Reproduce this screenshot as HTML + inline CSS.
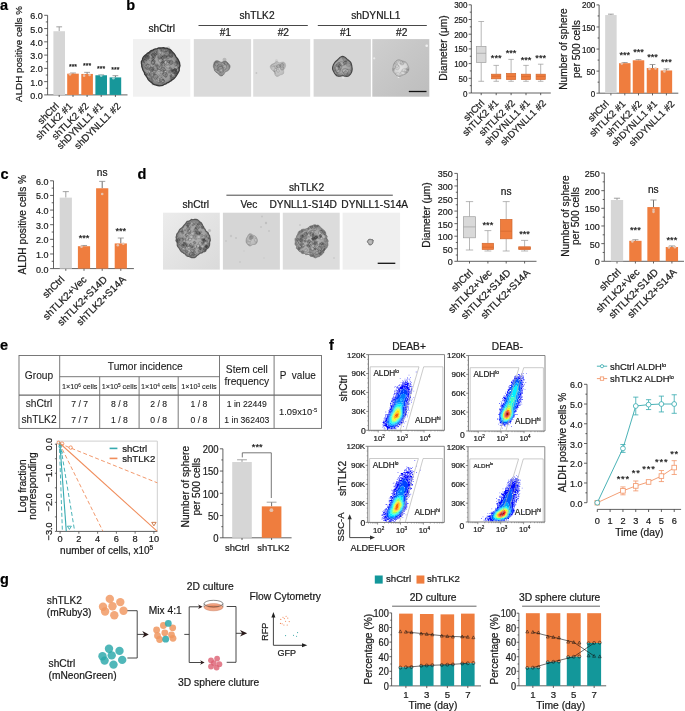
<!DOCTYPE html>
<html><head><meta charset="utf-8"><style>
html,body{margin:0;padding:0;background:#fff;}
svg{display:block;font-family:"Liberation Sans",sans-serif;filter:blur(0.3px);}
text{stroke:#1a1a1a;stroke-width:0.22px;paint-order:stroke;stroke-linejoin:round;}
.ns text{stroke-width:0.1px;}
</style></head><body>
<svg width="685" height="711" viewBox="0 0 685 711">
<defs>
<clipPath id="c0"><path d="M176.8 75.0 L175.9 76.3 L174.9 77.5 L173.8 78.7 L172.5 79.6 L171.3 80.6 L169.9 81.3 L168.7 82.3 L167.2 82.8 L165.9 84.0 L164.3 84.3 L162.8 85.3 L161.2 85.6 L159.4 85.9 L157.8 85.5 L156.1 85.1 L154.4 84.7 L152.9 83.9 L151.7 82.6 L150.4 81.7 L149.1 80.6 L148.1 79.5 L147.4 77.9 L146.5 76.6 L145.7 75.3 L144.7 74.1 L144.4 72.6 L143.6 71.2 L142.8 69.8 L142.4 68.2 L141.8 66.6 L141.7 65.0 L141.4 63.3 L141.4 61.5 L142.3 60.0 L142.7 58.3 L143.5 56.8 L144.8 55.6 L146.2 54.6 L147.3 53.4 L148.8 52.7 L150.0 51.6 L151.2 50.5 L152.7 50.1 L154.1 49.4 L155.6 48.9 L157.2 48.6 L158.7 47.9 L160.3 48.0 L161.9 47.9 L163.5 47.7 L165.1 48.1 L166.8 48.1 L168.3 48.9 L169.9 49.4 L171.2 50.4 L172.2 51.8 L173.4 52.9 L174.5 54.1 L175.3 55.5 L176.0 56.9 L177.1 58.1 L178.0 59.4 L178.7 60.9 L179.5 62.4 L179.7 64.1 L180.0 65.7 L179.5 67.4 L179.2 69.0 L179.2 70.7 L178.4 72.2 L177.6 73.6Z"/></clipPath>
<radialGradient id="r1"><stop offset="0" stop-color="#aaaaaa"/><stop offset="0.75" stop-color="#9a9a9a"/><stop offset="1" stop-color="#6e6e6e"/></radialGradient>
<clipPath id="c2"><path d="M229.9 67.5 L229.7 68.1 L229.4 68.7 L229.1 69.3 L228.8 69.8 L228.4 70.3 L227.9 70.7 L227.3 71.0 L226.7 71.3 L226.1 71.5 L225.6 71.7 L225.1 72.1 L224.8 72.5 L224.4 73.1 L224.1 73.9 L223.6 74.6 L222.9 75.3 L222.2 75.7 L221.3 75.9 L220.4 75.8 L219.6 75.3 L219.0 74.8 L218.4 74.2 L217.9 73.6 L217.4 73.1 L216.9 72.7 L216.4 72.4 L215.9 72.0 L215.4 71.6 L215.0 71.2 L214.7 70.7 L214.5 70.2 L214.3 69.6 L214.1 69.1 L214.0 68.6 L213.8 68.1 L213.6 67.5 L213.4 66.9 L213.4 66.3 L213.4 65.7 L213.5 65.1 L213.6 64.5 L213.8 63.9 L214.0 63.2 L214.2 62.5 L214.6 61.9 L215.1 61.3 L215.8 60.9 L216.6 60.7 L217.6 60.8 L218.5 61.1 L219.4 61.5 L220.1 61.9 L220.7 62.2 L221.3 62.3 L221.9 62.2 L222.5 61.9 L223.2 61.6 L224.0 61.4 L224.8 61.3 L225.6 61.3 L226.3 61.6 L226.9 61.9 L227.4 62.4 L227.9 62.9 L228.3 63.4 L228.8 63.9 L229.2 64.4 L229.6 65.0 L229.9 65.6 L230.0 66.2 L230.0 66.9Z"/></clipPath>
<radialGradient id="r3"><stop offset="0" stop-color="#a8a8a8"/><stop offset="0.75" stop-color="#999"/><stop offset="1" stop-color="#7a7a7a"/></radialGradient>
<clipPath id="c4"><path d="M284.7 68.3 L284.4 68.8 L284.0 69.3 L283.8 69.8 L283.7 70.3 L283.7 70.8 L283.7 71.4 L283.8 72.1 L283.7 72.8 L283.5 73.5 L283.1 74.0 L282.5 74.3 L281.9 74.6 L281.3 74.7 L280.7 74.8 L280.1 75.1 L279.5 75.4 L279.0 75.8 L278.3 76.2 L277.6 76.4 L276.9 76.5 L276.2 76.2 L275.6 75.7 L275.2 75.1 L274.8 74.3 L274.6 73.5 L274.5 72.9 L274.3 72.3 L274.0 71.9 L273.7 71.5 L273.3 71.2 L272.9 70.8 L272.4 70.4 L272.0 70.0 L271.5 69.5 L271.1 68.9 L270.7 68.3 L270.4 67.6 L270.2 66.9 L270.3 66.1 L270.5 65.5 L271.0 64.9 L271.6 64.4 L272.3 64.1 L273.0 63.8 L273.6 63.6 L274.1 63.3 L274.5 62.9 L274.9 62.4 L275.4 62.0 L275.9 61.7 L276.5 61.5 L277.1 61.6 L277.7 61.8 L278.3 62.2 L278.8 62.5 L279.3 62.7 L279.8 62.7 L280.4 62.6 L281.1 62.4 L281.8 62.2 L282.7 62.1 L283.5 62.1 L284.2 62.4 L284.7 62.9 L285.2 63.5 L285.4 64.2 L285.5 64.9 L285.6 65.7 L285.5 66.4 L285.3 67.1 L285.0 67.7Z"/></clipPath>
<radialGradient id="r5"><stop offset="0" stop-color="#cfcfcf"/><stop offset="0.75" stop-color="#c0c0c0"/><stop offset="1" stop-color="#b0b0b0"/></radialGradient>
<clipPath id="c6"><path d="M352.0 67.3 L352.1 68.1 L352.2 69.0 L352.1 69.9 L352.0 70.7 L351.8 71.6 L351.4 72.4 L351.0 73.2 L350.6 74.0 L350.0 74.7 L349.3 75.3 L348.6 75.9 L347.7 76.2 L346.8 76.4 L345.9 76.3 L345.0 76.2 L344.1 76.0 L343.3 75.8 L342.6 75.7 L341.9 75.8 L341.1 76.0 L340.2 76.1 L339.3 76.3 L338.4 76.3 L337.5 76.1 L336.7 75.7 L336.0 75.1 L335.4 74.5 L334.9 73.8 L334.4 73.0 L334.0 72.3 L333.6 71.5 L333.2 70.7 L332.8 69.9 L332.6 69.1 L332.5 68.2 L332.6 67.3 L332.8 66.4 L333.1 65.6 L333.4 64.8 L333.8 64.1 L334.2 63.4 L334.6 62.7 L335.1 62.1 L335.7 61.5 L336.3 61.0 L336.9 60.5 L337.5 60.0 L338.0 59.4 L338.6 58.8 L339.3 58.1 L340.0 57.4 L340.8 56.9 L341.7 56.5 L342.6 56.3 L343.5 56.5 L344.4 56.9 L345.2 57.4 L346.0 58.1 L346.6 58.7 L347.2 59.3 L347.8 59.8 L348.5 60.3 L349.1 60.8 L349.8 61.3 L350.3 61.9 L350.8 62.6 L351.1 63.3 L351.4 64.1 L351.6 64.9 L351.7 65.7 L351.9 66.5Z"/></clipPath>
<radialGradient id="r7"><stop offset="0" stop-color="#b4b4b4"/><stop offset="0.75" stop-color="#a0a0a0"/><stop offset="1" stop-color="#7a7a7a"/></radialGradient>
<linearGradient id="g8" x1="0" y1="0" x2="1" y2="1"><stop offset="0" stop-color="#cfcfcf"/><stop offset="1" stop-color="#bdbdbd"/></linearGradient>
<clipPath id="c9"><path d="M408.8 68.1 L408.9 68.8 L408.8 69.6 L408.7 70.3 L408.4 71.0 L408.0 71.6 L407.6 72.2 L407.1 72.7 L406.6 73.2 L406.0 73.6 L405.5 74.0 L404.8 74.3 L404.2 74.6 L403.6 74.8 L403.0 75.0 L402.4 75.3 L401.8 75.6 L401.2 75.9 L400.5 76.2 L399.8 76.4 L399.0 76.4 L398.3 76.4 L397.6 76.1 L396.9 75.8 L396.3 75.3 L395.8 74.8 L395.3 74.3 L394.9 73.7 L394.4 73.2 L393.9 72.7 L393.5 72.1 L393.1 71.5 L392.9 70.9 L392.7 70.2 L392.7 69.5 L392.7 68.8 L392.8 68.1 L393.0 67.4 L393.1 66.8 L393.2 66.1 L393.3 65.5 L393.5 64.8 L393.7 64.2 L394.0 63.6 L394.3 62.9 L394.7 62.3 L395.2 61.7 L395.7 61.2 L396.2 60.7 L396.9 60.3 L397.5 60.0 L398.3 59.8 L399.0 59.8 L399.8 59.9 L400.5 60.2 L401.2 60.4 L401.8 60.7 L402.4 60.9 L403.0 61.1 L403.7 61.3 L404.3 61.4 L405.0 61.7 L405.6 62.0 L406.2 62.4 L406.6 62.9 L407.0 63.5 L407.4 64.1 L407.6 64.8 L407.9 65.4 L408.2 66.0 L408.5 66.7 L408.7 67.4Z"/></clipPath>
<radialGradient id="r10"><stop offset="0" stop-color="#e2e2e2"/><stop offset="0.75" stop-color="#d4d4d4"/><stop offset="1" stop-color="#b4b4b4"/></radialGradient>
<linearGradient id="g11" x1="0" y1="0" x2="1" y2="1"><stop offset="0" stop-color="#ececec"/><stop offset="1" stop-color="#dadada"/></linearGradient>
<clipPath id="c12"><path d="M210.2 238.9 L210.3 240.6 L209.6 242.2 L209.7 243.9 L209.5 245.6 L208.8 247.1 L207.8 248.4 L206.3 249.3 L205.8 250.9 L204.6 251.8 L202.9 252.0 L201.9 253.0 L200.4 253.1 L199.3 253.9 L198.2 254.9 L197.0 255.5 L195.9 256.9 L194.5 257.7 L193.0 257.5 L191.5 257.6 L190.1 257.1 L188.8 256.5 L187.3 256.3 L186.1 255.3 L185.2 253.9 L183.9 253.4 L182.8 252.4 L181.4 251.8 L180.5 250.6 L179.6 249.3 L178.9 248.0 L177.8 246.8 L177.2 245.3 L177.2 243.6 L176.9 242.1 L175.9 240.6 L176.4 238.9 L176.0 237.2 L176.5 235.7 L176.8 234.1 L177.8 232.8 L178.6 231.4 L179.3 230.1 L180.3 229.0 L181.4 228.1 L182.5 227.2 L183.3 226.0 L184.3 225.0 L185.3 224.0 L186.2 222.6 L187.2 221.2 L188.7 221.1 L190.1 220.5 L191.5 219.3 L193.0 219.7 L194.5 219.2 L196.1 219.4 L197.6 219.7 L198.9 220.9 L200.1 222.0 L201.4 222.8 L202.2 224.2 L202.9 225.7 L203.7 227.0 L204.2 228.4 L205.2 229.4 L205.6 230.8 L206.9 231.7 L208.2 232.8 L208.6 234.3 L209.6 235.6 L209.9 237.3Z"/></clipPath>
<radialGradient id="r13"><stop offset="0" stop-color="#b2b2b2"/><stop offset="0.75" stop-color="#a2a2a2"/><stop offset="1" stop-color="#727272"/></radialGradient>
<clipPath id="c14"><path d="M257.3 240.0 L257.4 240.5 L257.3 241.0 L257.2 241.5 L257.1 242.0 L256.9 242.5 L256.7 243.0 L256.4 243.4 L256.0 243.8 L255.6 244.1 L255.1 244.3 L254.6 244.4 L254.1 244.5 L253.6 244.5 L253.1 244.5 L252.7 244.6 L252.3 244.8 L251.9 245.0 L251.5 245.3 L251.0 245.6 L250.5 245.8 L249.9 245.9 L249.4 245.8 L248.9 245.5 L248.5 245.2 L248.1 244.9 L247.7 244.5 L247.4 244.1 L247.1 243.7 L246.8 243.3 L246.5 242.9 L246.3 242.4 L246.2 241.9 L246.1 241.4 L246.1 241.0 L246.1 240.5 L246.1 240.0 L246.2 239.5 L246.3 239.1 L246.4 238.6 L246.5 238.2 L246.7 237.8 L247.0 237.4 L247.2 237.0 L247.5 236.6 L247.7 236.2 L247.9 235.7 L248.2 235.3 L248.5 234.8 L248.9 234.3 L249.3 234.0 L249.8 233.8 L250.4 233.8 L251.0 233.9 L251.5 234.1 L252.0 234.5 L252.4 234.8 L252.8 235.0 L253.2 235.2 L253.6 235.4 L254.1 235.5 L254.5 235.7 L254.9 235.9 L255.3 236.2 L255.7 236.5 L256.0 236.9 L256.2 237.3 L256.5 237.7 L256.7 238.1 L256.9 238.5 L257.1 239.0 L257.2 239.5Z"/></clipPath>
<radialGradient id="r15"><stop offset="0" stop-color="#c8c8c8"/><stop offset="0.75" stop-color="#bababa"/><stop offset="1" stop-color="#a0a0a0"/></radialGradient>
<clipPath id="c16"><path d="M328.2 241.3 L327.7 242.6 L327.9 244.0 L327.9 245.4 L327.4 246.6 L326.9 247.9 L325.5 248.7 L325.0 250.0 L324.0 250.9 L323.9 252.6 L322.7 253.4 L321.9 254.8 L320.6 255.5 L319.5 256.5 L317.9 256.8 L316.6 257.5 L315.1 258.0 L313.4 256.9 L312.0 256.4 L310.6 256.4 L309.5 254.8 L308.3 254.4 L306.9 254.6 L305.5 254.6 L304.6 253.4 L302.9 253.7 L301.5 253.2 L300.9 251.9 L299.3 251.5 L298.4 250.4 L297.5 249.2 L296.3 248.3 L296.6 246.6 L295.8 245.4 L294.9 244.2 L295.2 242.7 L295.3 241.3 L295.0 239.9 L295.2 238.5 L296.4 237.3 L296.6 236.0 L297.4 234.8 L297.9 233.5 L298.4 232.2 L299.2 231.1 L300.9 230.7 L301.6 229.5 L303.1 229.2 L304.6 229.2 L305.9 228.9 L307.1 228.4 L308.2 228.0 L309.3 226.5 L310.6 226.0 L312.0 225.8 L313.5 224.9 L315.1 224.7 L316.5 225.3 L318.3 225.0 L319.4 226.1 L320.5 227.3 L321.6 228.3 L322.7 229.2 L323.8 230.1 L324.8 231.1 L325.5 232.3 L325.8 233.7 L325.9 235.1 L327.2 236.1 L326.9 237.5 L327.0 238.8 L327.9 240.0Z"/></clipPath>
<radialGradient id="r17"><stop offset="0" stop-color="#b6b6b6"/><stop offset="0.75" stop-color="#a6a6a6"/><stop offset="1" stop-color="#808080"/></radialGradient>
<clipPath id="c18"><path d="M372.9 241.9 L372.9 242.1 L372.9 242.3 L372.9 242.6 L372.9 242.8 L372.9 243.0 L372.7 243.3 L372.6 243.4 L372.4 243.6 L372.3 243.8 L372.1 243.9 L371.9 244.1 L371.8 244.3 L371.6 244.4 L371.4 244.6 L371.2 244.7 L370.9 244.8 L370.7 244.9 L370.4 244.9 L370.1 245.0 L369.9 244.9 L369.6 244.9 L369.3 244.8 L369.1 244.6 L368.9 244.4 L368.8 244.2 L368.7 243.9 L368.7 243.6 L368.6 243.4 L368.5 243.2 L368.4 243.1 L368.2 242.9 L368.0 242.8 L367.8 242.6 L367.6 242.4 L367.4 242.2 L367.3 241.9 L367.4 241.6 L367.4 241.4 L367.5 241.1 L367.7 240.9 L367.8 240.7 L367.9 240.5 L368.0 240.2 L368.1 240.0 L368.3 239.8 L368.5 239.6 L368.7 239.5 L369.0 239.4 L369.2 239.4 L369.5 239.3 L369.7 239.3 L369.9 239.3 L370.2 239.3 L370.4 239.3 L370.6 239.4 L370.8 239.4 L371.0 239.5 L371.3 239.5 L371.5 239.6 L371.7 239.6 L372.0 239.6 L372.3 239.6 L372.6 239.7 L372.9 239.8 L373.1 240.0 L373.3 240.3 L373.3 240.5 L373.3 240.9 L373.2 241.2 L373.1 241.4 L373.0 241.7Z"/></clipPath>
<radialGradient id="r19"><stop offset="0" stop-color="#c0c0c0"/><stop offset="0.75" stop-color="#b0b0b0"/><stop offset="1" stop-color="#909090"/></radialGradient>
<filter id="tex1" x="-10%" y="-10%" width="120%" height="120%">
<feTurbulence type="fractalNoise" baseFrequency="0.45" numOctaves="2" seed="7" result="n"/>
<feColorMatrix in="n" type="matrix" values="0 0 0 0 0.15  0 0 0 0 0.15  0 0 0 0 0.15  0 0 0 -2.2 1.35" result="m"/>
<feComposite in="m" in2="SourceGraphic" operator="in" result="c"/>
<feMerge><feMergeNode in="SourceGraphic"/><feMergeNode in="c"/></feMerge>
</filter>
<filter id="tex2" x="-10%" y="-10%" width="120%" height="120%">
<feTurbulence type="fractalNoise" baseFrequency="0.6" numOctaves="2" seed="3" result="n"/>
<feColorMatrix in="n" type="matrix" values="0 0 0 0 0.4  0 0 0 0 0.4  0 0 0 0 0.4  0 0 0 -2.0 1.2" result="m"/>
<feComposite in="m" in2="SourceGraphic" operator="in" result="c"/>
<feMerge><feMergeNode in="SourceGraphic"/><feMergeNode in="c"/></feMerge>
</filter>
</defs>
<rect width="685" height="711" fill="#fff"/>
<text x="0" y="9.8" font-size="14.5" font-weight="bold" fill="#000">a</text>
<line x1="47.6" y1="94.9" x2="47.6" y2="15.3" stroke="#3a3a3a" stroke-width="0.8"/>
<line x1="44.2" y1="94.9" x2="47.6" y2="94.9" stroke="#3a3a3a" stroke-width="0.8"/>
<text x="42.7" y="98.92" font-size="9.81" text-anchor="end" fill="#1a1a1a" textLength="12.51" lengthAdjust="spacingAndGlyphs">0.0</text>
<line x1="45.8" y1="88.27" x2="47.6" y2="88.27" stroke="#3a3a3a" stroke-width="0.8"/>
<line x1="44.2" y1="81.63" x2="47.6" y2="81.63" stroke="#3a3a3a" stroke-width="0.8"/>
<text x="42.7" y="85.66" font-size="9.81" text-anchor="end" fill="#1a1a1a" textLength="12.51" lengthAdjust="spacingAndGlyphs">1.0</text>
<line x1="45.8" y1="75" x2="47.6" y2="75" stroke="#3a3a3a" stroke-width="0.8"/>
<line x1="44.2" y1="68.37" x2="47.6" y2="68.37" stroke="#3a3a3a" stroke-width="0.8"/>
<text x="42.7" y="72.39" font-size="9.81" text-anchor="end" fill="#1a1a1a" textLength="12.51" lengthAdjust="spacingAndGlyphs">2.0</text>
<line x1="45.8" y1="61.73" x2="47.6" y2="61.73" stroke="#3a3a3a" stroke-width="0.8"/>
<line x1="44.2" y1="55.1" x2="47.6" y2="55.1" stroke="#3a3a3a" stroke-width="0.8"/>
<text x="42.7" y="59.12" font-size="9.81" text-anchor="end" fill="#1a1a1a" textLength="12.51" lengthAdjust="spacingAndGlyphs">3.0</text>
<line x1="45.8" y1="48.47" x2="47.6" y2="48.47" stroke="#3a3a3a" stroke-width="0.8"/>
<line x1="44.2" y1="41.83" x2="47.6" y2="41.83" stroke="#3a3a3a" stroke-width="0.8"/>
<text x="42.7" y="45.86" font-size="9.81" text-anchor="end" fill="#1a1a1a" textLength="12.51" lengthAdjust="spacingAndGlyphs">4.0</text>
<line x1="45.8" y1="35.2" x2="47.6" y2="35.2" stroke="#3a3a3a" stroke-width="0.8"/>
<line x1="44.2" y1="28.57" x2="47.6" y2="28.57" stroke="#3a3a3a" stroke-width="0.8"/>
<text x="42.7" y="32.59" font-size="9.81" text-anchor="end" fill="#1a1a1a" textLength="12.51" lengthAdjust="spacingAndGlyphs">5.0</text>
<line x1="45.8" y1="21.93" x2="47.6" y2="21.93" stroke="#3a3a3a" stroke-width="0.8"/>
<line x1="44.2" y1="15.3" x2="47.6" y2="15.3" stroke="#3a3a3a" stroke-width="0.8"/>
<text x="42.7" y="19.32" font-size="9.81" text-anchor="end" fill="#1a1a1a" textLength="12.51" lengthAdjust="spacingAndGlyphs">6.0</text>
<text transform="translate(21.73,54) rotate(-90)" font-size="9.8" text-anchor="middle" fill="#1a1a1a">ALDH positive cells %</text>
<line x1="47.6" y1="94.9" x2="127.5" y2="94.9" stroke="#3a3a3a" stroke-width="0.8"/>
<line x1="59.2" y1="94.9" x2="59.2" y2="97" stroke="#3a3a3a" stroke-width="0.8"/>
<line x1="73" y1="94.9" x2="73" y2="97" stroke="#3a3a3a" stroke-width="0.8"/>
<line x1="87.1" y1="94.9" x2="87.1" y2="97" stroke="#3a3a3a" stroke-width="0.8"/>
<line x1="101.2" y1="94.9" x2="101.2" y2="97" stroke="#3a3a3a" stroke-width="0.8"/>
<line x1="115.4" y1="94.9" x2="115.4" y2="97" stroke="#3a3a3a" stroke-width="0.8"/>
<line x1="59.2" y1="31.22" x2="59.2" y2="26.84" stroke="#8a8a8a" stroke-width="0.8"/>
<line x1="56.3" y1="26.84" x2="62.1" y2="26.84" stroke="#8a8a8a" stroke-width="0.8"/>
<rect x="53.4" y="31.22" width="11.6" height="63.68" fill="#d6d6d6"/>
<line x1="73" y1="73.67" x2="73" y2="73.01" stroke="#4a4a4a" stroke-width="0.8"/>
<line x1="70.1" y1="73.01" x2="75.9" y2="73.01" stroke="#8c8c8c" stroke-width="0.8"/>
<rect x="67.2" y="73.67" width="11.6" height="21.23" fill="#ef7d3e"/>
<circle cx="70" cy="74.34" r="1.3" fill="#e6c2ae"/>
<line x1="87.1" y1="73.94" x2="87.1" y2="72.35" stroke="#4a4a4a" stroke-width="0.8"/>
<line x1="84.2" y1="72.35" x2="90" y2="72.35" stroke="#8c8c8c" stroke-width="0.8"/>
<rect x="81.3" y="73.94" width="11.6" height="20.96" fill="#ef7d3e"/>
<circle cx="84.1" cy="75.66" r="1.3" fill="#e6c2ae"/>
<circle cx="89.6" cy="75" r="1.3" fill="#e6c2ae"/>
<line x1="101.2" y1="75.27" x2="101.2" y2="74.87" stroke="#4a4a4a" stroke-width="0.8"/>
<line x1="98.3" y1="74.87" x2="104.1" y2="74.87" stroke="#8c8c8c" stroke-width="0.8"/>
<rect x="95.4" y="75.27" width="11.6" height="19.63" fill="#17979a"/>
<circle cx="101.2" cy="75.66" r="1.3" fill="#9fcfcf"/>
<line x1="115.4" y1="77.39" x2="115.4" y2="75.66" stroke="#4a4a4a" stroke-width="0.8"/>
<line x1="112.5" y1="75.66" x2="118.3" y2="75.66" stroke="#8c8c8c" stroke-width="0.8"/>
<rect x="109.6" y="77.39" width="11.6" height="17.51" fill="#17979a"/>
<circle cx="113.4" cy="78.32" r="1.3" fill="#9fcfcf"/>
<text x="73" y="69.44" font-size="7" text-anchor="middle" fill="#1a1a1a">***</text>
<text x="87.1" y="67.84" font-size="7" text-anchor="middle" fill="#1a1a1a">***</text>
<text x="101.2" y="70.94" font-size="7" text-anchor="middle" fill="#1a1a1a">***</text>
<text x="115.4" y="72.14" font-size="7" text-anchor="middle" fill="#1a1a1a">***</text>
<text transform="translate(59.6,106.7) rotate(-45)" font-size="9.8" text-anchor="end" fill="#1a1a1a">shCtrl</text>
<text transform="translate(73,106.7) rotate(-45)" font-size="9.8" text-anchor="end" fill="#1a1a1a">shTLK2 #1</text>
<text transform="translate(89.3,106.7) rotate(-45)" font-size="9.8" text-anchor="end" fill="#1a1a1a">shTLK2 #2</text>
<text transform="translate(103.8,106.7) rotate(-45)" font-size="9.8" text-anchor="end" fill="#1a1a1a">shDYNLL1 #1</text>
<text transform="translate(121.3,106.7) rotate(-45)" font-size="9.8" text-anchor="end" fill="#1a1a1a">shDYNLL1 #2</text>
<text x="126.3" y="9.8" font-size="14.5" font-weight="bold" fill="#000">b</text>
<text x="161.7" y="32.3" font-size="10.2" text-anchor="middle" fill="#1a1a1a">shCtrl</text>
<text x="257" y="18.6" font-size="10.2" text-anchor="middle" fill="#1a1a1a">shTLK2</text>
<text x="375.9" y="18.6" font-size="10.2" text-anchor="middle" fill="#1a1a1a">shDYNLL1</text>
<line x1="198.5" y1="25.5" x2="307.8" y2="25.5" stroke="#333" stroke-width="0.9"/>
<line x1="317.8" y1="25.5" x2="426.8" y2="25.5" stroke="#333" stroke-width="0.9"/>
<text x="225.3" y="36.2" font-size="10.2" text-anchor="middle" fill="#1a1a1a">#1</text>
<text x="283.3" y="36.2" font-size="10.2" text-anchor="middle" fill="#1a1a1a">#2</text>
<text x="345.6" y="36.2" font-size="10.2" text-anchor="middle" fill="#1a1a1a">#1</text>
<text x="401.7" y="36.2" font-size="10.2" text-anchor="middle" fill="#1a1a1a">#2</text>
<rect x="133" y="39.1" width="57.3" height="57.6" fill="#f1f1f1"/>
<circle cx="168.5" cy="47.8" r="1.6" fill="#d0d0d0"/>
<circle cx="153" cy="84" r="1.6" fill="#d8d8d8"/>
<path d="M176.8 75.0 L175.9 76.3 L174.9 77.5 L173.8 78.7 L172.5 79.6 L171.3 80.6 L169.9 81.3 L168.7 82.3 L167.2 82.8 L165.9 84.0 L164.3 84.3 L162.8 85.3 L161.2 85.6 L159.4 85.9 L157.8 85.5 L156.1 85.1 L154.4 84.7 L152.9 83.9 L151.7 82.6 L150.4 81.7 L149.1 80.6 L148.1 79.5 L147.4 77.9 L146.5 76.6 L145.7 75.3 L144.7 74.1 L144.4 72.6 L143.6 71.2 L142.8 69.8 L142.4 68.2 L141.8 66.6 L141.7 65.0 L141.4 63.3 L141.4 61.5 L142.3 60.0 L142.7 58.3 L143.5 56.8 L144.8 55.6 L146.2 54.6 L147.3 53.4 L148.8 52.7 L150.0 51.6 L151.2 50.5 L152.7 50.1 L154.1 49.4 L155.6 48.9 L157.2 48.6 L158.7 47.9 L160.3 48.0 L161.9 47.9 L163.5 47.7 L165.1 48.1 L166.8 48.1 L168.3 48.9 L169.9 49.4 L171.2 50.4 L172.2 51.8 L173.4 52.9 L174.5 54.1 L175.3 55.5 L176.0 56.9 L177.1 58.1 L178.0 59.4 L178.7 60.9 L179.5 62.4 L179.7 64.1 L180.0 65.7 L179.5 67.4 L179.2 69.0 L179.2 70.7 L178.4 72.2 L177.6 73.6Z" fill="url(#r1)"/>
<g clip-path="url(#c0)" fill="none">
<ellipse cx="146.72" cy="64.75" rx="1.05" ry="0.7" transform="rotate(137 146.72 64.75)" stroke="#333" stroke-opacity="0.54" stroke-width="0.5" fill="#fff" fill-opacity="0.2"/>
<ellipse cx="159.26" cy="58.22" rx="1.89" ry="1.4" transform="rotate(49 159.26 58.22)" stroke="#333" stroke-opacity="0.26" stroke-width="0.5" fill="#000" fill-opacity="0.13"/>
<ellipse cx="146.42" cy="58.2" rx="2.56" ry="2.17" transform="rotate(138 146.42 58.2)" stroke="#333" stroke-opacity="0.49" stroke-width="0.5" fill="#000" fill-opacity="0.04"/>
<ellipse cx="165.91" cy="72.33" rx="2.59" ry="2.09" transform="rotate(28 165.91 72.33)" stroke="#333" stroke-opacity="0.4" stroke-width="0.5" fill="#fff" fill-opacity="0.17"/>
<ellipse cx="162.99" cy="61.8" rx="1.36" ry="1.19" transform="rotate(143 162.99 61.8)" stroke="#333" stroke-opacity="0.37" stroke-width="0.5" fill="#000" fill-opacity="0.19"/>
<ellipse cx="143.35" cy="61.96" rx="1.16" ry="0.74" transform="rotate(124 143.35 61.96)" stroke="#333" stroke-opacity="0.39" stroke-width="0.5" fill="#000" fill-opacity="0.04"/>
<ellipse cx="166.73" cy="60.19" rx="1.01" ry="0.79" transform="rotate(26 166.73 60.19)" stroke="#333" stroke-opacity="0.49" stroke-width="0.5" fill="#000" fill-opacity="0.04"/>
<ellipse cx="163" cy="80.12" rx="1.19" ry="0.95" transform="rotate(92 163 80.12)" stroke="#333" stroke-opacity="0.49" stroke-width="0.5" fill="#000" fill-opacity="0.12"/>
<ellipse cx="144.6" cy="60.83" rx="2.06" ry="1.47" transform="rotate(120 144.6 60.83)" stroke="#333" stroke-opacity="0.52" stroke-width="0.5" fill="#000" fill-opacity="0.15"/>
<ellipse cx="147.56" cy="53.75" rx="2.26" ry="1.66" transform="rotate(82 147.56 53.75)" stroke="#333" stroke-opacity="0.32" stroke-width="0.5" fill="#000" fill-opacity="0.13"/>
<ellipse cx="160.65" cy="60.5" rx="2.26" ry="1.97" transform="rotate(23 160.65 60.5)" stroke="#333" stroke-opacity="0.45" stroke-width="0.5" fill="#fff" fill-opacity="0.12"/>
<ellipse cx="161.48" cy="64.59" rx="2.11" ry="1.58" transform="rotate(82 161.48 64.59)" stroke="#333" stroke-opacity="0.28" stroke-width="0.5" fill="#000" fill-opacity="0.15"/>
<ellipse cx="159.16" cy="67.69" rx="2.35" ry="1.77" transform="rotate(24 159.16 67.69)" stroke="#333" stroke-opacity="0.37" stroke-width="0.5" fill="#000" fill-opacity="0.05"/>
<ellipse cx="160.38" cy="76.73" rx="1.81" ry="1.51" transform="rotate(152 160.38 76.73)" stroke="#333" stroke-opacity="0.35" stroke-width="0.5" fill="#fff" fill-opacity="0.05"/>
<ellipse cx="171.05" cy="62.4" rx="2.17" ry="2.1" transform="rotate(146 171.05 62.4)" stroke="#333" stroke-opacity="0.54" stroke-width="0.5" fill="#000" fill-opacity="0.21"/>
<ellipse cx="165.84" cy="76.2" rx="1.31" ry="1.05" transform="rotate(96 165.84 76.2)" stroke="#333" stroke-opacity="0.32" stroke-width="0.5" fill="#000" fill-opacity="0.19"/>
<ellipse cx="152.36" cy="75.23" rx="1.57" ry="1.09" transform="rotate(54 152.36 75.23)" stroke="#333" stroke-opacity="0.48" stroke-width="0.5" fill="#fff" fill-opacity="0.06"/>
<ellipse cx="153.34" cy="58.36" rx="1.33" ry="0.9" transform="rotate(42 153.34 58.36)" stroke="#333" stroke-opacity="0.44" stroke-width="0.5" fill="#000" fill-opacity="0.04"/>
<ellipse cx="165.52" cy="62.33" rx="2" ry="1.28" transform="rotate(108 165.52 62.33)" stroke="#333" stroke-opacity="0.53" stroke-width="0.5" fill="#fff" fill-opacity="0.2"/>
<ellipse cx="163.74" cy="50.74" rx="2.33" ry="1.59" transform="rotate(11 163.74 50.74)" stroke="#333" stroke-opacity="0.52" stroke-width="0.5" fill="#fff" fill-opacity="0.2"/>
<ellipse cx="158.36" cy="80.18" rx="2.46" ry="2.45" transform="rotate(34 158.36 80.18)" stroke="#333" stroke-opacity="0.33" stroke-width="0.5" fill="#fff" fill-opacity="0.14"/>
<ellipse cx="153.7" cy="54.92" rx="2.25" ry="2.18" transform="rotate(55 153.7 54.92)" stroke="#333" stroke-opacity="0.47" stroke-width="0.5" fill="#000" fill-opacity="0.07"/>
<ellipse cx="159.08" cy="49.65" rx="2.4" ry="1.73" transform="rotate(68 159.08 49.65)" stroke="#333" stroke-opacity="0.47" stroke-width="0.5" fill="#fff" fill-opacity="0.15"/>
<ellipse cx="173.21" cy="75.53" rx="2.54" ry="2.14" transform="rotate(119 173.21 75.53)" stroke="#333" stroke-opacity="0.39" stroke-width="0.5" fill="#fff" fill-opacity="0.06"/>
<ellipse cx="160.81" cy="66.83" rx="1.36" ry="1.33" transform="rotate(74 160.81 66.83)" stroke="#333" stroke-opacity="0.33" stroke-width="0.5" fill="#fff" fill-opacity="0.07"/>
<ellipse cx="147.65" cy="79.08" rx="2.1" ry="1.91" transform="rotate(25 147.65 79.08)" stroke="#333" stroke-opacity="0.51" stroke-width="0.5" fill="#fff" fill-opacity="0.15"/>
<ellipse cx="152.73" cy="68.62" rx="2.01" ry="1.22" transform="rotate(172 152.73 68.62)" stroke="#333" stroke-opacity="0.43" stroke-width="0.5" fill="#fff" fill-opacity="0.11"/>
<ellipse cx="159.52" cy="78.57" rx="2.57" ry="2.32" transform="rotate(70 159.52 78.57)" stroke="#333" stroke-opacity="0.33" stroke-width="0.5" fill="#fff" fill-opacity="0.1"/>
<ellipse cx="157.5" cy="67.2" rx="2" ry="1.9" transform="rotate(71 157.5 67.2)" stroke="#333" stroke-opacity="0.34" stroke-width="0.5" fill="#000" fill-opacity="0.1"/>
<ellipse cx="172.93" cy="52.74" rx="1.2" ry="1.09" transform="rotate(167 172.93 52.74)" stroke="#333" stroke-opacity="0.46" stroke-width="0.5" fill="#fff" fill-opacity="0.21"/>
<ellipse cx="159.17" cy="60.28" rx="1.65" ry="0.99" transform="rotate(52 159.17 60.28)" stroke="#333" stroke-opacity="0.28" stroke-width="0.5" fill="#fff" fill-opacity="0.16"/>
<ellipse cx="162.67" cy="52.94" rx="1.18" ry="0.9" transform="rotate(160 162.67 52.94)" stroke="#333" stroke-opacity="0.32" stroke-width="0.5" fill="#fff" fill-opacity="0.2"/>
<ellipse cx="167.9" cy="66.46" rx="2.12" ry="1.73" transform="rotate(176 167.9 66.46)" stroke="#333" stroke-opacity="0.43" stroke-width="0.5" fill="#fff" fill-opacity="0.09"/>
<ellipse cx="168.11" cy="56.95" rx="1.92" ry="1.68" transform="rotate(115 168.11 56.95)" stroke="#333" stroke-opacity="0.5" stroke-width="0.5" fill="#000" fill-opacity="0.09"/>
<ellipse cx="161.32" cy="56.3" rx="1.34" ry="0.88" transform="rotate(53 161.32 56.3)" stroke="#333" stroke-opacity="0.25" stroke-width="0.5" fill="#fff" fill-opacity="0.1"/>
<ellipse cx="166.28" cy="49.5" rx="2.21" ry="1.92" transform="rotate(121 166.28 49.5)" stroke="#333" stroke-opacity="0.31" stroke-width="0.5" fill="#fff" fill-opacity="0.04"/>
<ellipse cx="167.52" cy="63.83" rx="1.36" ry="1.3" transform="rotate(69 167.52 63.83)" stroke="#333" stroke-opacity="0.28" stroke-width="0.5" fill="#fff" fill-opacity="0.09"/>
<ellipse cx="153.19" cy="62.27" rx="2.48" ry="1.74" transform="rotate(125 153.19 62.27)" stroke="#333" stroke-opacity="0.58" stroke-width="0.5" fill="#fff" fill-opacity="0.13"/>
<ellipse cx="151.7" cy="80.7" rx="1.6" ry="1.53" transform="rotate(115 151.7 80.7)" stroke="#333" stroke-opacity="0.38" stroke-width="0.5" fill="#000" fill-opacity="0.11"/>
<ellipse cx="170.99" cy="75.78" rx="1.29" ry="1.02" transform="rotate(142 170.99 75.78)" stroke="#333" stroke-opacity="0.5" stroke-width="0.5" fill="#000" fill-opacity="0.21"/>
<ellipse cx="164.49" cy="69.84" rx="1.33" ry="1.31" transform="rotate(110 164.49 69.84)" stroke="#333" stroke-opacity="0.42" stroke-width="0.5" fill="#fff" fill-opacity="0.14"/>
<ellipse cx="146.76" cy="67.4" rx="2.34" ry="1.87" transform="rotate(65 146.76 67.4)" stroke="#333" stroke-opacity="0.47" stroke-width="0.5" fill="#fff" fill-opacity="0.15"/>
<ellipse cx="161.89" cy="48.44" rx="2.54" ry="2.51" transform="rotate(143 161.89 48.44)" stroke="#333" stroke-opacity="0.29" stroke-width="0.5" fill="#000" fill-opacity="0.07"/>
<ellipse cx="162.94" cy="81.18" rx="1.76" ry="1.56" transform="rotate(140 162.94 81.18)" stroke="#333" stroke-opacity="0.57" stroke-width="0.5" fill="#fff" fill-opacity="0.16"/>
<ellipse cx="149.55" cy="51.53" rx="1.97" ry="1.34" transform="rotate(95 149.55 51.53)" stroke="#333" stroke-opacity="0.45" stroke-width="0.5" fill="#000" fill-opacity="0.16"/>
<ellipse cx="148.42" cy="67.79" rx="1.19" ry="0.93" transform="rotate(35 148.42 67.79)" stroke="#333" stroke-opacity="0.58" stroke-width="0.5" fill="#000" fill-opacity="0.07"/>
<ellipse cx="172.88" cy="78.66" rx="1.44" ry="1.32" transform="rotate(38 172.88 78.66)" stroke="#333" stroke-opacity="0.55" stroke-width="0.5" fill="#fff" fill-opacity="0.19"/>
<ellipse cx="178.81" cy="70.1" rx="2.55" ry="2.52" transform="rotate(76 178.81 70.1)" stroke="#333" stroke-opacity="0.59" stroke-width="0.5" fill="#fff" fill-opacity="0.14"/>
<ellipse cx="152.26" cy="50.3" rx="1.85" ry="1.47" transform="rotate(155 152.26 50.3)" stroke="#333" stroke-opacity="0.34" stroke-width="0.5" fill="#000" fill-opacity="0.13"/>
<ellipse cx="162.93" cy="63.84" rx="2.43" ry="1.56" transform="rotate(47 162.93 63.84)" stroke="#333" stroke-opacity="0.57" stroke-width="0.5" fill="#000" fill-opacity="0.04"/>
<ellipse cx="151.6" cy="77.76" rx="1.22" ry="1.13" transform="rotate(124 151.6 77.76)" stroke="#333" stroke-opacity="0.26" stroke-width="0.5" fill="#000" fill-opacity="0.14"/>
<ellipse cx="163.06" cy="81.2" rx="1.53" ry="1.39" transform="rotate(106 163.06 81.2)" stroke="#333" stroke-opacity="0.35" stroke-width="0.5" fill="#fff" fill-opacity="0.1"/>
<ellipse cx="162.13" cy="71.99" rx="2.09" ry="1.71" transform="rotate(133 162.13 71.99)" stroke="#333" stroke-opacity="0.49" stroke-width="0.5" fill="#fff" fill-opacity="0.15"/>
<ellipse cx="169.66" cy="52.57" rx="1.11" ry="0.83" transform="rotate(126 169.66 52.57)" stroke="#333" stroke-opacity="0.31" stroke-width="0.5" fill="#000" fill-opacity="0.21"/>
<ellipse cx="168.1" cy="71.22" rx="1" ry="0.81" transform="rotate(150 168.1 71.22)" stroke="#333" stroke-opacity="0.32" stroke-width="0.5" fill="#fff" fill-opacity="0.13"/>
<ellipse cx="170.45" cy="71.56" rx="1.8" ry="1.65" transform="rotate(130 170.45 71.56)" stroke="#333" stroke-opacity="0.25" stroke-width="0.5" fill="#000" fill-opacity="0.18"/>
<ellipse cx="170.11" cy="51.1" rx="1.58" ry="1.28" transform="rotate(148 170.11 51.1)" stroke="#333" stroke-opacity="0.35" stroke-width="0.5" fill="#000" fill-opacity="0.21"/>
<ellipse cx="164.2" cy="74.04" rx="1.91" ry="1.84" transform="rotate(161 164.2 74.04)" stroke="#333" stroke-opacity="0.36" stroke-width="0.5" fill="#000" fill-opacity="0.09"/>
<ellipse cx="175.89" cy="63.75" rx="1.93" ry="1.92" transform="rotate(106 175.89 63.75)" stroke="#333" stroke-opacity="0.44" stroke-width="0.5" fill="#000" fill-opacity="0.05"/>
<ellipse cx="174" cy="71.91" rx="2.22" ry="1.45" transform="rotate(59 174 71.91)" stroke="#333" stroke-opacity="0.28" stroke-width="0.5" fill="#fff" fill-opacity="0.1"/>
<ellipse cx="146.62" cy="67.91" rx="1.07" ry="1.04" transform="rotate(168 146.62 67.91)" stroke="#333" stroke-opacity="0.59" stroke-width="0.5" fill="#000" fill-opacity="0.15"/>
<ellipse cx="177.59" cy="62.94" rx="2.02" ry="1.92" transform="rotate(73 177.59 62.94)" stroke="#333" stroke-opacity="0.25" stroke-width="0.5" fill="#000" fill-opacity="0.05"/>
<ellipse cx="154.26" cy="74.05" rx="1.26" ry="0.93" transform="rotate(32 154.26 74.05)" stroke="#333" stroke-opacity="0.45" stroke-width="0.5" fill="#000" fill-opacity="0.2"/>
<ellipse cx="155.29" cy="78.54" rx="1.15" ry="0.87" transform="rotate(132 155.29 78.54)" stroke="#333" stroke-opacity="0.26" stroke-width="0.5" fill="#fff" fill-opacity="0.12"/>
<ellipse cx="163.04" cy="65.52" rx="2.22" ry="1.59" transform="rotate(54 163.04 65.52)" stroke="#333" stroke-opacity="0.43" stroke-width="0.5" fill="#fff" fill-opacity="0.06"/>
<ellipse cx="155.52" cy="67.13" rx="1.13" ry="0.98" transform="rotate(30 155.52 67.13)" stroke="#333" stroke-opacity="0.27" stroke-width="0.5" fill="#fff" fill-opacity="0.08"/>
<ellipse cx="163.64" cy="49.79" rx="1.96" ry="1.53" transform="rotate(38 163.64 49.79)" stroke="#333" stroke-opacity="0.37" stroke-width="0.5" fill="#fff" fill-opacity="0.18"/>
<ellipse cx="147.98" cy="74.84" rx="1.34" ry="1.04" transform="rotate(148 147.98 74.84)" stroke="#333" stroke-opacity="0.46" stroke-width="0.5" fill="#fff" fill-opacity="0.16"/>
<ellipse cx="146.63" cy="56.81" rx="1.53" ry="1.09" transform="rotate(19 146.63 56.81)" stroke="#333" stroke-opacity="0.42" stroke-width="0.5" fill="#000" fill-opacity="0.06"/>
<ellipse cx="145.4" cy="61.43" rx="1.63" ry="1.45" transform="rotate(85 145.4 61.43)" stroke="#333" stroke-opacity="0.29" stroke-width="0.5" fill="#fff" fill-opacity="0.15"/>
<ellipse cx="161.6" cy="56.8" rx="1.08" ry="0.74" transform="rotate(147 161.6 56.8)" stroke="#333" stroke-opacity="0.35" stroke-width="0.5" fill="#000" fill-opacity="0.03"/>
<ellipse cx="178.69" cy="62.07" rx="1.41" ry="1.41" transform="rotate(174 178.69 62.07)" stroke="#333" stroke-opacity="0.28" stroke-width="0.5" fill="#fff" fill-opacity="0.05"/>
<ellipse cx="178.88" cy="67.93" rx="1.03" ry="0.62" transform="rotate(104 178.88 67.93)" stroke="#333" stroke-opacity="0.46" stroke-width="0.5" fill="#000" fill-opacity="0.16"/>
<ellipse cx="175.41" cy="69.52" rx="1.02" ry="0.79" transform="rotate(160 175.41 69.52)" stroke="#333" stroke-opacity="0.52" stroke-width="0.5" fill="#fff" fill-opacity="0.12"/>
<ellipse cx="158.9" cy="80.69" rx="2.03" ry="1.61" transform="rotate(62 158.9 80.69)" stroke="#333" stroke-opacity="0.35" stroke-width="0.5" fill="#fff" fill-opacity="0.04"/>
<ellipse cx="177.38" cy="60.55" rx="1.51" ry="1.35" transform="rotate(41 177.38 60.55)" stroke="#333" stroke-opacity="0.5" stroke-width="0.5" fill="#fff" fill-opacity="0.07"/>
<ellipse cx="170.62" cy="68.48" rx="1.4" ry="0.87" transform="rotate(10 170.62 68.48)" stroke="#333" stroke-opacity="0.31" stroke-width="0.5" fill="#000" fill-opacity="0.19"/>
<ellipse cx="166.8" cy="54.82" rx="2.44" ry="1.7" transform="rotate(14 166.8 54.82)" stroke="#333" stroke-opacity="0.4" stroke-width="0.5" fill="#000" fill-opacity="0.11"/>
<ellipse cx="156.71" cy="64.82" rx="1.5" ry="0.94" transform="rotate(173 156.71 64.82)" stroke="#333" stroke-opacity="0.38" stroke-width="0.5" fill="#000" fill-opacity="0.17"/>
<ellipse cx="168.89" cy="61.51" rx="1.16" ry="1.16" transform="rotate(57 168.89 61.51)" stroke="#333" stroke-opacity="0.59" stroke-width="0.5" fill="#000" fill-opacity="0.11"/>
<ellipse cx="151.26" cy="74.23" rx="1.77" ry="1.51" transform="rotate(1 151.26 74.23)" stroke="#333" stroke-opacity="0.28" stroke-width="0.5" fill="#fff" fill-opacity="0.16"/>
<ellipse cx="163.21" cy="57.55" rx="2.33" ry="1.44" transform="rotate(144 163.21 57.55)" stroke="#333" stroke-opacity="0.56" stroke-width="0.5" fill="#000" fill-opacity="0.12"/>
<ellipse cx="148.41" cy="66.89" rx="1.63" ry="1.41" transform="rotate(78 148.41 66.89)" stroke="#333" stroke-opacity="0.31" stroke-width="0.5" fill="#000" fill-opacity="0.1"/>
<ellipse cx="155.46" cy="76.66" rx="2.56" ry="2.38" transform="rotate(58 155.46 76.66)" stroke="#333" stroke-opacity="0.39" stroke-width="0.5" fill="#000" fill-opacity="0.12"/>
<ellipse cx="150.26" cy="79.79" rx="2.22" ry="1.64" transform="rotate(108 150.26 79.79)" stroke="#333" stroke-opacity="0.3" stroke-width="0.5" fill="#fff" fill-opacity="0.07"/>
<ellipse cx="164.94" cy="72.34" rx="1.96" ry="1.95" transform="rotate(21 164.94 72.34)" stroke="#333" stroke-opacity="0.47" stroke-width="0.5" fill="#fff" fill-opacity="0.11"/>
<ellipse cx="166.02" cy="49.69" rx="2.34" ry="1.97" transform="rotate(170 166.02 49.69)" stroke="#333" stroke-opacity="0.36" stroke-width="0.5" fill="#fff" fill-opacity="0.04"/>
<ellipse cx="171.52" cy="78.26" rx="1.62" ry="1.44" transform="rotate(25 171.52 78.26)" stroke="#333" stroke-opacity="0.48" stroke-width="0.5" fill="#000" fill-opacity="0.12"/>
<ellipse cx="152.95" cy="55.09" rx="1.74" ry="1.06" transform="rotate(14 152.95 55.09)" stroke="#333" stroke-opacity="0.53" stroke-width="0.5" fill="#000" fill-opacity="0.08"/>
<ellipse cx="176.09" cy="67.66" rx="1.95" ry="1.63" transform="rotate(143 176.09 67.66)" stroke="#333" stroke-opacity="0.4" stroke-width="0.5" fill="#fff" fill-opacity="0.18"/>
<ellipse cx="144.63" cy="75.56" rx="1.13" ry="1.09" transform="rotate(23 144.63 75.56)" stroke="#333" stroke-opacity="0.38" stroke-width="0.5" fill="#000" fill-opacity="0.11"/>
<ellipse cx="165.07" cy="50.32" rx="2.31" ry="1.76" transform="rotate(16 165.07 50.32)" stroke="#333" stroke-opacity="0.43" stroke-width="0.5" fill="#000" fill-opacity="0.05"/>
<ellipse cx="153.6" cy="60.81" rx="1.53" ry="1.02" transform="rotate(34 153.6 60.81)" stroke="#333" stroke-opacity="0.54" stroke-width="0.5" fill="#000" fill-opacity="0.06"/>
<ellipse cx="148.66" cy="73.95" rx="1.33" ry="0.98" transform="rotate(63 148.66 73.95)" stroke="#333" stroke-opacity="0.47" stroke-width="0.5" fill="#fff" fill-opacity="0.16"/>
<ellipse cx="148.39" cy="76.95" rx="2.23" ry="1.52" transform="rotate(16 148.39 76.95)" stroke="#333" stroke-opacity="0.27" stroke-width="0.5" fill="#fff" fill-opacity="0.22"/>
<ellipse cx="168.05" cy="55.99" rx="1.07" ry="0.9" transform="rotate(11 168.05 55.99)" stroke="#333" stroke-opacity="0.38" stroke-width="0.5" fill="#fff" fill-opacity="0.11"/>
<ellipse cx="150.76" cy="59.48" rx="1.95" ry="1.52" transform="rotate(178 150.76 59.48)" stroke="#333" stroke-opacity="0.48" stroke-width="0.5" fill="#fff" fill-opacity="0.09"/>
<ellipse cx="147.49" cy="57.27" rx="2.16" ry="1.57" transform="rotate(150 147.49 57.27)" stroke="#333" stroke-opacity="0.56" stroke-width="0.5" fill="#000" fill-opacity="0.16"/>
<ellipse cx="175.05" cy="77.97" rx="2.41" ry="1.8" transform="rotate(83 175.05 77.97)" stroke="#333" stroke-opacity="0.57" stroke-width="0.5" fill="#fff" fill-opacity="0.1"/>
<ellipse cx="156.99" cy="53.37" rx="1.46" ry="0.9" transform="rotate(156 156.99 53.37)" stroke="#333" stroke-opacity="0.59" stroke-width="0.5" fill="#000" fill-opacity="0.16"/>
<ellipse cx="166.04" cy="73.42" rx="1.07" ry="1.01" transform="rotate(68 166.04 73.42)" stroke="#333" stroke-opacity="0.47" stroke-width="0.5" fill="#000" fill-opacity="0.06"/>
<ellipse cx="174.73" cy="70.48" rx="2.26" ry="1.54" transform="rotate(118 174.73 70.48)" stroke="#333" stroke-opacity="0.47" stroke-width="0.5" fill="#000" fill-opacity="0.22"/>
<ellipse cx="150.25" cy="77.72" rx="1.34" ry="1.2" transform="rotate(151 150.25 77.72)" stroke="#333" stroke-opacity="0.44" stroke-width="0.5" fill="#fff" fill-opacity="0.13"/>
<ellipse cx="162.93" cy="69.43" rx="2.42" ry="2.38" transform="rotate(138 162.93 69.43)" stroke="#333" stroke-opacity="0.33" stroke-width="0.5" fill="#000" fill-opacity="0.17"/>
<ellipse cx="172.79" cy="70.67" rx="1.09" ry="0.67" transform="rotate(139 172.79 70.67)" stroke="#333" stroke-opacity="0.53" stroke-width="0.5" fill="#fff" fill-opacity="0.04"/>
<ellipse cx="161.59" cy="81.18" rx="2.04" ry="1.86" transform="rotate(6 161.59 81.18)" stroke="#333" stroke-opacity="0.48" stroke-width="0.5" fill="#fff" fill-opacity="0.06"/>
<ellipse cx="162.5" cy="57.72" rx="1.42" ry="0.89" transform="rotate(75 162.5 57.72)" stroke="#333" stroke-opacity="0.3" stroke-width="0.5" fill="#000" fill-opacity="0.12"/>
<ellipse cx="155.88" cy="53.29" rx="2.37" ry="1.47" transform="rotate(128 155.88 53.29)" stroke="#333" stroke-opacity="0.58" stroke-width="0.5" fill="#000" fill-opacity="0.07"/>
<ellipse cx="171.5" cy="56.4" rx="1.24" ry="0.93" transform="rotate(93 171.5 56.4)" stroke="#333" stroke-opacity="0.39" stroke-width="0.5" fill="#000" fill-opacity="0.09"/>
<ellipse cx="177.39" cy="73.71" rx="1.04" ry="0.64" transform="rotate(33 177.39 73.71)" stroke="#333" stroke-opacity="0.54" stroke-width="0.5" fill="#000" fill-opacity="0.19"/>
<ellipse cx="171.85" cy="70.18" rx="1.26" ry="0.9" transform="rotate(131 171.85 70.18)" stroke="#333" stroke-opacity="0.45" stroke-width="0.5" fill="#000" fill-opacity="0.21"/>
<ellipse cx="171.1" cy="54.98" rx="2.3" ry="1.95" transform="rotate(96 171.1 54.98)" stroke="#333" stroke-opacity="0.56" stroke-width="0.5" fill="#000" fill-opacity="0.18"/>
<ellipse cx="158.95" cy="71.84" rx="2.38" ry="2.09" transform="rotate(56 158.95 71.84)" stroke="#333" stroke-opacity="0.25" stroke-width="0.5" fill="#fff" fill-opacity="0.11"/>
<ellipse cx="153.67" cy="55.89" rx="2.55" ry="1.63" transform="rotate(64 153.67 55.89)" stroke="#333" stroke-opacity="0.42" stroke-width="0.5" fill="#000" fill-opacity="0.1"/>
<ellipse cx="155.21" cy="68.25" rx="2.52" ry="2.21" transform="rotate(87 155.21 68.25)" stroke="#333" stroke-opacity="0.59" stroke-width="0.5" fill="#fff" fill-opacity="0.06"/>
<ellipse cx="160.21" cy="79.86" rx="1.11" ry="0.79" transform="rotate(106 160.21 79.86)" stroke="#333" stroke-opacity="0.4" stroke-width="0.5" fill="#000" fill-opacity="0.1"/>
<ellipse cx="158.69" cy="70.37" rx="1.56" ry="1.08" transform="rotate(24 158.69 70.37)" stroke="#333" stroke-opacity="0.45" stroke-width="0.5" fill="#fff" fill-opacity="0.05"/>
<ellipse cx="154.33" cy="64.06" rx="1.03" ry="0.78" transform="rotate(157 154.33 64.06)" stroke="#333" stroke-opacity="0.35" stroke-width="0.5" fill="#000" fill-opacity="0.17"/>
<ellipse cx="176.2" cy="73.25" rx="2.11" ry="1.33" transform="rotate(129 176.2 73.25)" stroke="#333" stroke-opacity="0.3" stroke-width="0.5" fill="#000" fill-opacity="0.12"/>
<ellipse cx="142.7" cy="62.91" rx="2.1" ry="1.67" transform="rotate(62 142.7 62.91)" stroke="#333" stroke-opacity="0.33" stroke-width="0.5" fill="#fff" fill-opacity="0.12"/>
<ellipse cx="147.49" cy="65.26" rx="1.49" ry="0.97" transform="rotate(105 147.49 65.26)" stroke="#333" stroke-opacity="0.59" stroke-width="0.5" fill="#fff" fill-opacity="0.08"/>
<ellipse cx="147.45" cy="76.59" rx="2.59" ry="2.17" transform="rotate(157 147.45 76.59)" stroke="#333" stroke-opacity="0.26" stroke-width="0.5" fill="#000" fill-opacity="0.05"/>
<ellipse cx="153.99" cy="70.58" rx="2.48" ry="1.78" transform="rotate(51 153.99 70.58)" stroke="#333" stroke-opacity="0.51" stroke-width="0.5" fill="#000" fill-opacity="0.07"/>
<ellipse cx="161.15" cy="79.66" rx="2.14" ry="1.79" transform="rotate(106 161.15 79.66)" stroke="#333" stroke-opacity="0.44" stroke-width="0.5" fill="#fff" fill-opacity="0.14"/>
<ellipse cx="152.57" cy="58.77" rx="1.9" ry="1.33" transform="rotate(131 152.57 58.77)" stroke="#333" stroke-opacity="0.29" stroke-width="0.5" fill="#000" fill-opacity="0.11"/>
<ellipse cx="164.84" cy="56.57" rx="2.44" ry="1.58" transform="rotate(30 164.84 56.57)" stroke="#333" stroke-opacity="0.41" stroke-width="0.5" fill="#000" fill-opacity="0.16"/>
<ellipse cx="150.35" cy="73.83" rx="1.5" ry="1.04" transform="rotate(93 150.35 73.83)" stroke="#333" stroke-opacity="0.53" stroke-width="0.5" fill="#000" fill-opacity="0.09"/>
<ellipse cx="159.03" cy="52.82" rx="2.37" ry="2.35" transform="rotate(45 159.03 52.82)" stroke="#333" stroke-opacity="0.25" stroke-width="0.5" fill="#fff" fill-opacity="0.17"/>
<ellipse cx="177.74" cy="61.75" rx="2.17" ry="1.86" transform="rotate(173 177.74 61.75)" stroke="#333" stroke-opacity="0.33" stroke-width="0.5" fill="#000" fill-opacity="0.12"/>
<ellipse cx="149.64" cy="71.79" rx="1.7" ry="1.29" transform="rotate(77 149.64 71.79)" stroke="#333" stroke-opacity="0.28" stroke-width="0.5" fill="#fff" fill-opacity="0.16"/>
<ellipse cx="155.59" cy="52.04" rx="1.17" ry="1.09" transform="rotate(1 155.59 52.04)" stroke="#333" stroke-opacity="0.48" stroke-width="0.5" fill="#fff" fill-opacity="0.14"/>
<ellipse cx="159.55" cy="56.08" rx="2.53" ry="1.9" transform="rotate(87 159.55 56.08)" stroke="#333" stroke-opacity="0.43" stroke-width="0.5" fill="#000" fill-opacity="0.09"/>
<ellipse cx="145.45" cy="74.14" rx="1.52" ry="1.44" transform="rotate(66 145.45 74.14)" stroke="#333" stroke-opacity="0.59" stroke-width="0.5" fill="#000" fill-opacity="0.11"/>
<ellipse cx="162.84" cy="60.89" rx="1.53" ry="1.44" transform="rotate(31 162.84 60.89)" stroke="#333" stroke-opacity="0.36" stroke-width="0.5" fill="#000" fill-opacity="0.07"/>
<ellipse cx="151.49" cy="69.29" rx="2.37" ry="2.19" transform="rotate(73 151.49 69.29)" stroke="#333" stroke-opacity="0.35" stroke-width="0.5" fill="#000" fill-opacity="0.22"/>
<ellipse cx="148.24" cy="66.78" rx="2.49" ry="2.38" transform="rotate(70 148.24 66.78)" stroke="#333" stroke-opacity="0.58" stroke-width="0.5" fill="#fff" fill-opacity="0.2"/>
<ellipse cx="174.62" cy="71.39" rx="2.5" ry="2.44" transform="rotate(84 174.62 71.39)" stroke="#333" stroke-opacity="0.26" stroke-width="0.5" fill="#000" fill-opacity="0.2"/>
<ellipse cx="165.32" cy="74.68" rx="2.32" ry="1.91" transform="rotate(36 165.32 74.68)" stroke="#333" stroke-opacity="0.53" stroke-width="0.5" fill="#fff" fill-opacity="0.11"/>
<ellipse cx="153.02" cy="62.3" rx="1.71" ry="1.59" transform="rotate(68 153.02 62.3)" stroke="#333" stroke-opacity="0.51" stroke-width="0.5" fill="#000" fill-opacity="0.14"/>
<ellipse cx="151.15" cy="65.12" rx="1.13" ry="1.11" transform="rotate(135 151.15 65.12)" stroke="#333" stroke-opacity="0.39" stroke-width="0.5" fill="#fff" fill-opacity="0.22"/>
</g>
<path d="M176.8 75.0 L175.9 76.3 L174.9 77.5 L173.8 78.7 L172.5 79.6 L171.3 80.6 L169.9 81.3 L168.7 82.3 L167.2 82.8 L165.9 84.0 L164.3 84.3 L162.8 85.3 L161.2 85.6 L159.4 85.9 L157.8 85.5 L156.1 85.1 L154.4 84.7 L152.9 83.9 L151.7 82.6 L150.4 81.7 L149.1 80.6 L148.1 79.5 L147.4 77.9 L146.5 76.6 L145.7 75.3 L144.7 74.1 L144.4 72.6 L143.6 71.2 L142.8 69.8 L142.4 68.2 L141.8 66.6 L141.7 65.0 L141.4 63.3 L141.4 61.5 L142.3 60.0 L142.7 58.3 L143.5 56.8 L144.8 55.6 L146.2 54.6 L147.3 53.4 L148.8 52.7 L150.0 51.6 L151.2 50.5 L152.7 50.1 L154.1 49.4 L155.6 48.9 L157.2 48.6 L158.7 47.9 L160.3 48.0 L161.9 47.9 L163.5 47.7 L165.1 48.1 L166.8 48.1 L168.3 48.9 L169.9 49.4 L171.2 50.4 L172.2 51.8 L173.4 52.9 L174.5 54.1 L175.3 55.5 L176.0 56.9 L177.1 58.1 L178.0 59.4 L178.7 60.9 L179.5 62.4 L179.7 64.1 L180.0 65.7 L179.5 67.4 L179.2 69.0 L179.2 70.7 L178.4 72.2 L177.6 73.6Z" fill="none" stroke="#383838" stroke-width="1.3" stroke-opacity="1"/>
<rect x="193.8" y="39.1" width="57.3" height="57.6" fill="#dadada"/>
<circle cx="224.5" cy="59.8" r="2" fill="#b8b8b8"/>
<path d="M229.9 67.5 L229.7 68.1 L229.4 68.7 L229.1 69.3 L228.8 69.8 L228.4 70.3 L227.9 70.7 L227.3 71.0 L226.7 71.3 L226.1 71.5 L225.6 71.7 L225.1 72.1 L224.8 72.5 L224.4 73.1 L224.1 73.9 L223.6 74.6 L222.9 75.3 L222.2 75.7 L221.3 75.9 L220.4 75.8 L219.6 75.3 L219.0 74.8 L218.4 74.2 L217.9 73.6 L217.4 73.1 L216.9 72.7 L216.4 72.4 L215.9 72.0 L215.4 71.6 L215.0 71.2 L214.7 70.7 L214.5 70.2 L214.3 69.6 L214.1 69.1 L214.0 68.6 L213.8 68.1 L213.6 67.5 L213.4 66.9 L213.4 66.3 L213.4 65.7 L213.5 65.1 L213.6 64.5 L213.8 63.9 L214.0 63.2 L214.2 62.5 L214.6 61.9 L215.1 61.3 L215.8 60.9 L216.6 60.7 L217.6 60.8 L218.5 61.1 L219.4 61.5 L220.1 61.9 L220.7 62.2 L221.3 62.3 L221.9 62.2 L222.5 61.9 L223.2 61.6 L224.0 61.4 L224.8 61.3 L225.6 61.3 L226.3 61.6 L226.9 61.9 L227.4 62.4 L227.9 62.9 L228.3 63.4 L228.8 63.9 L229.2 64.4 L229.6 65.0 L229.9 65.6 L230.0 66.2 L230.0 66.9Z" fill="url(#r3)"/>
<g clip-path="url(#c2)" fill="none">
<ellipse cx="216.33" cy="64" rx="1.95" ry="1.74" transform="rotate(45 216.33 64)" stroke="#333" stroke-opacity="0.43" stroke-width="0.5" fill="#fff" fill-opacity="0.09"/>
<ellipse cx="224.71" cy="66.47" rx="2.98" ry="1.8" transform="rotate(71 224.71 66.47)" stroke="#333" stroke-opacity="0.43" stroke-width="0.5" fill="#fff" fill-opacity="0.14"/>
<ellipse cx="219.76" cy="67.02" rx="2.79" ry="2.56" transform="rotate(38 219.76 67.02)" stroke="#333" stroke-opacity="0.26" stroke-width="0.5" fill="#000" fill-opacity="0.12"/>
<ellipse cx="221.32" cy="70.79" rx="2.36" ry="2.27" transform="rotate(171 221.32 70.79)" stroke="#333" stroke-opacity="0.38" stroke-width="0.5" fill="#fff" fill-opacity="0.09"/>
<ellipse cx="223.81" cy="69.18" rx="1.96" ry="1.29" transform="rotate(124 223.81 69.18)" stroke="#333" stroke-opacity="0.37" stroke-width="0.5" fill="#fff" fill-opacity="0.1"/>
<ellipse cx="215.54" cy="71.59" rx="2.71" ry="1.77" transform="rotate(141 215.54 71.59)" stroke="#333" stroke-opacity="0.53" stroke-width="0.5" fill="#fff" fill-opacity="0.1"/>
<ellipse cx="220.6" cy="69.21" rx="2.85" ry="2.7" transform="rotate(66 220.6 69.21)" stroke="#333" stroke-opacity="0.59" stroke-width="0.5" fill="#fff" fill-opacity="0.08"/>
<ellipse cx="225.87" cy="63.34" rx="1.98" ry="1.48" transform="rotate(23 225.87 63.34)" stroke="#333" stroke-opacity="0.46" stroke-width="0.5" fill="#fff" fill-opacity="0.05"/>
<ellipse cx="222.86" cy="64.18" rx="1.78" ry="1.62" transform="rotate(24 222.86 64.18)" stroke="#333" stroke-opacity="0.38" stroke-width="0.5" fill="#fff" fill-opacity="0.03"/>
<ellipse cx="218.31" cy="71.72" rx="2.08" ry="1.55" transform="rotate(9 218.31 71.72)" stroke="#333" stroke-opacity="0.38" stroke-width="0.5" fill="#fff" fill-opacity="0.14"/>
</g>
<path d="M229.9 67.5 L229.7 68.1 L229.4 68.7 L229.1 69.3 L228.8 69.8 L228.4 70.3 L227.9 70.7 L227.3 71.0 L226.7 71.3 L226.1 71.5 L225.6 71.7 L225.1 72.1 L224.8 72.5 L224.4 73.1 L224.1 73.9 L223.6 74.6 L222.9 75.3 L222.2 75.7 L221.3 75.9 L220.4 75.8 L219.6 75.3 L219.0 74.8 L218.4 74.2 L217.9 73.6 L217.4 73.1 L216.9 72.7 L216.4 72.4 L215.9 72.0 L215.4 71.6 L215.0 71.2 L214.7 70.7 L214.5 70.2 L214.3 69.6 L214.1 69.1 L214.0 68.6 L213.8 68.1 L213.6 67.5 L213.4 66.9 L213.4 66.3 L213.4 65.7 L213.5 65.1 L213.6 64.5 L213.8 63.9 L214.0 63.2 L214.2 62.5 L214.6 61.9 L215.1 61.3 L215.8 60.9 L216.6 60.7 L217.6 60.8 L218.5 61.1 L219.4 61.5 L220.1 61.9 L220.7 62.2 L221.3 62.3 L221.9 62.2 L222.5 61.9 L223.2 61.6 L224.0 61.4 L224.8 61.3 L225.6 61.3 L226.3 61.6 L226.9 61.9 L227.4 62.4 L227.9 62.9 L228.3 63.4 L228.8 63.9 L229.2 64.4 L229.6 65.0 L229.9 65.6 L230.0 66.2 L230.0 66.9Z" fill="none" stroke="#5a5a5a" stroke-width="0.7" stroke-opacity="0.8"/>
<rect x="253.2" y="39.1" width="57" height="57.6" fill="#dedede"/>
<circle cx="256.4" cy="73" r="0.9" fill="#c4c4c4"/>
<circle cx="276.5" cy="60.5" r="1.5" fill="#cfcfcf"/>
<path d="M284.7 68.3 L284.4 68.8 L284.0 69.3 L283.8 69.8 L283.7 70.3 L283.7 70.8 L283.7 71.4 L283.8 72.1 L283.7 72.8 L283.5 73.5 L283.1 74.0 L282.5 74.3 L281.9 74.6 L281.3 74.7 L280.7 74.8 L280.1 75.1 L279.5 75.4 L279.0 75.8 L278.3 76.2 L277.6 76.4 L276.9 76.5 L276.2 76.2 L275.6 75.7 L275.2 75.1 L274.8 74.3 L274.6 73.5 L274.5 72.9 L274.3 72.3 L274.0 71.9 L273.7 71.5 L273.3 71.2 L272.9 70.8 L272.4 70.4 L272.0 70.0 L271.5 69.5 L271.1 68.9 L270.7 68.3 L270.4 67.6 L270.2 66.9 L270.3 66.1 L270.5 65.5 L271.0 64.9 L271.6 64.4 L272.3 64.1 L273.0 63.8 L273.6 63.6 L274.1 63.3 L274.5 62.9 L274.9 62.4 L275.4 62.0 L275.9 61.7 L276.5 61.5 L277.1 61.6 L277.7 61.8 L278.3 62.2 L278.8 62.5 L279.3 62.7 L279.8 62.7 L280.4 62.6 L281.1 62.4 L281.8 62.2 L282.7 62.1 L283.5 62.1 L284.2 62.4 L284.7 62.9 L285.2 63.5 L285.4 64.2 L285.5 64.9 L285.6 65.7 L285.5 66.4 L285.3 67.1 L285.0 67.7Z" fill="url(#r5)"/>
<g clip-path="url(#c4)" fill="none">
<ellipse cx="275.64" cy="69.51" rx="1.42" ry="1.32" transform="rotate(21 275.64 69.51)" stroke="#666" stroke-opacity="0.42" stroke-width="0.5" fill="#fff" fill-opacity="0.04"/>
<ellipse cx="281.5" cy="65.42" rx="2.09" ry="1.54" transform="rotate(148 281.5 65.42)" stroke="#666" stroke-opacity="0.49" stroke-width="0.5" fill="#000" fill-opacity="0.11"/>
<ellipse cx="282.36" cy="68.5" rx="1.66" ry="1.32" transform="rotate(179 282.36 68.5)" stroke="#666" stroke-opacity="0.51" stroke-width="0.5" fill="#000" fill-opacity="0.08"/>
<ellipse cx="273.23" cy="65.07" rx="1.97" ry="1.26" transform="rotate(129 273.23 65.07)" stroke="#666" stroke-opacity="0.29" stroke-width="0.5" fill="#fff" fill-opacity="0.04"/>
<ellipse cx="275.83" cy="66.86" rx="1.65" ry="1.27" transform="rotate(53 275.83 66.86)" stroke="#666" stroke-opacity="0.52" stroke-width="0.5" fill="#000" fill-opacity="0.03"/>
<ellipse cx="278.58" cy="66.18" rx="2.11" ry="1.76" transform="rotate(148 278.58 66.18)" stroke="#666" stroke-opacity="0.49" stroke-width="0.5" fill="#000" fill-opacity="0.12"/>
<ellipse cx="281.98" cy="65.86" rx="2.21" ry="1.81" transform="rotate(96 281.98 65.86)" stroke="#666" stroke-opacity="0.33" stroke-width="0.5" fill="#fff" fill-opacity="0.09"/>
<ellipse cx="274.21" cy="73.17" rx="1.39" ry="1.29" transform="rotate(99 274.21 73.17)" stroke="#666" stroke-opacity="0.4" stroke-width="0.5" fill="#000" fill-opacity="0.05"/>
<ellipse cx="275.17" cy="64.94" rx="1.82" ry="1.75" transform="rotate(10 275.17 64.94)" stroke="#666" stroke-opacity="0.26" stroke-width="0.5" fill="#fff" fill-opacity="0.13"/>
<ellipse cx="281.86" cy="67.79" rx="2.43" ry="1.5" transform="rotate(88 281.86 67.79)" stroke="#666" stroke-opacity="0.44" stroke-width="0.5" fill="#fff" fill-opacity="0.07"/>
<ellipse cx="273.45" cy="71.59" rx="1.42" ry="0.88" transform="rotate(175 273.45 71.59)" stroke="#666" stroke-opacity="0.49" stroke-width="0.5" fill="#000" fill-opacity="0.14"/>
<ellipse cx="277.9" cy="70.63" rx="1.73" ry="1.23" transform="rotate(68 277.9 70.63)" stroke="#666" stroke-opacity="0.47" stroke-width="0.5" fill="#fff" fill-opacity="0.04"/>
</g>
<path d="M284.7 68.3 L284.4 68.8 L284.0 69.3 L283.8 69.8 L283.7 70.3 L283.7 70.8 L283.7 71.4 L283.8 72.1 L283.7 72.8 L283.5 73.5 L283.1 74.0 L282.5 74.3 L281.9 74.6 L281.3 74.7 L280.7 74.8 L280.1 75.1 L279.5 75.4 L279.0 75.8 L278.3 76.2 L277.6 76.4 L276.9 76.5 L276.2 76.2 L275.6 75.7 L275.2 75.1 L274.8 74.3 L274.6 73.5 L274.5 72.9 L274.3 72.3 L274.0 71.9 L273.7 71.5 L273.3 71.2 L272.9 70.8 L272.4 70.4 L272.0 70.0 L271.5 69.5 L271.1 68.9 L270.7 68.3 L270.4 67.6 L270.2 66.9 L270.3 66.1 L270.5 65.5 L271.0 64.9 L271.6 64.4 L272.3 64.1 L273.0 63.8 L273.6 63.6 L274.1 63.3 L274.5 62.9 L274.9 62.4 L275.4 62.0 L275.9 61.7 L276.5 61.5 L277.1 61.6 L277.7 61.8 L278.3 62.2 L278.8 62.5 L279.3 62.7 L279.8 62.7 L280.4 62.6 L281.1 62.4 L281.8 62.2 L282.7 62.1 L283.5 62.1 L284.2 62.4 L284.7 62.9 L285.2 63.5 L285.4 64.2 L285.5 64.9 L285.6 65.7 L285.5 66.4 L285.3 67.1 L285.0 67.7Z" fill="none" stroke="#9a9a9a" stroke-width="0.5" stroke-opacity="0.8"/>
<rect x="313.6" y="39.1" width="57.3" height="57.6" fill="#d6d6d6"/>
<circle cx="343.3" cy="77.4" r="1.3" fill="#e6e6e6"/>
<path d="M352.0 67.3 L352.1 68.1 L352.2 69.0 L352.1 69.9 L352.0 70.7 L351.8 71.6 L351.4 72.4 L351.0 73.2 L350.6 74.0 L350.0 74.7 L349.3 75.3 L348.6 75.9 L347.7 76.2 L346.8 76.4 L345.9 76.3 L345.0 76.2 L344.1 76.0 L343.3 75.8 L342.6 75.7 L341.9 75.8 L341.1 76.0 L340.2 76.1 L339.3 76.3 L338.4 76.3 L337.5 76.1 L336.7 75.7 L336.0 75.1 L335.4 74.5 L334.9 73.8 L334.4 73.0 L334.0 72.3 L333.6 71.5 L333.2 70.7 L332.8 69.9 L332.6 69.1 L332.5 68.2 L332.6 67.3 L332.8 66.4 L333.1 65.6 L333.4 64.8 L333.8 64.1 L334.2 63.4 L334.6 62.7 L335.1 62.1 L335.7 61.5 L336.3 61.0 L336.9 60.5 L337.5 60.0 L338.0 59.4 L338.6 58.8 L339.3 58.1 L340.0 57.4 L340.8 56.9 L341.7 56.5 L342.6 56.3 L343.5 56.5 L344.4 56.9 L345.2 57.4 L346.0 58.1 L346.6 58.7 L347.2 59.3 L347.8 59.8 L348.5 60.3 L349.1 60.8 L349.8 61.3 L350.3 61.9 L350.8 62.6 L351.1 63.3 L351.4 64.1 L351.6 64.9 L351.7 65.7 L351.9 66.5Z" fill="url(#r7)"/>
<g clip-path="url(#c6)" fill="none">
<ellipse cx="345.37" cy="71.01" rx="3.21" ry="2.31" transform="rotate(8 345.37 71.01)" stroke="#333" stroke-opacity="0.6" stroke-width="0.5" fill="#fff" fill-opacity="0.1"/>
<ellipse cx="335.52" cy="72.75" rx="2.29" ry="1.44" transform="rotate(69 335.52 72.75)" stroke="#333" stroke-opacity="0.59" stroke-width="0.5" fill="#fff" fill-opacity="0.12"/>
<ellipse cx="338.47" cy="64.92" rx="2.42" ry="1.95" transform="rotate(114 338.47 64.92)" stroke="#333" stroke-opacity="0.5" stroke-width="0.5" fill="#000" fill-opacity="0.12"/>
<ellipse cx="348.43" cy="64.78" rx="2.4" ry="1.64" transform="rotate(12 348.43 64.78)" stroke="#333" stroke-opacity="0.34" stroke-width="0.5" fill="#fff" fill-opacity="0.05"/>
<ellipse cx="345.78" cy="73.03" rx="2.03" ry="2" transform="rotate(43 345.78 73.03)" stroke="#333" stroke-opacity="0.53" stroke-width="0.5" fill="#fff" fill-opacity="0.07"/>
<ellipse cx="337.62" cy="69.42" rx="3.44" ry="2.62" transform="rotate(76 337.62 69.42)" stroke="#333" stroke-opacity="0.55" stroke-width="0.5" fill="#fff" fill-opacity="0.06"/>
<ellipse cx="340.38" cy="75.57" rx="2.64" ry="1.65" transform="rotate(168 340.38 75.57)" stroke="#333" stroke-opacity="0.38" stroke-width="0.5" fill="#fff" fill-opacity="0.04"/>
<ellipse cx="341.79" cy="63.84" rx="2.8" ry="2.09" transform="rotate(8 341.79 63.84)" stroke="#333" stroke-opacity="0.54" stroke-width="0.5" fill="#fff" fill-opacity="0.07"/>
<ellipse cx="348.17" cy="63.04" rx="3.41" ry="2.05" transform="rotate(22 348.17 63.04)" stroke="#333" stroke-opacity="0.27" stroke-width="0.5" fill="#000" fill-opacity="0.06"/>
<ellipse cx="345.23" cy="58.34" rx="3.44" ry="2.67" transform="rotate(79 345.23 58.34)" stroke="#333" stroke-opacity="0.35" stroke-width="0.5" fill="#000" fill-opacity="0.12"/>
<ellipse cx="344.94" cy="62.77" rx="2.16" ry="1.5" transform="rotate(132 344.94 62.77)" stroke="#333" stroke-opacity="0.56" stroke-width="0.5" fill="#000" fill-opacity="0.13"/>
<ellipse cx="340.03" cy="66.85" rx="3.3" ry="2.07" transform="rotate(101 340.03 66.85)" stroke="#333" stroke-opacity="0.26" stroke-width="0.5" fill="#000" fill-opacity="0.14"/>
<ellipse cx="336.89" cy="67.5" rx="2.84" ry="2.12" transform="rotate(87 336.89 67.5)" stroke="#333" stroke-opacity="0.56" stroke-width="0.5" fill="#fff" fill-opacity="0.05"/>
<ellipse cx="348.58" cy="71.8" rx="3.15" ry="2.28" transform="rotate(23 348.58 71.8)" stroke="#333" stroke-opacity="0.3" stroke-width="0.5" fill="#fff" fill-opacity="0.07"/>
</g>
<path d="M352.0 67.3 L352.1 68.1 L352.2 69.0 L352.1 69.9 L352.0 70.7 L351.8 71.6 L351.4 72.4 L351.0 73.2 L350.6 74.0 L350.0 74.7 L349.3 75.3 L348.6 75.9 L347.7 76.2 L346.8 76.4 L345.9 76.3 L345.0 76.2 L344.1 76.0 L343.3 75.8 L342.6 75.7 L341.9 75.8 L341.1 76.0 L340.2 76.1 L339.3 76.3 L338.4 76.3 L337.5 76.1 L336.7 75.7 L336.0 75.1 L335.4 74.5 L334.9 73.8 L334.4 73.0 L334.0 72.3 L333.6 71.5 L333.2 70.7 L332.8 69.9 L332.6 69.1 L332.5 68.2 L332.6 67.3 L332.8 66.4 L333.1 65.6 L333.4 64.8 L333.8 64.1 L334.2 63.4 L334.6 62.7 L335.1 62.1 L335.7 61.5 L336.3 61.0 L336.9 60.5 L337.5 60.0 L338.0 59.4 L338.6 58.8 L339.3 58.1 L340.0 57.4 L340.8 56.9 L341.7 56.5 L342.6 56.3 L343.5 56.5 L344.4 56.9 L345.2 57.4 L346.0 58.1 L346.6 58.7 L347.2 59.3 L347.8 59.8 L348.5 60.3 L349.1 60.8 L349.8 61.3 L350.3 61.9 L350.8 62.6 L351.1 63.3 L351.4 64.1 L351.6 64.9 L351.7 65.7 L351.9 66.5Z" fill="none" stroke="#454545" stroke-width="1.1" stroke-opacity="1"/>
<rect x="372.3" y="39.1" width="57" height="57.6" fill="url(#g8)"/>
<circle cx="426.7" cy="45.8" r="1.3" fill="#f0f0f0"/>
<circle cx="374.2" cy="58.3" r="1.1" fill="#e8e8e8"/>
<circle cx="398.5" cy="76.8" r="1.1" fill="#eeeeee"/>
<path d="M408.8 68.1 L408.9 68.8 L408.8 69.6 L408.7 70.3 L408.4 71.0 L408.0 71.6 L407.6 72.2 L407.1 72.7 L406.6 73.2 L406.0 73.6 L405.5 74.0 L404.8 74.3 L404.2 74.6 L403.6 74.8 L403.0 75.0 L402.4 75.3 L401.8 75.6 L401.2 75.9 L400.5 76.2 L399.8 76.4 L399.0 76.4 L398.3 76.4 L397.6 76.1 L396.9 75.8 L396.3 75.3 L395.8 74.8 L395.3 74.3 L394.9 73.7 L394.4 73.2 L393.9 72.7 L393.5 72.1 L393.1 71.5 L392.9 70.9 L392.7 70.2 L392.7 69.5 L392.7 68.8 L392.8 68.1 L393.0 67.4 L393.1 66.8 L393.2 66.1 L393.3 65.5 L393.5 64.8 L393.7 64.2 L394.0 63.6 L394.3 62.9 L394.7 62.3 L395.2 61.7 L395.7 61.2 L396.2 60.7 L396.9 60.3 L397.5 60.0 L398.3 59.8 L399.0 59.8 L399.8 59.9 L400.5 60.2 L401.2 60.4 L401.8 60.7 L402.4 60.9 L403.0 61.1 L403.7 61.3 L404.3 61.4 L405.0 61.7 L405.6 62.0 L406.2 62.4 L406.6 62.9 L407.0 63.5 L407.4 64.1 L407.6 64.8 L407.9 65.4 L408.2 66.0 L408.5 66.7 L408.7 67.4Z" fill="url(#r10)"/>
<g clip-path="url(#c9)" fill="none">
<ellipse cx="404.5" cy="70.42" rx="2.62" ry="1.68" transform="rotate(176 404.5 70.42)" stroke="#777" stroke-opacity="0.51" stroke-width="0.5" fill="#fff" fill-opacity="0.12"/>
<ellipse cx="396" cy="65.45" rx="2.77" ry="1.69" transform="rotate(25 396 65.45)" stroke="#777" stroke-opacity="0.37" stroke-width="0.5" fill="#fff" fill-opacity="0.09"/>
<ellipse cx="393.35" cy="66.95" rx="2.39" ry="2.04" transform="rotate(116 393.35 66.95)" stroke="#777" stroke-opacity="0.59" stroke-width="0.5" fill="#fff" fill-opacity="0.1"/>
<ellipse cx="400.64" cy="61.92" rx="1.84" ry="1.83" transform="rotate(73 400.64 61.92)" stroke="#777" stroke-opacity="0.33" stroke-width="0.5" fill="#fff" fill-opacity="0.1"/>
<ellipse cx="402.05" cy="62.77" rx="2.25" ry="1.88" transform="rotate(94 402.05 62.77)" stroke="#777" stroke-opacity="0.52" stroke-width="0.5" fill="#000" fill-opacity="0.09"/>
<ellipse cx="397.26" cy="67.35" rx="2.38" ry="2.29" transform="rotate(41 397.26 67.35)" stroke="#777" stroke-opacity="0.41" stroke-width="0.5" fill="#000" fill-opacity="0.04"/>
<ellipse cx="402.98" cy="73.03" rx="2.39" ry="1.94" transform="rotate(29 402.98 73.03)" stroke="#777" stroke-opacity="0.58" stroke-width="0.5" fill="#fff" fill-opacity="0.08"/>
<ellipse cx="395.6" cy="63.07" rx="2.12" ry="1.51" transform="rotate(41 395.6 63.07)" stroke="#777" stroke-opacity="0.44" stroke-width="0.5" fill="#000" fill-opacity="0.04"/>
<ellipse cx="407.57" cy="71.57" rx="2.25" ry="1.56" transform="rotate(102 407.57 71.57)" stroke="#777" stroke-opacity="0.51" stroke-width="0.5" fill="#000" fill-opacity="0.08"/>
<ellipse cx="407.67" cy="68.99" rx="1.62" ry="1.04" transform="rotate(76 407.67 68.99)" stroke="#777" stroke-opacity="0.37" stroke-width="0.5" fill="#000" fill-opacity="0.09"/>
<ellipse cx="397.66" cy="75.04" rx="2.5" ry="2.46" transform="rotate(99 397.66 75.04)" stroke="#777" stroke-opacity="0.36" stroke-width="0.5" fill="#fff" fill-opacity="0.1"/>
<ellipse cx="392.8" cy="69.42" rx="2.12" ry="1.52" transform="rotate(170 392.8 69.42)" stroke="#777" stroke-opacity="0.25" stroke-width="0.5" fill="#000" fill-opacity="0.1"/>
<ellipse cx="403.88" cy="61.37" rx="1.56" ry="1.55" transform="rotate(63 403.88 61.37)" stroke="#777" stroke-opacity="0.48" stroke-width="0.5" fill="#fff" fill-opacity="0.05"/>
<ellipse cx="406.92" cy="70.67" rx="2.27" ry="1.91" transform="rotate(16 406.92 70.67)" stroke="#777" stroke-opacity="0.52" stroke-width="0.5" fill="#fff" fill-opacity="0.04"/>
</g>
<path d="M408.8 68.1 L408.9 68.8 L408.8 69.6 L408.7 70.3 L408.4 71.0 L408.0 71.6 L407.6 72.2 L407.1 72.7 L406.6 73.2 L406.0 73.6 L405.5 74.0 L404.8 74.3 L404.2 74.6 L403.6 74.8 L403.0 75.0 L402.4 75.3 L401.8 75.6 L401.2 75.9 L400.5 76.2 L399.8 76.4 L399.0 76.4 L398.3 76.4 L397.6 76.1 L396.9 75.8 L396.3 75.3 L395.8 74.8 L395.3 74.3 L394.9 73.7 L394.4 73.2 L393.9 72.7 L393.5 72.1 L393.1 71.5 L392.9 70.9 L392.7 70.2 L392.7 69.5 L392.7 68.8 L392.8 68.1 L393.0 67.4 L393.1 66.8 L393.2 66.1 L393.3 65.5 L393.5 64.8 L393.7 64.2 L394.0 63.6 L394.3 62.9 L394.7 62.3 L395.2 61.7 L395.7 61.2 L396.2 60.7 L396.9 60.3 L397.5 60.0 L398.3 59.8 L399.0 59.8 L399.8 59.9 L400.5 60.2 L401.2 60.4 L401.8 60.7 L402.4 60.9 L403.0 61.1 L403.7 61.3 L404.3 61.4 L405.0 61.7 L405.6 62.0 L406.2 62.4 L406.6 62.9 L407.0 63.5 L407.4 64.1 L407.6 64.8 L407.9 65.4 L408.2 66.0 L408.5 66.7 L408.7 67.4Z" fill="none" stroke="#8c8c8c" stroke-width="0.6" stroke-opacity="1"/>
<line x1="408.8" y1="91.5" x2="426.5" y2="91.5" stroke="#111" stroke-width="1.3"/>
<line x1="471.3" y1="93" x2="471.3" y2="4.8" stroke="#3a3a3a" stroke-width="0.8"/>
<line x1="468.7" y1="93" x2="471.3" y2="93" stroke="#3a3a3a" stroke-width="0.8"/>
<text x="467.5" y="96.58" font-size="8.72" text-anchor="end" fill="#1a1a1a" textLength="4.45" lengthAdjust="spacingAndGlyphs">0</text>
<line x1="469.8" y1="85.65" x2="471.3" y2="85.65" stroke="#3a3a3a" stroke-width="0.8"/>
<line x1="468.7" y1="78.3" x2="471.3" y2="78.3" stroke="#3a3a3a" stroke-width="0.8"/>
<text x="467.5" y="81.88" font-size="8.72" text-anchor="end" fill="#1a1a1a" textLength="8.9" lengthAdjust="spacingAndGlyphs">50</text>
<line x1="469.8" y1="70.95" x2="471.3" y2="70.95" stroke="#3a3a3a" stroke-width="0.8"/>
<line x1="468.7" y1="63.6" x2="471.3" y2="63.6" stroke="#3a3a3a" stroke-width="0.8"/>
<text x="467.5" y="67.18" font-size="8.72" text-anchor="end" fill="#1a1a1a" textLength="13.35" lengthAdjust="spacingAndGlyphs">100</text>
<line x1="469.8" y1="56.25" x2="471.3" y2="56.25" stroke="#3a3a3a" stroke-width="0.8"/>
<line x1="468.7" y1="48.9" x2="471.3" y2="48.9" stroke="#3a3a3a" stroke-width="0.8"/>
<text x="467.5" y="52.48" font-size="8.72" text-anchor="end" fill="#1a1a1a" textLength="13.35" lengthAdjust="spacingAndGlyphs">150</text>
<line x1="469.8" y1="41.55" x2="471.3" y2="41.55" stroke="#3a3a3a" stroke-width="0.8"/>
<line x1="468.7" y1="34.2" x2="471.3" y2="34.2" stroke="#3a3a3a" stroke-width="0.8"/>
<text x="467.5" y="37.78" font-size="8.72" text-anchor="end" fill="#1a1a1a" textLength="13.35" lengthAdjust="spacingAndGlyphs">200</text>
<line x1="469.8" y1="26.85" x2="471.3" y2="26.85" stroke="#3a3a3a" stroke-width="0.8"/>
<line x1="468.7" y1="19.5" x2="471.3" y2="19.5" stroke="#3a3a3a" stroke-width="0.8"/>
<text x="467.5" y="23.08" font-size="8.72" text-anchor="end" fill="#1a1a1a" textLength="13.35" lengthAdjust="spacingAndGlyphs">250</text>
<line x1="469.8" y1="12.15" x2="471.3" y2="12.15" stroke="#3a3a3a" stroke-width="0.8"/>
<line x1="468.7" y1="4.8" x2="471.3" y2="4.8" stroke="#3a3a3a" stroke-width="0.8"/>
<text x="467.5" y="8.38" font-size="8.72" text-anchor="end" fill="#1a1a1a" textLength="13.35" lengthAdjust="spacingAndGlyphs">300</text>
<text transform="translate(447.27,48) rotate(-90)" font-size="10.2" text-anchor="middle" fill="#1a1a1a">Diameter (μm)</text>
<line x1="471.3" y1="93" x2="550.8" y2="93" stroke="#3a3a3a" stroke-width="0.8"/>
<line x1="481.2" y1="93" x2="481.2" y2="95.2" stroke="#3a3a3a" stroke-width="0.8"/>
<line x1="496.2" y1="93" x2="496.2" y2="95.2" stroke="#3a3a3a" stroke-width="0.8"/>
<line x1="511.1" y1="93" x2="511.1" y2="95.2" stroke="#3a3a3a" stroke-width="0.8"/>
<line x1="526" y1="93" x2="526" y2="95.2" stroke="#3a3a3a" stroke-width="0.8"/>
<line x1="540.7" y1="93" x2="540.7" y2="95.2" stroke="#3a3a3a" stroke-width="0.8"/>
<line x1="481.2" y1="21.5" x2="481.2" y2="46.4" stroke="#9a9a9a" stroke-width="0.7"/>
<line x1="481.2" y1="62.5" x2="481.2" y2="81.3" stroke="#9a9a9a" stroke-width="0.7"/>
<line x1="478.32" y1="21.5" x2="484.08" y2="21.5" stroke="#9a9a9a" stroke-width="0.7"/>
<line x1="478.32" y1="81.3" x2="484.08" y2="81.3" stroke="#9a9a9a" stroke-width="0.7"/>
<rect x="476.4" y="46.4" width="9.6" height="16.1" fill="#d9d9d9" stroke="#a0a0a0" stroke-width="0.7"/>
<line x1="476.4" y1="53.3" x2="486" y2="53.3" stroke="#a0a0a0" stroke-width="0.7"/>
<line x1="496.2" y1="65.4" x2="496.2" y2="74.2" stroke="#9a9a9a" stroke-width="0.7"/>
<line x1="496.2" y1="78.8" x2="496.2" y2="81.3" stroke="#9a9a9a" stroke-width="0.7"/>
<line x1="493.44" y1="65.4" x2="498.96" y2="65.4" stroke="#9a9a9a" stroke-width="0.7"/>
<line x1="493.44" y1="81.3" x2="498.96" y2="81.3" stroke="#9a9a9a" stroke-width="0.7"/>
<rect x="491.6" y="74.2" width="9.2" height="4.6" fill="#ef7d3e" stroke="#d2682f" stroke-width="0.7"/>
<line x1="491.6" y1="76.2" x2="500.8" y2="76.2" stroke="#d2682f" stroke-width="0.7"/>
<line x1="511.1" y1="59.4" x2="511.1" y2="73.4" stroke="#9a9a9a" stroke-width="0.7"/>
<line x1="511.1" y1="79.6" x2="511.1" y2="81.3" stroke="#9a9a9a" stroke-width="0.7"/>
<line x1="508.34" y1="59.4" x2="513.86" y2="59.4" stroke="#9a9a9a" stroke-width="0.7"/>
<line x1="508.34" y1="81.3" x2="513.86" y2="81.3" stroke="#9a9a9a" stroke-width="0.7"/>
<rect x="506.5" y="73.4" width="9.2" height="6.2" fill="#ef7d3e" stroke="#d2682f" stroke-width="0.7"/>
<line x1="506.5" y1="76.4" x2="515.7" y2="76.4" stroke="#d2682f" stroke-width="0.7"/>
<line x1="526" y1="65.4" x2="526" y2="74.2" stroke="#9a9a9a" stroke-width="0.7"/>
<line x1="526" y1="79.6" x2="526" y2="81.3" stroke="#9a9a9a" stroke-width="0.7"/>
<line x1="523.24" y1="65.4" x2="528.76" y2="65.4" stroke="#9a9a9a" stroke-width="0.7"/>
<line x1="523.24" y1="81.3" x2="528.76" y2="81.3" stroke="#9a9a9a" stroke-width="0.7"/>
<rect x="521.4" y="74.2" width="9.2" height="5.4" fill="#ef7d3e" stroke="#d2682f" stroke-width="0.7"/>
<line x1="521.4" y1="76.6" x2="530.6" y2="76.6" stroke="#d2682f" stroke-width="0.7"/>
<line x1="540.7" y1="64.2" x2="540.7" y2="74.2" stroke="#9a9a9a" stroke-width="0.7"/>
<line x1="540.7" y1="79.6" x2="540.7" y2="81.3" stroke="#9a9a9a" stroke-width="0.7"/>
<line x1="537.94" y1="64.2" x2="543.46" y2="64.2" stroke="#9a9a9a" stroke-width="0.7"/>
<line x1="537.94" y1="81.3" x2="543.46" y2="81.3" stroke="#9a9a9a" stroke-width="0.7"/>
<rect x="536.1" y="74.2" width="9.2" height="5.4" fill="#ef7d3e" stroke="#d2682f" stroke-width="0.7"/>
<line x1="536.1" y1="76.4" x2="545.3" y2="76.4" stroke="#d2682f" stroke-width="0.7"/>
<text x="496.2" y="61.38" font-size="9.2" text-anchor="middle" fill="#1a1a1a">***</text>
<text x="511.1" y="56.18" font-size="9.2" text-anchor="middle" fill="#1a1a1a">***</text>
<text x="526" y="62.78" font-size="9.2" text-anchor="middle" fill="#1a1a1a">***</text>
<text x="540.7" y="60.58" font-size="9.2" text-anchor="middle" fill="#1a1a1a">***</text>
<text transform="translate(485,103.8) rotate(-45)" font-size="9.6" text-anchor="end" fill="#1a1a1a">shCtrl</text>
<text transform="translate(499,103.8) rotate(-45)" font-size="9.6" text-anchor="end" fill="#1a1a1a">shTLK2 #1</text>
<text transform="translate(515.6,103.8) rotate(-45)" font-size="9.6" text-anchor="end" fill="#1a1a1a">shTLK2 #2</text>
<text transform="translate(530.5,103.8) rotate(-45)" font-size="9.6" text-anchor="end" fill="#1a1a1a">shDYNLL1 #1</text>
<text transform="translate(546.5,103.8) rotate(-45)" font-size="9.6" text-anchor="end" fill="#1a1a1a">shDYNLL1 #2</text>
<line x1="599.1" y1="93.2" x2="599.1" y2="4.9" stroke="#3a3a3a" stroke-width="0.8"/>
<line x1="596.5" y1="93.2" x2="599.1" y2="93.2" stroke="#3a3a3a" stroke-width="0.8"/>
<text x="595.3" y="96.78" font-size="8.72" text-anchor="end" fill="#1a1a1a" textLength="4.45" lengthAdjust="spacingAndGlyphs">0</text>
<line x1="597.6" y1="82.16" x2="599.1" y2="82.16" stroke="#3a3a3a" stroke-width="0.8"/>
<line x1="596.5" y1="71.12" x2="599.1" y2="71.12" stroke="#3a3a3a" stroke-width="0.8"/>
<text x="595.3" y="74.7" font-size="8.72" text-anchor="end" fill="#1a1a1a" textLength="8.9" lengthAdjust="spacingAndGlyphs">50</text>
<line x1="597.6" y1="60.09" x2="599.1" y2="60.09" stroke="#3a3a3a" stroke-width="0.8"/>
<line x1="596.5" y1="49.05" x2="599.1" y2="49.05" stroke="#3a3a3a" stroke-width="0.8"/>
<text x="595.3" y="52.63" font-size="8.72" text-anchor="end" fill="#1a1a1a" textLength="13.35" lengthAdjust="spacingAndGlyphs">100</text>
<line x1="597.6" y1="38.01" x2="599.1" y2="38.01" stroke="#3a3a3a" stroke-width="0.8"/>
<line x1="596.5" y1="26.98" x2="599.1" y2="26.98" stroke="#3a3a3a" stroke-width="0.8"/>
<text x="595.3" y="30.55" font-size="8.72" text-anchor="end" fill="#1a1a1a" textLength="13.35" lengthAdjust="spacingAndGlyphs">150</text>
<line x1="597.6" y1="15.94" x2="599.1" y2="15.94" stroke="#3a3a3a" stroke-width="0.8"/>
<line x1="596.5" y1="4.9" x2="599.1" y2="4.9" stroke="#3a3a3a" stroke-width="0.8"/>
<text x="595.3" y="8.48" font-size="8.72" text-anchor="end" fill="#1a1a1a" textLength="13.35" lengthAdjust="spacingAndGlyphs">200</text>
<text transform="translate(567.17,49) rotate(-90)" font-size="10.2" text-anchor="middle" fill="#1a1a1a">Number of sphere</text>
<text transform="translate(579.57,49) rotate(-90)" font-size="10.2" text-anchor="middle" fill="#1a1a1a">per 500 cells</text>
<line x1="599.1" y1="93.2" x2="678.3" y2="93.2" stroke="#3a3a3a" stroke-width="0.8"/>
<line x1="610.9" y1="93.2" x2="610.9" y2="95.4" stroke="#3a3a3a" stroke-width="0.8"/>
<line x1="624.8" y1="93.2" x2="624.8" y2="95.4" stroke="#3a3a3a" stroke-width="0.8"/>
<line x1="638.5" y1="93.2" x2="638.5" y2="95.4" stroke="#3a3a3a" stroke-width="0.8"/>
<line x1="652.5" y1="93.2" x2="652.5" y2="95.4" stroke="#3a3a3a" stroke-width="0.8"/>
<line x1="666.4" y1="93.2" x2="666.4" y2="95.4" stroke="#3a3a3a" stroke-width="0.8"/>
<line x1="610.9" y1="15.05" x2="610.9" y2="14.17" stroke="#8a8a8a" stroke-width="0.8"/>
<line x1="608.02" y1="14.17" x2="613.77" y2="14.17" stroke="#8a8a8a" stroke-width="0.8"/>
<rect x="605.15" y="15.05" width="11.5" height="78.15" fill="#d6d6d6"/>
<line x1="624.8" y1="63.18" x2="624.8" y2="62.52" stroke="#4a4a4a" stroke-width="0.8"/>
<line x1="621.92" y1="62.52" x2="627.67" y2="62.52" stroke="#8c8c8c" stroke-width="0.8"/>
<rect x="619.05" y="63.18" width="11.5" height="30.02" fill="#ef7d3e"/>
<circle cx="621.8" cy="63.62" r="1.3" fill="#e6c2ae"/>
<line x1="638.5" y1="60.31" x2="638.5" y2="59.65" stroke="#4a4a4a" stroke-width="0.8"/>
<line x1="635.62" y1="59.65" x2="641.38" y2="59.65" stroke="#8c8c8c" stroke-width="0.8"/>
<rect x="632.75" y="60.31" width="11.5" height="32.89" fill="#ef7d3e"/>
<line x1="652.5" y1="68.03" x2="652.5" y2="64.5" stroke="#4a4a4a" stroke-width="0.8"/>
<line x1="649.62" y1="64.5" x2="655.38" y2="64.5" stroke="#8c8c8c" stroke-width="0.8"/>
<rect x="646.75" y="68.03" width="11.5" height="25.17" fill="#ef7d3e"/>
<circle cx="649.5" cy="68.92" r="1.3" fill="#e6c2ae"/>
<circle cx="655.5" cy="68.48" r="1.3" fill="#e6c2ae"/>
<line x1="666.4" y1="70.46" x2="666.4" y2="68.92" stroke="#4a4a4a" stroke-width="0.8"/>
<line x1="663.52" y1="68.92" x2="669.27" y2="68.92" stroke="#8c8c8c" stroke-width="0.8"/>
<rect x="660.65" y="70.46" width="11.5" height="22.74" fill="#ef7d3e"/>
<circle cx="664.4" cy="71.57" r="1.3" fill="#e6c2ae"/>
<text x="624.8" y="57.58" font-size="9.2" text-anchor="middle" fill="#1a1a1a">***</text>
<text x="638.5" y="55.08" font-size="9.2" text-anchor="middle" fill="#1a1a1a">***</text>
<text x="652.5" y="60.38" font-size="9.2" text-anchor="middle" fill="#1a1a1a">***</text>
<text x="666.4" y="65.48" font-size="9.2" text-anchor="middle" fill="#1a1a1a">***</text>
<text transform="translate(609.4,104.5) rotate(-45)" font-size="9.6" text-anchor="end" fill="#1a1a1a">shCtrl</text>
<text transform="translate(626,104.5) rotate(-45)" font-size="9.6" text-anchor="end" fill="#1a1a1a">shTLK2 #1</text>
<text transform="translate(642.3,104.5) rotate(-45)" font-size="9.6" text-anchor="end" fill="#1a1a1a">shTLK2 #2</text>
<text transform="translate(657.7,104.5) rotate(-45)" font-size="9.6" text-anchor="end" fill="#1a1a1a">shDYNLL1 #1</text>
<text transform="translate(675.1,104.5) rotate(-45)" font-size="9.6" text-anchor="end" fill="#1a1a1a">shDYNLL1 #2</text>
<text x="0.6" y="179.3" font-size="14.5" font-weight="bold" fill="#000">c</text>
<line x1="53.5" y1="268.6" x2="53.5" y2="180.8" stroke="#3a3a3a" stroke-width="0.8"/>
<line x1="50.1" y1="268.6" x2="53.5" y2="268.6" stroke="#3a3a3a" stroke-width="0.8"/>
<text x="48.6" y="272.62" font-size="9.81" text-anchor="end" fill="#1a1a1a" textLength="12.51" lengthAdjust="spacingAndGlyphs">0.0</text>
<line x1="51.7" y1="261.28" x2="53.5" y2="261.28" stroke="#3a3a3a" stroke-width="0.8"/>
<line x1="50.1" y1="253.97" x2="53.5" y2="253.97" stroke="#3a3a3a" stroke-width="0.8"/>
<text x="48.6" y="257.99" font-size="9.81" text-anchor="end" fill="#1a1a1a" textLength="12.51" lengthAdjust="spacingAndGlyphs">1.0</text>
<line x1="51.7" y1="246.65" x2="53.5" y2="246.65" stroke="#3a3a3a" stroke-width="0.8"/>
<line x1="50.1" y1="239.33" x2="53.5" y2="239.33" stroke="#3a3a3a" stroke-width="0.8"/>
<text x="48.6" y="243.36" font-size="9.81" text-anchor="end" fill="#1a1a1a" textLength="12.51" lengthAdjust="spacingAndGlyphs">2.0</text>
<line x1="51.7" y1="232.02" x2="53.5" y2="232.02" stroke="#3a3a3a" stroke-width="0.8"/>
<line x1="50.1" y1="224.7" x2="53.5" y2="224.7" stroke="#3a3a3a" stroke-width="0.8"/>
<text x="48.6" y="228.72" font-size="9.81" text-anchor="end" fill="#1a1a1a" textLength="12.51" lengthAdjust="spacingAndGlyphs">3.0</text>
<line x1="51.7" y1="217.38" x2="53.5" y2="217.38" stroke="#3a3a3a" stroke-width="0.8"/>
<line x1="50.1" y1="210.07" x2="53.5" y2="210.07" stroke="#3a3a3a" stroke-width="0.8"/>
<text x="48.6" y="214.09" font-size="9.81" text-anchor="end" fill="#1a1a1a" textLength="12.51" lengthAdjust="spacingAndGlyphs">4.0</text>
<line x1="51.7" y1="202.75" x2="53.5" y2="202.75" stroke="#3a3a3a" stroke-width="0.8"/>
<line x1="50.1" y1="195.43" x2="53.5" y2="195.43" stroke="#3a3a3a" stroke-width="0.8"/>
<text x="48.6" y="199.46" font-size="9.81" text-anchor="end" fill="#1a1a1a" textLength="12.51" lengthAdjust="spacingAndGlyphs">5.0</text>
<line x1="51.7" y1="188.12" x2="53.5" y2="188.12" stroke="#3a3a3a" stroke-width="0.8"/>
<line x1="50.1" y1="180.8" x2="53.5" y2="180.8" stroke="#3a3a3a" stroke-width="0.8"/>
<text x="48.6" y="184.82" font-size="9.81" text-anchor="end" fill="#1a1a1a" textLength="12.51" lengthAdjust="spacingAndGlyphs">6.0</text>
<text transform="translate(25.97,224.7) rotate(-90)" font-size="10.2" text-anchor="middle" fill="#1a1a1a">ALDH positive cells %</text>
<line x1="53.5" y1="268.6" x2="133.9" y2="268.6" stroke="#3a3a3a" stroke-width="0.8"/>
<line x1="65.8" y1="268.6" x2="65.8" y2="270.8" stroke="#3a3a3a" stroke-width="0.8"/>
<line x1="84" y1="268.6" x2="84" y2="270.8" stroke="#3a3a3a" stroke-width="0.8"/>
<line x1="102.2" y1="268.6" x2="102.2" y2="270.8" stroke="#3a3a3a" stroke-width="0.8"/>
<line x1="120.8" y1="268.6" x2="120.8" y2="270.8" stroke="#3a3a3a" stroke-width="0.8"/>
<line x1="65.8" y1="197.63" x2="65.8" y2="191.63" stroke="#8a8a8a" stroke-width="0.8"/>
<line x1="62.75" y1="191.63" x2="68.85" y2="191.63" stroke="#8a8a8a" stroke-width="0.8"/>
<rect x="59.7" y="197.63" width="12.2" height="70.97" fill="#d6d6d6"/>
<line x1="84" y1="246.21" x2="84" y2="245.48" stroke="#4a4a4a" stroke-width="0.8"/>
<line x1="80.95" y1="245.48" x2="87.05" y2="245.48" stroke="#8c8c8c" stroke-width="0.8"/>
<rect x="77.9" y="246.21" width="12.2" height="22.39" fill="#ef7d3e"/>
<circle cx="81.5" cy="246.65" r="1.3" fill="#e6c2ae"/>
<line x1="102.2" y1="188.26" x2="102.2" y2="181.39" stroke="#4a4a4a" stroke-width="0.8"/>
<line x1="99.15" y1="181.39" x2="105.25" y2="181.39" stroke="#8c8c8c" stroke-width="0.8"/>
<rect x="96.1" y="188.26" width="12.2" height="80.34" fill="#ef7d3e"/>
<circle cx="102.2" cy="193.97" r="1.3" fill="#e6c2ae"/>
<line x1="120.8" y1="243.43" x2="120.8" y2="238.02" stroke="#4a4a4a" stroke-width="0.8"/>
<line x1="117.75" y1="238.02" x2="123.85" y2="238.02" stroke="#8c8c8c" stroke-width="0.8"/>
<rect x="114.7" y="243.43" width="12.2" height="25.17" fill="#ef7d3e"/>
<circle cx="117.8" cy="245.19" r="1.3" fill="#e6c2ae"/>
<circle cx="123.3" cy="243.72" r="1.3" fill="#e6c2ae"/>
<text x="84" y="240.78" font-size="9.2" text-anchor="middle" fill="#1a1a1a">***</text>
<text x="120.8" y="233.58" font-size="9.2" text-anchor="middle" fill="#1a1a1a">***</text>
<text x="102.2" y="176" font-size="10.2" text-anchor="middle" fill="#1a1a1a">ns</text>
<text transform="translate(65,280.1) rotate(-45)" font-size="10" text-anchor="end" fill="#1a1a1a">shCtrl</text>
<text transform="translate(87.2,280.1) rotate(-45)" font-size="10" text-anchor="end" fill="#1a1a1a">shTLK2+Vec</text>
<text transform="translate(107.8,280.1) rotate(-45)" font-size="10" text-anchor="end" fill="#1a1a1a">shTLK2+S14D</text>
<text transform="translate(126.4,280.1) rotate(-45)" font-size="10" text-anchor="end" fill="#1a1a1a">shTLK2+S14A</text>
<text x="137.5" y="179.2" font-size="14.5" font-weight="bold" fill="#000">d</text>
<text x="195.8" y="208" font-size="10.2" text-anchor="middle" fill="#1a1a1a">shCtrl</text>
<text x="306.5" y="191" font-size="10.2" text-anchor="middle" fill="#1a1a1a">shTLK2</text>
<line x1="226.4" y1="195.2" x2="392.8" y2="195.2" stroke="#333" stroke-width="0.9"/>
<text x="248.9" y="207.7" font-size="10.2" text-anchor="middle" fill="#1a1a1a">Vec</text>
<text x="303.2" y="207.7" font-size="10.2" text-anchor="middle" fill="#1a1a1a">DYNLL1-S14D</text>
<text x="374.7" y="207.7" font-size="10.2" text-anchor="middle" fill="#1a1a1a">DYNLL1-S14A</text>
<rect x="163" y="212.7" width="56.8" height="56.9" fill="url(#g11)"/>
<circle cx="209.5" cy="230.5" r="1.6" fill="#c0c0c0"/>
<path d="M210.2 238.9 L210.3 240.6 L209.6 242.2 L209.7 243.9 L209.5 245.6 L208.8 247.1 L207.8 248.4 L206.3 249.3 L205.8 250.9 L204.6 251.8 L202.9 252.0 L201.9 253.0 L200.4 253.1 L199.3 253.9 L198.2 254.9 L197.0 255.5 L195.9 256.9 L194.5 257.7 L193.0 257.5 L191.5 257.6 L190.1 257.1 L188.8 256.5 L187.3 256.3 L186.1 255.3 L185.2 253.9 L183.9 253.4 L182.8 252.4 L181.4 251.8 L180.5 250.6 L179.6 249.3 L178.9 248.0 L177.8 246.8 L177.2 245.3 L177.2 243.6 L176.9 242.1 L175.9 240.6 L176.4 238.9 L176.0 237.2 L176.5 235.7 L176.8 234.1 L177.8 232.8 L178.6 231.4 L179.3 230.1 L180.3 229.0 L181.4 228.1 L182.5 227.2 L183.3 226.0 L184.3 225.0 L185.3 224.0 L186.2 222.6 L187.2 221.2 L188.7 221.1 L190.1 220.5 L191.5 219.3 L193.0 219.7 L194.5 219.2 L196.1 219.4 L197.6 219.7 L198.9 220.9 L200.1 222.0 L201.4 222.8 L202.2 224.2 L202.9 225.7 L203.7 227.0 L204.2 228.4 L205.2 229.4 L205.6 230.8 L206.9 231.7 L208.2 232.8 L208.6 234.3 L209.6 235.6 L209.9 237.3Z" fill="url(#r13)"/>
<g clip-path="url(#c12)" fill="none">
<ellipse cx="187.74" cy="234.42" rx="1.47" ry="1.33" transform="rotate(118 187.74 234.42)" stroke="#333" stroke-opacity="0.38" stroke-width="0.45" fill="#fff" fill-opacity="0.17"/>
<ellipse cx="181.62" cy="230.44" rx="2.1" ry="1.35" transform="rotate(54 181.62 230.44)" stroke="#333" stroke-opacity="0.28" stroke-width="0.45" fill="#000" fill-opacity="0.17"/>
<ellipse cx="191.26" cy="250.24" rx="1.05" ry="0.66" transform="rotate(68 191.26 250.24)" stroke="#333" stroke-opacity="0.59" stroke-width="0.45" fill="#fff" fill-opacity="0.2"/>
<ellipse cx="187.88" cy="224.34" rx="1.84" ry="1.31" transform="rotate(139 187.88 224.34)" stroke="#333" stroke-opacity="0.41" stroke-width="0.45" fill="#000" fill-opacity="0.24"/>
<ellipse cx="190.46" cy="246.72" rx="1.62" ry="1.19" transform="rotate(64 190.46 246.72)" stroke="#333" stroke-opacity="0.39" stroke-width="0.45" fill="#000" fill-opacity="0.1"/>
<ellipse cx="185.3" cy="244.45" rx="2.13" ry="2.06" transform="rotate(54 185.3 244.45)" stroke="#333" stroke-opacity="0.26" stroke-width="0.45" fill="#000" fill-opacity="0.24"/>
<ellipse cx="197.06" cy="227.97" rx="2.16" ry="1.65" transform="rotate(172 197.06 227.97)" stroke="#333" stroke-opacity="0.35" stroke-width="0.45" fill="#000" fill-opacity="0.1"/>
<ellipse cx="191.76" cy="254" rx="1.96" ry="1.64" transform="rotate(173 191.76 254)" stroke="#333" stroke-opacity="0.31" stroke-width="0.45" fill="#fff" fill-opacity="0.06"/>
<ellipse cx="188.3" cy="228.4" rx="1.9" ry="1.65" transform="rotate(148 188.3 228.4)" stroke="#333" stroke-opacity="0.32" stroke-width="0.45" fill="#000" fill-opacity="0.14"/>
<ellipse cx="199.87" cy="248.15" rx="1.71" ry="1.17" transform="rotate(70 199.87 248.15)" stroke="#333" stroke-opacity="0.31" stroke-width="0.45" fill="#000" fill-opacity="0.14"/>
<ellipse cx="202.2" cy="243.18" rx="1.37" ry="1.08" transform="rotate(31 202.2 243.18)" stroke="#333" stroke-opacity="0.41" stroke-width="0.45" fill="#000" fill-opacity="0.21"/>
<ellipse cx="182.55" cy="232.52" rx="1.76" ry="1.29" transform="rotate(48 182.55 232.52)" stroke="#333" stroke-opacity="0.32" stroke-width="0.45" fill="#000" fill-opacity="0.18"/>
<ellipse cx="188.79" cy="252.67" rx="1.7" ry="1.17" transform="rotate(171 188.79 252.67)" stroke="#333" stroke-opacity="0.34" stroke-width="0.45" fill="#fff" fill-opacity="0.18"/>
<ellipse cx="198.31" cy="232.98" rx="1.9" ry="1.79" transform="rotate(58 198.31 232.98)" stroke="#333" stroke-opacity="0.58" stroke-width="0.45" fill="#000" fill-opacity="0.17"/>
<ellipse cx="179.58" cy="230.56" rx="2.14" ry="1.29" transform="rotate(157 179.58 230.56)" stroke="#333" stroke-opacity="0.56" stroke-width="0.45" fill="#000" fill-opacity="0.06"/>
<ellipse cx="183.53" cy="248.38" rx="1.5" ry="1.22" transform="rotate(30 183.53 248.38)" stroke="#333" stroke-opacity="0.34" stroke-width="0.45" fill="#fff" fill-opacity="0.08"/>
<ellipse cx="177.16" cy="238.14" rx="1.48" ry="1.11" transform="rotate(92 177.16 238.14)" stroke="#333" stroke-opacity="0.59" stroke-width="0.45" fill="#fff" fill-opacity="0.18"/>
<ellipse cx="208.05" cy="241.95" rx="1.81" ry="1.79" transform="rotate(98 208.05 241.95)" stroke="#333" stroke-opacity="0.31" stroke-width="0.45" fill="#000" fill-opacity="0.08"/>
<ellipse cx="195.45" cy="234.75" rx="1.61" ry="1.29" transform="rotate(174 195.45 234.75)" stroke="#333" stroke-opacity="0.54" stroke-width="0.45" fill="#fff" fill-opacity="0.25"/>
<ellipse cx="194.5" cy="253.09" rx="1.76" ry="1.11" transform="rotate(33 194.5 253.09)" stroke="#333" stroke-opacity="0.56" stroke-width="0.45" fill="#fff" fill-opacity="0.23"/>
<ellipse cx="203.68" cy="240.39" rx="2.1" ry="1.26" transform="rotate(27 203.68 240.39)" stroke="#333" stroke-opacity="0.39" stroke-width="0.45" fill="#000" fill-opacity="0.21"/>
<ellipse cx="187.26" cy="238.86" rx="0.92" ry="0.88" transform="rotate(59 187.26 238.86)" stroke="#333" stroke-opacity="0.35" stroke-width="0.45" fill="#fff" fill-opacity="0.22"/>
<ellipse cx="194.3" cy="246.69" rx="2.07" ry="2" transform="rotate(153 194.3 246.69)" stroke="#333" stroke-opacity="0.48" stroke-width="0.45" fill="#fff" fill-opacity="0.23"/>
<ellipse cx="207.39" cy="237.69" rx="1.73" ry="1.22" transform="rotate(92 207.39 237.69)" stroke="#333" stroke-opacity="0.53" stroke-width="0.45" fill="#fff" fill-opacity="0.13"/>
<ellipse cx="203.95" cy="239.01" rx="1.31" ry="0.81" transform="rotate(124 203.95 239.01)" stroke="#333" stroke-opacity="0.46" stroke-width="0.45" fill="#000" fill-opacity="0.19"/>
<ellipse cx="194.54" cy="242.55" rx="1.39" ry="1.19" transform="rotate(29 194.54 242.55)" stroke="#333" stroke-opacity="0.5" stroke-width="0.45" fill="#000" fill-opacity="0.21"/>
<ellipse cx="184.63" cy="245.99" rx="1.98" ry="1.56" transform="rotate(95 184.63 245.99)" stroke="#333" stroke-opacity="0.49" stroke-width="0.45" fill="#fff" fill-opacity="0.14"/>
<ellipse cx="187.23" cy="234.93" rx="1.87" ry="1.15" transform="rotate(31 187.23 234.93)" stroke="#333" stroke-opacity="0.38" stroke-width="0.45" fill="#fff" fill-opacity="0.22"/>
<ellipse cx="194.05" cy="236.46" rx="2.03" ry="1.71" transform="rotate(155 194.05 236.46)" stroke="#333" stroke-opacity="0.38" stroke-width="0.45" fill="#000" fill-opacity="0.11"/>
<ellipse cx="198.3" cy="226.5" rx="1.9" ry="1.18" transform="rotate(49 198.3 226.5)" stroke="#333" stroke-opacity="0.57" stroke-width="0.45" fill="#fff" fill-opacity="0.05"/>
<ellipse cx="198.05" cy="246.09" rx="1.92" ry="1.45" transform="rotate(101 198.05 246.09)" stroke="#333" stroke-opacity="0.57" stroke-width="0.45" fill="#fff" fill-opacity="0.21"/>
<ellipse cx="204.27" cy="241.06" rx="1.9" ry="1.39" transform="rotate(96 204.27 241.06)" stroke="#333" stroke-opacity="0.51" stroke-width="0.45" fill="#000" fill-opacity="0.2"/>
<ellipse cx="204.33" cy="250.6" rx="2.04" ry="1.8" transform="rotate(38 204.33 250.6)" stroke="#333" stroke-opacity="0.41" stroke-width="0.45" fill="#000" fill-opacity="0.08"/>
<ellipse cx="184.41" cy="239.55" rx="1.49" ry="1.33" transform="rotate(26 184.41 239.55)" stroke="#333" stroke-opacity="0.47" stroke-width="0.45" fill="#000" fill-opacity="0.07"/>
<ellipse cx="186.25" cy="235.35" rx="1.23" ry="1.21" transform="rotate(55 186.25 235.35)" stroke="#333" stroke-opacity="0.56" stroke-width="0.45" fill="#000" fill-opacity="0.13"/>
<ellipse cx="182.1" cy="245.54" rx="1.4" ry="0.93" transform="rotate(177 182.1 245.54)" stroke="#333" stroke-opacity="0.54" stroke-width="0.45" fill="#000" fill-opacity="0.21"/>
<ellipse cx="189.1" cy="232.33" rx="2.16" ry="1.59" transform="rotate(43 189.1 232.33)" stroke="#333" stroke-opacity="0.34" stroke-width="0.45" fill="#000" fill-opacity="0.11"/>
<ellipse cx="177.56" cy="244.01" rx="1.96" ry="1.2" transform="rotate(176 177.56 244.01)" stroke="#333" stroke-opacity="0.45" stroke-width="0.45" fill="#fff" fill-opacity="0.2"/>
<ellipse cx="187.38" cy="237.84" rx="1.89" ry="1.28" transform="rotate(85 187.38 237.84)" stroke="#333" stroke-opacity="0.54" stroke-width="0.45" fill="#fff" fill-opacity="0.15"/>
<ellipse cx="189.35" cy="226.84" rx="1.66" ry="1.25" transform="rotate(15 189.35 226.84)" stroke="#333" stroke-opacity="0.52" stroke-width="0.45" fill="#fff" fill-opacity="0.05"/>
<ellipse cx="189.48" cy="231.05" rx="1.82" ry="1.23" transform="rotate(106 189.48 231.05)" stroke="#333" stroke-opacity="0.57" stroke-width="0.45" fill="#fff" fill-opacity="0.06"/>
<ellipse cx="195.84" cy="231.44" rx="0.92" ry="0.64" transform="rotate(18 195.84 231.44)" stroke="#333" stroke-opacity="0.53" stroke-width="0.45" fill="#000" fill-opacity="0.06"/>
<ellipse cx="196.94" cy="227.12" rx="0.92" ry="0.77" transform="rotate(10 196.94 227.12)" stroke="#333" stroke-opacity="0.38" stroke-width="0.45" fill="#fff" fill-opacity="0.24"/>
<ellipse cx="195.94" cy="227.81" rx="0.93" ry="0.6" transform="rotate(98 195.94 227.81)" stroke="#333" stroke-opacity="0.48" stroke-width="0.45" fill="#000" fill-opacity="0.19"/>
<ellipse cx="205.78" cy="242.58" rx="2.16" ry="2" transform="rotate(175 205.78 242.58)" stroke="#333" stroke-opacity="0.26" stroke-width="0.45" fill="#fff" fill-opacity="0.2"/>
<ellipse cx="201.94" cy="239.19" rx="1.57" ry="0.98" transform="rotate(50 201.94 239.19)" stroke="#333" stroke-opacity="0.26" stroke-width="0.45" fill="#000" fill-opacity="0.12"/>
<ellipse cx="184.61" cy="247.4" rx="0.96" ry="0.86" transform="rotate(119 184.61 247.4)" stroke="#333" stroke-opacity="0.25" stroke-width="0.45" fill="#000" fill-opacity="0.09"/>
<ellipse cx="187.29" cy="245.66" rx="1.14" ry="1.09" transform="rotate(76 187.29 245.66)" stroke="#333" stroke-opacity="0.45" stroke-width="0.45" fill="#000" fill-opacity="0.17"/>
<ellipse cx="205.95" cy="246.16" rx="1.36" ry="1.25" transform="rotate(148 205.95 246.16)" stroke="#333" stroke-opacity="0.43" stroke-width="0.45" fill="#000" fill-opacity="0.14"/>
<ellipse cx="198.17" cy="233.05" rx="1.31" ry="1.2" transform="rotate(20 198.17 233.05)" stroke="#333" stroke-opacity="0.28" stroke-width="0.45" fill="#000" fill-opacity="0.1"/>
<ellipse cx="178.12" cy="239.92" rx="1.38" ry="1.35" transform="rotate(26 178.12 239.92)" stroke="#333" stroke-opacity="0.58" stroke-width="0.45" fill="#000" fill-opacity="0.17"/>
<ellipse cx="202.01" cy="246.68" rx="1.83" ry="1.41" transform="rotate(3 202.01 246.68)" stroke="#333" stroke-opacity="0.28" stroke-width="0.45" fill="#fff" fill-opacity="0.24"/>
<ellipse cx="208.03" cy="232.6" rx="1.09" ry="0.89" transform="rotate(148 208.03 232.6)" stroke="#333" stroke-opacity="0.35" stroke-width="0.45" fill="#000" fill-opacity="0.1"/>
<ellipse cx="198.97" cy="223.81" rx="1.59" ry="1.07" transform="rotate(144 198.97 223.81)" stroke="#333" stroke-opacity="0.55" stroke-width="0.45" fill="#000" fill-opacity="0.2"/>
<ellipse cx="203.62" cy="243.36" rx="1.31" ry="0.88" transform="rotate(93 203.62 243.36)" stroke="#333" stroke-opacity="0.25" stroke-width="0.45" fill="#000" fill-opacity="0.04"/>
<ellipse cx="182.57" cy="243.47" rx="1.47" ry="1.07" transform="rotate(121 182.57 243.47)" stroke="#333" stroke-opacity="0.48" stroke-width="0.45" fill="#fff" fill-opacity="0.21"/>
<ellipse cx="186.43" cy="251.44" rx="1.58" ry="0.96" transform="rotate(69 186.43 251.44)" stroke="#333" stroke-opacity="0.59" stroke-width="0.45" fill="#000" fill-opacity="0.08"/>
<ellipse cx="188.3" cy="232.32" rx="1.68" ry="1.1" transform="rotate(30 188.3 232.32)" stroke="#333" stroke-opacity="0.36" stroke-width="0.45" fill="#fff" fill-opacity="0.12"/>
<ellipse cx="182.89" cy="237.44" rx="1.18" ry="0.77" transform="rotate(96 182.89 237.44)" stroke="#333" stroke-opacity="0.29" stroke-width="0.45" fill="#fff" fill-opacity="0.11"/>
<ellipse cx="189.39" cy="250.96" rx="1.85" ry="1.33" transform="rotate(47 189.39 250.96)" stroke="#333" stroke-opacity="0.5" stroke-width="0.45" fill="#fff" fill-opacity="0.19"/>
<ellipse cx="185.59" cy="250.99" rx="0.94" ry="0.57" transform="rotate(40 185.59 250.99)" stroke="#333" stroke-opacity="0.38" stroke-width="0.45" fill="#fff" fill-opacity="0.14"/>
<ellipse cx="208.47" cy="239.87" rx="1.62" ry="1.23" transform="rotate(23 208.47 239.87)" stroke="#333" stroke-opacity="0.51" stroke-width="0.45" fill="#fff" fill-opacity="0.17"/>
<ellipse cx="188.98" cy="245.47" rx="1.59" ry="1.18" transform="rotate(53 188.98 245.47)" stroke="#333" stroke-opacity="0.3" stroke-width="0.45" fill="#fff" fill-opacity="0.04"/>
<ellipse cx="190.56" cy="244.89" rx="1.54" ry="1.16" transform="rotate(116 190.56 244.89)" stroke="#333" stroke-opacity="0.51" stroke-width="0.45" fill="#000" fill-opacity="0.13"/>
<ellipse cx="187.86" cy="244.98" rx="1.39" ry="1.23" transform="rotate(64 187.86 244.98)" stroke="#333" stroke-opacity="0.26" stroke-width="0.45" fill="#fff" fill-opacity="0.13"/>
<ellipse cx="181.29" cy="240.08" rx="2.19" ry="1.84" transform="rotate(135 181.29 240.08)" stroke="#333" stroke-opacity="0.31" stroke-width="0.45" fill="#000" fill-opacity="0.04"/>
<ellipse cx="199.66" cy="233.54" rx="1.24" ry="0.81" transform="rotate(94 199.66 233.54)" stroke="#333" stroke-opacity="0.37" stroke-width="0.45" fill="#000" fill-opacity="0.15"/>
<ellipse cx="183.83" cy="248.66" rx="2" ry="1.71" transform="rotate(160 183.83 248.66)" stroke="#333" stroke-opacity="0.57" stroke-width="0.45" fill="#fff" fill-opacity="0.12"/>
<ellipse cx="196.1" cy="233.58" rx="1.42" ry="1.21" transform="rotate(150 196.1 233.58)" stroke="#333" stroke-opacity="0.28" stroke-width="0.45" fill="#000" fill-opacity="0.2"/>
<ellipse cx="193.26" cy="224.63" rx="1.38" ry="0.95" transform="rotate(153 193.26 224.63)" stroke="#333" stroke-opacity="0.47" stroke-width="0.45" fill="#000" fill-opacity="0.13"/>
<ellipse cx="196.15" cy="224.15" rx="1.68" ry="1.15" transform="rotate(29 196.15 224.15)" stroke="#333" stroke-opacity="0.4" stroke-width="0.45" fill="#000" fill-opacity="0.1"/>
<ellipse cx="192.83" cy="248.29" rx="1.51" ry="1.4" transform="rotate(40 192.83 248.29)" stroke="#333" stroke-opacity="0.44" stroke-width="0.45" fill="#fff" fill-opacity="0.22"/>
<ellipse cx="209.32" cy="241.16" rx="2.16" ry="1.5" transform="rotate(91 209.32 241.16)" stroke="#333" stroke-opacity="0.53" stroke-width="0.45" fill="#fff" fill-opacity="0.21"/>
<ellipse cx="202.87" cy="225.3" rx="2.15" ry="1.95" transform="rotate(166 202.87 225.3)" stroke="#333" stroke-opacity="0.59" stroke-width="0.45" fill="#000" fill-opacity="0.06"/>
<ellipse cx="183.08" cy="227.12" rx="0.96" ry="0.59" transform="rotate(139 183.08 227.12)" stroke="#333" stroke-opacity="0.54" stroke-width="0.45" fill="#000" fill-opacity="0.04"/>
<ellipse cx="206.26" cy="246.2" rx="1.18" ry="0.8" transform="rotate(5 206.26 246.2)" stroke="#333" stroke-opacity="0.39" stroke-width="0.45" fill="#000" fill-opacity="0.16"/>
<ellipse cx="193.08" cy="253.83" rx="1.93" ry="1.33" transform="rotate(45 193.08 253.83)" stroke="#333" stroke-opacity="0.56" stroke-width="0.45" fill="#000" fill-opacity="0.19"/>
<ellipse cx="204.66" cy="240.34" rx="1.19" ry="1.01" transform="rotate(24 204.66 240.34)" stroke="#333" stroke-opacity="0.27" stroke-width="0.45" fill="#fff" fill-opacity="0.08"/>
<ellipse cx="200.69" cy="248.06" rx="1.68" ry="1.43" transform="rotate(36 200.69 248.06)" stroke="#333" stroke-opacity="0.41" stroke-width="0.45" fill="#000" fill-opacity="0.24"/>
<ellipse cx="208.16" cy="236.37" rx="1.43" ry="1.36" transform="rotate(68 208.16 236.37)" stroke="#333" stroke-opacity="0.47" stroke-width="0.45" fill="#fff" fill-opacity="0.18"/>
<ellipse cx="202.04" cy="235.58" rx="1.14" ry="1.02" transform="rotate(21 202.04 235.58)" stroke="#333" stroke-opacity="0.54" stroke-width="0.45" fill="#000" fill-opacity="0.04"/>
<ellipse cx="179.5" cy="243.64" rx="1.13" ry="1.03" transform="rotate(136 179.5 243.64)" stroke="#333" stroke-opacity="0.58" stroke-width="0.45" fill="#fff" fill-opacity="0.05"/>
<ellipse cx="190.85" cy="253.71" rx="1.67" ry="1.53" transform="rotate(131 190.85 253.71)" stroke="#333" stroke-opacity="0.48" stroke-width="0.45" fill="#fff" fill-opacity="0.1"/>
<ellipse cx="206.88" cy="239.32" rx="2.15" ry="2.02" transform="rotate(90 206.88 239.32)" stroke="#333" stroke-opacity="0.56" stroke-width="0.45" fill="#fff" fill-opacity="0.12"/>
<ellipse cx="186.76" cy="239.11" rx="1.47" ry="1.33" transform="rotate(137 186.76 239.11)" stroke="#333" stroke-opacity="0.39" stroke-width="0.45" fill="#fff" fill-opacity="0.23"/>
<ellipse cx="181.13" cy="238.39" rx="1.6" ry="1.52" transform="rotate(19 181.13 238.39)" stroke="#333" stroke-opacity="0.56" stroke-width="0.45" fill="#000" fill-opacity="0.04"/>
<ellipse cx="192.26" cy="247.05" rx="0.99" ry="0.88" transform="rotate(9 192.26 247.05)" stroke="#333" stroke-opacity="0.32" stroke-width="0.45" fill="#000" fill-opacity="0.15"/>
<ellipse cx="205.13" cy="248.6" rx="2.04" ry="1.75" transform="rotate(137 205.13 248.6)" stroke="#333" stroke-opacity="0.58" stroke-width="0.45" fill="#000" fill-opacity="0.16"/>
<ellipse cx="195.73" cy="238.91" rx="1.14" ry="0.88" transform="rotate(10 195.73 238.91)" stroke="#333" stroke-opacity="0.31" stroke-width="0.45" fill="#000" fill-opacity="0.09"/>
<ellipse cx="198.68" cy="236.98" rx="1.87" ry="1.64" transform="rotate(31 198.68 236.98)" stroke="#333" stroke-opacity="0.38" stroke-width="0.45" fill="#fff" fill-opacity="0.18"/>
<ellipse cx="187.63" cy="226.12" rx="1.01" ry="0.76" transform="rotate(18 187.63 226.12)" stroke="#333" stroke-opacity="0.57" stroke-width="0.45" fill="#000" fill-opacity="0.17"/>
<ellipse cx="194.45" cy="251.6" rx="1.34" ry="0.98" transform="rotate(71 194.45 251.6)" stroke="#333" stroke-opacity="0.31" stroke-width="0.45" fill="#000" fill-opacity="0.15"/>
<ellipse cx="189.37" cy="231.14" rx="1.66" ry="1.36" transform="rotate(113 189.37 231.14)" stroke="#333" stroke-opacity="0.33" stroke-width="0.45" fill="#fff" fill-opacity="0.12"/>
<ellipse cx="204.75" cy="240.54" rx="1.03" ry="0.65" transform="rotate(56 204.75 240.54)" stroke="#333" stroke-opacity="0.35" stroke-width="0.45" fill="#000" fill-opacity="0.13"/>
<ellipse cx="198.77" cy="226.82" rx="0.92" ry="0.61" transform="rotate(110 198.77 226.82)" stroke="#333" stroke-opacity="0.26" stroke-width="0.45" fill="#fff" fill-opacity="0.14"/>
<ellipse cx="190.65" cy="254.89" rx="1.29" ry="1.02" transform="rotate(8 190.65 254.89)" stroke="#333" stroke-opacity="0.5" stroke-width="0.45" fill="#fff" fill-opacity="0.06"/>
<ellipse cx="201.07" cy="231.81" rx="1" ry="0.62" transform="rotate(61 201.07 231.81)" stroke="#333" stroke-opacity="0.44" stroke-width="0.45" fill="#000" fill-opacity="0.04"/>
<ellipse cx="194.25" cy="230.87" rx="1.12" ry="1" transform="rotate(107 194.25 230.87)" stroke="#333" stroke-opacity="0.25" stroke-width="0.45" fill="#fff" fill-opacity="0.08"/>
<ellipse cx="195.84" cy="230.07" rx="1.93" ry="1.77" transform="rotate(0 195.84 230.07)" stroke="#333" stroke-opacity="0.49" stroke-width="0.45" fill="#000" fill-opacity="0.14"/>
<ellipse cx="193.71" cy="248.21" rx="2.2" ry="1.56" transform="rotate(70 193.71 248.21)" stroke="#333" stroke-opacity="0.43" stroke-width="0.45" fill="#000" fill-opacity="0.11"/>
<ellipse cx="191.93" cy="223.5" rx="1.81" ry="1.46" transform="rotate(52 191.93 223.5)" stroke="#333" stroke-opacity="0.44" stroke-width="0.45" fill="#fff" fill-opacity="0.14"/>
<ellipse cx="192.89" cy="233.63" rx="2.14" ry="1.77" transform="rotate(29 192.89 233.63)" stroke="#333" stroke-opacity="0.36" stroke-width="0.45" fill="#fff" fill-opacity="0.19"/>
<ellipse cx="206.76" cy="246.46" rx="1.27" ry="1.14" transform="rotate(65 206.76 246.46)" stroke="#333" stroke-opacity="0.42" stroke-width="0.45" fill="#000" fill-opacity="0.14"/>
<ellipse cx="207.74" cy="235" rx="1.28" ry="0.84" transform="rotate(5 207.74 235)" stroke="#333" stroke-opacity="0.28" stroke-width="0.45" fill="#fff" fill-opacity="0.21"/>
<ellipse cx="206.57" cy="229.13" rx="1.65" ry="1.58" transform="rotate(161 206.57 229.13)" stroke="#333" stroke-opacity="0.42" stroke-width="0.45" fill="#fff" fill-opacity="0.08"/>
<ellipse cx="191.6" cy="236.86" rx="1.93" ry="1.62" transform="rotate(153 191.6 236.86)" stroke="#333" stroke-opacity="0.41" stroke-width="0.45" fill="#fff" fill-opacity="0.21"/>
<ellipse cx="208.67" cy="241.88" rx="1.94" ry="1.71" transform="rotate(54 208.67 241.88)" stroke="#333" stroke-opacity="0.43" stroke-width="0.45" fill="#fff" fill-opacity="0.21"/>
<ellipse cx="199.89" cy="233.46" rx="1.17" ry="0.7" transform="rotate(33 199.89 233.46)" stroke="#333" stroke-opacity="0.29" stroke-width="0.45" fill="#000" fill-opacity="0.11"/>
<ellipse cx="181.48" cy="236.72" rx="1.65" ry="1.54" transform="rotate(72 181.48 236.72)" stroke="#333" stroke-opacity="0.26" stroke-width="0.45" fill="#fff" fill-opacity="0.14"/>
<ellipse cx="200.36" cy="243.42" rx="2.06" ry="1.63" transform="rotate(40 200.36 243.42)" stroke="#333" stroke-opacity="0.37" stroke-width="0.45" fill="#fff" fill-opacity="0.1"/>
<ellipse cx="184.06" cy="244.06" rx="1.83" ry="1.61" transform="rotate(106 184.06 244.06)" stroke="#333" stroke-opacity="0.53" stroke-width="0.45" fill="#000" fill-opacity="0.2"/>
<ellipse cx="189.61" cy="223.32" rx="0.98" ry="0.71" transform="rotate(73 189.61 223.32)" stroke="#333" stroke-opacity="0.33" stroke-width="0.45" fill="#000" fill-opacity="0.05"/>
<ellipse cx="184.32" cy="240.82" rx="1.39" ry="1.36" transform="rotate(176 184.32 240.82)" stroke="#333" stroke-opacity="0.45" stroke-width="0.45" fill="#fff" fill-opacity="0.2"/>
<ellipse cx="208.37" cy="240.24" rx="1.08" ry="0.84" transform="rotate(169 208.37 240.24)" stroke="#333" stroke-opacity="0.39" stroke-width="0.45" fill="#000" fill-opacity="0.05"/>
<ellipse cx="190.09" cy="239.54" rx="1.91" ry="1.18" transform="rotate(155 190.09 239.54)" stroke="#333" stroke-opacity="0.54" stroke-width="0.45" fill="#fff" fill-opacity="0.2"/>
<ellipse cx="197.06" cy="247.58" rx="1.06" ry="0.75" transform="rotate(77 197.06 247.58)" stroke="#333" stroke-opacity="0.27" stroke-width="0.45" fill="#fff" fill-opacity="0.14"/>
<ellipse cx="180.47" cy="229.48" rx="1.98" ry="1.74" transform="rotate(68 180.47 229.48)" stroke="#333" stroke-opacity="0.4" stroke-width="0.45" fill="#fff" fill-opacity="0.25"/>
<ellipse cx="178.26" cy="241.02" rx="1.5" ry="0.93" transform="rotate(164 178.26 241.02)" stroke="#333" stroke-opacity="0.44" stroke-width="0.45" fill="#fff" fill-opacity="0.06"/>
<ellipse cx="199.48" cy="250.71" rx="1.57" ry="1.22" transform="rotate(135 199.48 250.71)" stroke="#333" stroke-opacity="0.45" stroke-width="0.45" fill="#000" fill-opacity="0.13"/>
<ellipse cx="193.54" cy="232.38" rx="0.97" ry="0.63" transform="rotate(140 193.54 232.38)" stroke="#333" stroke-opacity="0.43" stroke-width="0.45" fill="#fff" fill-opacity="0.25"/>
<ellipse cx="205.25" cy="235.73" rx="0.99" ry="0.9" transform="rotate(118 205.25 235.73)" stroke="#333" stroke-opacity="0.51" stroke-width="0.45" fill="#000" fill-opacity="0.08"/>
<ellipse cx="185.17" cy="230.33" rx="1.12" ry="0.74" transform="rotate(11 185.17 230.33)" stroke="#333" stroke-opacity="0.28" stroke-width="0.45" fill="#000" fill-opacity="0.15"/>
<ellipse cx="202.19" cy="227.72" rx="1.54" ry="1.04" transform="rotate(28 202.19 227.72)" stroke="#333" stroke-opacity="0.26" stroke-width="0.45" fill="#000" fill-opacity="0.25"/>
<ellipse cx="181.45" cy="239.64" rx="1.43" ry="1.25" transform="rotate(33 181.45 239.64)" stroke="#333" stroke-opacity="0.49" stroke-width="0.45" fill="#fff" fill-opacity="0.13"/>
<ellipse cx="186.06" cy="224.14" rx="1.31" ry="1.07" transform="rotate(2 186.06 224.14)" stroke="#333" stroke-opacity="0.5" stroke-width="0.45" fill="#fff" fill-opacity="0.12"/>
<ellipse cx="193.69" cy="245.67" rx="0.94" ry="0.72" transform="rotate(28 193.69 245.67)" stroke="#333" stroke-opacity="0.26" stroke-width="0.45" fill="#000" fill-opacity="0.12"/>
<ellipse cx="197.32" cy="231.48" rx="1.5" ry="1.13" transform="rotate(32 197.32 231.48)" stroke="#333" stroke-opacity="0.31" stroke-width="0.45" fill="#fff" fill-opacity="0.05"/>
<ellipse cx="189.04" cy="247.45" rx="1.47" ry="1.08" transform="rotate(0 189.04 247.45)" stroke="#333" stroke-opacity="0.42" stroke-width="0.45" fill="#fff" fill-opacity="0.24"/>
<ellipse cx="177.35" cy="241.86" rx="1.19" ry="0.81" transform="rotate(94 177.35 241.86)" stroke="#333" stroke-opacity="0.35" stroke-width="0.45" fill="#000" fill-opacity="0.1"/>
<ellipse cx="208.37" cy="240.21" rx="1.69" ry="1.67" transform="rotate(36 208.37 240.21)" stroke="#333" stroke-opacity="0.51" stroke-width="0.45" fill="#fff" fill-opacity="0.24"/>
</g>
<path d="M210.2 238.9 L210.3 240.6 L209.6 242.2 L209.7 243.9 L209.5 245.6 L208.8 247.1 L207.8 248.4 L206.3 249.3 L205.8 250.9 L204.6 251.8 L202.9 252.0 L201.9 253.0 L200.4 253.1 L199.3 253.9 L198.2 254.9 L197.0 255.5 L195.9 256.9 L194.5 257.7 L193.0 257.5 L191.5 257.6 L190.1 257.1 L188.8 256.5 L187.3 256.3 L186.1 255.3 L185.2 253.9 L183.9 253.4 L182.8 252.4 L181.4 251.8 L180.5 250.6 L179.6 249.3 L178.9 248.0 L177.8 246.8 L177.2 245.3 L177.2 243.6 L176.9 242.1 L175.9 240.6 L176.4 238.9 L176.0 237.2 L176.5 235.7 L176.8 234.1 L177.8 232.8 L178.6 231.4 L179.3 230.1 L180.3 229.0 L181.4 228.1 L182.5 227.2 L183.3 226.0 L184.3 225.0 L185.3 224.0 L186.2 222.6 L187.2 221.2 L188.7 221.1 L190.1 220.5 L191.5 219.3 L193.0 219.7 L194.5 219.2 L196.1 219.4 L197.6 219.7 L198.9 220.9 L200.1 222.0 L201.4 222.8 L202.2 224.2 L202.9 225.7 L203.7 227.0 L204.2 228.4 L205.2 229.4 L205.6 230.8 L206.9 231.7 L208.2 232.8 L208.6 234.3 L209.6 235.6 L209.9 237.3Z" fill="none" stroke="#4a4a4a" stroke-width="1.1" stroke-opacity="0.85"/>
<rect x="222.9" y="212.7" width="57" height="56.9" fill="#d6d6d6"/>
<circle cx="231" cy="236" r="1.2" fill="#c6c6c6"/>
<circle cx="236" cy="238" r="1" fill="#c2c2c2"/>
<circle cx="262" cy="216.5" r="1" fill="#c4c4c4"/>
<circle cx="266" cy="223" r="1.2" fill="#c0c0c0"/>
<circle cx="261" cy="227" r="1" fill="#c4c4c4"/>
<circle cx="269" cy="231" r="1" fill="#c4c4c4"/>
<circle cx="226" cy="241" r="1" fill="#c8c8c8"/>
<circle cx="240" cy="262" r="1" fill="#c8c8c8"/>
<circle cx="264" cy="258" r="0.8" fill="#c8c8c8"/>
<circle cx="244" cy="251" r="0.8" fill="#cacaca"/>
<path d="M257.3 240.0 L257.4 240.5 L257.3 241.0 L257.2 241.5 L257.1 242.0 L256.9 242.5 L256.7 243.0 L256.4 243.4 L256.0 243.8 L255.6 244.1 L255.1 244.3 L254.6 244.4 L254.1 244.5 L253.6 244.5 L253.1 244.5 L252.7 244.6 L252.3 244.8 L251.9 245.0 L251.5 245.3 L251.0 245.6 L250.5 245.8 L249.9 245.9 L249.4 245.8 L248.9 245.5 L248.5 245.2 L248.1 244.9 L247.7 244.5 L247.4 244.1 L247.1 243.7 L246.8 243.3 L246.5 242.9 L246.3 242.4 L246.2 241.9 L246.1 241.4 L246.1 241.0 L246.1 240.5 L246.1 240.0 L246.2 239.5 L246.3 239.1 L246.4 238.6 L246.5 238.2 L246.7 237.8 L247.0 237.4 L247.2 237.0 L247.5 236.6 L247.7 236.2 L247.9 235.7 L248.2 235.3 L248.5 234.8 L248.9 234.3 L249.3 234.0 L249.8 233.8 L250.4 233.8 L251.0 233.9 L251.5 234.1 L252.0 234.5 L252.4 234.8 L252.8 235.0 L253.2 235.2 L253.6 235.4 L254.1 235.5 L254.5 235.7 L254.9 235.9 L255.3 236.2 L255.7 236.5 L256.0 236.9 L256.2 237.3 L256.5 237.7 L256.7 238.1 L256.9 238.5 L257.1 239.0 L257.2 239.5Z" fill="url(#r15)"/>
<g clip-path="url(#c14)" fill="none">
<ellipse cx="248.33" cy="243.17" rx="2.15" ry="1.36" transform="rotate(167 248.33 243.17)" stroke="#666" stroke-opacity="0.46" stroke-width="0.4" fill="#fff" fill-opacity="0.14"/>
<ellipse cx="249.13" cy="240.41" rx="1.71" ry="1.55" transform="rotate(123 249.13 240.41)" stroke="#666" stroke-opacity="0.37" stroke-width="0.4" fill="#fff" fill-opacity="0.08"/>
<ellipse cx="256.3" cy="240.15" rx="2.16" ry="2" transform="rotate(52 256.3 240.15)" stroke="#666" stroke-opacity="0.58" stroke-width="0.4" fill="#fff" fill-opacity="0.08"/>
<ellipse cx="251.71" cy="237.2" rx="2.07" ry="1.69" transform="rotate(14 251.71 237.2)" stroke="#666" stroke-opacity="0.37" stroke-width="0.4" fill="#000" fill-opacity="0.13"/>
<ellipse cx="250.89" cy="237.65" rx="2.19" ry="1.65" transform="rotate(104 250.89 237.65)" stroke="#666" stroke-opacity="0.39" stroke-width="0.4" fill="#000" fill-opacity="0.14"/>
<ellipse cx="250.12" cy="240.5" rx="1.4" ry="1.11" transform="rotate(149 250.12 240.5)" stroke="#666" stroke-opacity="0.4" stroke-width="0.4" fill="#fff" fill-opacity="0.1"/>
</g>
<path d="M257.3 240.0 L257.4 240.5 L257.3 241.0 L257.2 241.5 L257.1 242.0 L256.9 242.5 L256.7 243.0 L256.4 243.4 L256.0 243.8 L255.6 244.1 L255.1 244.3 L254.6 244.4 L254.1 244.5 L253.6 244.5 L253.1 244.5 L252.7 244.6 L252.3 244.8 L251.9 245.0 L251.5 245.3 L251.0 245.6 L250.5 245.8 L249.9 245.9 L249.4 245.8 L248.9 245.5 L248.5 245.2 L248.1 244.9 L247.7 244.5 L247.4 244.1 L247.1 243.7 L246.8 243.3 L246.5 242.9 L246.3 242.4 L246.2 241.9 L246.1 241.4 L246.1 241.0 L246.1 240.5 L246.1 240.0 L246.2 239.5 L246.3 239.1 L246.4 238.6 L246.5 238.2 L246.7 237.8 L247.0 237.4 L247.2 237.0 L247.5 236.6 L247.7 236.2 L247.9 235.7 L248.2 235.3 L248.5 234.8 L248.9 234.3 L249.3 234.0 L249.8 233.8 L250.4 233.8 L251.0 233.9 L251.5 234.1 L252.0 234.5 L252.4 234.8 L252.8 235.0 L253.2 235.2 L253.6 235.4 L254.1 235.5 L254.5 235.7 L254.9 235.9 L255.3 236.2 L255.7 236.5 L256.0 236.9 L256.2 237.3 L256.5 237.7 L256.7 238.1 L256.9 238.5 L257.1 239.0 L257.2 239.5Z" fill="none" stroke="#8a8a8a" stroke-width="0.6" stroke-opacity="1"/>
<rect x="282.8" y="212.7" width="56.9" height="56.9" fill="#dcdcdc"/>
<circle cx="300" cy="225" r="1" fill="#c8c8c8"/>
<circle cx="334" cy="258" r="1" fill="#cccccc"/>
<path d="M328.2 241.3 L327.7 242.6 L327.9 244.0 L327.9 245.4 L327.4 246.6 L326.9 247.9 L325.5 248.7 L325.0 250.0 L324.0 250.9 L323.9 252.6 L322.7 253.4 L321.9 254.8 L320.6 255.5 L319.5 256.5 L317.9 256.8 L316.6 257.5 L315.1 258.0 L313.4 256.9 L312.0 256.4 L310.6 256.4 L309.5 254.8 L308.3 254.4 L306.9 254.6 L305.5 254.6 L304.6 253.4 L302.9 253.7 L301.5 253.2 L300.9 251.9 L299.3 251.5 L298.4 250.4 L297.5 249.2 L296.3 248.3 L296.6 246.6 L295.8 245.4 L294.9 244.2 L295.2 242.7 L295.3 241.3 L295.0 239.9 L295.2 238.5 L296.4 237.3 L296.6 236.0 L297.4 234.8 L297.9 233.5 L298.4 232.2 L299.2 231.1 L300.9 230.7 L301.6 229.5 L303.1 229.2 L304.6 229.2 L305.9 228.9 L307.1 228.4 L308.2 228.0 L309.3 226.5 L310.6 226.0 L312.0 225.8 L313.5 224.9 L315.1 224.7 L316.5 225.3 L318.3 225.0 L319.4 226.1 L320.5 227.3 L321.6 228.3 L322.7 229.2 L323.8 230.1 L324.8 231.1 L325.5 232.3 L325.8 233.7 L325.9 235.1 L327.2 236.1 L326.9 237.5 L327.0 238.8 L327.9 240.0Z" fill="url(#r17)"/>
<g clip-path="url(#c16)" fill="none">
<ellipse cx="314.6" cy="237.81" rx="2.06" ry="1.6" transform="rotate(96 314.6 237.81)" stroke="#333" stroke-opacity="0.54" stroke-width="0.45" fill="#fff" fill-opacity="0.18"/>
<ellipse cx="306.65" cy="229.02" rx="1.91" ry="1.64" transform="rotate(132 306.65 229.02)" stroke="#333" stroke-opacity="0.54" stroke-width="0.45" fill="#fff" fill-opacity="0.05"/>
<ellipse cx="316.01" cy="244.12" rx="2.15" ry="1.64" transform="rotate(65 316.01 244.12)" stroke="#333" stroke-opacity="0.52" stroke-width="0.45" fill="#000" fill-opacity="0.06"/>
<ellipse cx="304.73" cy="241.31" rx="1.09" ry="0.74" transform="rotate(1 304.73 241.31)" stroke="#333" stroke-opacity="0.4" stroke-width="0.45" fill="#fff" fill-opacity="0.03"/>
<ellipse cx="317.97" cy="242.97" rx="1.42" ry="1.21" transform="rotate(73 317.97 242.97)" stroke="#333" stroke-opacity="0.27" stroke-width="0.45" fill="#fff" fill-opacity="0.24"/>
<ellipse cx="310" cy="248.62" rx="1.29" ry="0.85" transform="rotate(102 310 248.62)" stroke="#333" stroke-opacity="0.46" stroke-width="0.45" fill="#000" fill-opacity="0.16"/>
<ellipse cx="300.8" cy="231.43" rx="1.85" ry="1.67" transform="rotate(88 300.8 231.43)" stroke="#333" stroke-opacity="0.44" stroke-width="0.45" fill="#000" fill-opacity="0.13"/>
<ellipse cx="309.08" cy="241.62" rx="1.98" ry="1.36" transform="rotate(15 309.08 241.62)" stroke="#333" stroke-opacity="0.36" stroke-width="0.45" fill="#fff" fill-opacity="0.07"/>
<ellipse cx="306.12" cy="227.89" rx="1.91" ry="1.4" transform="rotate(89 306.12 227.89)" stroke="#333" stroke-opacity="0.45" stroke-width="0.45" fill="#fff" fill-opacity="0.2"/>
<ellipse cx="320.65" cy="236.95" rx="1.22" ry="0.96" transform="rotate(128 320.65 236.95)" stroke="#333" stroke-opacity="0.32" stroke-width="0.45" fill="#000" fill-opacity="0.12"/>
<ellipse cx="314.07" cy="229.57" rx="1.4" ry="0.97" transform="rotate(98 314.07 229.57)" stroke="#333" stroke-opacity="0.38" stroke-width="0.45" fill="#fff" fill-opacity="0.14"/>
<ellipse cx="312.31" cy="254.45" rx="1.97" ry="1.32" transform="rotate(127 312.31 254.45)" stroke="#333" stroke-opacity="0.27" stroke-width="0.45" fill="#000" fill-opacity="0.14"/>
<ellipse cx="315.84" cy="242.59" rx="1.92" ry="1.74" transform="rotate(104 315.84 242.59)" stroke="#333" stroke-opacity="0.37" stroke-width="0.45" fill="#000" fill-opacity="0.22"/>
<ellipse cx="322.15" cy="243.68" rx="1.71" ry="1.42" transform="rotate(51 322.15 243.68)" stroke="#333" stroke-opacity="0.54" stroke-width="0.45" fill="#000" fill-opacity="0.2"/>
<ellipse cx="307.56" cy="233.05" rx="1.22" ry="1.13" transform="rotate(95 307.56 233.05)" stroke="#333" stroke-opacity="0.55" stroke-width="0.45" fill="#fff" fill-opacity="0.11"/>
<ellipse cx="315.66" cy="237.59" rx="1.64" ry="1.64" transform="rotate(14 315.66 237.59)" stroke="#333" stroke-opacity="0.36" stroke-width="0.45" fill="#000" fill-opacity="0.17"/>
<ellipse cx="323.36" cy="244.27" rx="1.29" ry="1.05" transform="rotate(23 323.36 244.27)" stroke="#333" stroke-opacity="0.43" stroke-width="0.45" fill="#000" fill-opacity="0.23"/>
<ellipse cx="313.81" cy="238.71" rx="1.4" ry="1.14" transform="rotate(156 313.81 238.71)" stroke="#333" stroke-opacity="0.46" stroke-width="0.45" fill="#000" fill-opacity="0.18"/>
<ellipse cx="313.22" cy="241.89" rx="1.92" ry="1.15" transform="rotate(17 313.22 241.89)" stroke="#333" stroke-opacity="0.52" stroke-width="0.45" fill="#fff" fill-opacity="0.03"/>
<ellipse cx="298.9" cy="248.66" rx="1.4" ry="1.02" transform="rotate(126 298.9 248.66)" stroke="#333" stroke-opacity="0.53" stroke-width="0.45" fill="#000" fill-opacity="0.15"/>
<ellipse cx="301.55" cy="243.79" rx="2.09" ry="1.32" transform="rotate(170 301.55 243.79)" stroke="#333" stroke-opacity="0.32" stroke-width="0.45" fill="#000" fill-opacity="0.2"/>
<ellipse cx="323.93" cy="247.97" rx="1.34" ry="1.29" transform="rotate(169 323.93 247.97)" stroke="#333" stroke-opacity="0.56" stroke-width="0.45" fill="#fff" fill-opacity="0.04"/>
<ellipse cx="312.16" cy="252.03" rx="2.03" ry="1.56" transform="rotate(110 312.16 252.03)" stroke="#333" stroke-opacity="0.28" stroke-width="0.45" fill="#fff" fill-opacity="0.04"/>
<ellipse cx="310.44" cy="245.77" rx="1" ry="0.99" transform="rotate(3 310.44 245.77)" stroke="#333" stroke-opacity="0.48" stroke-width="0.45" fill="#fff" fill-opacity="0.07"/>
<ellipse cx="324.61" cy="245.17" rx="1.46" ry="1.08" transform="rotate(55 324.61 245.17)" stroke="#333" stroke-opacity="0.48" stroke-width="0.45" fill="#fff" fill-opacity="0.16"/>
<ellipse cx="312.7" cy="248.81" rx="1.63" ry="1.47" transform="rotate(52 312.7 248.81)" stroke="#333" stroke-opacity="0.31" stroke-width="0.45" fill="#fff" fill-opacity="0.14"/>
<ellipse cx="300.31" cy="246.81" rx="1.28" ry="1.15" transform="rotate(117 300.31 246.81)" stroke="#333" stroke-opacity="0.59" stroke-width="0.45" fill="#fff" fill-opacity="0.23"/>
<ellipse cx="320.27" cy="247.2" rx="2.01" ry="1.2" transform="rotate(42 320.27 247.2)" stroke="#333" stroke-opacity="0.31" stroke-width="0.45" fill="#000" fill-opacity="0.2"/>
<ellipse cx="312.87" cy="233.97" rx="1.08" ry="0.85" transform="rotate(101 312.87 233.97)" stroke="#333" stroke-opacity="0.49" stroke-width="0.45" fill="#000" fill-opacity="0.19"/>
<ellipse cx="313.61" cy="243.87" rx="1.02" ry="0.72" transform="rotate(31 313.61 243.87)" stroke="#333" stroke-opacity="0.3" stroke-width="0.45" fill="#000" fill-opacity="0.24"/>
<ellipse cx="298.41" cy="233.82" rx="1.14" ry="0.91" transform="rotate(163 298.41 233.82)" stroke="#333" stroke-opacity="0.35" stroke-width="0.45" fill="#000" fill-opacity="0.03"/>
<ellipse cx="319.73" cy="251.79" rx="1.48" ry="1.42" transform="rotate(48 319.73 251.79)" stroke="#333" stroke-opacity="0.45" stroke-width="0.45" fill="#fff" fill-opacity="0.09"/>
<ellipse cx="303.03" cy="245.46" rx="1.7" ry="1.42" transform="rotate(46 303.03 245.46)" stroke="#333" stroke-opacity="0.58" stroke-width="0.45" fill="#fff" fill-opacity="0.04"/>
<ellipse cx="321.71" cy="253.73" rx="1.09" ry="0.84" transform="rotate(132 321.71 253.73)" stroke="#333" stroke-opacity="0.4" stroke-width="0.45" fill="#fff" fill-opacity="0.21"/>
<ellipse cx="321.07" cy="250.92" rx="1.47" ry="0.9" transform="rotate(104 321.07 250.92)" stroke="#333" stroke-opacity="0.57" stroke-width="0.45" fill="#000" fill-opacity="0.11"/>
<ellipse cx="316.1" cy="237.11" rx="2.18" ry="1.53" transform="rotate(160 316.1 237.11)" stroke="#333" stroke-opacity="0.37" stroke-width="0.45" fill="#000" fill-opacity="0.22"/>
<ellipse cx="301.11" cy="238.89" rx="2.11" ry="2" transform="rotate(18 301.11 238.89)" stroke="#333" stroke-opacity="0.48" stroke-width="0.45" fill="#fff" fill-opacity="0.11"/>
<ellipse cx="319.36" cy="248.78" rx="2.14" ry="2.13" transform="rotate(49 319.36 248.78)" stroke="#333" stroke-opacity="0.59" stroke-width="0.45" fill="#fff" fill-opacity="0.07"/>
<ellipse cx="305.73" cy="233.88" rx="1.96" ry="1.71" transform="rotate(108 305.73 233.88)" stroke="#333" stroke-opacity="0.45" stroke-width="0.45" fill="#000" fill-opacity="0.24"/>
<ellipse cx="303.08" cy="234.85" rx="1.28" ry="0.82" transform="rotate(88 303.08 234.85)" stroke="#333" stroke-opacity="0.27" stroke-width="0.45" fill="#000" fill-opacity="0.18"/>
<ellipse cx="324.74" cy="250.04" rx="1.43" ry="1.03" transform="rotate(112 324.74 250.04)" stroke="#333" stroke-opacity="0.33" stroke-width="0.45" fill="#000" fill-opacity="0.22"/>
<ellipse cx="314.3" cy="244.13" rx="1.03" ry="0.67" transform="rotate(14 314.3 244.13)" stroke="#333" stroke-opacity="0.59" stroke-width="0.45" fill="#fff" fill-opacity="0.13"/>
<ellipse cx="309.04" cy="253.59" rx="1.56" ry="1.19" transform="rotate(51 309.04 253.59)" stroke="#333" stroke-opacity="0.54" stroke-width="0.45" fill="#fff" fill-opacity="0.24"/>
<ellipse cx="312.97" cy="235.42" rx="1.21" ry="0.79" transform="rotate(140 312.97 235.42)" stroke="#333" stroke-opacity="0.58" stroke-width="0.45" fill="#000" fill-opacity="0.06"/>
<ellipse cx="305.77" cy="250.29" rx="1.73" ry="1.23" transform="rotate(143 305.77 250.29)" stroke="#333" stroke-opacity="0.45" stroke-width="0.45" fill="#fff" fill-opacity="0.16"/>
<ellipse cx="309.3" cy="245.18" rx="1.38" ry="1.34" transform="rotate(93 309.3 245.18)" stroke="#333" stroke-opacity="0.47" stroke-width="0.45" fill="#000" fill-opacity="0.07"/>
<ellipse cx="302.63" cy="251.83" rx="1.16" ry="1.06" transform="rotate(17 302.63 251.83)" stroke="#333" stroke-opacity="0.5" stroke-width="0.45" fill="#000" fill-opacity="0.18"/>
<ellipse cx="308.33" cy="242.54" rx="1.25" ry="1.06" transform="rotate(153 308.33 242.54)" stroke="#333" stroke-opacity="0.56" stroke-width="0.45" fill="#fff" fill-opacity="0.17"/>
<ellipse cx="299.93" cy="242.83" rx="1.76" ry="1.15" transform="rotate(78 299.93 242.83)" stroke="#333" stroke-opacity="0.5" stroke-width="0.45" fill="#fff" fill-opacity="0.12"/>
<ellipse cx="311.55" cy="234.22" rx="1.89" ry="1.84" transform="rotate(129 311.55 234.22)" stroke="#333" stroke-opacity="0.36" stroke-width="0.45" fill="#fff" fill-opacity="0.17"/>
<ellipse cx="313.42" cy="243.48" rx="2.19" ry="1.52" transform="rotate(18 313.42 243.48)" stroke="#333" stroke-opacity="0.55" stroke-width="0.45" fill="#fff" fill-opacity="0.11"/>
<ellipse cx="301.02" cy="247.13" rx="1.24" ry="0.74" transform="rotate(47 301.02 247.13)" stroke="#333" stroke-opacity="0.38" stroke-width="0.45" fill="#fff" fill-opacity="0.1"/>
<ellipse cx="302.79" cy="236.19" rx="1.33" ry="0.94" transform="rotate(40 302.79 236.19)" stroke="#333" stroke-opacity="0.55" stroke-width="0.45" fill="#000" fill-opacity="0.23"/>
<ellipse cx="307.49" cy="255.62" rx="2.14" ry="1.32" transform="rotate(5 307.49 255.62)" stroke="#333" stroke-opacity="0.45" stroke-width="0.45" fill="#000" fill-opacity="0.19"/>
<ellipse cx="299.26" cy="240.37" rx="1.8" ry="1.51" transform="rotate(155 299.26 240.37)" stroke="#333" stroke-opacity="0.44" stroke-width="0.45" fill="#fff" fill-opacity="0.16"/>
<ellipse cx="313.81" cy="239.3" rx="1.95" ry="1.51" transform="rotate(16 313.81 239.3)" stroke="#333" stroke-opacity="0.53" stroke-width="0.45" fill="#000" fill-opacity="0.08"/>
<ellipse cx="311.54" cy="227.12" rx="1.34" ry="1.32" transform="rotate(143 311.54 227.12)" stroke="#333" stroke-opacity="0.54" stroke-width="0.45" fill="#000" fill-opacity="0.22"/>
<ellipse cx="308.04" cy="254.58" rx="2.11" ry="1.85" transform="rotate(26 308.04 254.58)" stroke="#333" stroke-opacity="0.3" stroke-width="0.45" fill="#fff" fill-opacity="0.22"/>
<ellipse cx="311.16" cy="253.26" rx="1.29" ry="1.24" transform="rotate(178 311.16 253.26)" stroke="#333" stroke-opacity="0.26" stroke-width="0.45" fill="#fff" fill-opacity="0.19"/>
<ellipse cx="308.4" cy="245.99" rx="1.42" ry="1.19" transform="rotate(52 308.4 245.99)" stroke="#333" stroke-opacity="0.57" stroke-width="0.45" fill="#000" fill-opacity="0.18"/>
<ellipse cx="320.24" cy="232.54" rx="2.14" ry="1.77" transform="rotate(108 320.24 232.54)" stroke="#333" stroke-opacity="0.46" stroke-width="0.45" fill="#fff" fill-opacity="0.19"/>
<ellipse cx="310.94" cy="251.28" rx="1.63" ry="1.39" transform="rotate(105 310.94 251.28)" stroke="#333" stroke-opacity="0.56" stroke-width="0.45" fill="#000" fill-opacity="0.07"/>
<ellipse cx="301.15" cy="238.7" rx="1.11" ry="1.08" transform="rotate(119 301.15 238.7)" stroke="#333" stroke-opacity="0.36" stroke-width="0.45" fill="#000" fill-opacity="0.17"/>
<ellipse cx="323.61" cy="251.19" rx="1.26" ry="0.97" transform="rotate(98 323.61 251.19)" stroke="#333" stroke-opacity="0.29" stroke-width="0.45" fill="#000" fill-opacity="0.24"/>
<ellipse cx="319.29" cy="237.19" rx="1.75" ry="1.57" transform="rotate(92 319.29 237.19)" stroke="#333" stroke-opacity="0.39" stroke-width="0.45" fill="#fff" fill-opacity="0.16"/>
<ellipse cx="316.38" cy="237.34" rx="1.85" ry="1.11" transform="rotate(174 316.38 237.34)" stroke="#333" stroke-opacity="0.28" stroke-width="0.45" fill="#000" fill-opacity="0.18"/>
<ellipse cx="305.24" cy="240.87" rx="1.26" ry="1.21" transform="rotate(175 305.24 240.87)" stroke="#333" stroke-opacity="0.39" stroke-width="0.45" fill="#000" fill-opacity="0.18"/>
<ellipse cx="305.42" cy="237.52" rx="1.89" ry="1.62" transform="rotate(3 305.42 237.52)" stroke="#333" stroke-opacity="0.26" stroke-width="0.45" fill="#000" fill-opacity="0.22"/>
<ellipse cx="314.33" cy="255.06" rx="1.31" ry="0.8" transform="rotate(106 314.33 255.06)" stroke="#333" stroke-opacity="0.39" stroke-width="0.45" fill="#fff" fill-opacity="0.09"/>
<ellipse cx="311.17" cy="233.77" rx="1.15" ry="0.92" transform="rotate(100 311.17 233.77)" stroke="#333" stroke-opacity="0.55" stroke-width="0.45" fill="#fff" fill-opacity="0.13"/>
<ellipse cx="297.26" cy="243.02" rx="1.48" ry="1.23" transform="rotate(133 297.26 243.02)" stroke="#333" stroke-opacity="0.44" stroke-width="0.45" fill="#fff" fill-opacity="0.07"/>
<ellipse cx="313.05" cy="238.75" rx="1.45" ry="0.88" transform="rotate(28 313.05 238.75)" stroke="#333" stroke-opacity="0.45" stroke-width="0.45" fill="#000" fill-opacity="0.16"/>
<ellipse cx="318.55" cy="249.29" rx="0.91" ry="0.88" transform="rotate(95 318.55 249.29)" stroke="#333" stroke-opacity="0.5" stroke-width="0.45" fill="#000" fill-opacity="0.14"/>
<ellipse cx="320.62" cy="235.82" rx="1.24" ry="0.88" transform="rotate(36 320.62 235.82)" stroke="#333" stroke-opacity="0.39" stroke-width="0.45" fill="#000" fill-opacity="0.03"/>
<ellipse cx="301.19" cy="240.15" rx="2.05" ry="1.65" transform="rotate(17 301.19 240.15)" stroke="#333" stroke-opacity="0.51" stroke-width="0.45" fill="#000" fill-opacity="0.24"/>
<ellipse cx="317.03" cy="252.85" rx="2.06" ry="1.61" transform="rotate(165 317.03 252.85)" stroke="#333" stroke-opacity="0.59" stroke-width="0.45" fill="#000" fill-opacity="0.04"/>
<ellipse cx="310.5" cy="231.92" rx="1.22" ry="1.1" transform="rotate(175 310.5 231.92)" stroke="#333" stroke-opacity="0.31" stroke-width="0.45" fill="#000" fill-opacity="0.07"/>
<ellipse cx="314.27" cy="249.97" rx="1.06" ry="0.83" transform="rotate(154 314.27 249.97)" stroke="#333" stroke-opacity="0.55" stroke-width="0.45" fill="#fff" fill-opacity="0.13"/>
<ellipse cx="315.49" cy="248.93" rx="0.97" ry="0.94" transform="rotate(112 315.49 248.93)" stroke="#333" stroke-opacity="0.49" stroke-width="0.45" fill="#000" fill-opacity="0.18"/>
<ellipse cx="313.08" cy="256.3" rx="1.38" ry="1.17" transform="rotate(12 313.08 256.3)" stroke="#333" stroke-opacity="0.4" stroke-width="0.45" fill="#000" fill-opacity="0.06"/>
<ellipse cx="297.63" cy="239.75" rx="1.25" ry="1.15" transform="rotate(90 297.63 239.75)" stroke="#333" stroke-opacity="0.59" stroke-width="0.45" fill="#000" fill-opacity="0.12"/>
<ellipse cx="300" cy="248.43" rx="1.14" ry="0.72" transform="rotate(144 300 248.43)" stroke="#333" stroke-opacity="0.45" stroke-width="0.45" fill="#fff" fill-opacity="0.1"/>
<ellipse cx="313.02" cy="238.32" rx="1.64" ry="1.01" transform="rotate(135 313.02 238.32)" stroke="#333" stroke-opacity="0.47" stroke-width="0.45" fill="#000" fill-opacity="0.06"/>
<ellipse cx="313.33" cy="245.47" rx="1.94" ry="1.43" transform="rotate(103 313.33 245.47)" stroke="#333" stroke-opacity="0.33" stroke-width="0.45" fill="#fff" fill-opacity="0.12"/>
<ellipse cx="325.44" cy="240.14" rx="2.18" ry="1.38" transform="rotate(107 325.44 240.14)" stroke="#333" stroke-opacity="0.42" stroke-width="0.45" fill="#000" fill-opacity="0.09"/>
<ellipse cx="316.29" cy="225.9" rx="2.06" ry="1.46" transform="rotate(178 316.29 225.9)" stroke="#333" stroke-opacity="0.41" stroke-width="0.45" fill="#000" fill-opacity="0.2"/>
<ellipse cx="308.28" cy="228.53" rx="1.25" ry="0.87" transform="rotate(29 308.28 228.53)" stroke="#333" stroke-opacity="0.38" stroke-width="0.45" fill="#000" fill-opacity="0.12"/>
<ellipse cx="320.19" cy="253.57" rx="1.23" ry="1" transform="rotate(168 320.19 253.57)" stroke="#333" stroke-opacity="0.42" stroke-width="0.45" fill="#000" fill-opacity="0.2"/>
<ellipse cx="319.04" cy="237.56" rx="1.17" ry="0.73" transform="rotate(159 319.04 237.56)" stroke="#333" stroke-opacity="0.45" stroke-width="0.45" fill="#fff" fill-opacity="0.15"/>
<ellipse cx="302.35" cy="246.68" rx="1.19" ry="1.11" transform="rotate(28 302.35 246.68)" stroke="#333" stroke-opacity="0.48" stroke-width="0.45" fill="#000" fill-opacity="0.07"/>
<ellipse cx="323.52" cy="236.54" rx="2.11" ry="1.77" transform="rotate(54 323.52 236.54)" stroke="#333" stroke-opacity="0.3" stroke-width="0.45" fill="#fff" fill-opacity="0.24"/>
<ellipse cx="308.86" cy="234.96" rx="2.13" ry="1.65" transform="rotate(77 308.86 234.96)" stroke="#333" stroke-opacity="0.55" stroke-width="0.45" fill="#fff" fill-opacity="0.05"/>
<ellipse cx="324.13" cy="250.86" rx="2.04" ry="1.29" transform="rotate(91 324.13 250.86)" stroke="#333" stroke-opacity="0.53" stroke-width="0.45" fill="#fff" fill-opacity="0.18"/>
<ellipse cx="324.36" cy="233.09" rx="1.64" ry="1.04" transform="rotate(46 324.36 233.09)" stroke="#333" stroke-opacity="0.43" stroke-width="0.45" fill="#000" fill-opacity="0.06"/>
<ellipse cx="320.34" cy="236.23" rx="1.49" ry="1.09" transform="rotate(97 320.34 236.23)" stroke="#333" stroke-opacity="0.3" stroke-width="0.45" fill="#000" fill-opacity="0.2"/>
<ellipse cx="312.76" cy="235.75" rx="1.09" ry="0.91" transform="rotate(131 312.76 235.75)" stroke="#333" stroke-opacity="0.44" stroke-width="0.45" fill="#000" fill-opacity="0.12"/>
<ellipse cx="322.12" cy="229.94" rx="1.27" ry="0.87" transform="rotate(84 322.12 229.94)" stroke="#333" stroke-opacity="0.37" stroke-width="0.45" fill="#fff" fill-opacity="0.07"/>
<ellipse cx="324.25" cy="243.87" rx="1.31" ry="1.18" transform="rotate(38 324.25 243.87)" stroke="#333" stroke-opacity="0.27" stroke-width="0.45" fill="#fff" fill-opacity="0.23"/>
<ellipse cx="315.17" cy="229.26" rx="1.39" ry="1.18" transform="rotate(99 315.17 229.26)" stroke="#333" stroke-opacity="0.56" stroke-width="0.45" fill="#fff" fill-opacity="0.12"/>
<ellipse cx="303.7" cy="230.51" rx="1.04" ry="0.66" transform="rotate(153 303.7 230.51)" stroke="#333" stroke-opacity="0.41" stroke-width="0.45" fill="#fff" fill-opacity="0.04"/>
<ellipse cx="316.05" cy="234.86" rx="1.22" ry="0.94" transform="rotate(96 316.05 234.86)" stroke="#333" stroke-opacity="0.31" stroke-width="0.45" fill="#fff" fill-opacity="0.03"/>
<ellipse cx="311.53" cy="234.11" rx="1.64" ry="1.1" transform="rotate(144 311.53 234.11)" stroke="#333" stroke-opacity="0.39" stroke-width="0.45" fill="#fff" fill-opacity="0.11"/>
<ellipse cx="321.56" cy="231.87" rx="1.85" ry="1.29" transform="rotate(4 321.56 231.87)" stroke="#333" stroke-opacity="0.38" stroke-width="0.45" fill="#fff" fill-opacity="0.11"/>
<ellipse cx="321.49" cy="231.58" rx="1.26" ry="1.17" transform="rotate(95 321.49 231.58)" stroke="#333" stroke-opacity="0.48" stroke-width="0.45" fill="#000" fill-opacity="0.11"/>
<ellipse cx="312.09" cy="232.27" rx="2.07" ry="1.9" transform="rotate(64 312.09 232.27)" stroke="#333" stroke-opacity="0.59" stroke-width="0.45" fill="#fff" fill-opacity="0.07"/>
<ellipse cx="309.02" cy="241.36" rx="1.78" ry="1.52" transform="rotate(96 309.02 241.36)" stroke="#333" stroke-opacity="0.42" stroke-width="0.45" fill="#000" fill-opacity="0.22"/>
<ellipse cx="301.53" cy="236.23" rx="1.79" ry="1.45" transform="rotate(36 301.53 236.23)" stroke="#333" stroke-opacity="0.35" stroke-width="0.45" fill="#000" fill-opacity="0.19"/>
<ellipse cx="321.42" cy="238.43" rx="1.56" ry="1.25" transform="rotate(153 321.42 238.43)" stroke="#333" stroke-opacity="0.4" stroke-width="0.45" fill="#fff" fill-opacity="0.24"/>
<ellipse cx="299.8" cy="246.5" rx="1.54" ry="1.48" transform="rotate(101 299.8 246.5)" stroke="#333" stroke-opacity="0.3" stroke-width="0.45" fill="#fff" fill-opacity="0.07"/>
<ellipse cx="322.94" cy="245.07" rx="2.01" ry="1.38" transform="rotate(130 322.94 245.07)" stroke="#333" stroke-opacity="0.57" stroke-width="0.45" fill="#fff" fill-opacity="0.09"/>
<ellipse cx="311.29" cy="243.1" rx="1.8" ry="1.35" transform="rotate(92 311.29 243.1)" stroke="#333" stroke-opacity="0.46" stroke-width="0.45" fill="#fff" fill-opacity="0.08"/>
<ellipse cx="309.65" cy="255.93" rx="0.94" ry="0.75" transform="rotate(87 309.65 255.93)" stroke="#333" stroke-opacity="0.56" stroke-width="0.45" fill="#fff" fill-opacity="0.13"/>
<ellipse cx="313.62" cy="233.86" rx="1.68" ry="1.06" transform="rotate(178 313.62 233.86)" stroke="#333" stroke-opacity="0.34" stroke-width="0.45" fill="#fff" fill-opacity="0.07"/>
<ellipse cx="306.97" cy="245.26" rx="0.99" ry="0.86" transform="rotate(134 306.97 245.26)" stroke="#333" stroke-opacity="0.4" stroke-width="0.45" fill="#000" fill-opacity="0.08"/>
<ellipse cx="314.85" cy="247.94" rx="1.45" ry="1.15" transform="rotate(73 314.85 247.94)" stroke="#333" stroke-opacity="0.45" stroke-width="0.45" fill="#000" fill-opacity="0.09"/>
<ellipse cx="325.8" cy="233.65" rx="2.06" ry="1.49" transform="rotate(12 325.8 233.65)" stroke="#333" stroke-opacity="0.4" stroke-width="0.45" fill="#000" fill-opacity="0.05"/>
<ellipse cx="302.03" cy="230.09" rx="1.74" ry="1.43" transform="rotate(54 302.03 230.09)" stroke="#333" stroke-opacity="0.26" stroke-width="0.45" fill="#000" fill-opacity="0.08"/>
<ellipse cx="324.64" cy="249.93" rx="1.14" ry="1" transform="rotate(119 324.64 249.93)" stroke="#333" stroke-opacity="0.39" stroke-width="0.45" fill="#000" fill-opacity="0.16"/>
<ellipse cx="323.32" cy="245.63" rx="1.8" ry="1.26" transform="rotate(35 323.32 245.63)" stroke="#333" stroke-opacity="0.44" stroke-width="0.45" fill="#fff" fill-opacity="0.09"/>
<ellipse cx="320.04" cy="244.09" rx="1.06" ry="0.7" transform="rotate(150 320.04 244.09)" stroke="#333" stroke-opacity="0.34" stroke-width="0.45" fill="#000" fill-opacity="0.22"/>
</g>
<path d="M328.2 241.3 L327.7 242.6 L327.9 244.0 L327.9 245.4 L327.4 246.6 L326.9 247.9 L325.5 248.7 L325.0 250.0 L324.0 250.9 L323.9 252.6 L322.7 253.4 L321.9 254.8 L320.6 255.5 L319.5 256.5 L317.9 256.8 L316.6 257.5 L315.1 258.0 L313.4 256.9 L312.0 256.4 L310.6 256.4 L309.5 254.8 L308.3 254.4 L306.9 254.6 L305.5 254.6 L304.6 253.4 L302.9 253.7 L301.5 253.2 L300.9 251.9 L299.3 251.5 L298.4 250.4 L297.5 249.2 L296.3 248.3 L296.6 246.6 L295.8 245.4 L294.9 244.2 L295.2 242.7 L295.3 241.3 L295.0 239.9 L295.2 238.5 L296.4 237.3 L296.6 236.0 L297.4 234.8 L297.9 233.5 L298.4 232.2 L299.2 231.1 L300.9 230.7 L301.6 229.5 L303.1 229.2 L304.6 229.2 L305.9 228.9 L307.1 228.4 L308.2 228.0 L309.3 226.5 L310.6 226.0 L312.0 225.8 L313.5 224.9 L315.1 224.7 L316.5 225.3 L318.3 225.0 L319.4 226.1 L320.5 227.3 L321.6 228.3 L322.7 229.2 L323.8 230.1 L324.8 231.1 L325.5 232.3 L325.8 233.7 L325.9 235.1 L327.2 236.1 L326.9 237.5 L327.0 238.8 L327.9 240.0Z" fill="none" stroke="#6a6a6a" stroke-width="0.9" stroke-opacity="0.7"/>
<rect x="342.6" y="212.7" width="57.5" height="56.9" fill="#efefef"/>
<path d="M372.9 241.9 L372.9 242.1 L372.9 242.3 L372.9 242.6 L372.9 242.8 L372.9 243.0 L372.7 243.3 L372.6 243.4 L372.4 243.6 L372.3 243.8 L372.1 243.9 L371.9 244.1 L371.8 244.3 L371.6 244.4 L371.4 244.6 L371.2 244.7 L370.9 244.8 L370.7 244.9 L370.4 244.9 L370.1 245.0 L369.9 244.9 L369.6 244.9 L369.3 244.8 L369.1 244.6 L368.9 244.4 L368.8 244.2 L368.7 243.9 L368.7 243.6 L368.6 243.4 L368.5 243.2 L368.4 243.1 L368.2 242.9 L368.0 242.8 L367.8 242.6 L367.6 242.4 L367.4 242.2 L367.3 241.9 L367.4 241.6 L367.4 241.4 L367.5 241.1 L367.7 240.9 L367.8 240.7 L367.9 240.5 L368.0 240.2 L368.1 240.0 L368.3 239.8 L368.5 239.6 L368.7 239.5 L369.0 239.4 L369.2 239.4 L369.5 239.3 L369.7 239.3 L369.9 239.3 L370.2 239.3 L370.4 239.3 L370.6 239.4 L370.8 239.4 L371.0 239.5 L371.3 239.5 L371.5 239.6 L371.7 239.6 L372.0 239.6 L372.3 239.6 L372.6 239.7 L372.9 239.8 L373.1 240.0 L373.3 240.3 L373.3 240.5 L373.3 240.9 L373.2 241.2 L373.1 241.4 L373.0 241.7Z" fill="url(#r19)"/>
<path d="M372.9 241.9 L372.9 242.1 L372.9 242.3 L372.9 242.6 L372.9 242.8 L372.9 243.0 L372.7 243.3 L372.6 243.4 L372.4 243.6 L372.3 243.8 L372.1 243.9 L371.9 244.1 L371.8 244.3 L371.6 244.4 L371.4 244.6 L371.2 244.7 L370.9 244.8 L370.7 244.9 L370.4 244.9 L370.1 245.0 L369.9 244.9 L369.6 244.9 L369.3 244.8 L369.1 244.6 L368.9 244.4 L368.8 244.2 L368.7 243.9 L368.7 243.6 L368.6 243.4 L368.5 243.2 L368.4 243.1 L368.2 242.9 L368.0 242.8 L367.8 242.6 L367.6 242.4 L367.4 242.2 L367.3 241.9 L367.4 241.6 L367.4 241.4 L367.5 241.1 L367.7 240.9 L367.8 240.7 L367.9 240.5 L368.0 240.2 L368.1 240.0 L368.3 239.8 L368.5 239.6 L368.7 239.5 L369.0 239.4 L369.2 239.4 L369.5 239.3 L369.7 239.3 L369.9 239.3 L370.2 239.3 L370.4 239.3 L370.6 239.4 L370.8 239.4 L371.0 239.5 L371.3 239.5 L371.5 239.6 L371.7 239.6 L372.0 239.6 L372.3 239.6 L372.6 239.7 L372.9 239.8 L373.1 240.0 L373.3 240.3 L373.3 240.5 L373.3 240.9 L373.2 241.2 L373.1 241.4 L373.0 241.7Z" fill="none" stroke="#555" stroke-width="0.8" stroke-opacity="1"/>
<line x1="377.7" y1="263.3" x2="395.3" y2="263.3" stroke="#111" stroke-width="1.3"/>
<line x1="457.4" y1="261.3" x2="457.4" y2="173.4" stroke="#3a3a3a" stroke-width="0.8"/>
<line x1="454.4" y1="261.3" x2="457.4" y2="261.3" stroke="#3a3a3a" stroke-width="0.8"/>
<text x="452.8" y="265.32" font-size="9.81" text-anchor="end" fill="#1a1a1a" textLength="5" lengthAdjust="spacingAndGlyphs">0</text>
<line x1="455.8" y1="255.02" x2="457.4" y2="255.02" stroke="#3a3a3a" stroke-width="0.8"/>
<line x1="454.4" y1="248.74" x2="457.4" y2="248.74" stroke="#3a3a3a" stroke-width="0.8"/>
<text x="452.8" y="252.76" font-size="9.81" text-anchor="end" fill="#1a1a1a" textLength="10.01" lengthAdjust="spacingAndGlyphs">50</text>
<line x1="455.8" y1="242.46" x2="457.4" y2="242.46" stroke="#3a3a3a" stroke-width="0.8"/>
<line x1="454.4" y1="236.19" x2="457.4" y2="236.19" stroke="#3a3a3a" stroke-width="0.8"/>
<text x="452.8" y="240.21" font-size="9.81" text-anchor="end" fill="#1a1a1a" textLength="15.01" lengthAdjust="spacingAndGlyphs">100</text>
<line x1="455.8" y1="229.91" x2="457.4" y2="229.91" stroke="#3a3a3a" stroke-width="0.8"/>
<line x1="454.4" y1="223.63" x2="457.4" y2="223.63" stroke="#3a3a3a" stroke-width="0.8"/>
<text x="452.8" y="227.65" font-size="9.81" text-anchor="end" fill="#1a1a1a" textLength="15.01" lengthAdjust="spacingAndGlyphs">150</text>
<line x1="455.8" y1="217.35" x2="457.4" y2="217.35" stroke="#3a3a3a" stroke-width="0.8"/>
<line x1="454.4" y1="211.07" x2="457.4" y2="211.07" stroke="#3a3a3a" stroke-width="0.8"/>
<text x="452.8" y="215.09" font-size="9.81" text-anchor="end" fill="#1a1a1a" textLength="15.01" lengthAdjust="spacingAndGlyphs">200</text>
<line x1="455.8" y1="204.79" x2="457.4" y2="204.79" stroke="#3a3a3a" stroke-width="0.8"/>
<line x1="454.4" y1="198.51" x2="457.4" y2="198.51" stroke="#3a3a3a" stroke-width="0.8"/>
<text x="452.8" y="202.54" font-size="9.81" text-anchor="end" fill="#1a1a1a" textLength="15.01" lengthAdjust="spacingAndGlyphs">250</text>
<line x1="455.8" y1="192.24" x2="457.4" y2="192.24" stroke="#3a3a3a" stroke-width="0.8"/>
<line x1="454.4" y1="185.96" x2="457.4" y2="185.96" stroke="#3a3a3a" stroke-width="0.8"/>
<text x="452.8" y="189.98" font-size="9.81" text-anchor="end" fill="#1a1a1a" textLength="15.01" lengthAdjust="spacingAndGlyphs">300</text>
<line x1="455.8" y1="179.68" x2="457.4" y2="179.68" stroke="#3a3a3a" stroke-width="0.8"/>
<line x1="454.4" y1="173.4" x2="457.4" y2="173.4" stroke="#3a3a3a" stroke-width="0.8"/>
<text x="452.8" y="177.42" font-size="9.81" text-anchor="end" fill="#1a1a1a" textLength="15.01" lengthAdjust="spacingAndGlyphs">350</text>
<text transform="translate(429.77,215) rotate(-90)" font-size="10.2" text-anchor="middle" fill="#1a1a1a">Diameter (μm)</text>
<line x1="457.4" y1="261.3" x2="536.5" y2="261.3" stroke="#3a3a3a" stroke-width="0.8"/>
<line x1="469.5" y1="261.3" x2="469.5" y2="263.5" stroke="#3a3a3a" stroke-width="0.8"/>
<line x1="487.9" y1="261.3" x2="487.9" y2="263.5" stroke="#3a3a3a" stroke-width="0.8"/>
<line x1="506.2" y1="261.3" x2="506.2" y2="263.5" stroke="#3a3a3a" stroke-width="0.8"/>
<line x1="524.6" y1="261.3" x2="524.6" y2="263.5" stroke="#3a3a3a" stroke-width="0.8"/>
<line x1="469.5" y1="201.6" x2="469.5" y2="216.7" stroke="#9a9a9a" stroke-width="0.7"/>
<line x1="469.5" y1="237.8" x2="469.5" y2="250" stroke="#9a9a9a" stroke-width="0.7"/>
<line x1="465.84" y1="201.6" x2="473.16" y2="201.6" stroke="#9a9a9a" stroke-width="0.7"/>
<line x1="465.84" y1="250" x2="473.16" y2="250" stroke="#9a9a9a" stroke-width="0.7"/>
<rect x="463.4" y="216.7" width="12.2" height="21.1" fill="#d9d9d9" stroke="#a0a0a0" stroke-width="0.7"/>
<line x1="463.4" y1="226.9" x2="475.6" y2="226.9" stroke="#a0a0a0" stroke-width="0.7"/>
<line x1="487.9" y1="230.6" x2="487.9" y2="243.3" stroke="#9a9a9a" stroke-width="0.7"/>
<line x1="487.9" y1="249.4" x2="487.9" y2="251" stroke="#9a9a9a" stroke-width="0.7"/>
<line x1="484.48" y1="230.6" x2="491.32" y2="230.6" stroke="#9a9a9a" stroke-width="0.7"/>
<line x1="484.48" y1="251" x2="491.32" y2="251" stroke="#9a9a9a" stroke-width="0.7"/>
<rect x="482.2" y="243.3" width="11.4" height="6.1" fill="#ef7d3e" stroke="#d2682f" stroke-width="0.7"/>
<line x1="482.2" y1="247.2" x2="493.6" y2="247.2" stroke="#d2682f" stroke-width="0.7"/>
<line x1="506.2" y1="201.6" x2="506.2" y2="219.4" stroke="#9a9a9a" stroke-width="0.7"/>
<line x1="506.2" y1="238.8" x2="506.2" y2="251" stroke="#9a9a9a" stroke-width="0.7"/>
<line x1="502.72" y1="201.6" x2="509.68" y2="201.6" stroke="#9a9a9a" stroke-width="0.7"/>
<line x1="502.72" y1="251" x2="509.68" y2="251" stroke="#9a9a9a" stroke-width="0.7"/>
<rect x="500.4" y="219.4" width="11.6" height="19.4" fill="#ef7d3e" stroke="#d2682f" stroke-width="0.7"/>
<line x1="500.4" y1="231.2" x2="512" y2="231.2" stroke="#d2682f" stroke-width="0.7"/>
<line x1="524.6" y1="240.4" x2="524.6" y2="246.8" stroke="#9a9a9a" stroke-width="0.7"/>
<line x1="524.6" y1="249.6" x2="524.6" y2="251" stroke="#9a9a9a" stroke-width="0.7"/>
<line x1="521.06" y1="240.4" x2="528.14" y2="240.4" stroke="#9a9a9a" stroke-width="0.7"/>
<line x1="521.06" y1="251" x2="528.14" y2="251" stroke="#9a9a9a" stroke-width="0.7"/>
<rect x="518.7" y="246.8" width="11.8" height="2.8" fill="#ef7d3e" stroke="#d2682f" stroke-width="0.7"/>
<line x1="518.7" y1="248.2" x2="530.5" y2="248.2" stroke="#d2682f" stroke-width="0.7"/>
<text x="487.9" y="228.28" font-size="9.2" text-anchor="middle" fill="#1a1a1a">***</text>
<text x="524.6" y="237.08" font-size="9.2" text-anchor="middle" fill="#1a1a1a">***</text>
<text x="506.2" y="194.6" font-size="10.2" text-anchor="middle" fill="#1a1a1a">ns</text>
<text transform="translate(473.6,273.5) rotate(-45)" font-size="10" text-anchor="end" fill="#1a1a1a">shCtrl</text>
<text transform="translate(492.6,273.5) rotate(-45)" font-size="10" text-anchor="end" fill="#1a1a1a">shTLK2+Vec</text>
<text transform="translate(511.3,273.5) rotate(-45)" font-size="10" text-anchor="end" fill="#1a1a1a">shTLK2+S14D</text>
<text transform="translate(530.6,273.5) rotate(-45)" font-size="10" text-anchor="end" fill="#1a1a1a">shTLK2+S14A</text>
<line x1="604.3" y1="261.3" x2="604.3" y2="173" stroke="#3a3a3a" stroke-width="0.8"/>
<line x1="601.3" y1="261.3" x2="604.3" y2="261.3" stroke="#3a3a3a" stroke-width="0.8"/>
<text x="599.7" y="265.32" font-size="9.81" text-anchor="end" fill="#1a1a1a" textLength="5" lengthAdjust="spacingAndGlyphs">0</text>
<line x1="602.7" y1="252.47" x2="604.3" y2="252.47" stroke="#3a3a3a" stroke-width="0.8"/>
<line x1="601.3" y1="243.64" x2="604.3" y2="243.64" stroke="#3a3a3a" stroke-width="0.8"/>
<text x="599.7" y="247.66" font-size="9.81" text-anchor="end" fill="#1a1a1a" textLength="10.01" lengthAdjust="spacingAndGlyphs">50</text>
<line x1="602.7" y1="234.81" x2="604.3" y2="234.81" stroke="#3a3a3a" stroke-width="0.8"/>
<line x1="601.3" y1="225.98" x2="604.3" y2="225.98" stroke="#3a3a3a" stroke-width="0.8"/>
<text x="599.7" y="230" font-size="9.81" text-anchor="end" fill="#1a1a1a" textLength="15.01" lengthAdjust="spacingAndGlyphs">100</text>
<line x1="602.7" y1="217.15" x2="604.3" y2="217.15" stroke="#3a3a3a" stroke-width="0.8"/>
<line x1="601.3" y1="208.32" x2="604.3" y2="208.32" stroke="#3a3a3a" stroke-width="0.8"/>
<text x="599.7" y="212.34" font-size="9.81" text-anchor="end" fill="#1a1a1a" textLength="15.01" lengthAdjust="spacingAndGlyphs">150</text>
<line x1="602.7" y1="199.49" x2="604.3" y2="199.49" stroke="#3a3a3a" stroke-width="0.8"/>
<line x1="601.3" y1="190.66" x2="604.3" y2="190.66" stroke="#3a3a3a" stroke-width="0.8"/>
<text x="599.7" y="194.68" font-size="9.81" text-anchor="end" fill="#1a1a1a" textLength="15.01" lengthAdjust="spacingAndGlyphs">200</text>
<line x1="602.7" y1="181.83" x2="604.3" y2="181.83" stroke="#3a3a3a" stroke-width="0.8"/>
<line x1="601.3" y1="173" x2="604.3" y2="173" stroke="#3a3a3a" stroke-width="0.8"/>
<text x="599.7" y="177.02" font-size="9.81" text-anchor="end" fill="#1a1a1a" textLength="15.01" lengthAdjust="spacingAndGlyphs">250</text>
<text transform="translate(569.07,216) rotate(-90)" font-size="10.2" text-anchor="middle" fill="#1a1a1a">Number of sphere</text>
<text transform="translate(579.37,216) rotate(-90)" font-size="10.2" text-anchor="middle" fill="#1a1a1a">per 500 cells</text>
<line x1="604.3" y1="261.3" x2="684" y2="261.3" stroke="#3a3a3a" stroke-width="0.8"/>
<line x1="617" y1="261.3" x2="617" y2="263.5" stroke="#3a3a3a" stroke-width="0.8"/>
<line x1="635.4" y1="261.3" x2="635.4" y2="263.5" stroke="#3a3a3a" stroke-width="0.8"/>
<line x1="653.5" y1="261.3" x2="653.5" y2="263.5" stroke="#3a3a3a" stroke-width="0.8"/>
<line x1="671.9" y1="261.3" x2="671.9" y2="263.5" stroke="#3a3a3a" stroke-width="0.8"/>
<line x1="617" y1="199.98" x2="617" y2="198.22" stroke="#8a8a8a" stroke-width="0.8"/>
<line x1="613.92" y1="198.22" x2="620.08" y2="198.22" stroke="#8a8a8a" stroke-width="0.8"/>
<rect x="610.85" y="199.98" width="12.3" height="61.32" fill="#d6d6d6"/>
<line x1="635.4" y1="240.81" x2="635.4" y2="239.75" stroke="#4a4a4a" stroke-width="0.8"/>
<line x1="632.32" y1="239.75" x2="638.48" y2="239.75" stroke="#8c8c8c" stroke-width="0.8"/>
<rect x="629.25" y="240.81" width="12.3" height="20.49" fill="#ef7d3e"/>
<circle cx="632.4" cy="241.52" r="1.3" fill="#e6c2ae"/>
<line x1="653.5" y1="207.08" x2="653.5" y2="200.02" stroke="#4a4a4a" stroke-width="0.8"/>
<line x1="650.42" y1="200.02" x2="656.58" y2="200.02" stroke="#8c8c8c" stroke-width="0.8"/>
<rect x="647.35" y="207.08" width="12.3" height="54.22" fill="#ef7d3e"/>
<circle cx="653.5" cy="209.73" r="1.3" fill="#e6c2ae"/>
<circle cx="653.5" cy="211.85" r="1.3" fill="#e6c2ae"/>
<line x1="671.9" y1="247" x2="671.9" y2="245.94" stroke="#4a4a4a" stroke-width="0.8"/>
<line x1="668.82" y1="245.94" x2="674.98" y2="245.94" stroke="#8c8c8c" stroke-width="0.8"/>
<rect x="665.75" y="247" width="12.3" height="14.3" fill="#ef7d3e"/>
<circle cx="668.9" cy="247.53" r="1.3" fill="#e6c2ae"/>
<circle cx="674.9" cy="247.17" r="1.3" fill="#e6c2ae"/>
<text x="635.4" y="233.38" font-size="9.2" text-anchor="middle" fill="#1a1a1a">***</text>
<text x="671.9" y="242.58" font-size="9.2" text-anchor="middle" fill="#1a1a1a">***</text>
<text x="653.3" y="193" font-size="10.2" text-anchor="middle" fill="#1a1a1a">ns</text>
<text transform="translate(621.6,272.8) rotate(-45)" font-size="10" text-anchor="end" fill="#1a1a1a">shCtrl</text>
<text transform="translate(640.3,272.8) rotate(-45)" font-size="10" text-anchor="end" fill="#1a1a1a">shTLK2+Vec</text>
<text transform="translate(658.9,272.8) rotate(-45)" font-size="10" text-anchor="end" fill="#1a1a1a">shTLK2+S14D</text>
<text transform="translate(677.3,272.8) rotate(-45)" font-size="10" text-anchor="end" fill="#1a1a1a">shTLK2+S14A</text>
<text x="0" y="350" font-size="14.5" font-weight="bold" fill="#000">e</text>
<g class="ns">
<rect x="19" y="355.5" width="302.5" height="72.9" fill="none" stroke="#6a6a6a" stroke-width="0.9"/>
<line x1="59.7" y1="355.5" x2="59.7" y2="428.4" stroke="#6a6a6a" stroke-width="0.9"/>
<line x1="99.7" y1="376.7" x2="99.7" y2="428.4" stroke="#6a6a6a" stroke-width="0.9"/>
<line x1="139.1" y1="376.7" x2="139.1" y2="428.4" stroke="#6a6a6a" stroke-width="0.9"/>
<line x1="178.2" y1="376.7" x2="178.2" y2="428.4" stroke="#6a6a6a" stroke-width="0.9"/>
<line x1="219.5" y1="355.5" x2="219.5" y2="428.4" stroke="#6a6a6a" stroke-width="0.9"/>
<line x1="274.1" y1="355.5" x2="274.1" y2="428.4" stroke="#6a6a6a" stroke-width="0.9"/>
<line x1="59.7" y1="376.7" x2="219.5" y2="376.7" stroke="#6a6a6a" stroke-width="0.9"/>
<line x1="19" y1="395.1" x2="321.5" y2="395.1" stroke="#6a6a6a" stroke-width="1.2"/>
<text x="39" y="379.2" font-size="10.2" text-anchor="middle" fill="#1a1a1a">Group</text>
<text x="145.3" y="370" font-size="10.2" text-anchor="middle" fill="#1a1a1a">Tumor incidence</text>
<text x="79.7" y="389.4" font-size="7.9" text-anchor="middle" fill="#1a1a1a" textLength="35.5" lengthAdjust="spacingAndGlyphs">1×10<tspan font-size="5" dy="-2.8">6</tspan><tspan dy="2.8"> cells</tspan></text>
<text x="119.4" y="389.4" font-size="7.9" text-anchor="middle" fill="#1a1a1a" textLength="35.5" lengthAdjust="spacingAndGlyphs">1×10<tspan font-size="5" dy="-2.8">5</tspan><tspan dy="2.8"> cells</tspan></text>
<text x="158.7" y="389.4" font-size="7.9" text-anchor="middle" fill="#1a1a1a" textLength="35.5" lengthAdjust="spacingAndGlyphs">1×10<tspan font-size="5" dy="-2.8">4</tspan><tspan dy="2.8"> cells</tspan></text>
<text x="198.9" y="389.4" font-size="7.9" text-anchor="middle" fill="#1a1a1a" textLength="35.5" lengthAdjust="spacingAndGlyphs">1×10<tspan font-size="5" dy="-2.8">3</tspan><tspan dy="2.8"> cells</tspan></text>
<text x="246.8" y="373.1" font-size="10.2" text-anchor="middle" fill="#1a1a1a">Stem cell</text>
<text x="246.8" y="384.6" font-size="10.2" text-anchor="middle" fill="#1a1a1a">frequency</text>
<text x="297.8" y="379.2" font-size="10" text-anchor="middle" fill="#1a1a1a" xml:space="preserve">P  value</text>
<text x="39" y="406.5" font-size="10.2" text-anchor="middle" fill="#1a1a1a">shCtrl</text>
<text x="39" y="423.4" font-size="10.2" text-anchor="middle" fill="#1a1a1a">shTLK2</text>
<text x="79.7" y="406.5" font-size="8.6" text-anchor="middle" fill="#1a1a1a">7 / 7</text>
<text x="79.7" y="423.4" font-size="8.6" text-anchor="middle" fill="#1a1a1a">7 / 7</text>
<text x="119.4" y="406.5" font-size="8.6" text-anchor="middle" fill="#1a1a1a">8 / 8</text>
<text x="119.4" y="423.4" font-size="8.6" text-anchor="middle" fill="#1a1a1a">1 / 8</text>
<text x="158.7" y="406.5" font-size="8.6" text-anchor="middle" fill="#1a1a1a">2 / 8</text>
<text x="158.7" y="423.4" font-size="8.6" text-anchor="middle" fill="#1a1a1a">0 / 8</text>
<text x="198.9" y="406.5" font-size="8.6" text-anchor="middle" fill="#1a1a1a">1 / 8</text>
<text x="198.9" y="423.4" font-size="8.6" text-anchor="middle" fill="#1a1a1a">0 / 8</text>
<text x="246.8" y="406.5" font-size="8.6" text-anchor="middle" fill="#1a1a1a">1 in 22449</text>
<text x="246.8" y="423.4" font-size="8.6" text-anchor="middle" fill="#1a1a1a">1 in 362403</text>
<text x="298.2" y="415.2" font-size="9.3" text-anchor="middle" fill="#1a1a1a">1.09x10<tspan font-size="5.8" dy="-3.2">-5</tspan></text>
</g>
<line x1="56.5" y1="441.1" x2="157.3" y2="441.1" stroke="#cfcfcf" stroke-width="1"/>
<line x1="157.3" y1="441.1" x2="157.3" y2="531.4" stroke="#cfcfcf" stroke-width="1"/>
<line x1="56.5" y1="443.6" x2="56.5" y2="531.4" stroke="#4a4a4a" stroke-width="0.9"/>
<line x1="56.5" y1="531.4" x2="157.3" y2="531.4" stroke="#4a4a4a" stroke-width="0.9"/>
<line x1="54.9" y1="444.2" x2="56.5" y2="444.2" stroke="#4a4a4a" stroke-width="0.8"/>
<line x1="54.9" y1="458.74" x2="56.5" y2="458.74" stroke="#4a4a4a" stroke-width="0.8"/>
<line x1="54.9" y1="473.27" x2="56.5" y2="473.27" stroke="#4a4a4a" stroke-width="0.8"/>
<line x1="54.9" y1="487.81" x2="56.5" y2="487.81" stroke="#4a4a4a" stroke-width="0.8"/>
<line x1="54.9" y1="502.34" x2="56.5" y2="502.34" stroke="#4a4a4a" stroke-width="0.8"/>
<line x1="54.9" y1="516.88" x2="56.5" y2="516.88" stroke="#4a4a4a" stroke-width="0.8"/>
<line x1="54.9" y1="531.41" x2="56.5" y2="531.41" stroke="#4a4a4a" stroke-width="0.8"/>
<text transform="translate(52.31,444.2) rotate(-90)" font-size="9.2" text-anchor="middle" fill="#1a1a1a">0.0</text>
<text transform="translate(52.31,473.27) rotate(-90)" font-size="9.2" text-anchor="middle" fill="#1a1a1a">−1.0</text>
<text transform="translate(52.31,502.34) rotate(-90)" font-size="9.2" text-anchor="middle" fill="#1a1a1a">−2.0</text>
<text transform="translate(52.31,531.41) rotate(-90)" font-size="9.2" text-anchor="middle" fill="#1a1a1a">−3.0</text>
<line x1="60.1" y1="531.4" x2="60.1" y2="533.7" stroke="#4a4a4a" stroke-width="0.8"/>
<text x="60.1" y="542" font-size="9.2" text-anchor="middle" fill="#1a1a1a">0</text>
<line x1="78.86" y1="531.4" x2="78.86" y2="533.7" stroke="#4a4a4a" stroke-width="0.8"/>
<text x="78.86" y="542" font-size="9.2" text-anchor="middle" fill="#1a1a1a">2</text>
<line x1="97.62" y1="531.4" x2="97.62" y2="533.7" stroke="#4a4a4a" stroke-width="0.8"/>
<text x="97.62" y="542" font-size="9.2" text-anchor="middle" fill="#1a1a1a">4</text>
<line x1="116.38" y1="531.4" x2="116.38" y2="533.7" stroke="#4a4a4a" stroke-width="0.8"/>
<text x="116.38" y="542" font-size="9.2" text-anchor="middle" fill="#1a1a1a">6</text>
<line x1="135.14" y1="531.4" x2="135.14" y2="533.7" stroke="#4a4a4a" stroke-width="0.8"/>
<text x="135.14" y="542" font-size="9.2" text-anchor="middle" fill="#1a1a1a">8</text>
<line x1="153.9" y1="531.4" x2="153.9" y2="533.7" stroke="#4a4a4a" stroke-width="0.8"/>
<text x="153.9" y="542" font-size="9.2" text-anchor="middle" fill="#1a1a1a">10</text>
<text x="60.1" y="553.7" font-size="10" fill="#1a1a1a">number of cells, x10<tspan font-size="6.5" dy="-3.5">5</tspan></text>
<text transform="translate(25.97,486) rotate(-90)" font-size="10.2" text-anchor="middle" fill="#1a1a1a">Log fraction</text>
<text transform="translate(36.47,486) rotate(-90)" font-size="10.2" text-anchor="middle" fill="#1a1a1a">nonresponding</text>
<clipPath id="ldc"><rect x="56.5" y="439.1" width="101.80000000000001" height="92.29999999999995"/></clipPath>
<g clip-path="url(#ldc)" fill="none">
<line x1="59.5" y1="443" x2="157.3" y2="531.4" stroke="#f08d5c" stroke-width="1.05"/>
<line x1="59.5" y1="443.5" x2="157.3" y2="482.8" stroke="#f08d5c" stroke-width="0.9" stroke-dasharray="4 2.4"/>
<line x1="59.5" y1="443.5" x2="103" y2="531.4" stroke="#f08d5c" stroke-width="0.9" stroke-dasharray="4 2.4"/>
<line x1="59.8" y1="442.5" x2="66.3" y2="531.4" stroke="#36aab0" stroke-width="1.1"/>
<line x1="59.3" y1="442.5" x2="62.4" y2="531.4" stroke="#36aab0" stroke-width="0.9" stroke-dasharray="4 2.4"/>
<line x1="60" y1="442.5" x2="74.7" y2="531.4" stroke="#36aab0" stroke-width="0.9" stroke-dasharray="4 2.4"/>
</g>
<circle cx="62" cy="443.8" r="1.9" fill="none" stroke="#f08d5c" stroke-width="0.9"/>
<circle cx="58.6" cy="442.6" r="1.5" fill="none" stroke="#f08d5c" stroke-width="0.9"/>
<circle cx="70.7" cy="447.6" r="1.7" fill="none" stroke="#f08d5c" stroke-width="0.9"/>
<circle cx="60.2" cy="446.5" r="1.4" fill="none" stroke="#36aab0" stroke-width="0.8"/>
<circle cx="61.4" cy="452.5" r="1.2" fill="none" stroke="#36aab0" stroke-width="0.8"/>
<path d="M151.7 522.36L156.1 522.36L153.9 525.88Z" fill="none" stroke="#c8703e" stroke-width="0.9"/>
<path d="M67.4 526.2L71.4 526.2L69.4 529.4Z" fill="none" stroke="#36aab0" stroke-width="0.9"/>
<line x1="109.6" y1="448.4" x2="117.4" y2="448.4" stroke="#36aab0" stroke-width="1.6"/>
<text x="122.2" y="451.9" font-size="9.6" fill="#1a1a1a">shCtrl</text>
<line x1="109.6" y1="458.4" x2="117.4" y2="458.4" stroke="#f08d5c" stroke-width="1.6"/>
<text x="122.2" y="461.9" font-size="9.6" fill="#1a1a1a">shTLK2</text>
<line x1="222.9" y1="537.8" x2="222.9" y2="448.8" stroke="#3a3a3a" stroke-width="0.8"/>
<line x1="219.9" y1="537.8" x2="222.9" y2="537.8" stroke="#3a3a3a" stroke-width="0.8"/>
<text x="218.5" y="542.05" font-size="10.36" text-anchor="end" fill="#1a1a1a" textLength="5.28" lengthAdjust="spacingAndGlyphs">0</text>
<line x1="221.3" y1="526.67" x2="222.9" y2="526.67" stroke="#3a3a3a" stroke-width="0.8"/>
<line x1="219.9" y1="515.55" x2="222.9" y2="515.55" stroke="#3a3a3a" stroke-width="0.8"/>
<text x="218.5" y="519.8" font-size="10.36" text-anchor="end" fill="#1a1a1a" textLength="10.57" lengthAdjust="spacingAndGlyphs">50</text>
<line x1="221.3" y1="504.42" x2="222.9" y2="504.42" stroke="#3a3a3a" stroke-width="0.8"/>
<line x1="219.9" y1="493.3" x2="222.9" y2="493.3" stroke="#3a3a3a" stroke-width="0.8"/>
<text x="218.5" y="497.55" font-size="10.36" text-anchor="end" fill="#1a1a1a" textLength="15.85" lengthAdjust="spacingAndGlyphs">100</text>
<line x1="221.3" y1="482.18" x2="222.9" y2="482.18" stroke="#3a3a3a" stroke-width="0.8"/>
<line x1="219.9" y1="471.05" x2="222.9" y2="471.05" stroke="#3a3a3a" stroke-width="0.8"/>
<text x="218.5" y="475.3" font-size="10.36" text-anchor="end" fill="#1a1a1a" textLength="15.85" lengthAdjust="spacingAndGlyphs">150</text>
<line x1="221.3" y1="459.93" x2="222.9" y2="459.93" stroke="#3a3a3a" stroke-width="0.8"/>
<line x1="219.9" y1="448.8" x2="222.9" y2="448.8" stroke="#3a3a3a" stroke-width="0.8"/>
<text x="218.5" y="453.05" font-size="10.36" text-anchor="end" fill="#1a1a1a" textLength="15.85" lengthAdjust="spacingAndGlyphs">200</text>
<text transform="translate(188.67,486.7) rotate(-90)" font-size="10.2" text-anchor="middle" fill="#1a1a1a">Number of sphere</text>
<text transform="translate(200.27,486.7) rotate(-90)" font-size="10.2" text-anchor="middle" fill="#1a1a1a">per 500 cells</text>
<line x1="222.9" y1="537.8" x2="291.6" y2="537.8" stroke="#3a3a3a" stroke-width="0.8"/>
<line x1="242" y1="537.8" x2="242" y2="540" stroke="#3a3a3a" stroke-width="0.8"/>
<line x1="271.6" y1="537.8" x2="271.6" y2="540" stroke="#3a3a3a" stroke-width="0.8"/>
<line x1="242" y1="462.02" x2="242" y2="459.79" stroke="#8a8a8a" stroke-width="0.8"/>
<line x1="237.1" y1="459.79" x2="246.9" y2="459.79" stroke="#8a8a8a" stroke-width="0.8"/>
<rect x="232.2" y="462.02" width="19.6" height="75.78" fill="#d6d6d6"/>
<line x1="271.6" y1="506.38" x2="271.6" y2="502.2" stroke="#4a4a4a" stroke-width="0.8"/>
<line x1="266.7" y1="502.2" x2="276.5" y2="502.2" stroke="#8c8c8c" stroke-width="0.8"/>
<rect x="261.8" y="506.38" width="19.6" height="31.42" fill="#ef7d3e"/>
<circle cx="271.4" cy="510.21" r="1.9" fill="#e6c2ae"/>
<path d="M242.3 457.4V452.8H271.3V498" fill="none" stroke="#555" stroke-width="0.8"/>
<text x="257.2" y="449.78" font-size="9.2" text-anchor="middle" fill="#1a1a1a">***</text>
<text x="237.2" y="550.6" font-size="9.4" text-anchor="middle" fill="#1a1a1a">shCtrl</text>
<text x="273.4" y="550.6" font-size="9.4" text-anchor="middle" fill="#1a1a1a">shTLK2</text>
<text x="329.1" y="349.8" font-size="14.5" font-weight="bold" fill="#000">f</text>
<line x1="368.4" y1="354.6" x2="444.5" y2="354.6" stroke="#6a6a6a" stroke-width="0.8"/>
<line x1="444.5" y1="354.6" x2="444.5" y2="430.3" stroke="#6a6a6a" stroke-width="0.8"/>
<path d="M415.8 371.6h.8v.8h-.8zM408.6 374.8h.8v.8h-.8zM407.0 377.2h.8v.8h-.8zM410.2 377.2h.8v.8h-.8zM399.8 378.0h.8v.8h-.8zM407.0 378.0h.8v.8h-.8zM404.6 378.8h.8v.8h-.8zM408.6 378.8h.8v.8h-.8zM409.4 378.8h.8v.8h-.8zM406.2 379.6h.8v.8h-.8zM407.0 379.6h.8v.8h-.8zM402.2 380.4h.8v.8h-.8zM403.8 380.4h.8v.8h-.8zM409.4 380.4h.8v.8h-.8zM403.0 381.2h.8v.8h-.8zM410.2 381.2h.8v.8h-.8zM400.6 382.0h.8v.8h-.8zM402.2 382.0h.8v.8h-.8zM403.0 382.0h.8v.8h-.8zM407.0 382.0h.8v.8h-.8zM411.0 382.0h.8v.8h-.8zM402.2 382.8h.8v.8h-.8zM403.0 382.8h.8v.8h-.8zM403.8 382.8h.8v.8h-.8zM404.6 382.8h.8v.8h-.8zM410.2 382.8h.8v.8h-.8zM403.0 383.6h.8v.8h-.8zM408.6 383.6h.8v.8h-.8zM399.0 384.4h.8v.8h-.8zM399.8 384.4h.8v.8h-.8zM402.2 384.4h.8v.8h-.8zM403.0 384.4h.8v.8h-.8zM407.8 384.4h.8v.8h-.8zM408.6 384.4h.8v.8h-.8zM410.2 384.4h.8v.8h-.8zM411.0 384.4h.8v.8h-.8zM398.2 385.2h.8v.8h-.8zM399.0 385.2h.8v.8h-.8zM404.6 385.2h.8v.8h-.8zM405.4 385.2h.8v.8h-.8zM395.0 386.0h.8v.8h-.8zM397.4 386.0h.8v.8h-.8zM400.6 386.0h.8v.8h-.8zM411.0 386.0h.8v.8h-.8zM411.8 386.0h.8v.8h-.8zM394.2 386.8h.8v.8h-.8zM397.4 386.8h.8v.8h-.8zM403.0 386.8h.8v.8h-.8zM405.4 386.8h.8v.8h-.8zM397.4 387.6h.8v.8h-.8zM398.2 387.6h.8v.8h-.8zM399.0 387.6h.8v.8h-.8zM403.0 387.6h.8v.8h-.8zM404.6 387.6h.8v.8h-.8zM408.6 387.6h.8v.8h-.8zM409.4 387.6h.8v.8h-.8zM411.0 387.6h.8v.8h-.8zM406.2 388.4h.8v.8h-.8zM411.0 388.4h.8v.8h-.8zM395.8 389.2h.8v.8h-.8zM400.6 389.2h.8v.8h-.8zM405.4 389.2h.8v.8h-.8zM407.0 389.2h.8v.8h-.8zM395.8 390.0h.8v.8h-.8zM396.6 390.0h.8v.8h-.8zM397.4 390.0h.8v.8h-.8zM398.2 390.0h.8v.8h-.8zM399.8 390.0h.8v.8h-.8zM407.0 390.0h.8v.8h-.8zM409.4 390.0h.8v.8h-.8zM395.0 390.8h.8v.8h-.8zM396.6 390.8h.8v.8h-.8zM397.4 390.8h.8v.8h-.8zM407.0 390.8h.8v.8h-.8zM413.4 390.8h.8v.8h-.8zM396.6 391.6h.8v.8h-.8zM397.4 391.6h.8v.8h-.8zM398.2 391.6h.8v.8h-.8zM408.6 391.6h.8v.8h-.8zM394.2 392.4h.8v.8h-.8zM396.6 392.4h.8v.8h-.8zM410.2 392.4h.8v.8h-.8zM395.0 393.2h.8v.8h-.8zM395.8 393.2h.8v.8h-.8zM410.2 393.2h.8v.8h-.8zM411.0 393.2h.8v.8h-.8zM393.4 394.0h.8v.8h-.8zM394.2 394.0h.8v.8h-.8zM396.6 394.0h.8v.8h-.8zM395.8 394.8h.8v.8h-.8zM393.4 395.6h.8v.8h-.8zM395.0 395.6h.8v.8h-.8zM395.8 395.6h.8v.8h-.8zM396.6 395.6h.8v.8h-.8zM408.6 395.6h.8v.8h-.8zM410.2 395.6h.8v.8h-.8zM395.0 396.4h.8v.8h-.8zM407.0 396.4h.8v.8h-.8zM392.6 397.2h.8v.8h-.8zM393.4 397.2h.8v.8h-.8zM394.2 397.2h.8v.8h-.8zM409.4 397.2h.8v.8h-.8zM413.4 397.2h.8v.8h-.8zM391.8 398.0h.8v.8h-.8zM394.2 398.0h.8v.8h-.8zM408.6 398.0h.8v.8h-.8zM393.4 398.8h.8v.8h-.8zM411.8 398.8h.8v.8h-.8zM391.8 399.6h.8v.8h-.8zM407.8 399.6h.8v.8h-.8zM409.4 399.6h.8v.8h-.8zM391.0 400.4h.8v.8h-.8zM392.6 400.4h.8v.8h-.8zM393.4 400.4h.8v.8h-.8zM409.4 400.4h.8v.8h-.8zM411.0 400.4h.8v.8h-.8zM391.8 401.2h.8v.8h-.8zM407.8 402.0h.8v.8h-.8zM411.0 402.0h.8v.8h-.8zM391.0 402.8h.8v.8h-.8zM391.8 402.8h.8v.8h-.8zM392.6 402.8h.8v.8h-.8zM405.4 402.8h.8v.8h-.8zM407.0 402.8h.8v.8h-.8zM407.8 402.8h.8v.8h-.8zM408.6 402.8h.8v.8h-.8zM392.6 403.6h.8v.8h-.8zM393.4 403.6h.8v.8h-.8zM409.4 403.6h.8v.8h-.8zM405.4 404.4h.8v.8h-.8zM391.8 405.2h.8v.8h-.8zM406.2 405.2h.8v.8h-.8zM390.2 406.0h.8v.8h-.8zM404.6 406.0h.8v.8h-.8zM405.4 406.0h.8v.8h-.8zM406.2 406.0h.8v.8h-.8zM407.0 406.0h.8v.8h-.8zM407.8 406.0h.8v.8h-.8zM407.0 406.8h.8v.8h-.8zM407.8 406.8h.8v.8h-.8zM389.4 407.6h.8v.8h-.8zM390.2 407.6h.8v.8h-.8zM404.6 407.6h.8v.8h-.8zM406.2 407.6h.8v.8h-.8zM407.8 407.6h.8v.8h-.8zM405.4 408.4h.8v.8h-.8zM407.8 408.4h.8v.8h-.8zM407.8 409.2h.8v.8h-.8zM389.4 410.0h.8v.8h-.8zM390.2 410.0h.8v.8h-.8zM407.0 410.0h.8v.8h-.8zM408.6 410.0h.8v.8h-.8zM405.4 410.8h.8v.8h-.8zM385.4 411.6h.8v.8h-.8zM405.4 411.6h.8v.8h-.8zM406.2 412.4h.8v.8h-.8zM407.8 412.4h.8v.8h-.8zM385.4 414.0h.8v.8h-.8zM386.2 414.0h.8v.8h-.8zM387.0 414.0h.8v.8h-.8zM406.2 414.0h.8v.8h-.8zM385.4 414.8h.8v.8h-.8zM387.0 414.8h.8v.8h-.8zM407.0 414.8h.8v.8h-.8zM385.4 416.4h.8v.8h-.8zM404.6 416.4h.8v.8h-.8zM407.0 416.4h.8v.8h-.8zM386.2 417.2h.8v.8h-.8zM404.6 417.2h.8v.8h-.8zM383.8 418.0h.8v.8h-.8zM403.8 418.0h.8v.8h-.8zM383.8 418.8h.8v.8h-.8zM385.4 418.8h.8v.8h-.8zM403.8 418.8h.8v.8h-.8zM384.6 419.6h.8v.8h-.8zM402.2 419.6h.8v.8h-.8zM403.0 419.6h.8v.8h-.8zM383.0 420.4h.8v.8h-.8zM384.6 420.4h.8v.8h-.8zM383.0 421.2h.8v.8h-.8zM383.8 421.2h.8v.8h-.8zM403.0 421.2h.8v.8h-.8zM405.4 421.2h.8v.8h-.8zM382.2 422.0h.8v.8h-.8zM384.6 422.0h.8v.8h-.8zM403.0 422.0h.8v.8h-.8zM399.8 422.8h.8v.8h-.8zM403.8 422.8h.8v.8h-.8zM383.8 423.6h.8v.8h-.8zM384.6 423.6h.8v.8h-.8zM400.6 423.6h.8v.8h-.8zM382.2 424.4h.8v.8h-.8zM383.0 424.4h.8v.8h-.8zM383.0 425.2h.8v.8h-.8zM397.4 425.2h.8v.8h-.8zM383.0 426.0h.8v.8h-.8zM395.8 426.0h.8v.8h-.8zM403.0 426.0h.8v.8h-.8zM382.2 426.8h.8v.8h-.8zM393.4 426.8h.8v.8h-.8zM395.8 426.8h.8v.8h-.8zM397.4 426.8h.8v.8h-.8zM395.0 427.6h.8v.8h-.8zM385.4 428.4h.8v.8h-.8zM387.8 428.4h.8v.8h-.8zM388.6 428.4h.8v.8h-.8zM391.8 428.4h.8v.8h-.8zM394.2 428.4h.8v.8h-.8zM395.0 428.4h.8v.8h-.8zM395.8 428.4h.8v.8h-.8z" fill="#0004ff" fill-opacity="0.6"/>
<path d="M405.4 380.4h.8v.8h-.8zM405.4 381.2h.8v.8h-.8zM407.0 381.2h.8v.8h-.8zM404.6 382.0h.8v.8h-.8zM405.4 382.0h.8v.8h-.8zM406.2 382.0h.8v.8h-.8zM407.0 382.8h.8v.8h-.8zM407.8 382.8h.8v.8h-.8zM408.6 382.8h.8v.8h-.8zM402.2 383.6h.8v.8h-.8zM403.8 383.6h.8v.8h-.8zM404.6 383.6h.8v.8h-.8zM405.4 383.6h.8v.8h-.8zM406.2 383.6h.8v.8h-.8zM407.0 383.6h.8v.8h-.8zM407.8 383.6h.8v.8h-.8zM410.2 383.6h.8v.8h-.8zM401.4 384.4h.8v.8h-.8zM404.6 384.4h.8v.8h-.8zM405.4 384.4h.8v.8h-.8zM406.2 384.4h.8v.8h-.8zM407.0 384.4h.8v.8h-.8zM401.4 385.2h.8v.8h-.8zM402.2 385.2h.8v.8h-.8zM403.0 385.2h.8v.8h-.8zM403.8 385.2h.8v.8h-.8zM407.0 385.2h.8v.8h-.8zM407.8 385.2h.8v.8h-.8zM409.4 385.2h.8v.8h-.8zM401.4 386.0h.8v.8h-.8zM402.2 386.0h.8v.8h-.8zM403.0 386.0h.8v.8h-.8zM403.8 386.0h.8v.8h-.8zM404.6 386.0h.8v.8h-.8zM405.4 386.0h.8v.8h-.8zM406.2 386.0h.8v.8h-.8zM407.0 386.0h.8v.8h-.8zM409.4 386.0h.8v.8h-.8zM410.2 386.0h.8v.8h-.8zM396.6 386.8h.8v.8h-.8zM399.8 386.8h.8v.8h-.8zM400.6 386.8h.8v.8h-.8zM401.4 386.8h.8v.8h-.8zM402.2 386.8h.8v.8h-.8zM403.8 386.8h.8v.8h-.8zM404.6 386.8h.8v.8h-.8zM406.2 386.8h.8v.8h-.8zM407.0 386.8h.8v.8h-.8zM407.8 386.8h.8v.8h-.8zM408.6 386.8h.8v.8h-.8zM396.6 387.6h.8v.8h-.8zM399.8 387.6h.8v.8h-.8zM400.6 387.6h.8v.8h-.8zM401.4 387.6h.8v.8h-.8zM402.2 387.6h.8v.8h-.8zM403.8 387.6h.8v.8h-.8zM405.4 387.6h.8v.8h-.8zM406.2 387.6h.8v.8h-.8zM407.0 387.6h.8v.8h-.8zM407.8 387.6h.8v.8h-.8zM398.2 388.4h.8v.8h-.8zM399.0 388.4h.8v.8h-.8zM399.8 388.4h.8v.8h-.8zM400.6 388.4h.8v.8h-.8zM401.4 388.4h.8v.8h-.8zM402.2 388.4h.8v.8h-.8zM404.6 388.4h.8v.8h-.8zM405.4 388.4h.8v.8h-.8zM407.0 388.4h.8v.8h-.8zM407.8 388.4h.8v.8h-.8zM408.6 388.4h.8v.8h-.8zM398.2 389.2h.8v.8h-.8zM399.0 389.2h.8v.8h-.8zM406.2 389.2h.8v.8h-.8zM407.8 389.2h.8v.8h-.8zM408.6 389.2h.8v.8h-.8zM409.4 389.2h.8v.8h-.8zM411.0 389.2h.8v.8h-.8zM399.0 390.0h.8v.8h-.8zM400.6 390.0h.8v.8h-.8zM406.2 390.0h.8v.8h-.8zM407.8 390.0h.8v.8h-.8zM411.0 390.0h.8v.8h-.8zM394.2 390.8h.8v.8h-.8zM398.2 390.8h.8v.8h-.8zM399.0 390.8h.8v.8h-.8zM399.8 390.8h.8v.8h-.8zM407.8 390.8h.8v.8h-.8zM408.6 390.8h.8v.8h-.8zM410.2 390.8h.8v.8h-.8zM399.0 391.6h.8v.8h-.8zM407.0 391.6h.8v.8h-.8zM407.8 391.6h.8v.8h-.8zM409.4 391.6h.8v.8h-.8zM411.0 391.6h.8v.8h-.8zM395.8 392.4h.8v.8h-.8zM397.4 392.4h.8v.8h-.8zM398.2 392.4h.8v.8h-.8zM407.8 392.4h.8v.8h-.8zM409.4 392.4h.8v.8h-.8zM394.2 393.2h.8v.8h-.8zM396.6 393.2h.8v.8h-.8zM397.4 393.2h.8v.8h-.8zM407.8 393.2h.8v.8h-.8zM408.6 393.2h.8v.8h-.8zM395.8 394.0h.8v.8h-.8zM407.8 394.0h.8v.8h-.8zM408.6 394.0h.8v.8h-.8zM396.6 394.8h.8v.8h-.8zM407.8 394.8h.8v.8h-.8zM408.6 394.8h.8v.8h-.8zM407.0 395.6h.8v.8h-.8zM407.8 395.6h.8v.8h-.8zM393.4 396.4h.8v.8h-.8zM395.8 396.4h.8v.8h-.8zM407.8 396.4h.8v.8h-.8zM408.6 396.4h.8v.8h-.8zM410.2 396.4h.8v.8h-.8zM395.0 397.2h.8v.8h-.8zM395.8 397.2h.8v.8h-.8zM407.8 397.2h.8v.8h-.8zM410.2 397.2h.8v.8h-.8zM392.6 398.0h.8v.8h-.8zM395.0 398.0h.8v.8h-.8zM406.2 398.0h.8v.8h-.8zM407.0 398.0h.8v.8h-.8zM409.4 398.0h.8v.8h-.8zM392.6 398.8h.8v.8h-.8zM394.2 398.8h.8v.8h-.8zM407.0 398.8h.8v.8h-.8zM407.8 398.8h.8v.8h-.8zM408.6 398.8h.8v.8h-.8zM409.4 398.8h.8v.8h-.8zM392.6 399.6h.8v.8h-.8zM393.4 399.6h.8v.8h-.8zM394.2 399.6h.8v.8h-.8zM406.2 399.6h.8v.8h-.8zM407.0 399.6h.8v.8h-.8zM391.8 400.4h.8v.8h-.8zM406.2 400.4h.8v.8h-.8zM407.0 400.4h.8v.8h-.8zM408.6 400.4h.8v.8h-.8zM391.0 401.2h.8v.8h-.8zM392.6 401.2h.8v.8h-.8zM405.4 401.2h.8v.8h-.8zM406.2 401.2h.8v.8h-.8zM407.8 401.2h.8v.8h-.8zM392.6 402.0h.8v.8h-.8zM393.4 402.0h.8v.8h-.8zM406.2 402.0h.8v.8h-.8zM407.0 402.0h.8v.8h-.8zM390.2 402.8h.8v.8h-.8zM390.2 403.6h.8v.8h-.8zM405.4 403.6h.8v.8h-.8zM406.2 403.6h.8v.8h-.8zM407.0 403.6h.8v.8h-.8zM407.8 403.6h.8v.8h-.8zM391.8 404.4h.8v.8h-.8zM392.6 404.4h.8v.8h-.8zM407.8 404.4h.8v.8h-.8zM390.2 405.2h.8v.8h-.8zM391.0 405.2h.8v.8h-.8zM392.6 405.2h.8v.8h-.8zM405.4 405.2h.8v.8h-.8zM391.0 406.0h.8v.8h-.8zM391.8 406.0h.8v.8h-.8zM391.0 406.8h.8v.8h-.8zM391.8 406.8h.8v.8h-.8zM404.6 406.8h.8v.8h-.8zM405.4 406.8h.8v.8h-.8zM406.2 406.8h.8v.8h-.8zM391.0 407.6h.8v.8h-.8zM405.4 407.6h.8v.8h-.8zM390.2 408.4h.8v.8h-.8zM391.0 408.4h.8v.8h-.8zM404.6 408.4h.8v.8h-.8zM406.2 408.4h.8v.8h-.8zM389.4 409.2h.8v.8h-.8zM390.2 409.2h.8v.8h-.8zM404.6 409.2h.8v.8h-.8zM405.4 409.2h.8v.8h-.8zM406.2 409.2h.8v.8h-.8zM388.6 410.0h.8v.8h-.8zM404.6 410.0h.8v.8h-.8zM405.4 410.0h.8v.8h-.8zM389.4 410.8h.8v.8h-.8zM404.6 410.8h.8v.8h-.8zM406.2 410.8h.8v.8h-.8zM388.6 411.6h.8v.8h-.8zM389.4 411.6h.8v.8h-.8zM404.6 411.6h.8v.8h-.8zM406.2 411.6h.8v.8h-.8zM388.6 412.4h.8v.8h-.8zM404.6 412.4h.8v.8h-.8zM405.4 412.4h.8v.8h-.8zM388.6 413.2h.8v.8h-.8zM404.6 413.2h.8v.8h-.8zM405.4 413.2h.8v.8h-.8zM387.8 414.0h.8v.8h-.8zM404.6 414.0h.8v.8h-.8zM405.4 414.0h.8v.8h-.8zM387.8 414.8h.8v.8h-.8zM404.6 414.8h.8v.8h-.8zM405.4 414.8h.8v.8h-.8zM385.4 415.6h.8v.8h-.8zM387.0 415.6h.8v.8h-.8zM403.8 415.6h.8v.8h-.8zM404.6 415.6h.8v.8h-.8zM387.0 416.4h.8v.8h-.8zM403.8 416.4h.8v.8h-.8zM384.6 417.2h.8v.8h-.8zM387.0 417.2h.8v.8h-.8zM385.4 418.0h.8v.8h-.8zM386.2 418.0h.8v.8h-.8zM387.0 418.0h.8v.8h-.8zM403.0 418.0h.8v.8h-.8zM386.2 418.8h.8v.8h-.8zM402.2 418.8h.8v.8h-.8zM385.4 419.6h.8v.8h-.8zM386.2 419.6h.8v.8h-.8zM385.4 420.4h.8v.8h-.8zM386.2 420.4h.8v.8h-.8zM401.4 420.4h.8v.8h-.8zM402.2 420.4h.8v.8h-.8zM403.0 420.4h.8v.8h-.8zM384.6 421.2h.8v.8h-.8zM385.4 421.2h.8v.8h-.8zM400.6 421.2h.8v.8h-.8zM383.0 422.0h.8v.8h-.8zM383.8 422.0h.8v.8h-.8zM400.6 422.0h.8v.8h-.8zM401.4 422.0h.8v.8h-.8zM402.2 422.0h.8v.8h-.8zM383.0 422.8h.8v.8h-.8zM383.8 422.8h.8v.8h-.8zM384.6 422.8h.8v.8h-.8zM385.4 422.8h.8v.8h-.8zM400.6 422.8h.8v.8h-.8zM401.4 422.8h.8v.8h-.8zM385.4 423.6h.8v.8h-.8zM386.2 423.6h.8v.8h-.8zM399.0 423.6h.8v.8h-.8zM384.6 424.4h.8v.8h-.8zM385.4 424.4h.8v.8h-.8zM386.2 424.4h.8v.8h-.8zM397.4 424.4h.8v.8h-.8zM399.0 424.4h.8v.8h-.8zM399.8 424.4h.8v.8h-.8zM383.8 425.2h.8v.8h-.8zM384.6 425.2h.8v.8h-.8zM385.4 425.2h.8v.8h-.8zM386.2 425.2h.8v.8h-.8zM395.8 425.2h.8v.8h-.8zM396.6 425.2h.8v.8h-.8zM385.4 426.0h.8v.8h-.8zM386.2 426.0h.8v.8h-.8zM387.0 426.0h.8v.8h-.8zM387.8 426.0h.8v.8h-.8zM395.0 426.0h.8v.8h-.8zM397.4 426.0h.8v.8h-.8zM398.2 426.0h.8v.8h-.8zM383.8 426.8h.8v.8h-.8zM386.2 426.8h.8v.8h-.8zM387.0 426.8h.8v.8h-.8zM387.8 426.8h.8v.8h-.8zM388.6 426.8h.8v.8h-.8zM389.4 426.8h.8v.8h-.8zM394.2 426.8h.8v.8h-.8zM387.0 427.6h.8v.8h-.8zM387.8 427.6h.8v.8h-.8zM388.6 427.6h.8v.8h-.8zM389.4 427.6h.8v.8h-.8zM391.0 427.6h.8v.8h-.8zM391.8 427.6h.8v.8h-.8zM393.4 427.6h.8v.8h-.8zM394.2 427.6h.8v.8h-.8zM383.8 428.4h.8v.8h-.8zM387.0 428.4h.8v.8h-.8zM390.2 428.4h.8v.8h-.8zM391.0 428.4h.8v.8h-.8zM392.6 428.4h.8v.8h-.8zM387.0 429.2h.8v.8h-.8z" fill="#0004ff"/>
<path d="M403.0 390.8h.8v.8h-.8zM399.0 393.2h.8v.8h-.8zM399.0 394.0h.8v.8h-.8zM395.8 399.6h.8v.8h-.8zM403.8 399.6h.8v.8h-.8zM394.2 400.4h.8v.8h-.8zM403.8 406.0h.8v.8h-.8zM391.8 407.6h.8v.8h-.8zM403.8 410.8h.8v.8h-.8zM389.4 413.2h.8v.8h-.8zM403.8 413.2h.8v.8h-.8zM403.0 414.0h.8v.8h-.8zM388.6 415.6h.8v.8h-.8zM387.0 419.6h.8v.8h-.8zM400.6 420.4h.8v.8h-.8z" fill="#003fff" fill-opacity="0.6"/>
<path d="M403.0 388.4h.8v.8h-.8zM403.8 388.4h.8v.8h-.8zM401.4 389.2h.8v.8h-.8zM402.2 389.2h.8v.8h-.8zM403.0 389.2h.8v.8h-.8zM403.8 389.2h.8v.8h-.8zM404.6 389.2h.8v.8h-.8zM401.4 390.0h.8v.8h-.8zM402.2 390.0h.8v.8h-.8zM403.0 390.0h.8v.8h-.8zM403.8 390.0h.8v.8h-.8zM404.6 390.0h.8v.8h-.8zM405.4 390.0h.8v.8h-.8zM400.6 390.8h.8v.8h-.8zM401.4 390.8h.8v.8h-.8zM402.2 390.8h.8v.8h-.8zM403.8 390.8h.8v.8h-.8zM404.6 390.8h.8v.8h-.8zM405.4 390.8h.8v.8h-.8zM406.2 390.8h.8v.8h-.8zM400.6 391.6h.8v.8h-.8zM401.4 391.6h.8v.8h-.8zM402.2 391.6h.8v.8h-.8zM403.0 391.6h.8v.8h-.8zM403.8 391.6h.8v.8h-.8zM404.6 391.6h.8v.8h-.8zM405.4 391.6h.8v.8h-.8zM406.2 391.6h.8v.8h-.8zM399.0 392.4h.8v.8h-.8zM399.8 392.4h.8v.8h-.8zM400.6 392.4h.8v.8h-.8zM401.4 392.4h.8v.8h-.8zM402.2 392.4h.8v.8h-.8zM403.0 392.4h.8v.8h-.8zM403.8 392.4h.8v.8h-.8zM404.6 392.4h.8v.8h-.8zM405.4 392.4h.8v.8h-.8zM406.2 392.4h.8v.8h-.8zM407.0 392.4h.8v.8h-.8zM398.2 393.2h.8v.8h-.8zM399.8 393.2h.8v.8h-.8zM400.6 393.2h.8v.8h-.8zM401.4 393.2h.8v.8h-.8zM402.2 393.2h.8v.8h-.8zM403.8 393.2h.8v.8h-.8zM404.6 393.2h.8v.8h-.8zM405.4 393.2h.8v.8h-.8zM406.2 393.2h.8v.8h-.8zM407.0 393.2h.8v.8h-.8zM397.4 394.0h.8v.8h-.8zM398.2 394.0h.8v.8h-.8zM399.8 394.0h.8v.8h-.8zM400.6 394.0h.8v.8h-.8zM405.4 394.0h.8v.8h-.8zM406.2 394.0h.8v.8h-.8zM407.0 394.0h.8v.8h-.8zM397.4 394.8h.8v.8h-.8zM398.2 394.8h.8v.8h-.8zM399.0 394.8h.8v.8h-.8zM399.8 394.8h.8v.8h-.8zM405.4 394.8h.8v.8h-.8zM406.2 394.8h.8v.8h-.8zM407.0 394.8h.8v.8h-.8zM397.4 395.6h.8v.8h-.8zM398.2 395.6h.8v.8h-.8zM399.0 395.6h.8v.8h-.8zM399.8 395.6h.8v.8h-.8zM405.4 395.6h.8v.8h-.8zM396.6 396.4h.8v.8h-.8zM397.4 396.4h.8v.8h-.8zM398.2 396.4h.8v.8h-.8zM399.0 396.4h.8v.8h-.8zM405.4 396.4h.8v.8h-.8zM406.2 396.4h.8v.8h-.8zM396.6 397.2h.8v.8h-.8zM397.4 397.2h.8v.8h-.8zM398.2 397.2h.8v.8h-.8zM399.0 397.2h.8v.8h-.8zM405.4 397.2h.8v.8h-.8zM406.2 397.2h.8v.8h-.8zM395.8 398.0h.8v.8h-.8zM396.6 398.0h.8v.8h-.8zM397.4 398.0h.8v.8h-.8zM398.2 398.0h.8v.8h-.8zM404.6 398.0h.8v.8h-.8zM405.4 398.0h.8v.8h-.8zM395.0 398.8h.8v.8h-.8zM395.8 398.8h.8v.8h-.8zM396.6 398.8h.8v.8h-.8zM397.4 398.8h.8v.8h-.8zM404.6 398.8h.8v.8h-.8zM405.4 398.8h.8v.8h-.8zM395.0 399.6h.8v.8h-.8zM396.6 399.6h.8v.8h-.8zM404.6 399.6h.8v.8h-.8zM405.4 399.6h.8v.8h-.8zM395.0 400.4h.8v.8h-.8zM395.8 400.4h.8v.8h-.8zM403.8 400.4h.8v.8h-.8zM404.6 400.4h.8v.8h-.8zM405.4 400.4h.8v.8h-.8zM394.2 401.2h.8v.8h-.8zM395.0 401.2h.8v.8h-.8zM403.8 401.2h.8v.8h-.8zM404.6 401.2h.8v.8h-.8zM394.2 402.0h.8v.8h-.8zM395.0 402.0h.8v.8h-.8zM403.8 402.0h.8v.8h-.8zM404.6 402.0h.8v.8h-.8zM394.2 402.8h.8v.8h-.8zM395.0 402.8h.8v.8h-.8zM403.8 402.8h.8v.8h-.8zM404.6 402.8h.8v.8h-.8zM394.2 403.6h.8v.8h-.8zM403.8 403.6h.8v.8h-.8zM404.6 403.6h.8v.8h-.8zM393.4 404.4h.8v.8h-.8zM394.2 404.4h.8v.8h-.8zM403.8 404.4h.8v.8h-.8zM404.6 404.4h.8v.8h-.8zM393.4 405.2h.8v.8h-.8zM403.8 405.2h.8v.8h-.8zM404.6 405.2h.8v.8h-.8zM392.6 406.0h.8v.8h-.8zM393.4 406.0h.8v.8h-.8zM392.6 406.8h.8v.8h-.8zM403.0 406.8h.8v.8h-.8zM403.8 406.8h.8v.8h-.8zM392.6 407.6h.8v.8h-.8zM403.0 407.6h.8v.8h-.8zM403.8 407.6h.8v.8h-.8zM391.8 408.4h.8v.8h-.8zM403.0 408.4h.8v.8h-.8zM403.8 408.4h.8v.8h-.8zM391.0 409.2h.8v.8h-.8zM391.8 409.2h.8v.8h-.8zM403.0 409.2h.8v.8h-.8zM403.8 409.2h.8v.8h-.8zM391.0 410.0h.8v.8h-.8zM403.0 410.0h.8v.8h-.8zM403.8 410.0h.8v.8h-.8zM390.2 410.8h.8v.8h-.8zM391.0 410.8h.8v.8h-.8zM403.0 410.8h.8v.8h-.8zM390.2 411.6h.8v.8h-.8zM391.0 411.6h.8v.8h-.8zM403.0 411.6h.8v.8h-.8zM403.8 411.6h.8v.8h-.8zM390.2 412.4h.8v.8h-.8zM403.0 412.4h.8v.8h-.8zM403.8 412.4h.8v.8h-.8zM403.0 413.2h.8v.8h-.8zM388.6 414.0h.8v.8h-.8zM389.4 414.0h.8v.8h-.8zM403.8 414.0h.8v.8h-.8zM388.6 414.8h.8v.8h-.8zM403.0 414.8h.8v.8h-.8zM403.8 414.8h.8v.8h-.8zM387.8 415.6h.8v.8h-.8zM403.0 415.6h.8v.8h-.8zM387.8 416.4h.8v.8h-.8zM388.6 416.4h.8v.8h-.8zM403.0 416.4h.8v.8h-.8zM387.8 417.2h.8v.8h-.8zM402.2 417.2h.8v.8h-.8zM403.0 417.2h.8v.8h-.8zM387.8 418.0h.8v.8h-.8zM401.4 418.0h.8v.8h-.8zM402.2 418.0h.8v.8h-.8zM387.0 418.8h.8v.8h-.8zM387.8 418.8h.8v.8h-.8zM401.4 418.8h.8v.8h-.8zM387.8 419.6h.8v.8h-.8zM400.6 419.6h.8v.8h-.8zM401.4 419.6h.8v.8h-.8zM387.0 420.4h.8v.8h-.8zM399.8 420.4h.8v.8h-.8zM386.2 421.2h.8v.8h-.8zM387.0 421.2h.8v.8h-.8zM399.8 421.2h.8v.8h-.8zM386.2 422.0h.8v.8h-.8zM387.0 422.0h.8v.8h-.8zM399.0 422.0h.8v.8h-.8zM399.8 422.0h.8v.8h-.8zM386.2 422.8h.8v.8h-.8zM387.0 422.8h.8v.8h-.8zM398.2 422.8h.8v.8h-.8zM387.8 423.6h.8v.8h-.8zM397.4 423.6h.8v.8h-.8zM398.2 423.6h.8v.8h-.8zM387.0 424.4h.8v.8h-.8zM387.8 424.4h.8v.8h-.8zM395.0 424.4h.8v.8h-.8zM396.6 424.4h.8v.8h-.8zM387.8 425.2h.8v.8h-.8zM388.6 425.2h.8v.8h-.8zM389.4 425.2h.8v.8h-.8zM394.2 425.2h.8v.8h-.8zM395.0 425.2h.8v.8h-.8zM388.6 426.0h.8v.8h-.8zM389.4 426.0h.8v.8h-.8zM390.2 426.0h.8v.8h-.8zM391.0 426.0h.8v.8h-.8zM391.8 426.0h.8v.8h-.8zM392.6 426.0h.8v.8h-.8zM393.4 426.0h.8v.8h-.8zM394.2 426.0h.8v.8h-.8zM390.2 426.8h.8v.8h-.8zM391.0 426.8h.8v.8h-.8zM391.8 426.8h.8v.8h-.8zM392.6 426.8h.8v.8h-.8z" fill="#003fff"/>
<path d="M402.2 402.0h.8v.8h-.8zM395.8 402.8h.8v.8h-.8zM391.0 412.4h.8v.8h-.8z" fill="#007bff" fill-opacity="0.6"/>
<path d="M403.0 393.2h.8v.8h-.8zM401.4 394.0h.8v.8h-.8zM402.2 394.0h.8v.8h-.8zM403.0 394.0h.8v.8h-.8zM403.8 394.0h.8v.8h-.8zM404.6 394.0h.8v.8h-.8zM400.6 394.8h.8v.8h-.8zM401.4 394.8h.8v.8h-.8zM402.2 394.8h.8v.8h-.8zM403.0 394.8h.8v.8h-.8zM403.8 394.8h.8v.8h-.8zM404.6 394.8h.8v.8h-.8zM400.6 395.6h.8v.8h-.8zM401.4 395.6h.8v.8h-.8zM402.2 395.6h.8v.8h-.8zM403.0 395.6h.8v.8h-.8zM403.8 395.6h.8v.8h-.8zM404.6 395.6h.8v.8h-.8zM399.8 396.4h.8v.8h-.8zM400.6 396.4h.8v.8h-.8zM401.4 396.4h.8v.8h-.8zM402.2 396.4h.8v.8h-.8zM403.0 396.4h.8v.8h-.8zM403.8 396.4h.8v.8h-.8zM404.6 396.4h.8v.8h-.8zM399.8 397.2h.8v.8h-.8zM400.6 397.2h.8v.8h-.8zM401.4 397.2h.8v.8h-.8zM402.2 397.2h.8v.8h-.8zM403.0 397.2h.8v.8h-.8zM403.8 397.2h.8v.8h-.8zM404.6 397.2h.8v.8h-.8zM399.0 398.0h.8v.8h-.8zM399.8 398.0h.8v.8h-.8zM400.6 398.0h.8v.8h-.8zM401.4 398.0h.8v.8h-.8zM402.2 398.0h.8v.8h-.8zM403.0 398.0h.8v.8h-.8zM403.8 398.0h.8v.8h-.8zM398.2 398.8h.8v.8h-.8zM399.0 398.8h.8v.8h-.8zM399.8 398.8h.8v.8h-.8zM402.2 398.8h.8v.8h-.8zM403.0 398.8h.8v.8h-.8zM403.8 398.8h.8v.8h-.8zM397.4 399.6h.8v.8h-.8zM398.2 399.6h.8v.8h-.8zM399.0 399.6h.8v.8h-.8zM399.8 399.6h.8v.8h-.8zM402.2 399.6h.8v.8h-.8zM403.0 399.6h.8v.8h-.8zM396.6 400.4h.8v.8h-.8zM397.4 400.4h.8v.8h-.8zM398.2 400.4h.8v.8h-.8zM399.0 400.4h.8v.8h-.8zM399.8 400.4h.8v.8h-.8zM401.4 400.4h.8v.8h-.8zM402.2 400.4h.8v.8h-.8zM403.0 400.4h.8v.8h-.8zM395.8 401.2h.8v.8h-.8zM396.6 401.2h.8v.8h-.8zM397.4 401.2h.8v.8h-.8zM398.2 401.2h.8v.8h-.8zM399.0 401.2h.8v.8h-.8zM399.8 401.2h.8v.8h-.8zM400.6 401.2h.8v.8h-.8zM401.4 401.2h.8v.8h-.8zM402.2 401.2h.8v.8h-.8zM403.0 401.2h.8v.8h-.8zM395.8 402.0h.8v.8h-.8zM396.6 402.0h.8v.8h-.8zM397.4 402.0h.8v.8h-.8zM398.2 402.0h.8v.8h-.8zM399.0 402.0h.8v.8h-.8zM401.4 402.0h.8v.8h-.8zM403.0 402.0h.8v.8h-.8zM396.6 402.8h.8v.8h-.8zM402.2 402.8h.8v.8h-.8zM403.0 402.8h.8v.8h-.8zM395.0 403.6h.8v.8h-.8zM395.8 403.6h.8v.8h-.8zM402.2 403.6h.8v.8h-.8zM403.0 403.6h.8v.8h-.8zM395.0 404.4h.8v.8h-.8zM403.0 404.4h.8v.8h-.8zM394.2 405.2h.8v.8h-.8zM403.0 405.2h.8v.8h-.8zM394.2 406.0h.8v.8h-.8zM402.2 406.0h.8v.8h-.8zM403.0 406.0h.8v.8h-.8zM393.4 406.8h.8v.8h-.8zM402.2 406.8h.8v.8h-.8zM393.4 407.6h.8v.8h-.8zM402.2 407.6h.8v.8h-.8zM392.6 408.4h.8v.8h-.8zM402.2 408.4h.8v.8h-.8zM392.6 409.2h.8v.8h-.8zM402.2 409.2h.8v.8h-.8zM391.8 410.0h.8v.8h-.8zM392.6 410.0h.8v.8h-.8zM402.2 410.0h.8v.8h-.8zM391.8 410.8h.8v.8h-.8zM402.2 410.8h.8v.8h-.8zM391.8 411.6h.8v.8h-.8zM402.2 411.6h.8v.8h-.8zM402.2 412.4h.8v.8h-.8zM390.2 413.2h.8v.8h-.8zM402.2 413.2h.8v.8h-.8zM390.2 414.0h.8v.8h-.8zM402.2 414.0h.8v.8h-.8zM389.4 414.8h.8v.8h-.8zM402.2 414.8h.8v.8h-.8zM389.4 415.6h.8v.8h-.8zM402.2 415.6h.8v.8h-.8zM389.4 416.4h.8v.8h-.8zM401.4 416.4h.8v.8h-.8zM402.2 416.4h.8v.8h-.8zM388.6 417.2h.8v.8h-.8zM401.4 417.2h.8v.8h-.8zM388.6 418.0h.8v.8h-.8zM400.6 418.0h.8v.8h-.8zM388.6 418.8h.8v.8h-.8zM400.6 418.8h.8v.8h-.8zM388.6 419.6h.8v.8h-.8zM399.8 419.6h.8v.8h-.8zM387.8 420.4h.8v.8h-.8zM388.6 420.4h.8v.8h-.8zM399.0 420.4h.8v.8h-.8zM387.8 421.2h.8v.8h-.8zM388.6 421.2h.8v.8h-.8zM398.2 421.2h.8v.8h-.8zM399.0 421.2h.8v.8h-.8zM387.8 422.0h.8v.8h-.8zM388.6 422.0h.8v.8h-.8zM397.4 422.0h.8v.8h-.8zM398.2 422.0h.8v.8h-.8zM387.8 422.8h.8v.8h-.8zM388.6 422.8h.8v.8h-.8zM396.6 422.8h.8v.8h-.8zM397.4 422.8h.8v.8h-.8zM388.6 423.6h.8v.8h-.8zM395.0 423.6h.8v.8h-.8zM395.8 423.6h.8v.8h-.8zM396.6 423.6h.8v.8h-.8zM388.6 424.4h.8v.8h-.8zM389.4 424.4h.8v.8h-.8zM390.2 424.4h.8v.8h-.8zM392.6 424.4h.8v.8h-.8zM393.4 424.4h.8v.8h-.8zM394.2 424.4h.8v.8h-.8zM390.2 425.2h.8v.8h-.8zM391.0 425.2h.8v.8h-.8zM391.8 425.2h.8v.8h-.8zM392.6 425.2h.8v.8h-.8zM393.4 425.2h.8v.8h-.8z" fill="#007bff"/>
<path d="M400.6 398.8h.8v.8h-.8zM401.4 398.8h.8v.8h-.8zM400.6 399.6h.8v.8h-.8zM401.4 399.6h.8v.8h-.8zM400.6 400.4h.8v.8h-.8zM399.8 402.0h.8v.8h-.8zM400.6 402.0h.8v.8h-.8zM397.4 402.8h.8v.8h-.8zM398.2 402.8h.8v.8h-.8zM399.0 402.8h.8v.8h-.8zM399.8 402.8h.8v.8h-.8zM400.6 402.8h.8v.8h-.8zM401.4 402.8h.8v.8h-.8zM396.6 403.6h.8v.8h-.8zM397.4 403.6h.8v.8h-.8zM398.2 403.6h.8v.8h-.8zM399.0 403.6h.8v.8h-.8zM399.8 403.6h.8v.8h-.8zM400.6 403.6h.8v.8h-.8zM401.4 403.6h.8v.8h-.8zM395.8 404.4h.8v.8h-.8zM396.6 404.4h.8v.8h-.8zM401.4 404.4h.8v.8h-.8zM402.2 404.4h.8v.8h-.8zM395.0 405.2h.8v.8h-.8zM395.8 405.2h.8v.8h-.8zM401.4 405.2h.8v.8h-.8zM402.2 405.2h.8v.8h-.8zM395.0 406.0h.8v.8h-.8zM401.4 406.0h.8v.8h-.8zM394.2 406.8h.8v.8h-.8zM395.0 406.8h.8v.8h-.8zM401.4 406.8h.8v.8h-.8zM394.2 407.6h.8v.8h-.8zM401.4 407.6h.8v.8h-.8zM393.4 408.4h.8v.8h-.8zM401.4 408.4h.8v.8h-.8zM393.4 409.2h.8v.8h-.8zM401.4 409.2h.8v.8h-.8zM392.6 410.8h.8v.8h-.8zM392.6 411.6h.8v.8h-.8zM391.8 412.4h.8v.8h-.8zM391.0 413.2h.8v.8h-.8zM391.0 414.0h.8v.8h-.8zM390.2 414.8h.8v.8h-.8zM401.4 414.8h.8v.8h-.8zM390.2 415.6h.8v.8h-.8zM401.4 415.6h.8v.8h-.8zM400.6 416.4h.8v.8h-.8zM389.4 417.2h.8v.8h-.8zM400.6 417.2h.8v.8h-.8zM389.4 418.0h.8v.8h-.8zM399.8 418.0h.8v.8h-.8zM389.4 418.8h.8v.8h-.8zM399.8 418.8h.8v.8h-.8zM389.4 419.6h.8v.8h-.8zM399.0 419.6h.8v.8h-.8zM389.4 420.4h.8v.8h-.8zM398.2 420.4h.8v.8h-.8zM389.4 421.2h.8v.8h-.8zM397.4 421.2h.8v.8h-.8zM389.4 422.0h.8v.8h-.8zM396.6 422.0h.8v.8h-.8zM389.4 422.8h.8v.8h-.8zM390.2 422.8h.8v.8h-.8zM395.0 422.8h.8v.8h-.8zM395.8 422.8h.8v.8h-.8zM389.4 423.6h.8v.8h-.8zM390.2 423.6h.8v.8h-.8zM391.0 423.6h.8v.8h-.8zM391.8 423.6h.8v.8h-.8zM392.6 423.6h.8v.8h-.8zM393.4 423.6h.8v.8h-.8zM394.2 423.6h.8v.8h-.8zM391.0 424.4h.8v.8h-.8zM391.8 424.4h.8v.8h-.8z" fill="#00b6ff"/>
<path d="M397.4 404.4h.8v.8h-.8zM398.2 404.4h.8v.8h-.8zM399.0 404.4h.8v.8h-.8zM399.8 404.4h.8v.8h-.8zM400.6 404.4h.8v.8h-.8zM396.6 405.2h.8v.8h-.8zM397.4 405.2h.8v.8h-.8zM398.2 405.2h.8v.8h-.8zM399.0 405.2h.8v.8h-.8zM399.8 405.2h.8v.8h-.8zM400.6 405.2h.8v.8h-.8zM395.8 406.0h.8v.8h-.8zM396.6 406.0h.8v.8h-.8zM397.4 406.0h.8v.8h-.8zM400.6 406.0h.8v.8h-.8zM395.8 406.8h.8v.8h-.8zM400.6 406.8h.8v.8h-.8zM395.0 407.6h.8v.8h-.8zM400.6 407.6h.8v.8h-.8zM394.2 408.4h.8v.8h-.8zM400.6 408.4h.8v.8h-.8zM393.4 410.0h.8v.8h-.8zM401.4 410.0h.8v.8h-.8zM393.4 410.8h.8v.8h-.8zM401.4 410.8h.8v.8h-.8zM401.4 411.6h.8v.8h-.8zM392.6 412.4h.8v.8h-.8zM401.4 412.4h.8v.8h-.8zM391.8 413.2h.8v.8h-.8zM401.4 413.2h.8v.8h-.8zM391.8 414.0h.8v.8h-.8zM401.4 414.0h.8v.8h-.8zM391.0 414.8h.8v.8h-.8zM391.0 415.6h.8v.8h-.8zM400.6 415.6h.8v.8h-.8zM390.2 416.4h.8v.8h-.8zM390.2 417.2h.8v.8h-.8zM399.8 417.2h.8v.8h-.8zM390.2 418.0h.8v.8h-.8zM390.2 418.8h.8v.8h-.8zM399.0 418.8h.8v.8h-.8zM390.2 419.6h.8v.8h-.8zM398.2 419.6h.8v.8h-.8zM390.2 420.4h.8v.8h-.8zM397.4 420.4h.8v.8h-.8zM390.2 421.2h.8v.8h-.8zM396.6 421.2h.8v.8h-.8zM390.2 422.0h.8v.8h-.8zM391.0 422.0h.8v.8h-.8zM395.0 422.0h.8v.8h-.8zM395.8 422.0h.8v.8h-.8zM391.0 422.8h.8v.8h-.8zM391.8 422.8h.8v.8h-.8zM392.6 422.8h.8v.8h-.8zM393.4 422.8h.8v.8h-.8zM394.2 422.8h.8v.8h-.8z" fill="#00f2ff"/>
<path d="M398.2 406.0h.8v.8h-.8zM399.0 406.0h.8v.8h-.8zM399.8 406.0h.8v.8h-.8zM396.6 406.8h.8v.8h-.8zM397.4 406.8h.8v.8h-.8zM398.2 406.8h.8v.8h-.8zM399.0 406.8h.8v.8h-.8zM399.8 406.8h.8v.8h-.8zM395.8 407.6h.8v.8h-.8zM399.8 407.6h.8v.8h-.8zM395.0 408.4h.8v.8h-.8zM394.2 409.2h.8v.8h-.8zM400.6 409.2h.8v.8h-.8zM394.2 410.0h.8v.8h-.8zM400.6 410.0h.8v.8h-.8zM400.6 410.8h.8v.8h-.8zM393.4 411.6h.8v.8h-.8zM400.6 411.6h.8v.8h-.8zM392.6 413.2h.8v.8h-.8zM400.6 414.0h.8v.8h-.8zM391.8 414.8h.8v.8h-.8zM400.6 414.8h.8v.8h-.8zM391.0 416.4h.8v.8h-.8zM399.8 416.4h.8v.8h-.8zM391.0 417.2h.8v.8h-.8zM391.0 418.0h.8v.8h-.8zM399.0 418.0h.8v.8h-.8zM391.0 418.8h.8v.8h-.8zM398.2 418.8h.8v.8h-.8zM391.0 419.6h.8v.8h-.8zM397.4 419.6h.8v.8h-.8zM391.0 420.4h.8v.8h-.8zM396.6 420.4h.8v.8h-.8zM391.0 421.2h.8v.8h-.8zM391.8 421.2h.8v.8h-.8zM395.8 421.2h.8v.8h-.8zM391.8 422.0h.8v.8h-.8zM392.6 422.0h.8v.8h-.8zM393.4 422.0h.8v.8h-.8zM394.2 422.0h.8v.8h-.8z" fill="#2effd0"/>
<path d="M396.6 407.6h.8v.8h-.8zM397.4 407.6h.8v.8h-.8zM398.2 407.6h.8v.8h-.8zM399.0 407.6h.8v.8h-.8zM395.8 408.4h.8v.8h-.8zM399.8 408.4h.8v.8h-.8zM395.0 409.2h.8v.8h-.8zM399.8 409.2h.8v.8h-.8zM395.0 410.0h.8v.8h-.8zM399.8 410.0h.8v.8h-.8zM394.2 410.8h.8v.8h-.8zM394.2 411.6h.8v.8h-.8zM393.4 412.4h.8v.8h-.8zM400.6 412.4h.8v.8h-.8zM400.6 413.2h.8v.8h-.8zM392.6 414.0h.8v.8h-.8zM392.6 414.8h.8v.8h-.8zM399.8 414.8h.8v.8h-.8zM391.8 415.6h.8v.8h-.8zM399.8 415.6h.8v.8h-.8zM391.8 416.4h.8v.8h-.8zM391.8 417.2h.8v.8h-.8zM399.0 417.2h.8v.8h-.8zM398.2 418.0h.8v.8h-.8zM397.4 418.8h.8v.8h-.8zM391.8 419.6h.8v.8h-.8zM396.6 419.6h.8v.8h-.8zM391.8 420.4h.8v.8h-.8zM395.8 420.4h.8v.8h-.8zM392.6 421.2h.8v.8h-.8zM393.4 421.2h.8v.8h-.8zM394.2 421.2h.8v.8h-.8zM395.0 421.2h.8v.8h-.8z" fill="#6aff94"/>
<path d="M396.6 408.4h.8v.8h-.8zM397.4 408.4h.8v.8h-.8zM398.2 408.4h.8v.8h-.8zM399.0 408.4h.8v.8h-.8zM395.8 409.2h.8v.8h-.8zM396.6 409.2h.8v.8h-.8zM399.0 409.2h.8v.8h-.8zM395.8 410.0h.8v.8h-.8zM395.0 410.8h.8v.8h-.8zM399.8 410.8h.8v.8h-.8zM399.8 411.6h.8v.8h-.8zM394.2 412.4h.8v.8h-.8zM399.8 412.4h.8v.8h-.8zM393.4 413.2h.8v.8h-.8zM399.8 413.2h.8v.8h-.8zM393.4 414.0h.8v.8h-.8zM399.8 414.0h.8v.8h-.8zM392.6 415.6h.8v.8h-.8zM399.0 415.6h.8v.8h-.8zM392.6 416.4h.8v.8h-.8zM399.0 416.4h.8v.8h-.8zM391.8 418.0h.8v.8h-.8zM391.8 418.8h.8v.8h-.8zM396.6 418.8h.8v.8h-.8zM392.6 419.6h.8v.8h-.8zM395.8 419.6h.8v.8h-.8zM392.6 420.4h.8v.8h-.8zM393.4 420.4h.8v.8h-.8zM394.2 420.4h.8v.8h-.8zM395.0 420.4h.8v.8h-.8z" fill="#a5ff59"/>
<path d="M397.4 409.2h.8v.8h-.8zM398.2 409.2h.8v.8h-.8zM396.6 410.0h.8v.8h-.8zM398.2 410.0h.8v.8h-.8zM399.0 410.0h.8v.8h-.8zM395.8 410.8h.8v.8h-.8zM399.0 410.8h.8v.8h-.8zM395.0 411.6h.8v.8h-.8zM399.0 411.6h.8v.8h-.8zM399.0 412.4h.8v.8h-.8zM394.2 413.2h.8v.8h-.8zM399.0 414.0h.8v.8h-.8zM393.4 414.8h.8v.8h-.8zM399.0 414.8h.8v.8h-.8zM392.6 417.2h.8v.8h-.8zM398.2 417.2h.8v.8h-.8zM392.6 418.0h.8v.8h-.8zM396.6 418.0h.8v.8h-.8zM397.4 418.0h.8v.8h-.8zM392.6 418.8h.8v.8h-.8zM393.4 418.8h.8v.8h-.8zM395.0 418.8h.8v.8h-.8zM395.8 418.8h.8v.8h-.8zM393.4 419.6h.8v.8h-.8zM394.2 419.6h.8v.8h-.8zM395.0 419.6h.8v.8h-.8z" fill="#e1ff1d"/>
<path d="M397.4 410.0h.8v.8h-.8zM396.6 410.8h.8v.8h-.8zM397.4 410.8h.8v.8h-.8zM398.2 410.8h.8v.8h-.8zM395.8 411.6h.8v.8h-.8zM396.6 411.6h.8v.8h-.8zM397.4 411.6h.8v.8h-.8zM398.2 411.6h.8v.8h-.8zM395.0 412.4h.8v.8h-.8zM395.8 412.4h.8v.8h-.8zM398.2 412.4h.8v.8h-.8zM395.0 413.2h.8v.8h-.8zM399.0 413.2h.8v.8h-.8zM394.2 414.0h.8v.8h-.8zM394.2 414.8h.8v.8h-.8zM393.4 415.6h.8v.8h-.8zM398.2 415.6h.8v.8h-.8zM393.4 416.4h.8v.8h-.8zM398.2 416.4h.8v.8h-.8zM393.4 417.2h.8v.8h-.8zM397.4 417.2h.8v.8h-.8zM393.4 418.0h.8v.8h-.8zM394.2 418.0h.8v.8h-.8zM395.0 418.0h.8v.8h-.8zM395.8 418.0h.8v.8h-.8zM394.2 418.8h.8v.8h-.8z" fill="#ffe100"/>
<path d="M396.6 412.4h.8v.8h-.8zM397.4 412.4h.8v.8h-.8zM395.8 413.2h.8v.8h-.8zM397.4 413.2h.8v.8h-.8zM398.2 413.2h.8v.8h-.8zM395.0 414.0h.8v.8h-.8zM398.2 414.0h.8v.8h-.8zM398.2 414.8h.8v.8h-.8zM394.2 415.6h.8v.8h-.8zM394.2 416.4h.8v.8h-.8zM395.0 416.4h.8v.8h-.8zM397.4 416.4h.8v.8h-.8zM394.2 417.2h.8v.8h-.8zM395.0 417.2h.8v.8h-.8zM395.8 417.2h.8v.8h-.8zM396.6 417.2h.8v.8h-.8z" fill="#ffa500"/>
<path d="M396.6 413.2h.8v.8h-.8zM395.8 414.0h.8v.8h-.8zM396.6 414.0h.8v.8h-.8zM397.4 414.0h.8v.8h-.8zM395.0 414.8h.8v.8h-.8zM395.8 414.8h.8v.8h-.8zM396.6 414.8h.8v.8h-.8zM397.4 414.8h.8v.8h-.8zM395.0 415.6h.8v.8h-.8zM395.8 415.6h.8v.8h-.8zM396.6 415.6h.8v.8h-.8zM397.4 415.6h.8v.8h-.8zM395.8 416.4h.8v.8h-.8zM396.6 416.4h.8v.8h-.8z" fill="#ff6a00"/>
<path d="M370.2 429.8V366.8H419L400.3 429.8" fill="none" stroke="#a8a8a8" stroke-width="0.6"/>
<path d="M406 429.8L423.7 366.8H442.9V429.8" fill="none" stroke="#a8a8a8" stroke-width="0.6"/>
<line x1="368.4" y1="354.6" x2="368.4" y2="430.3" stroke="#555" stroke-width="0.8"/>
<line x1="368.4" y1="430.3" x2="444.5" y2="430.3" stroke="#555" stroke-width="0.8"/>
<line x1="366.2" y1="430.3" x2="368.4" y2="430.3" stroke="#555" stroke-width="0.7"/>
<line x1="367.2" y1="425.57" x2="368.4" y2="425.57" stroke="#777" stroke-width="0.5"/>
<line x1="367.2" y1="420.84" x2="368.4" y2="420.84" stroke="#777" stroke-width="0.5"/>
<line x1="367.2" y1="416.11" x2="368.4" y2="416.11" stroke="#777" stroke-width="0.5"/>
<text x="365.8" y="433.5" font-size="8.6" text-anchor="end" fill="#1a1a1a">0</text>
<line x1="366.2" y1="411.38" x2="368.4" y2="411.38" stroke="#555" stroke-width="0.7"/>
<line x1="367.2" y1="406.64" x2="368.4" y2="406.64" stroke="#777" stroke-width="0.5"/>
<line x1="367.2" y1="401.91" x2="368.4" y2="401.91" stroke="#777" stroke-width="0.5"/>
<line x1="367.2" y1="397.18" x2="368.4" y2="397.18" stroke="#777" stroke-width="0.5"/>
<text x="365.8" y="414.27" font-size="8" text-anchor="end" fill="#1a1a1a">30K</text>
<line x1="366.2" y1="392.45" x2="368.4" y2="392.45" stroke="#555" stroke-width="0.7"/>
<line x1="367.2" y1="387.72" x2="368.4" y2="387.72" stroke="#777" stroke-width="0.5"/>
<line x1="367.2" y1="382.99" x2="368.4" y2="382.99" stroke="#777" stroke-width="0.5"/>
<line x1="367.2" y1="378.26" x2="368.4" y2="378.26" stroke="#777" stroke-width="0.5"/>
<text x="365.8" y="395.35" font-size="8" text-anchor="end" fill="#1a1a1a">60K</text>
<line x1="366.2" y1="373.53" x2="368.4" y2="373.53" stroke="#555" stroke-width="0.7"/>
<line x1="367.2" y1="368.79" x2="368.4" y2="368.79" stroke="#777" stroke-width="0.5"/>
<line x1="367.2" y1="364.06" x2="368.4" y2="364.06" stroke="#777" stroke-width="0.5"/>
<line x1="367.2" y1="359.33" x2="368.4" y2="359.33" stroke="#777" stroke-width="0.5"/>
<text x="365.8" y="376.43" font-size="8" text-anchor="end" fill="#1a1a1a">90K</text>
<line x1="366.2" y1="354.6" x2="368.4" y2="354.6" stroke="#555" stroke-width="0.7"/>
<text x="365.8" y="357.5" font-size="8" text-anchor="end" fill="#1a1a1a">120K</text>
<line x1="369.09" y1="430.3" x2="369.09" y2="431.5" stroke="#666" stroke-width="0.5"/>
<line x1="371.31" y1="430.3" x2="371.31" y2="431.5" stroke="#666" stroke-width="0.5"/>
<line x1="373.12" y1="430.3" x2="373.12" y2="431.5" stroke="#666" stroke-width="0.5"/>
<line x1="374.65" y1="430.3" x2="374.65" y2="431.5" stroke="#666" stroke-width="0.5"/>
<line x1="375.98" y1="430.3" x2="375.98" y2="431.5" stroke="#666" stroke-width="0.5"/>
<line x1="377.15" y1="430.3" x2="377.15" y2="431.5" stroke="#666" stroke-width="0.5"/>
<line x1="378.2" y1="430.3" x2="378.2" y2="432.5" stroke="#666" stroke-width="0.7"/>
<line x1="385.09" y1="430.3" x2="385.09" y2="431.5" stroke="#666" stroke-width="0.5"/>
<line x1="389.13" y1="430.3" x2="389.13" y2="431.5" stroke="#666" stroke-width="0.5"/>
<line x1="391.99" y1="430.3" x2="391.99" y2="431.5" stroke="#666" stroke-width="0.5"/>
<line x1="394.21" y1="430.3" x2="394.21" y2="431.5" stroke="#666" stroke-width="0.5"/>
<line x1="396.02" y1="430.3" x2="396.02" y2="431.5" stroke="#666" stroke-width="0.5"/>
<line x1="397.55" y1="430.3" x2="397.55" y2="431.5" stroke="#666" stroke-width="0.5"/>
<line x1="398.88" y1="430.3" x2="398.88" y2="431.5" stroke="#666" stroke-width="0.5"/>
<line x1="400.05" y1="430.3" x2="400.05" y2="431.5" stroke="#666" stroke-width="0.5"/>
<line x1="401.1" y1="430.3" x2="401.1" y2="432.5" stroke="#666" stroke-width="0.7"/>
<line x1="407.99" y1="430.3" x2="407.99" y2="431.5" stroke="#666" stroke-width="0.5"/>
<line x1="412.03" y1="430.3" x2="412.03" y2="431.5" stroke="#666" stroke-width="0.5"/>
<line x1="414.89" y1="430.3" x2="414.89" y2="431.5" stroke="#666" stroke-width="0.5"/>
<line x1="417.11" y1="430.3" x2="417.11" y2="431.5" stroke="#666" stroke-width="0.5"/>
<line x1="418.92" y1="430.3" x2="418.92" y2="431.5" stroke="#666" stroke-width="0.5"/>
<line x1="420.45" y1="430.3" x2="420.45" y2="431.5" stroke="#666" stroke-width="0.5"/>
<line x1="421.78" y1="430.3" x2="421.78" y2="431.5" stroke="#666" stroke-width="0.5"/>
<line x1="422.95" y1="430.3" x2="422.95" y2="431.5" stroke="#666" stroke-width="0.5"/>
<line x1="424" y1="430.3" x2="424" y2="432.5" stroke="#666" stroke-width="0.7"/>
<line x1="430.89" y1="430.3" x2="430.89" y2="431.5" stroke="#666" stroke-width="0.5"/>
<line x1="434.93" y1="430.3" x2="434.93" y2="431.5" stroke="#666" stroke-width="0.5"/>
<line x1="437.79" y1="430.3" x2="437.79" y2="431.5" stroke="#666" stroke-width="0.5"/>
<line x1="440.01" y1="430.3" x2="440.01" y2="431.5" stroke="#666" stroke-width="0.5"/>
<line x1="441.82" y1="430.3" x2="441.82" y2="431.5" stroke="#666" stroke-width="0.5"/>
<line x1="443.35" y1="430.3" x2="443.35" y2="431.5" stroke="#666" stroke-width="0.5"/>
<text x="379.2" y="440.5" font-size="7.8" text-anchor="middle" fill="#222">10<tspan font-size="4.6" dy="-3">2</tspan></text>
<text x="402.1" y="440.5" font-size="7.8" text-anchor="middle" fill="#222">10<tspan font-size="4.6" dy="-3">3</tspan></text>
<text x="425" y="440.5" font-size="7.8" text-anchor="middle" fill="#222">10<tspan font-size="4.6" dy="-3">4</tspan></text>
<text x="373.4" y="376.4" font-size="8.2" fill="#222">ALDH<tspan font-size="4.8" dy="-3.1">lo</tspan></text>
<text x="415" y="423.2" font-size="8.2" fill="#222">ALDH<tspan font-size="4.8" dy="-3.1">hi</tspan></text>
<line x1="468.4" y1="355.5" x2="545" y2="355.5" stroke="#6a6a6a" stroke-width="0.8"/>
<line x1="545" y1="355.5" x2="545" y2="431" stroke="#6a6a6a" stroke-width="0.8"/>
<path d="M521.4 373.3h.8v.8h-.8zM523.0 373.3h.8v.8h-.8zM526.2 373.3h.8v.8h-.8zM519.0 374.1h.8v.8h-.8zM521.4 374.1h.8v.8h-.8zM519.0 374.9h.8v.8h-.8zM519.8 374.9h.8v.8h-.8zM522.2 374.9h.8v.8h-.8zM515.8 375.7h.8v.8h-.8zM519.0 375.7h.8v.8h-.8zM515.0 376.5h.8v.8h-.8zM517.4 376.5h.8v.8h-.8zM519.8 376.5h.8v.8h-.8zM521.4 376.5h.8v.8h-.8zM522.2 376.5h.8v.8h-.8zM514.2 377.3h.8v.8h-.8zM515.0 377.3h.8v.8h-.8zM515.8 377.3h.8v.8h-.8zM517.4 377.3h.8v.8h-.8zM519.0 377.3h.8v.8h-.8zM522.2 377.3h.8v.8h-.8zM517.4 378.1h.8v.8h-.8zM520.6 378.1h.8v.8h-.8zM521.4 378.1h.8v.8h-.8zM522.2 378.1h.8v.8h-.8zM523.0 378.1h.8v.8h-.8zM513.4 378.9h.8v.8h-.8zM514.2 378.9h.8v.8h-.8zM520.6 378.9h.8v.8h-.8zM523.8 378.9h.8v.8h-.8zM522.2 379.7h.8v.8h-.8zM523.8 379.7h.8v.8h-.8zM523.0 380.5h.8v.8h-.8zM511.0 381.3h.8v.8h-.8zM511.8 381.3h.8v.8h-.8zM522.2 381.3h.8v.8h-.8zM512.6 382.1h.8v.8h-.8zM522.2 382.1h.8v.8h-.8zM523.0 382.1h.8v.8h-.8zM525.4 382.1h.8v.8h-.8zM511.0 383.7h.8v.8h-.8zM511.8 383.7h.8v.8h-.8zM523.8 383.7h.8v.8h-.8zM511.8 384.5h.8v.8h-.8zM523.8 384.5h.8v.8h-.8zM520.6 385.3h.8v.8h-.8zM523.0 385.3h.8v.8h-.8zM508.6 386.1h.8v.8h-.8zM522.2 386.1h.8v.8h-.8zM523.0 386.1h.8v.8h-.8zM508.6 386.9h.8v.8h-.8zM509.4 386.9h.8v.8h-.8zM521.4 386.9h.8v.8h-.8zM522.2 386.9h.8v.8h-.8zM508.6 387.7h.8v.8h-.8zM523.0 388.5h.8v.8h-.8zM522.2 389.3h.8v.8h-.8zM524.6 389.3h.8v.8h-.8zM521.4 390.1h.8v.8h-.8zM522.2 390.1h.8v.8h-.8zM508.6 390.9h.8v.8h-.8zM522.2 390.9h.8v.8h-.8zM505.4 391.7h.8v.8h-.8zM507.8 391.7h.8v.8h-.8zM521.4 391.7h.8v.8h-.8zM507.0 393.3h.8v.8h-.8zM521.4 393.3h.8v.8h-.8zM522.2 393.3h.8v.8h-.8zM503.8 394.9h.8v.8h-.8zM519.0 394.9h.8v.8h-.8zM520.6 394.9h.8v.8h-.8zM504.6 395.7h.8v.8h-.8zM505.4 395.7h.8v.8h-.8zM520.6 395.7h.8v.8h-.8zM521.4 395.7h.8v.8h-.8zM503.0 396.5h.8v.8h-.8zM522.2 396.5h.8v.8h-.8zM505.4 397.3h.8v.8h-.8zM519.8 397.3h.8v.8h-.8zM520.6 397.3h.8v.8h-.8zM502.2 398.1h.8v.8h-.8zM520.6 398.1h.8v.8h-.8zM503.0 398.9h.8v.8h-.8zM519.8 398.9h.8v.8h-.8zM520.6 398.9h.8v.8h-.8zM521.4 398.9h.8v.8h-.8zM502.2 399.7h.8v.8h-.8zM504.6 399.7h.8v.8h-.8zM519.8 399.7h.8v.8h-.8zM520.6 399.7h.8v.8h-.8zM502.2 400.5h.8v.8h-.8zM503.0 400.5h.8v.8h-.8zM518.2 400.5h.8v.8h-.8zM500.6 401.3h.8v.8h-.8zM519.0 401.3h.8v.8h-.8zM520.6 401.3h.8v.8h-.8zM501.4 402.1h.8v.8h-.8zM503.8 402.1h.8v.8h-.8zM520.6 402.1h.8v.8h-.8zM503.8 402.9h.8v.8h-.8zM519.0 402.9h.8v.8h-.8zM517.4 403.7h.8v.8h-.8zM518.2 403.7h.8v.8h-.8zM521.4 403.7h.8v.8h-.8zM500.6 404.5h.8v.8h-.8zM519.0 404.5h.8v.8h-.8zM500.6 405.3h.8v.8h-.8zM518.2 405.3h.8v.8h-.8zM519.0 405.3h.8v.8h-.8zM519.8 405.3h.8v.8h-.8zM501.4 406.1h.8v.8h-.8zM518.2 406.9h.8v.8h-.8zM516.6 407.7h.8v.8h-.8zM499.0 408.5h.8v.8h-.8zM499.8 408.5h.8v.8h-.8zM500.6 408.5h.8v.8h-.8zM515.8 408.5h.8v.8h-.8zM499.0 409.3h.8v.8h-.8zM515.0 409.3h.8v.8h-.8zM516.6 409.3h.8v.8h-.8zM500.6 410.1h.8v.8h-.8zM515.8 410.1h.8v.8h-.8zM499.8 410.9h.8v.8h-.8zM515.0 411.7h.8v.8h-.8zM499.0 412.5h.8v.8h-.8zM499.0 413.3h.8v.8h-.8zM498.2 414.1h.8v.8h-.8zM514.2 414.1h.8v.8h-.8zM515.0 414.1h.8v.8h-.8zM499.0 414.9h.8v.8h-.8zM514.2 414.9h.8v.8h-.8zM514.2 415.7h.8v.8h-.8zM499.0 416.5h.8v.8h-.8zM499.0 417.3h.8v.8h-.8zM513.4 417.3h.8v.8h-.8zM497.4 418.1h.8v.8h-.8zM499.0 418.1h.8v.8h-.8zM511.8 418.9h.8v.8h-.8zM512.6 418.9h.8v.8h-.8zM511.0 421.3h.8v.8h-.8zM507.8 422.1h.8v.8h-.8zM509.4 422.1h.8v.8h-.8zM510.2 422.1h.8v.8h-.8zM499.8 422.9h.8v.8h-.8zM507.8 422.9h.8v.8h-.8zM510.2 422.9h.8v.8h-.8zM498.2 423.7h.8v.8h-.8zM500.6 423.7h.8v.8h-.8zM502.2 423.7h.8v.8h-.8zM504.6 423.7h.8v.8h-.8zM506.2 423.7h.8v.8h-.8zM507.8 423.7h.8v.8h-.8zM502.2 424.5h.8v.8h-.8zM508.6 424.5h.8v.8h-.8zM499.8 425.3h.8v.8h-.8zM500.6 425.3h.8v.8h-.8zM501.4 425.3h.8v.8h-.8zM504.6 426.1h.8v.8h-.8zM511.0 426.1h.8v.8h-.8zM502.2 427.7h.8v.8h-.8z" fill="#000cff" fill-opacity="0.6"/>
<path d="M518.2 374.1h.8v.8h-.8zM515.0 375.7h.8v.8h-.8zM517.4 375.7h.8v.8h-.8zM520.6 375.7h.8v.8h-.8zM523.0 375.7h.8v.8h-.8zM514.2 376.5h.8v.8h-.8zM518.2 376.5h.8v.8h-.8zM519.0 376.5h.8v.8h-.8zM520.6 376.5h.8v.8h-.8zM516.6 377.3h.8v.8h-.8zM518.2 377.3h.8v.8h-.8zM519.8 377.3h.8v.8h-.8zM523.0 377.3h.8v.8h-.8zM514.2 378.1h.8v.8h-.8zM515.0 378.1h.8v.8h-.8zM515.8 378.1h.8v.8h-.8zM516.6 378.1h.8v.8h-.8zM518.2 378.1h.8v.8h-.8zM519.0 378.1h.8v.8h-.8zM519.8 378.1h.8v.8h-.8zM515.0 378.9h.8v.8h-.8zM515.8 378.9h.8v.8h-.8zM518.2 378.9h.8v.8h-.8zM519.8 378.9h.8v.8h-.8zM523.0 378.9h.8v.8h-.8zM512.6 379.7h.8v.8h-.8zM514.2 379.7h.8v.8h-.8zM519.8 379.7h.8v.8h-.8zM520.6 379.7h.8v.8h-.8zM521.4 379.7h.8v.8h-.8zM512.6 380.5h.8v.8h-.8zM513.4 380.5h.8v.8h-.8zM520.6 380.5h.8v.8h-.8zM521.4 380.5h.8v.8h-.8zM513.4 381.3h.8v.8h-.8zM520.6 381.3h.8v.8h-.8zM511.0 382.1h.8v.8h-.8zM511.8 382.1h.8v.8h-.8zM521.4 382.1h.8v.8h-.8zM511.8 382.9h.8v.8h-.8zM512.6 382.9h.8v.8h-.8zM521.4 382.9h.8v.8h-.8zM520.6 383.7h.8v.8h-.8zM521.4 383.7h.8v.8h-.8zM522.2 383.7h.8v.8h-.8zM511.0 384.5h.8v.8h-.8zM520.6 384.5h.8v.8h-.8zM522.2 384.5h.8v.8h-.8zM509.4 385.3h.8v.8h-.8zM510.2 385.3h.8v.8h-.8zM511.0 385.3h.8v.8h-.8zM521.4 385.3h.8v.8h-.8zM521.4 386.1h.8v.8h-.8zM510.2 386.9h.8v.8h-.8zM520.6 386.9h.8v.8h-.8zM509.4 387.7h.8v.8h-.8zM510.2 387.7h.8v.8h-.8zM520.6 387.7h.8v.8h-.8zM521.4 387.7h.8v.8h-.8zM509.4 388.5h.8v.8h-.8zM520.6 388.5h.8v.8h-.8zM521.4 388.5h.8v.8h-.8zM507.8 389.3h.8v.8h-.8zM508.6 389.3h.8v.8h-.8zM509.4 389.3h.8v.8h-.8zM520.6 389.3h.8v.8h-.8zM507.8 390.1h.8v.8h-.8zM508.6 390.1h.8v.8h-.8zM520.6 390.1h.8v.8h-.8zM507.0 390.9h.8v.8h-.8zM520.6 390.9h.8v.8h-.8zM507.0 391.7h.8v.8h-.8zM508.6 391.7h.8v.8h-.8zM520.6 391.7h.8v.8h-.8zM507.0 392.5h.8v.8h-.8zM507.8 392.5h.8v.8h-.8zM519.8 392.5h.8v.8h-.8zM521.4 392.5h.8v.8h-.8zM522.2 392.5h.8v.8h-.8zM505.4 393.3h.8v.8h-.8zM507.8 393.3h.8v.8h-.8zM519.8 393.3h.8v.8h-.8zM520.6 393.3h.8v.8h-.8zM506.2 394.1h.8v.8h-.8zM507.0 394.1h.8v.8h-.8zM519.8 394.1h.8v.8h-.8zM520.6 394.1h.8v.8h-.8zM506.2 394.9h.8v.8h-.8zM507.0 394.9h.8v.8h-.8zM519.8 394.9h.8v.8h-.8zM506.2 395.7h.8v.8h-.8zM519.0 395.7h.8v.8h-.8zM519.8 395.7h.8v.8h-.8zM504.6 396.5h.8v.8h-.8zM519.0 396.5h.8v.8h-.8zM520.6 396.5h.8v.8h-.8zM503.0 397.3h.8v.8h-.8zM503.8 397.3h.8v.8h-.8zM504.6 397.3h.8v.8h-.8zM519.0 397.3h.8v.8h-.8zM521.4 397.3h.8v.8h-.8zM503.8 398.1h.8v.8h-.8zM504.6 398.1h.8v.8h-.8zM505.4 398.1h.8v.8h-.8zM519.8 398.1h.8v.8h-.8zM504.6 398.9h.8v.8h-.8zM505.4 398.9h.8v.8h-.8zM519.0 398.9h.8v.8h-.8zM522.2 398.9h.8v.8h-.8zM503.8 399.7h.8v.8h-.8zM518.2 399.7h.8v.8h-.8zM519.0 399.7h.8v.8h-.8zM503.8 400.5h.8v.8h-.8zM504.6 400.5h.8v.8h-.8zM519.8 400.5h.8v.8h-.8zM504.6 401.3h.8v.8h-.8zM518.2 401.3h.8v.8h-.8zM519.8 401.3h.8v.8h-.8zM518.2 402.1h.8v.8h-.8zM519.0 402.1h.8v.8h-.8zM499.0 402.9h.8v.8h-.8zM501.4 402.9h.8v.8h-.8zM503.0 402.9h.8v.8h-.8zM517.4 402.9h.8v.8h-.8zM518.2 402.9h.8v.8h-.8zM503.0 403.7h.8v.8h-.8zM519.8 403.7h.8v.8h-.8zM501.4 404.5h.8v.8h-.8zM502.2 404.5h.8v.8h-.8zM503.0 404.5h.8v.8h-.8zM517.4 404.5h.8v.8h-.8zM518.2 404.5h.8v.8h-.8zM501.4 405.3h.8v.8h-.8zM502.2 405.3h.8v.8h-.8zM516.6 405.3h.8v.8h-.8zM517.4 405.3h.8v.8h-.8zM500.6 406.1h.8v.8h-.8zM502.2 406.1h.8v.8h-.8zM516.6 406.1h.8v.8h-.8zM517.4 406.1h.8v.8h-.8zM501.4 406.9h.8v.8h-.8zM515.8 406.9h.8v.8h-.8zM516.6 406.9h.8v.8h-.8zM517.4 406.9h.8v.8h-.8zM501.4 407.7h.8v.8h-.8zM515.8 407.7h.8v.8h-.8zM501.4 408.5h.8v.8h-.8zM516.6 408.5h.8v.8h-.8zM499.8 409.3h.8v.8h-.8zM500.6 409.3h.8v.8h-.8zM499.8 410.1h.8v.8h-.8zM515.0 410.1h.8v.8h-.8zM515.0 410.9h.8v.8h-.8zM515.8 410.9h.8v.8h-.8zM499.8 411.7h.8v.8h-.8zM499.8 412.5h.8v.8h-.8zM514.2 412.5h.8v.8h-.8zM499.0 414.1h.8v.8h-.8zM516.6 414.1h.8v.8h-.8zM499.0 415.7h.8v.8h-.8zM513.4 415.7h.8v.8h-.8zM513.4 416.5h.8v.8h-.8zM497.4 418.9h.8v.8h-.8zM499.0 418.9h.8v.8h-.8zM499.0 419.7h.8v.8h-.8zM499.8 419.7h.8v.8h-.8zM511.0 419.7h.8v.8h-.8zM499.8 420.5h.8v.8h-.8zM510.2 420.5h.8v.8h-.8zM499.8 421.3h.8v.8h-.8zM509.4 421.3h.8v.8h-.8zM510.2 421.3h.8v.8h-.8zM499.8 422.1h.8v.8h-.8zM500.6 422.1h.8v.8h-.8zM508.6 422.1h.8v.8h-.8zM501.4 422.9h.8v.8h-.8zM502.2 422.9h.8v.8h-.8zM503.0 422.9h.8v.8h-.8zM506.2 422.9h.8v.8h-.8zM507.0 422.9h.8v.8h-.8zM503.0 423.7h.8v.8h-.8zM503.8 423.7h.8v.8h-.8zM507.0 423.7h.8v.8h-.8zM503.8 424.5h.8v.8h-.8zM504.6 424.5h.8v.8h-.8zM505.4 424.5h.8v.8h-.8zM503.8 425.3h.8v.8h-.8z" fill="#000cff"/>
<path d="M518.2 379.7h.8v.8h-.8zM519.8 384.5h.8v.8h-.8zM512.6 385.3h.8v.8h-.8zM509.4 390.9h.8v.8h-.8zM519.0 390.9h.8v.8h-.8zM519.0 393.3h.8v.8h-.8zM507.8 394.1h.8v.8h-.8zM518.2 395.7h.8v.8h-.8zM515.8 402.1h.8v.8h-.8zM516.6 404.5h.8v.8h-.8zM515.0 405.3h.8v.8h-.8zM502.2 408.5h.8v.8h-.8zM514.2 410.1h.8v.8h-.8zM512.6 416.5h.8v.8h-.8zM508.6 421.3h.8v.8h-.8zM503.8 422.9h.8v.8h-.8z" fill="#0059ff" fill-opacity="0.6"/>
<path d="M516.6 378.9h.8v.8h-.8zM517.4 378.9h.8v.8h-.8zM515.0 379.7h.8v.8h-.8zM515.8 379.7h.8v.8h-.8zM516.6 379.7h.8v.8h-.8zM517.4 379.7h.8v.8h-.8zM519.0 379.7h.8v.8h-.8zM514.2 380.5h.8v.8h-.8zM515.0 380.5h.8v.8h-.8zM515.8 380.5h.8v.8h-.8zM516.6 380.5h.8v.8h-.8zM517.4 380.5h.8v.8h-.8zM518.2 380.5h.8v.8h-.8zM519.0 380.5h.8v.8h-.8zM519.8 380.5h.8v.8h-.8zM514.2 381.3h.8v.8h-.8zM515.0 381.3h.8v.8h-.8zM515.8 381.3h.8v.8h-.8zM516.6 381.3h.8v.8h-.8zM517.4 381.3h.8v.8h-.8zM518.2 381.3h.8v.8h-.8zM519.0 381.3h.8v.8h-.8zM519.8 381.3h.8v.8h-.8zM513.4 382.1h.8v.8h-.8zM514.2 382.1h.8v.8h-.8zM515.0 382.1h.8v.8h-.8zM515.8 382.1h.8v.8h-.8zM517.4 382.1h.8v.8h-.8zM518.2 382.1h.8v.8h-.8zM519.0 382.1h.8v.8h-.8zM519.8 382.1h.8v.8h-.8zM520.6 382.1h.8v.8h-.8zM513.4 382.9h.8v.8h-.8zM514.2 382.9h.8v.8h-.8zM515.0 382.9h.8v.8h-.8zM519.0 382.9h.8v.8h-.8zM519.8 382.9h.8v.8h-.8zM520.6 382.9h.8v.8h-.8zM512.6 383.7h.8v.8h-.8zM513.4 383.7h.8v.8h-.8zM514.2 383.7h.8v.8h-.8zM519.0 383.7h.8v.8h-.8zM519.8 383.7h.8v.8h-.8zM512.6 384.5h.8v.8h-.8zM513.4 384.5h.8v.8h-.8zM519.0 384.5h.8v.8h-.8zM511.8 385.3h.8v.8h-.8zM519.0 385.3h.8v.8h-.8zM519.8 385.3h.8v.8h-.8zM511.0 386.1h.8v.8h-.8zM511.8 386.1h.8v.8h-.8zM512.6 386.1h.8v.8h-.8zM519.0 386.1h.8v.8h-.8zM519.8 386.1h.8v.8h-.8zM511.0 386.9h.8v.8h-.8zM511.8 386.9h.8v.8h-.8zM519.0 386.9h.8v.8h-.8zM519.8 386.9h.8v.8h-.8zM511.0 387.7h.8v.8h-.8zM519.0 387.7h.8v.8h-.8zM519.8 387.7h.8v.8h-.8zM510.2 388.5h.8v.8h-.8zM511.0 388.5h.8v.8h-.8zM519.0 388.5h.8v.8h-.8zM519.8 388.5h.8v.8h-.8zM510.2 389.3h.8v.8h-.8zM511.0 389.3h.8v.8h-.8zM519.0 389.3h.8v.8h-.8zM519.8 389.3h.8v.8h-.8zM511.0 390.1h.8v.8h-.8zM519.0 390.1h.8v.8h-.8zM519.8 390.1h.8v.8h-.8zM510.2 390.9h.8v.8h-.8zM519.8 390.9h.8v.8h-.8zM509.4 391.7h.8v.8h-.8zM510.2 391.7h.8v.8h-.8zM518.2 391.7h.8v.8h-.8zM519.0 391.7h.8v.8h-.8zM519.8 391.7h.8v.8h-.8zM508.6 392.5h.8v.8h-.8zM509.4 392.5h.8v.8h-.8zM510.2 392.5h.8v.8h-.8zM518.2 392.5h.8v.8h-.8zM519.0 392.5h.8v.8h-.8zM508.6 393.3h.8v.8h-.8zM509.4 393.3h.8v.8h-.8zM518.2 393.3h.8v.8h-.8zM508.6 394.1h.8v.8h-.8zM517.4 394.1h.8v.8h-.8zM518.2 394.1h.8v.8h-.8zM519.0 394.1h.8v.8h-.8zM507.8 394.9h.8v.8h-.8zM508.6 394.9h.8v.8h-.8zM517.4 394.9h.8v.8h-.8zM518.2 394.9h.8v.8h-.8zM507.0 395.7h.8v.8h-.8zM507.8 395.7h.8v.8h-.8zM517.4 395.7h.8v.8h-.8zM507.0 396.5h.8v.8h-.8zM507.8 396.5h.8v.8h-.8zM517.4 396.5h.8v.8h-.8zM518.2 396.5h.8v.8h-.8zM506.2 397.3h.8v.8h-.8zM507.0 397.3h.8v.8h-.8zM517.4 397.3h.8v.8h-.8zM518.2 397.3h.8v.8h-.8zM506.2 398.1h.8v.8h-.8zM507.0 398.1h.8v.8h-.8zM517.4 398.1h.8v.8h-.8zM518.2 398.1h.8v.8h-.8zM506.2 398.9h.8v.8h-.8zM507.0 398.9h.8v.8h-.8zM516.6 398.9h.8v.8h-.8zM517.4 398.9h.8v.8h-.8zM505.4 399.7h.8v.8h-.8zM506.2 399.7h.8v.8h-.8zM507.0 399.7h.8v.8h-.8zM516.6 399.7h.8v.8h-.8zM517.4 399.7h.8v.8h-.8zM505.4 400.5h.8v.8h-.8zM506.2 400.5h.8v.8h-.8zM516.6 400.5h.8v.8h-.8zM517.4 400.5h.8v.8h-.8zM505.4 401.3h.8v.8h-.8zM506.2 401.3h.8v.8h-.8zM516.6 401.3h.8v.8h-.8zM517.4 401.3h.8v.8h-.8zM504.6 402.1h.8v.8h-.8zM505.4 402.1h.8v.8h-.8zM517.4 402.1h.8v.8h-.8zM504.6 402.9h.8v.8h-.8zM505.4 402.9h.8v.8h-.8zM515.8 402.9h.8v.8h-.8zM516.6 402.9h.8v.8h-.8zM503.8 403.7h.8v.8h-.8zM504.6 403.7h.8v.8h-.8zM515.8 403.7h.8v.8h-.8zM516.6 403.7h.8v.8h-.8zM503.8 404.5h.8v.8h-.8zM504.6 404.5h.8v.8h-.8zM515.0 404.5h.8v.8h-.8zM515.8 404.5h.8v.8h-.8zM503.0 405.3h.8v.8h-.8zM503.8 405.3h.8v.8h-.8zM515.8 405.3h.8v.8h-.8zM503.0 406.1h.8v.8h-.8zM503.8 406.1h.8v.8h-.8zM514.2 406.1h.8v.8h-.8zM515.0 406.1h.8v.8h-.8zM515.8 406.1h.8v.8h-.8zM502.2 406.9h.8v.8h-.8zM503.0 406.9h.8v.8h-.8zM514.2 406.9h.8v.8h-.8zM515.0 406.9h.8v.8h-.8zM502.2 407.7h.8v.8h-.8zM503.0 407.7h.8v.8h-.8zM514.2 407.7h.8v.8h-.8zM515.0 407.7h.8v.8h-.8zM514.2 408.5h.8v.8h-.8zM515.0 408.5h.8v.8h-.8zM501.4 409.3h.8v.8h-.8zM502.2 409.3h.8v.8h-.8zM514.2 409.3h.8v.8h-.8zM501.4 410.1h.8v.8h-.8zM513.4 410.1h.8v.8h-.8zM500.6 410.9h.8v.8h-.8zM501.4 410.9h.8v.8h-.8zM513.4 410.9h.8v.8h-.8zM514.2 410.9h.8v.8h-.8zM500.6 411.7h.8v.8h-.8zM513.4 411.7h.8v.8h-.8zM514.2 411.7h.8v.8h-.8zM500.6 412.5h.8v.8h-.8zM513.4 412.5h.8v.8h-.8zM499.8 413.3h.8v.8h-.8zM500.6 413.3h.8v.8h-.8zM513.4 413.3h.8v.8h-.8zM499.8 414.1h.8v.8h-.8zM513.4 414.1h.8v.8h-.8zM499.8 414.9h.8v.8h-.8zM512.6 414.9h.8v.8h-.8zM513.4 414.9h.8v.8h-.8zM499.8 415.7h.8v.8h-.8zM512.6 415.7h.8v.8h-.8zM499.8 416.5h.8v.8h-.8zM499.8 417.3h.8v.8h-.8zM500.6 417.3h.8v.8h-.8zM511.8 417.3h.8v.8h-.8zM512.6 417.3h.8v.8h-.8zM499.8 418.1h.8v.8h-.8zM500.6 418.1h.8v.8h-.8zM511.8 418.1h.8v.8h-.8zM499.8 418.9h.8v.8h-.8zM500.6 418.9h.8v.8h-.8zM511.0 418.9h.8v.8h-.8zM500.6 419.7h.8v.8h-.8zM510.2 419.7h.8v.8h-.8zM500.6 420.5h.8v.8h-.8zM501.4 420.5h.8v.8h-.8zM508.6 420.5h.8v.8h-.8zM509.4 420.5h.8v.8h-.8zM500.6 421.3h.8v.8h-.8zM501.4 421.3h.8v.8h-.8zM502.2 421.3h.8v.8h-.8zM507.0 421.3h.8v.8h-.8zM507.8 421.3h.8v.8h-.8zM501.4 422.1h.8v.8h-.8zM502.2 422.1h.8v.8h-.8zM503.0 422.1h.8v.8h-.8zM503.8 422.1h.8v.8h-.8zM504.6 422.1h.8v.8h-.8zM505.4 422.1h.8v.8h-.8zM506.2 422.1h.8v.8h-.8zM507.0 422.1h.8v.8h-.8zM504.6 422.9h.8v.8h-.8zM505.4 422.9h.8v.8h-.8z" fill="#0059ff"/>
<path d="M517.4 382.9h.8v.8h-.8zM518.2 390.1h.8v.8h-.8z" fill="#00a5ff" fill-opacity="0.6"/>
<path d="M516.6 382.1h.8v.8h-.8zM515.8 382.9h.8v.8h-.8zM516.6 382.9h.8v.8h-.8zM518.2 382.9h.8v.8h-.8zM515.0 383.7h.8v.8h-.8zM515.8 383.7h.8v.8h-.8zM516.6 383.7h.8v.8h-.8zM517.4 383.7h.8v.8h-.8zM518.2 383.7h.8v.8h-.8zM514.2 384.5h.8v.8h-.8zM515.0 384.5h.8v.8h-.8zM515.8 384.5h.8v.8h-.8zM516.6 384.5h.8v.8h-.8zM517.4 384.5h.8v.8h-.8zM518.2 384.5h.8v.8h-.8zM513.4 385.3h.8v.8h-.8zM514.2 385.3h.8v.8h-.8zM515.0 385.3h.8v.8h-.8zM516.6 385.3h.8v.8h-.8zM517.4 385.3h.8v.8h-.8zM518.2 385.3h.8v.8h-.8zM513.4 386.1h.8v.8h-.8zM514.2 386.1h.8v.8h-.8zM517.4 386.1h.8v.8h-.8zM518.2 386.1h.8v.8h-.8zM512.6 386.9h.8v.8h-.8zM513.4 386.9h.8v.8h-.8zM517.4 386.9h.8v.8h-.8zM518.2 386.9h.8v.8h-.8zM511.8 387.7h.8v.8h-.8zM512.6 387.7h.8v.8h-.8zM517.4 387.7h.8v.8h-.8zM518.2 387.7h.8v.8h-.8zM511.8 388.5h.8v.8h-.8zM512.6 388.5h.8v.8h-.8zM517.4 388.5h.8v.8h-.8zM518.2 388.5h.8v.8h-.8zM511.8 389.3h.8v.8h-.8zM512.6 389.3h.8v.8h-.8zM517.4 389.3h.8v.8h-.8zM518.2 389.3h.8v.8h-.8zM511.8 390.1h.8v.8h-.8zM517.4 390.1h.8v.8h-.8zM511.0 390.9h.8v.8h-.8zM511.8 390.9h.8v.8h-.8zM517.4 390.9h.8v.8h-.8zM518.2 390.9h.8v.8h-.8zM511.0 391.7h.8v.8h-.8zM511.8 391.7h.8v.8h-.8zM517.4 391.7h.8v.8h-.8zM511.0 392.5h.8v.8h-.8zM511.8 392.5h.8v.8h-.8zM516.6 392.5h.8v.8h-.8zM517.4 392.5h.8v.8h-.8zM510.2 393.3h.8v.8h-.8zM511.0 393.3h.8v.8h-.8zM516.6 393.3h.8v.8h-.8zM517.4 393.3h.8v.8h-.8zM509.4 394.1h.8v.8h-.8zM510.2 394.1h.8v.8h-.8zM511.0 394.1h.8v.8h-.8zM516.6 394.1h.8v.8h-.8zM509.4 394.9h.8v.8h-.8zM510.2 394.9h.8v.8h-.8zM515.8 394.9h.8v.8h-.8zM516.6 394.9h.8v.8h-.8zM508.6 395.7h.8v.8h-.8zM509.4 395.7h.8v.8h-.8zM510.2 395.7h.8v.8h-.8zM515.8 395.7h.8v.8h-.8zM516.6 395.7h.8v.8h-.8zM508.6 396.5h.8v.8h-.8zM509.4 396.5h.8v.8h-.8zM515.8 396.5h.8v.8h-.8zM516.6 396.5h.8v.8h-.8zM507.8 397.3h.8v.8h-.8zM508.6 397.3h.8v.8h-.8zM515.8 397.3h.8v.8h-.8zM516.6 397.3h.8v.8h-.8zM507.8 398.1h.8v.8h-.8zM508.6 398.1h.8v.8h-.8zM515.8 398.1h.8v.8h-.8zM516.6 398.1h.8v.8h-.8zM507.8 398.9h.8v.8h-.8zM508.6 398.9h.8v.8h-.8zM515.8 398.9h.8v.8h-.8zM507.8 399.7h.8v.8h-.8zM508.6 399.7h.8v.8h-.8zM515.0 399.7h.8v.8h-.8zM515.8 399.7h.8v.8h-.8zM507.0 400.5h.8v.8h-.8zM507.8 400.5h.8v.8h-.8zM515.0 400.5h.8v.8h-.8zM515.8 400.5h.8v.8h-.8zM507.0 401.3h.8v.8h-.8zM507.8 401.3h.8v.8h-.8zM515.0 401.3h.8v.8h-.8zM515.8 401.3h.8v.8h-.8zM506.2 402.1h.8v.8h-.8zM507.0 402.1h.8v.8h-.8zM514.2 402.1h.8v.8h-.8zM515.0 402.1h.8v.8h-.8zM506.2 402.9h.8v.8h-.8zM507.0 402.9h.8v.8h-.8zM514.2 402.9h.8v.8h-.8zM515.0 402.9h.8v.8h-.8zM505.4 403.7h.8v.8h-.8zM506.2 403.7h.8v.8h-.8zM513.4 403.7h.8v.8h-.8zM514.2 403.7h.8v.8h-.8zM515.0 403.7h.8v.8h-.8zM505.4 404.5h.8v.8h-.8zM513.4 404.5h.8v.8h-.8zM514.2 404.5h.8v.8h-.8zM504.6 405.3h.8v.8h-.8zM505.4 405.3h.8v.8h-.8zM513.4 405.3h.8v.8h-.8zM514.2 405.3h.8v.8h-.8zM504.6 406.1h.8v.8h-.8zM513.4 406.1h.8v.8h-.8zM503.8 406.9h.8v.8h-.8zM504.6 406.9h.8v.8h-.8zM512.6 406.9h.8v.8h-.8zM513.4 406.9h.8v.8h-.8zM503.8 407.7h.8v.8h-.8zM512.6 407.7h.8v.8h-.8zM513.4 407.7h.8v.8h-.8zM503.0 408.5h.8v.8h-.8zM512.6 408.5h.8v.8h-.8zM513.4 408.5h.8v.8h-.8zM503.0 409.3h.8v.8h-.8zM512.6 409.3h.8v.8h-.8zM513.4 409.3h.8v.8h-.8zM502.2 410.1h.8v.8h-.8zM512.6 410.1h.8v.8h-.8zM502.2 410.9h.8v.8h-.8zM512.6 410.9h.8v.8h-.8zM501.4 411.7h.8v.8h-.8zM512.6 411.7h.8v.8h-.8zM501.4 412.5h.8v.8h-.8zM512.6 412.5h.8v.8h-.8zM501.4 413.3h.8v.8h-.8zM512.6 413.3h.8v.8h-.8zM500.6 414.1h.8v.8h-.8zM512.6 414.1h.8v.8h-.8zM500.6 414.9h.8v.8h-.8zM500.6 415.7h.8v.8h-.8zM511.8 415.7h.8v.8h-.8zM500.6 416.5h.8v.8h-.8zM511.8 416.5h.8v.8h-.8zM511.0 417.3h.8v.8h-.8zM501.4 418.1h.8v.8h-.8zM510.2 418.1h.8v.8h-.8zM511.0 418.1h.8v.8h-.8zM501.4 418.9h.8v.8h-.8zM510.2 418.9h.8v.8h-.8zM501.4 419.7h.8v.8h-.8zM502.2 419.7h.8v.8h-.8zM508.6 419.7h.8v.8h-.8zM509.4 419.7h.8v.8h-.8zM502.2 420.5h.8v.8h-.8zM503.0 420.5h.8v.8h-.8zM507.0 420.5h.8v.8h-.8zM507.8 420.5h.8v.8h-.8zM503.0 421.3h.8v.8h-.8zM503.8 421.3h.8v.8h-.8zM504.6 421.3h.8v.8h-.8zM505.4 421.3h.8v.8h-.8zM506.2 421.3h.8v.8h-.8z" fill="#00a5ff"/>
<path d="M515.8 385.3h.8v.8h-.8zM515.0 386.1h.8v.8h-.8zM515.8 386.1h.8v.8h-.8zM516.6 386.1h.8v.8h-.8zM514.2 386.9h.8v.8h-.8zM515.0 386.9h.8v.8h-.8zM515.8 386.9h.8v.8h-.8zM516.6 386.9h.8v.8h-.8zM513.4 387.7h.8v.8h-.8zM514.2 387.7h.8v.8h-.8zM515.0 387.7h.8v.8h-.8zM515.8 387.7h.8v.8h-.8zM516.6 387.7h.8v.8h-.8zM513.4 388.5h.8v.8h-.8zM514.2 388.5h.8v.8h-.8zM515.0 388.5h.8v.8h-.8zM515.8 388.5h.8v.8h-.8zM516.6 388.5h.8v.8h-.8zM513.4 389.3h.8v.8h-.8zM514.2 389.3h.8v.8h-.8zM515.0 389.3h.8v.8h-.8zM515.8 389.3h.8v.8h-.8zM516.6 389.3h.8v.8h-.8zM512.6 390.1h.8v.8h-.8zM513.4 390.1h.8v.8h-.8zM514.2 390.1h.8v.8h-.8zM515.0 390.1h.8v.8h-.8zM515.8 390.1h.8v.8h-.8zM516.6 390.1h.8v.8h-.8zM512.6 390.9h.8v.8h-.8zM513.4 390.9h.8v.8h-.8zM514.2 390.9h.8v.8h-.8zM515.0 390.9h.8v.8h-.8zM515.8 390.9h.8v.8h-.8zM516.6 390.9h.8v.8h-.8zM512.6 391.7h.8v.8h-.8zM513.4 391.7h.8v.8h-.8zM514.2 391.7h.8v.8h-.8zM515.0 391.7h.8v.8h-.8zM515.8 391.7h.8v.8h-.8zM516.6 391.7h.8v.8h-.8zM512.6 392.5h.8v.8h-.8zM513.4 392.5h.8v.8h-.8zM514.2 392.5h.8v.8h-.8zM515.0 392.5h.8v.8h-.8zM515.8 392.5h.8v.8h-.8zM511.8 393.3h.8v.8h-.8zM512.6 393.3h.8v.8h-.8zM513.4 393.3h.8v.8h-.8zM514.2 393.3h.8v.8h-.8zM515.0 393.3h.8v.8h-.8zM515.8 393.3h.8v.8h-.8zM511.8 394.1h.8v.8h-.8zM512.6 394.1h.8v.8h-.8zM513.4 394.1h.8v.8h-.8zM514.2 394.1h.8v.8h-.8zM515.0 394.1h.8v.8h-.8zM515.8 394.1h.8v.8h-.8zM511.0 394.9h.8v.8h-.8zM512.6 394.9h.8v.8h-.8zM513.4 394.9h.8v.8h-.8zM514.2 394.9h.8v.8h-.8zM515.0 394.9h.8v.8h-.8zM511.0 395.7h.8v.8h-.8zM511.8 395.7h.8v.8h-.8zM512.6 395.7h.8v.8h-.8zM513.4 395.7h.8v.8h-.8zM514.2 395.7h.8v.8h-.8zM515.0 395.7h.8v.8h-.8zM510.2 396.5h.8v.8h-.8zM511.0 396.5h.8v.8h-.8zM511.8 396.5h.8v.8h-.8zM512.6 396.5h.8v.8h-.8zM513.4 396.5h.8v.8h-.8zM514.2 396.5h.8v.8h-.8zM515.0 396.5h.8v.8h-.8zM509.4 397.3h.8v.8h-.8zM510.2 397.3h.8v.8h-.8zM514.2 397.3h.8v.8h-.8zM515.0 397.3h.8v.8h-.8zM509.4 398.1h.8v.8h-.8zM510.2 398.1h.8v.8h-.8zM514.2 398.1h.8v.8h-.8zM515.0 398.1h.8v.8h-.8zM509.4 398.9h.8v.8h-.8zM514.2 398.9h.8v.8h-.8zM515.0 398.9h.8v.8h-.8zM509.4 399.7h.8v.8h-.8zM514.2 399.7h.8v.8h-.8zM508.6 400.5h.8v.8h-.8zM509.4 400.5h.8v.8h-.8zM510.2 400.5h.8v.8h-.8zM513.4 400.5h.8v.8h-.8zM514.2 400.5h.8v.8h-.8zM508.6 401.3h.8v.8h-.8zM509.4 401.3h.8v.8h-.8zM510.2 401.3h.8v.8h-.8zM513.4 401.3h.8v.8h-.8zM514.2 401.3h.8v.8h-.8zM507.8 402.1h.8v.8h-.8zM508.6 402.1h.8v.8h-.8zM509.4 402.1h.8v.8h-.8zM510.2 402.1h.8v.8h-.8zM512.6 402.1h.8v.8h-.8zM513.4 402.1h.8v.8h-.8zM507.8 402.9h.8v.8h-.8zM508.6 402.9h.8v.8h-.8zM511.8 402.9h.8v.8h-.8zM512.6 402.9h.8v.8h-.8zM513.4 402.9h.8v.8h-.8zM507.0 403.7h.8v.8h-.8zM507.8 403.7h.8v.8h-.8zM511.8 403.7h.8v.8h-.8zM512.6 403.7h.8v.8h-.8zM506.2 404.5h.8v.8h-.8zM507.0 404.5h.8v.8h-.8zM511.8 404.5h.8v.8h-.8zM512.6 404.5h.8v.8h-.8zM506.2 405.3h.8v.8h-.8zM511.8 405.3h.8v.8h-.8zM512.6 405.3h.8v.8h-.8zM505.4 406.1h.8v.8h-.8zM506.2 406.1h.8v.8h-.8zM511.8 406.1h.8v.8h-.8zM512.6 406.1h.8v.8h-.8zM505.4 406.9h.8v.8h-.8zM511.8 406.9h.8v.8h-.8zM504.6 407.7h.8v.8h-.8zM511.8 407.7h.8v.8h-.8zM503.8 408.5h.8v.8h-.8zM511.8 408.5h.8v.8h-.8zM503.8 409.3h.8v.8h-.8zM511.8 409.3h.8v.8h-.8zM503.0 410.1h.8v.8h-.8zM511.8 410.1h.8v.8h-.8zM503.0 410.9h.8v.8h-.8zM511.8 410.9h.8v.8h-.8zM502.2 411.7h.8v.8h-.8zM511.8 411.7h.8v.8h-.8zM502.2 412.5h.8v.8h-.8zM511.8 412.5h.8v.8h-.8zM511.8 413.3h.8v.8h-.8zM501.4 414.1h.8v.8h-.8zM511.8 414.1h.8v.8h-.8zM501.4 414.9h.8v.8h-.8zM511.8 414.9h.8v.8h-.8zM501.4 415.7h.8v.8h-.8zM511.0 415.7h.8v.8h-.8zM501.4 416.5h.8v.8h-.8zM511.0 416.5h.8v.8h-.8zM501.4 417.3h.8v.8h-.8zM510.2 417.3h.8v.8h-.8zM502.2 418.1h.8v.8h-.8zM502.2 418.9h.8v.8h-.8zM508.6 418.9h.8v.8h-.8zM509.4 418.9h.8v.8h-.8zM503.0 419.7h.8v.8h-.8zM507.0 419.7h.8v.8h-.8zM507.8 419.7h.8v.8h-.8zM503.8 420.5h.8v.8h-.8zM504.6 420.5h.8v.8h-.8zM505.4 420.5h.8v.8h-.8zM506.2 420.5h.8v.8h-.8z" fill="#00f2ff"/>
<path d="M511.0 397.3h.8v.8h-.8zM511.8 397.3h.8v.8h-.8zM512.6 397.3h.8v.8h-.8zM513.4 397.3h.8v.8h-.8zM511.0 398.1h.8v.8h-.8zM511.8 398.1h.8v.8h-.8zM512.6 398.1h.8v.8h-.8zM513.4 398.1h.8v.8h-.8zM510.2 398.9h.8v.8h-.8zM511.0 398.9h.8v.8h-.8zM511.8 398.9h.8v.8h-.8zM512.6 398.9h.8v.8h-.8zM513.4 398.9h.8v.8h-.8zM510.2 399.7h.8v.8h-.8zM511.0 399.7h.8v.8h-.8zM511.8 399.7h.8v.8h-.8zM512.6 399.7h.8v.8h-.8zM513.4 399.7h.8v.8h-.8zM511.0 400.5h.8v.8h-.8zM511.8 400.5h.8v.8h-.8zM512.6 400.5h.8v.8h-.8zM511.0 401.3h.8v.8h-.8zM511.8 401.3h.8v.8h-.8zM512.6 401.3h.8v.8h-.8zM511.0 402.1h.8v.8h-.8zM511.8 402.1h.8v.8h-.8zM509.4 402.9h.8v.8h-.8zM510.2 402.9h.8v.8h-.8zM511.0 402.9h.8v.8h-.8zM508.6 403.7h.8v.8h-.8zM509.4 403.7h.8v.8h-.8zM510.2 403.7h.8v.8h-.8zM511.0 403.7h.8v.8h-.8zM507.8 404.5h.8v.8h-.8zM508.6 404.5h.8v.8h-.8zM509.4 404.5h.8v.8h-.8zM510.2 404.5h.8v.8h-.8zM511.0 404.5h.8v.8h-.8zM507.0 405.3h.8v.8h-.8zM507.8 405.3h.8v.8h-.8zM510.2 405.3h.8v.8h-.8zM511.0 405.3h.8v.8h-.8zM507.0 406.1h.8v.8h-.8zM511.0 406.1h.8v.8h-.8zM506.2 406.9h.8v.8h-.8zM511.0 406.9h.8v.8h-.8zM505.4 407.7h.8v.8h-.8zM511.0 407.7h.8v.8h-.8zM504.6 408.5h.8v.8h-.8zM511.0 408.5h.8v.8h-.8zM504.6 409.3h.8v.8h-.8zM511.0 409.3h.8v.8h-.8zM503.8 410.1h.8v.8h-.8zM511.0 410.1h.8v.8h-.8zM503.0 411.7h.8v.8h-.8zM502.2 413.3h.8v.8h-.8zM502.2 414.1h.8v.8h-.8zM511.0 414.1h.8v.8h-.8zM502.2 414.9h.8v.8h-.8zM511.0 414.9h.8v.8h-.8zM502.2 415.7h.8v.8h-.8zM502.2 416.5h.8v.8h-.8zM510.2 416.5h.8v.8h-.8zM502.2 417.3h.8v.8h-.8zM509.4 418.1h.8v.8h-.8zM503.0 418.9h.8v.8h-.8zM503.8 418.9h.8v.8h-.8zM507.8 418.9h.8v.8h-.8zM503.8 419.7h.8v.8h-.8zM504.6 419.7h.8v.8h-.8zM505.4 419.7h.8v.8h-.8zM506.2 419.7h.8v.8h-.8z" fill="#3fffbf"/>
<path d="M508.6 405.3h.8v.8h-.8zM509.4 405.3h.8v.8h-.8zM507.8 406.1h.8v.8h-.8zM508.6 406.1h.8v.8h-.8zM509.4 406.1h.8v.8h-.8zM510.2 406.1h.8v.8h-.8zM507.0 406.9h.8v.8h-.8zM507.8 406.9h.8v.8h-.8zM508.6 406.9h.8v.8h-.8zM509.4 406.9h.8v.8h-.8zM510.2 406.9h.8v.8h-.8zM506.2 407.7h.8v.8h-.8zM507.0 407.7h.8v.8h-.8zM510.2 407.7h.8v.8h-.8zM505.4 408.5h.8v.8h-.8zM506.2 408.5h.8v.8h-.8zM510.2 408.5h.8v.8h-.8zM505.4 409.3h.8v.8h-.8zM510.2 409.3h.8v.8h-.8zM504.6 410.1h.8v.8h-.8zM503.8 410.9h.8v.8h-.8zM511.0 410.9h.8v.8h-.8zM511.0 411.7h.8v.8h-.8zM503.0 412.5h.8v.8h-.8zM511.0 412.5h.8v.8h-.8zM503.0 413.3h.8v.8h-.8zM511.0 413.3h.8v.8h-.8zM510.2 415.7h.8v.8h-.8zM503.0 417.3h.8v.8h-.8zM509.4 417.3h.8v.8h-.8zM503.0 418.1h.8v.8h-.8zM503.8 418.1h.8v.8h-.8zM508.6 418.1h.8v.8h-.8zM504.6 418.9h.8v.8h-.8zM505.4 418.9h.8v.8h-.8zM506.2 418.9h.8v.8h-.8zM507.0 418.9h.8v.8h-.8z" fill="#8cff72"/>
<path d="M507.8 407.7h.8v.8h-.8zM508.6 407.7h.8v.8h-.8zM509.4 407.7h.8v.8h-.8zM507.0 408.5h.8v.8h-.8zM507.8 408.5h.8v.8h-.8zM508.6 408.5h.8v.8h-.8zM509.4 408.5h.8v.8h-.8zM506.2 409.3h.8v.8h-.8zM509.4 409.3h.8v.8h-.8zM505.4 410.1h.8v.8h-.8zM510.2 410.1h.8v.8h-.8zM504.6 410.9h.8v.8h-.8zM510.2 410.9h.8v.8h-.8zM503.8 411.7h.8v.8h-.8zM510.2 411.7h.8v.8h-.8zM503.8 412.5h.8v.8h-.8zM510.2 412.5h.8v.8h-.8zM510.2 413.3h.8v.8h-.8zM503.0 414.1h.8v.8h-.8zM510.2 414.1h.8v.8h-.8zM503.0 414.9h.8v.8h-.8zM510.2 414.9h.8v.8h-.8zM503.0 415.7h.8v.8h-.8zM503.0 416.5h.8v.8h-.8zM509.4 416.5h.8v.8h-.8zM503.8 417.3h.8v.8h-.8zM508.6 417.3h.8v.8h-.8zM504.6 418.1h.8v.8h-.8zM507.0 418.1h.8v.8h-.8zM507.8 418.1h.8v.8h-.8z" fill="#d8ff26"/>
<path d="M507.0 409.3h.8v.8h-.8zM507.8 409.3h.8v.8h-.8zM508.6 409.3h.8v.8h-.8zM506.2 410.1h.8v.8h-.8zM509.4 410.1h.8v.8h-.8zM509.4 410.9h.8v.8h-.8zM504.6 411.7h.8v.8h-.8zM503.8 413.3h.8v.8h-.8zM503.8 414.1h.8v.8h-.8zM503.8 414.9h.8v.8h-.8zM509.4 414.9h.8v.8h-.8zM503.8 415.7h.8v.8h-.8zM509.4 415.7h.8v.8h-.8zM503.8 416.5h.8v.8h-.8zM508.6 416.5h.8v.8h-.8zM504.6 417.3h.8v.8h-.8zM507.8 417.3h.8v.8h-.8zM505.4 418.1h.8v.8h-.8zM506.2 418.1h.8v.8h-.8z" fill="#ffd800"/>
<path d="M507.0 410.1h.8v.8h-.8zM507.8 410.1h.8v.8h-.8zM508.6 410.1h.8v.8h-.8zM505.4 410.9h.8v.8h-.8zM508.6 410.9h.8v.8h-.8zM509.4 411.7h.8v.8h-.8zM504.6 412.5h.8v.8h-.8zM509.4 412.5h.8v.8h-.8zM509.4 413.3h.8v.8h-.8zM509.4 414.1h.8v.8h-.8zM508.6 415.7h.8v.8h-.8zM504.6 416.5h.8v.8h-.8zM507.8 416.5h.8v.8h-.8zM505.4 417.3h.8v.8h-.8zM506.2 417.3h.8v.8h-.8zM507.0 417.3h.8v.8h-.8z" fill="#ff8c00"/>
<path d="M506.2 410.9h.8v.8h-.8zM507.0 410.9h.8v.8h-.8zM507.8 410.9h.8v.8h-.8zM505.4 411.7h.8v.8h-.8zM508.6 411.7h.8v.8h-.8zM504.6 413.3h.8v.8h-.8zM504.6 414.1h.8v.8h-.8zM504.6 414.9h.8v.8h-.8zM508.6 414.9h.8v.8h-.8zM504.6 415.7h.8v.8h-.8zM507.8 415.7h.8v.8h-.8zM505.4 416.5h.8v.8h-.8zM506.2 416.5h.8v.8h-.8zM507.0 416.5h.8v.8h-.8z" fill="#ff3f00"/>
<path d="M506.2 411.7h.8v.8h-.8zM507.0 411.7h.8v.8h-.8zM507.8 411.7h.8v.8h-.8zM505.4 412.5h.8v.8h-.8zM508.6 412.5h.8v.8h-.8zM505.4 413.3h.8v.8h-.8zM508.6 413.3h.8v.8h-.8zM505.4 414.1h.8v.8h-.8zM508.6 414.1h.8v.8h-.8zM505.4 414.9h.8v.8h-.8zM507.8 414.9h.8v.8h-.8zM505.4 415.7h.8v.8h-.8zM506.2 415.7h.8v.8h-.8zM507.0 415.7h.8v.8h-.8z" fill="#f20000"/>
<path d="M506.2 412.5h.8v.8h-.8zM507.0 412.5h.8v.8h-.8zM507.8 412.5h.8v.8h-.8zM506.2 413.3h.8v.8h-.8zM507.0 413.3h.8v.8h-.8zM507.8 413.3h.8v.8h-.8zM506.2 414.1h.8v.8h-.8zM507.0 414.1h.8v.8h-.8zM507.8 414.1h.8v.8h-.8zM506.2 414.9h.8v.8h-.8zM507.0 414.9h.8v.8h-.8z" fill="#a50000"/>
<path d="M470.2 430.5V367.7H519L500.3 430.5" fill="none" stroke="#a8a8a8" stroke-width="0.6"/>
<path d="M506 430.5L523.7 367.7H543.4V430.5" fill="none" stroke="#a8a8a8" stroke-width="0.6"/>
<line x1="468.4" y1="355.5" x2="468.4" y2="431" stroke="#555" stroke-width="0.8"/>
<line x1="468.4" y1="431" x2="545" y2="431" stroke="#555" stroke-width="0.8"/>
<line x1="466.2" y1="431" x2="468.4" y2="431" stroke="#555" stroke-width="0.7"/>
<line x1="467.2" y1="426.28" x2="468.4" y2="426.28" stroke="#777" stroke-width="0.5"/>
<line x1="467.2" y1="421.56" x2="468.4" y2="421.56" stroke="#777" stroke-width="0.5"/>
<line x1="467.2" y1="416.84" x2="468.4" y2="416.84" stroke="#777" stroke-width="0.5"/>
<text x="462.3" y="438" font-size="8.6" text-anchor="middle" fill="#1a1a1a">0</text>
<line x1="466.2" y1="412.12" x2="468.4" y2="412.12" stroke="#555" stroke-width="0.7"/>
<line x1="467.2" y1="407.41" x2="468.4" y2="407.41" stroke="#777" stroke-width="0.5"/>
<line x1="467.2" y1="402.69" x2="468.4" y2="402.69" stroke="#777" stroke-width="0.5"/>
<line x1="467.2" y1="397.97" x2="468.4" y2="397.97" stroke="#777" stroke-width="0.5"/>
<text x="465.8" y="415.02" font-size="8" text-anchor="end" fill="#1a1a1a">30K</text>
<line x1="466.2" y1="393.25" x2="468.4" y2="393.25" stroke="#555" stroke-width="0.7"/>
<line x1="467.2" y1="388.53" x2="468.4" y2="388.53" stroke="#777" stroke-width="0.5"/>
<line x1="467.2" y1="383.81" x2="468.4" y2="383.81" stroke="#777" stroke-width="0.5"/>
<line x1="467.2" y1="379.09" x2="468.4" y2="379.09" stroke="#777" stroke-width="0.5"/>
<text x="465.8" y="396.15" font-size="8" text-anchor="end" fill="#1a1a1a">60K</text>
<line x1="466.2" y1="374.38" x2="468.4" y2="374.38" stroke="#555" stroke-width="0.7"/>
<line x1="467.2" y1="369.66" x2="468.4" y2="369.66" stroke="#777" stroke-width="0.5"/>
<line x1="467.2" y1="364.94" x2="468.4" y2="364.94" stroke="#777" stroke-width="0.5"/>
<line x1="467.2" y1="360.22" x2="468.4" y2="360.22" stroke="#777" stroke-width="0.5"/>
<text x="465.8" y="377.27" font-size="8" text-anchor="end" fill="#1a1a1a">90K</text>
<line x1="466.2" y1="355.5" x2="468.4" y2="355.5" stroke="#555" stroke-width="0.7"/>
<text x="465.8" y="358.4" font-size="8" text-anchor="end" fill="#1a1a1a">120K</text>
<line x1="469.09" y1="431" x2="469.09" y2="432.2" stroke="#666" stroke-width="0.5"/>
<line x1="471.31" y1="431" x2="471.31" y2="432.2" stroke="#666" stroke-width="0.5"/>
<line x1="473.12" y1="431" x2="473.12" y2="432.2" stroke="#666" stroke-width="0.5"/>
<line x1="474.65" y1="431" x2="474.65" y2="432.2" stroke="#666" stroke-width="0.5"/>
<line x1="475.98" y1="431" x2="475.98" y2="432.2" stroke="#666" stroke-width="0.5"/>
<line x1="477.15" y1="431" x2="477.15" y2="432.2" stroke="#666" stroke-width="0.5"/>
<line x1="478.2" y1="431" x2="478.2" y2="433.2" stroke="#666" stroke-width="0.7"/>
<line x1="485.09" y1="431" x2="485.09" y2="432.2" stroke="#666" stroke-width="0.5"/>
<line x1="489.13" y1="431" x2="489.13" y2="432.2" stroke="#666" stroke-width="0.5"/>
<line x1="491.99" y1="431" x2="491.99" y2="432.2" stroke="#666" stroke-width="0.5"/>
<line x1="494.21" y1="431" x2="494.21" y2="432.2" stroke="#666" stroke-width="0.5"/>
<line x1="496.02" y1="431" x2="496.02" y2="432.2" stroke="#666" stroke-width="0.5"/>
<line x1="497.55" y1="431" x2="497.55" y2="432.2" stroke="#666" stroke-width="0.5"/>
<line x1="498.88" y1="431" x2="498.88" y2="432.2" stroke="#666" stroke-width="0.5"/>
<line x1="500.05" y1="431" x2="500.05" y2="432.2" stroke="#666" stroke-width="0.5"/>
<line x1="501.1" y1="431" x2="501.1" y2="433.2" stroke="#666" stroke-width="0.7"/>
<line x1="507.99" y1="431" x2="507.99" y2="432.2" stroke="#666" stroke-width="0.5"/>
<line x1="512.03" y1="431" x2="512.03" y2="432.2" stroke="#666" stroke-width="0.5"/>
<line x1="514.89" y1="431" x2="514.89" y2="432.2" stroke="#666" stroke-width="0.5"/>
<line x1="517.11" y1="431" x2="517.11" y2="432.2" stroke="#666" stroke-width="0.5"/>
<line x1="518.92" y1="431" x2="518.92" y2="432.2" stroke="#666" stroke-width="0.5"/>
<line x1="520.45" y1="431" x2="520.45" y2="432.2" stroke="#666" stroke-width="0.5"/>
<line x1="521.78" y1="431" x2="521.78" y2="432.2" stroke="#666" stroke-width="0.5"/>
<line x1="522.95" y1="431" x2="522.95" y2="432.2" stroke="#666" stroke-width="0.5"/>
<line x1="524" y1="431" x2="524" y2="433.2" stroke="#666" stroke-width="0.7"/>
<line x1="530.89" y1="431" x2="530.89" y2="432.2" stroke="#666" stroke-width="0.5"/>
<line x1="534.93" y1="431" x2="534.93" y2="432.2" stroke="#666" stroke-width="0.5"/>
<line x1="537.79" y1="431" x2="537.79" y2="432.2" stroke="#666" stroke-width="0.5"/>
<line x1="540.01" y1="431" x2="540.01" y2="432.2" stroke="#666" stroke-width="0.5"/>
<line x1="541.82" y1="431" x2="541.82" y2="432.2" stroke="#666" stroke-width="0.5"/>
<line x1="543.35" y1="431" x2="543.35" y2="432.2" stroke="#666" stroke-width="0.5"/>
<text x="479.2" y="441.2" font-size="7.8" text-anchor="middle" fill="#222">10<tspan font-size="4.6" dy="-3">2</tspan></text>
<text x="502.1" y="441.2" font-size="7.8" text-anchor="middle" fill="#222">10<tspan font-size="4.6" dy="-3">3</tspan></text>
<text x="525" y="441.2" font-size="7.8" text-anchor="middle" fill="#222">10<tspan font-size="4.6" dy="-3">4</tspan></text>
<text x="473.4" y="377.3" font-size="8.2" fill="#222">ALDH<tspan font-size="4.8" dy="-3.1">lo</tspan></text>
<text x="515" y="424.1" font-size="8.2" fill="#222">ALDH<tspan font-size="4.8" dy="-3.1">hi</tspan></text>
<line x1="367.8" y1="446.3" x2="444.3" y2="446.3" stroke="#6a6a6a" stroke-width="0.8"/>
<line x1="444.3" y1="446.3" x2="444.3" y2="522.4" stroke="#6a6a6a" stroke-width="0.8"/>
<path d="M414.4 460.1h.8v.8h-.8zM416.0 465.7h.8v.8h-.8zM406.4 466.5h.8v.8h-.8zM407.2 467.3h.8v.8h-.8zM409.6 467.3h.8v.8h-.8zM412.0 467.3h.8v.8h-.8zM406.4 468.1h.8v.8h-.8zM408.0 468.1h.8v.8h-.8zM408.8 468.1h.8v.8h-.8zM410.4 468.1h.8v.8h-.8zM411.2 468.1h.8v.8h-.8zM408.0 468.9h.8v.8h-.8zM404.0 469.7h.8v.8h-.8zM404.8 469.7h.8v.8h-.8zM405.6 469.7h.8v.8h-.8zM408.8 469.7h.8v.8h-.8zM420.0 469.7h.8v.8h-.8zM405.6 470.5h.8v.8h-.8zM408.0 470.5h.8v.8h-.8zM411.2 470.5h.8v.8h-.8zM412.0 470.5h.8v.8h-.8zM406.4 471.3h.8v.8h-.8zM408.0 471.3h.8v.8h-.8zM408.8 471.3h.8v.8h-.8zM397.6 472.1h.8v.8h-.8zM403.2 472.1h.8v.8h-.8zM404.8 472.1h.8v.8h-.8zM409.6 472.1h.8v.8h-.8zM412.0 472.1h.8v.8h-.8zM416.0 472.1h.8v.8h-.8zM408.8 472.9h.8v.8h-.8zM411.2 472.9h.8v.8h-.8zM404.0 473.7h.8v.8h-.8zM407.2 473.7h.8v.8h-.8zM408.8 473.7h.8v.8h-.8zM409.6 473.7h.8v.8h-.8zM400.8 474.5h.8v.8h-.8zM401.6 474.5h.8v.8h-.8zM409.6 474.5h.8v.8h-.8zM399.2 475.3h.8v.8h-.8zM400.0 475.3h.8v.8h-.8zM400.8 475.3h.8v.8h-.8zM401.6 475.3h.8v.8h-.8zM402.4 475.3h.8v.8h-.8zM404.0 475.3h.8v.8h-.8zM407.2 475.3h.8v.8h-.8zM410.4 475.3h.8v.8h-.8zM399.2 476.1h.8v.8h-.8zM402.4 476.1h.8v.8h-.8zM403.2 476.1h.8v.8h-.8zM405.6 476.1h.8v.8h-.8zM408.8 476.1h.8v.8h-.8zM412.8 476.1h.8v.8h-.8zM398.4 476.9h.8v.8h-.8zM400.0 476.9h.8v.8h-.8zM400.8 476.9h.8v.8h-.8zM401.6 476.9h.8v.8h-.8zM403.2 476.9h.8v.8h-.8zM404.0 476.9h.8v.8h-.8zM408.0 476.9h.8v.8h-.8zM408.8 476.9h.8v.8h-.8zM409.6 476.9h.8v.8h-.8zM410.4 476.9h.8v.8h-.8zM412.0 476.9h.8v.8h-.8zM412.8 476.9h.8v.8h-.8zM397.6 477.7h.8v.8h-.8zM398.4 477.7h.8v.8h-.8zM399.2 477.7h.8v.8h-.8zM400.0 477.7h.8v.8h-.8zM406.4 477.7h.8v.8h-.8zM408.0 477.7h.8v.8h-.8zM408.8 477.7h.8v.8h-.8zM409.6 477.7h.8v.8h-.8zM411.2 477.7h.8v.8h-.8zM412.0 477.7h.8v.8h-.8zM399.2 478.5h.8v.8h-.8zM407.2 478.5h.8v.8h-.8zM410.4 478.5h.8v.8h-.8zM411.2 478.5h.8v.8h-.8zM396.8 479.3h.8v.8h-.8zM397.6 479.3h.8v.8h-.8zM400.8 479.3h.8v.8h-.8zM408.0 479.3h.8v.8h-.8zM411.2 479.3h.8v.8h-.8zM412.0 479.3h.8v.8h-.8zM412.8 479.3h.8v.8h-.8zM398.4 480.1h.8v.8h-.8zM408.0 480.1h.8v.8h-.8zM396.0 480.9h.8v.8h-.8zM400.0 480.9h.8v.8h-.8zM408.0 480.9h.8v.8h-.8zM409.6 480.9h.8v.8h-.8zM396.0 481.7h.8v.8h-.8zM399.2 481.7h.8v.8h-.8zM410.4 481.7h.8v.8h-.8zM393.6 482.5h.8v.8h-.8zM396.8 482.5h.8v.8h-.8zM407.2 482.5h.8v.8h-.8zM410.4 482.5h.8v.8h-.8zM392.8 483.3h.8v.8h-.8zM395.2 483.3h.8v.8h-.8zM396.8 483.3h.8v.8h-.8zM397.6 483.3h.8v.8h-.8zM408.8 483.3h.8v.8h-.8zM409.6 483.3h.8v.8h-.8zM410.4 483.3h.8v.8h-.8zM395.2 484.1h.8v.8h-.8zM396.0 484.1h.8v.8h-.8zM411.2 484.1h.8v.8h-.8zM396.0 484.9h.8v.8h-.8zM411.2 484.9h.8v.8h-.8zM412.0 484.9h.8v.8h-.8zM393.6 485.7h.8v.8h-.8zM394.4 485.7h.8v.8h-.8zM396.0 485.7h.8v.8h-.8zM393.6 486.5h.8v.8h-.8zM394.4 486.5h.8v.8h-.8zM408.0 486.5h.8v.8h-.8zM395.2 487.3h.8v.8h-.8zM397.6 487.3h.8v.8h-.8zM408.0 487.3h.8v.8h-.8zM408.8 487.3h.8v.8h-.8zM410.4 487.3h.8v.8h-.8zM394.4 488.1h.8v.8h-.8zM396.8 488.1h.8v.8h-.8zM407.2 488.1h.8v.8h-.8zM409.6 488.1h.8v.8h-.8zM410.4 488.1h.8v.8h-.8zM396.0 488.9h.8v.8h-.8zM396.8 488.9h.8v.8h-.8zM408.0 488.9h.8v.8h-.8zM409.6 488.9h.8v.8h-.8zM410.4 488.9h.8v.8h-.8zM391.2 489.7h.8v.8h-.8zM392.8 489.7h.8v.8h-.8zM393.6 489.7h.8v.8h-.8zM392.0 490.5h.8v.8h-.8zM392.8 490.5h.8v.8h-.8zM408.0 490.5h.8v.8h-.8zM392.8 491.3h.8v.8h-.8zM393.6 491.3h.8v.8h-.8zM408.8 491.3h.8v.8h-.8zM393.6 492.1h.8v.8h-.8zM394.4 492.1h.8v.8h-.8zM405.6 492.1h.8v.8h-.8zM408.8 492.1h.8v.8h-.8zM391.2 492.9h.8v.8h-.8zM392.0 492.9h.8v.8h-.8zM392.8 492.9h.8v.8h-.8zM394.4 492.9h.8v.8h-.8zM395.2 492.9h.8v.8h-.8zM407.2 492.9h.8v.8h-.8zM392.0 493.7h.8v.8h-.8zM392.8 493.7h.8v.8h-.8zM407.2 493.7h.8v.8h-.8zM410.4 493.7h.8v.8h-.8zM392.8 494.5h.8v.8h-.8zM406.4 494.5h.8v.8h-.8zM409.6 494.5h.8v.8h-.8zM392.0 495.3h.8v.8h-.8zM407.2 495.3h.8v.8h-.8zM408.0 495.3h.8v.8h-.8zM407.2 496.1h.8v.8h-.8zM408.8 496.1h.8v.8h-.8zM389.6 496.9h.8v.8h-.8zM390.4 496.9h.8v.8h-.8zM391.2 496.9h.8v.8h-.8zM408.0 496.9h.8v.8h-.8zM391.2 497.7h.8v.8h-.8zM405.6 497.7h.8v.8h-.8zM388.8 498.5h.8v.8h-.8zM390.4 498.5h.8v.8h-.8zM391.2 498.5h.8v.8h-.8zM406.4 498.5h.8v.8h-.8zM407.2 498.5h.8v.8h-.8zM388.8 500.1h.8v.8h-.8zM405.6 500.1h.8v.8h-.8zM388.8 500.9h.8v.8h-.8zM389.6 500.9h.8v.8h-.8zM405.6 500.9h.8v.8h-.8zM406.4 500.9h.8v.8h-.8zM388.8 501.7h.8v.8h-.8zM405.6 501.7h.8v.8h-.8zM389.6 502.5h.8v.8h-.8zM408.0 503.3h.8v.8h-.8zM385.6 504.1h.8v.8h-.8zM386.4 504.1h.8v.8h-.8zM406.4 504.1h.8v.8h-.8zM406.4 504.9h.8v.8h-.8zM406.4 505.7h.8v.8h-.8zM406.4 507.3h.8v.8h-.8zM385.6 508.1h.8v.8h-.8zM386.4 508.1h.8v.8h-.8zM404.0 508.1h.8v.8h-.8zM405.6 508.1h.8v.8h-.8zM384.8 508.9h.8v.8h-.8zM385.6 508.9h.8v.8h-.8zM387.2 508.9h.8v.8h-.8zM384.0 509.7h.8v.8h-.8zM404.8 509.7h.8v.8h-.8zM383.2 510.5h.8v.8h-.8zM386.4 510.5h.8v.8h-.8zM382.4 511.3h.8v.8h-.8zM384.0 511.3h.8v.8h-.8zM403.2 511.3h.8v.8h-.8zM404.0 511.3h.8v.8h-.8zM383.2 512.9h.8v.8h-.8zM401.6 512.9h.8v.8h-.8zM403.2 512.9h.8v.8h-.8zM404.0 512.9h.8v.8h-.8zM382.4 513.7h.8v.8h-.8zM385.6 513.7h.8v.8h-.8zM400.8 513.7h.8v.8h-.8zM381.6 514.5h.8v.8h-.8zM382.4 514.5h.8v.8h-.8zM383.2 514.5h.8v.8h-.8zM384.8 514.5h.8v.8h-.8zM402.4 514.5h.8v.8h-.8zM405.6 514.5h.8v.8h-.8zM382.4 515.3h.8v.8h-.8zM399.2 515.3h.8v.8h-.8zM400.8 515.3h.8v.8h-.8zM383.2 516.1h.8v.8h-.8zM384.0 516.1h.8v.8h-.8zM382.4 516.9h.8v.8h-.8zM397.6 516.9h.8v.8h-.8zM398.4 516.9h.8v.8h-.8zM399.2 516.9h.8v.8h-.8zM402.4 516.9h.8v.8h-.8zM381.6 517.7h.8v.8h-.8zM382.4 517.7h.8v.8h-.8zM383.2 517.7h.8v.8h-.8zM384.0 517.7h.8v.8h-.8zM386.4 517.7h.8v.8h-.8zM387.2 517.7h.8v.8h-.8zM396.8 517.7h.8v.8h-.8zM398.4 517.7h.8v.8h-.8zM399.2 517.7h.8v.8h-.8zM383.2 518.5h.8v.8h-.8zM385.6 518.5h.8v.8h-.8zM393.6 518.5h.8v.8h-.8zM396.8 518.5h.8v.8h-.8zM397.6 518.5h.8v.8h-.8zM381.6 519.3h.8v.8h-.8zM385.6 519.3h.8v.8h-.8zM386.4 519.3h.8v.8h-.8zM389.6 519.3h.8v.8h-.8zM392.0 519.3h.8v.8h-.8zM393.6 519.3h.8v.8h-.8zM395.2 519.3h.8v.8h-.8zM383.2 520.1h.8v.8h-.8zM384.0 520.1h.8v.8h-.8zM386.4 520.1h.8v.8h-.8zM388.8 520.1h.8v.8h-.8zM389.6 520.1h.8v.8h-.8zM391.2 520.1h.8v.8h-.8zM392.0 520.1h.8v.8h-.8zM395.2 520.1h.8v.8h-.8zM385.6 520.9h.8v.8h-.8zM386.4 520.9h.8v.8h-.8zM388.0 520.9h.8v.8h-.8zM391.2 520.9h.8v.8h-.8zM392.8 520.9h.8v.8h-.8z" fill="#0004ff" fill-opacity="0.6"/>
<path d="M408.0 467.3h.8v.8h-.8zM405.6 468.9h.8v.8h-.8zM408.8 468.9h.8v.8h-.8zM409.6 469.7h.8v.8h-.8zM404.0 470.5h.8v.8h-.8zM406.4 470.5h.8v.8h-.8zM410.4 470.5h.8v.8h-.8zM407.2 471.3h.8v.8h-.8zM409.6 471.3h.8v.8h-.8zM410.4 471.3h.8v.8h-.8zM412.8 471.3h.8v.8h-.8zM404.0 472.1h.8v.8h-.8zM405.6 472.1h.8v.8h-.8zM406.4 472.1h.8v.8h-.8zM407.2 472.1h.8v.8h-.8zM408.0 472.1h.8v.8h-.8zM408.8 472.1h.8v.8h-.8zM411.2 472.1h.8v.8h-.8zM400.8 472.9h.8v.8h-.8zM401.6 472.9h.8v.8h-.8zM402.4 472.9h.8v.8h-.8zM404.8 472.9h.8v.8h-.8zM407.2 472.9h.8v.8h-.8zM408.0 472.9h.8v.8h-.8zM409.6 472.9h.8v.8h-.8zM410.4 472.9h.8v.8h-.8zM400.8 473.7h.8v.8h-.8zM401.6 473.7h.8v.8h-.8zM402.4 473.7h.8v.8h-.8zM404.8 473.7h.8v.8h-.8zM406.4 473.7h.8v.8h-.8zM412.0 473.7h.8v.8h-.8zM402.4 474.5h.8v.8h-.8zM403.2 474.5h.8v.8h-.8zM404.0 474.5h.8v.8h-.8zM404.8 474.5h.8v.8h-.8zM407.2 474.5h.8v.8h-.8zM408.8 474.5h.8v.8h-.8zM410.4 474.5h.8v.8h-.8zM412.0 474.5h.8v.8h-.8zM404.8 475.3h.8v.8h-.8zM405.6 475.3h.8v.8h-.8zM406.4 475.3h.8v.8h-.8zM408.0 475.3h.8v.8h-.8zM409.6 475.3h.8v.8h-.8zM404.0 476.1h.8v.8h-.8zM404.8 476.1h.8v.8h-.8zM406.4 476.1h.8v.8h-.8zM407.2 476.1h.8v.8h-.8zM408.0 476.1h.8v.8h-.8zM409.6 476.1h.8v.8h-.8zM410.4 476.1h.8v.8h-.8zM411.2 476.1h.8v.8h-.8zM404.8 476.9h.8v.8h-.8zM405.6 476.9h.8v.8h-.8zM406.4 476.9h.8v.8h-.8zM407.2 476.9h.8v.8h-.8zM411.2 476.9h.8v.8h-.8zM400.8 477.7h.8v.8h-.8zM401.6 477.7h.8v.8h-.8zM402.4 477.7h.8v.8h-.8zM403.2 477.7h.8v.8h-.8zM404.0 477.7h.8v.8h-.8zM404.8 477.7h.8v.8h-.8zM405.6 477.7h.8v.8h-.8zM407.2 477.7h.8v.8h-.8zM401.6 478.5h.8v.8h-.8zM402.4 478.5h.8v.8h-.8zM405.6 478.5h.8v.8h-.8zM406.4 478.5h.8v.8h-.8zM408.0 478.5h.8v.8h-.8zM409.6 478.5h.8v.8h-.8zM399.2 479.3h.8v.8h-.8zM401.6 479.3h.8v.8h-.8zM405.6 479.3h.8v.8h-.8zM406.4 479.3h.8v.8h-.8zM407.2 479.3h.8v.8h-.8zM408.8 479.3h.8v.8h-.8zM409.6 479.3h.8v.8h-.8zM399.2 480.1h.8v.8h-.8zM400.0 480.1h.8v.8h-.8zM400.8 480.1h.8v.8h-.8zM401.6 480.1h.8v.8h-.8zM406.4 480.1h.8v.8h-.8zM407.2 480.1h.8v.8h-.8zM409.6 480.1h.8v.8h-.8zM411.2 480.1h.8v.8h-.8zM397.6 480.9h.8v.8h-.8zM399.2 480.9h.8v.8h-.8zM400.8 480.9h.8v.8h-.8zM407.2 480.9h.8v.8h-.8zM408.8 480.9h.8v.8h-.8zM411.2 480.9h.8v.8h-.8zM412.8 480.9h.8v.8h-.8zM396.8 481.7h.8v.8h-.8zM398.4 481.7h.8v.8h-.8zM400.0 481.7h.8v.8h-.8zM407.2 481.7h.8v.8h-.8zM408.0 481.7h.8v.8h-.8zM408.8 481.7h.8v.8h-.8zM396.0 482.5h.8v.8h-.8zM397.6 482.5h.8v.8h-.8zM398.4 482.5h.8v.8h-.8zM399.2 482.5h.8v.8h-.8zM408.0 482.5h.8v.8h-.8zM408.8 482.5h.8v.8h-.8zM409.6 482.5h.8v.8h-.8zM396.0 483.3h.8v.8h-.8zM398.4 483.3h.8v.8h-.8zM408.0 483.3h.8v.8h-.8zM411.2 483.3h.8v.8h-.8zM396.8 484.1h.8v.8h-.8zM397.6 484.1h.8v.8h-.8zM398.4 484.1h.8v.8h-.8zM408.0 484.1h.8v.8h-.8zM408.8 484.1h.8v.8h-.8zM409.6 484.1h.8v.8h-.8zM412.0 484.1h.8v.8h-.8zM395.2 484.9h.8v.8h-.8zM396.8 484.9h.8v.8h-.8zM397.6 484.9h.8v.8h-.8zM398.4 484.9h.8v.8h-.8zM408.0 484.9h.8v.8h-.8zM408.8 484.9h.8v.8h-.8zM409.6 484.9h.8v.8h-.8zM396.8 485.7h.8v.8h-.8zM397.6 485.7h.8v.8h-.8zM408.0 485.7h.8v.8h-.8zM408.8 485.7h.8v.8h-.8zM395.2 486.5h.8v.8h-.8zM396.0 486.5h.8v.8h-.8zM396.8 486.5h.8v.8h-.8zM397.6 486.5h.8v.8h-.8zM408.8 486.5h.8v.8h-.8zM396.0 487.3h.8v.8h-.8zM396.8 487.3h.8v.8h-.8zM407.2 487.3h.8v.8h-.8zM409.6 487.3h.8v.8h-.8zM395.2 488.1h.8v.8h-.8zM396.0 488.1h.8v.8h-.8zM408.0 488.1h.8v.8h-.8zM408.8 488.1h.8v.8h-.8zM411.2 488.1h.8v.8h-.8zM393.6 488.9h.8v.8h-.8zM394.4 488.9h.8v.8h-.8zM395.2 488.9h.8v.8h-.8zM407.2 488.9h.8v.8h-.8zM394.4 489.7h.8v.8h-.8zM395.2 489.7h.8v.8h-.8zM396.0 489.7h.8v.8h-.8zM407.2 489.7h.8v.8h-.8zM408.0 489.7h.8v.8h-.8zM393.6 490.5h.8v.8h-.8zM394.4 490.5h.8v.8h-.8zM396.0 490.5h.8v.8h-.8zM406.4 490.5h.8v.8h-.8zM407.2 490.5h.8v.8h-.8zM408.8 490.5h.8v.8h-.8zM394.4 491.3h.8v.8h-.8zM395.2 491.3h.8v.8h-.8zM406.4 491.3h.8v.8h-.8zM407.2 491.3h.8v.8h-.8zM408.0 491.3h.8v.8h-.8zM392.8 492.1h.8v.8h-.8zM406.4 492.1h.8v.8h-.8zM407.2 492.1h.8v.8h-.8zM408.0 492.1h.8v.8h-.8zM393.6 492.9h.8v.8h-.8zM406.4 492.9h.8v.8h-.8zM408.0 492.9h.8v.8h-.8zM393.6 493.7h.8v.8h-.8zM394.4 493.7h.8v.8h-.8zM404.8 493.7h.8v.8h-.8zM405.6 493.7h.8v.8h-.8zM406.4 493.7h.8v.8h-.8zM408.0 493.7h.8v.8h-.8zM393.6 494.5h.8v.8h-.8zM394.4 494.5h.8v.8h-.8zM404.8 494.5h.8v.8h-.8zM405.6 494.5h.8v.8h-.8zM407.2 494.5h.8v.8h-.8zM408.8 494.5h.8v.8h-.8zM392.8 495.3h.8v.8h-.8zM404.8 495.3h.8v.8h-.8zM406.4 495.3h.8v.8h-.8zM390.4 496.1h.8v.8h-.8zM391.2 496.1h.8v.8h-.8zM392.8 496.1h.8v.8h-.8zM405.6 496.1h.8v.8h-.8zM406.4 496.1h.8v.8h-.8zM392.0 496.9h.8v.8h-.8zM392.8 496.9h.8v.8h-.8zM405.6 496.9h.8v.8h-.8zM390.4 497.7h.8v.8h-.8zM392.0 497.7h.8v.8h-.8zM392.0 498.5h.8v.8h-.8zM405.6 498.5h.8v.8h-.8zM391.2 499.3h.8v.8h-.8zM405.6 499.3h.8v.8h-.8zM406.4 499.3h.8v.8h-.8zM389.6 500.1h.8v.8h-.8zM390.4 500.1h.8v.8h-.8zM391.2 500.1h.8v.8h-.8zM390.4 501.7h.8v.8h-.8zM390.4 502.5h.8v.8h-.8zM405.6 502.5h.8v.8h-.8zM406.4 502.5h.8v.8h-.8zM389.6 503.3h.8v.8h-.8zM405.6 503.3h.8v.8h-.8zM407.2 503.3h.8v.8h-.8zM388.8 504.1h.8v.8h-.8zM389.6 504.1h.8v.8h-.8zM405.6 504.1h.8v.8h-.8zM388.8 504.9h.8v.8h-.8zM405.6 504.9h.8v.8h-.8zM387.2 505.7h.8v.8h-.8zM388.8 505.7h.8v.8h-.8zM388.0 506.5h.8v.8h-.8zM388.8 506.5h.8v.8h-.8zM404.8 506.5h.8v.8h-.8zM405.6 506.5h.8v.8h-.8zM406.4 506.5h.8v.8h-.8zM387.2 507.3h.8v.8h-.8zM388.0 507.3h.8v.8h-.8zM404.8 507.3h.8v.8h-.8zM404.8 508.1h.8v.8h-.8zM386.4 508.9h.8v.8h-.8zM404.0 508.9h.8v.8h-.8zM405.6 508.9h.8v.8h-.8zM384.8 509.7h.8v.8h-.8zM385.6 509.7h.8v.8h-.8zM403.2 510.5h.8v.8h-.8zM404.0 510.5h.8v.8h-.8zM384.8 511.3h.8v.8h-.8zM386.4 511.3h.8v.8h-.8zM383.2 512.1h.8v.8h-.8zM384.0 512.1h.8v.8h-.8zM385.6 512.1h.8v.8h-.8zM401.6 512.1h.8v.8h-.8zM402.4 512.1h.8v.8h-.8zM384.8 512.9h.8v.8h-.8zM385.6 512.9h.8v.8h-.8zM400.8 512.9h.8v.8h-.8zM383.2 513.7h.8v.8h-.8zM384.0 513.7h.8v.8h-.8zM384.8 513.7h.8v.8h-.8zM401.6 513.7h.8v.8h-.8zM402.4 513.7h.8v.8h-.8zM384.0 514.5h.8v.8h-.8zM385.6 514.5h.8v.8h-.8zM400.0 514.5h.8v.8h-.8zM400.8 514.5h.8v.8h-.8zM381.6 515.3h.8v.8h-.8zM385.6 515.3h.8v.8h-.8zM400.0 515.3h.8v.8h-.8zM401.6 515.3h.8v.8h-.8zM384.8 516.1h.8v.8h-.8zM385.6 516.1h.8v.8h-.8zM397.6 516.1h.8v.8h-.8zM399.2 516.1h.8v.8h-.8zM400.0 516.1h.8v.8h-.8zM400.8 516.1h.8v.8h-.8zM384.0 516.9h.8v.8h-.8zM384.8 516.9h.8v.8h-.8zM385.6 516.9h.8v.8h-.8zM386.4 516.9h.8v.8h-.8zM396.8 516.9h.8v.8h-.8zM385.6 517.7h.8v.8h-.8zM396.0 517.7h.8v.8h-.8zM397.6 517.7h.8v.8h-.8zM384.0 518.5h.8v.8h-.8zM384.8 518.5h.8v.8h-.8zM386.4 518.5h.8v.8h-.8zM387.2 518.5h.8v.8h-.8zM388.0 518.5h.8v.8h-.8zM394.4 518.5h.8v.8h-.8zM395.2 518.5h.8v.8h-.8zM384.8 519.3h.8v.8h-.8zM387.2 519.3h.8v.8h-.8zM388.0 519.3h.8v.8h-.8zM390.4 519.3h.8v.8h-.8zM391.2 519.3h.8v.8h-.8zM394.4 519.3h.8v.8h-.8zM396.0 519.3h.8v.8h-.8zM384.8 520.1h.8v.8h-.8zM385.6 520.1h.8v.8h-.8zM390.4 520.1h.8v.8h-.8zM392.8 520.1h.8v.8h-.8zM388.8 520.9h.8v.8h-.8zM389.6 520.9h.8v.8h-.8zM390.4 520.9h.8v.8h-.8zM394.4 520.9h.8v.8h-.8z" fill="#0004ff"/>
<path d="M404.8 480.1h.8v.8h-.8zM400.8 481.7h.8v.8h-.8zM401.6 482.5h.8v.8h-.8zM400.0 484.1h.8v.8h-.8zM398.4 486.5h.8v.8h-.8zM404.0 492.9h.8v.8h-.8zM404.8 492.9h.8v.8h-.8zM395.2 493.7h.8v.8h-.8zM395.2 494.5h.8v.8h-.8zM404.0 494.5h.8v.8h-.8zM394.4 495.3h.8v.8h-.8zM392.8 497.7h.8v.8h-.8zM404.8 501.7h.8v.8h-.8zM404.8 502.5h.8v.8h-.8zM404.8 505.7h.8v.8h-.8zM403.2 509.7h.8v.8h-.8zM386.4 512.1h.8v.8h-.8zM387.2 516.9h.8v.8h-.8z" fill="#003fff" fill-opacity="0.6"/>
<path d="M403.2 478.5h.8v.8h-.8zM404.0 478.5h.8v.8h-.8zM404.8 478.5h.8v.8h-.8zM402.4 479.3h.8v.8h-.8zM403.2 479.3h.8v.8h-.8zM404.0 479.3h.8v.8h-.8zM404.8 479.3h.8v.8h-.8zM402.4 480.1h.8v.8h-.8zM403.2 480.1h.8v.8h-.8zM404.0 480.1h.8v.8h-.8zM405.6 480.1h.8v.8h-.8zM401.6 480.9h.8v.8h-.8zM402.4 480.9h.8v.8h-.8zM403.2 480.9h.8v.8h-.8zM404.0 480.9h.8v.8h-.8zM404.8 480.9h.8v.8h-.8zM405.6 480.9h.8v.8h-.8zM401.6 481.7h.8v.8h-.8zM402.4 481.7h.8v.8h-.8zM403.2 481.7h.8v.8h-.8zM404.0 481.7h.8v.8h-.8zM404.8 481.7h.8v.8h-.8zM405.6 481.7h.8v.8h-.8zM406.4 481.7h.8v.8h-.8zM400.0 482.5h.8v.8h-.8zM400.8 482.5h.8v.8h-.8zM402.4 482.5h.8v.8h-.8zM403.2 482.5h.8v.8h-.8zM404.0 482.5h.8v.8h-.8zM404.8 482.5h.8v.8h-.8zM405.6 482.5h.8v.8h-.8zM406.4 482.5h.8v.8h-.8zM399.2 483.3h.8v.8h-.8zM400.0 483.3h.8v.8h-.8zM400.8 483.3h.8v.8h-.8zM401.6 483.3h.8v.8h-.8zM402.4 483.3h.8v.8h-.8zM403.2 483.3h.8v.8h-.8zM404.0 483.3h.8v.8h-.8zM404.8 483.3h.8v.8h-.8zM405.6 483.3h.8v.8h-.8zM406.4 483.3h.8v.8h-.8zM407.2 483.3h.8v.8h-.8zM399.2 484.1h.8v.8h-.8zM400.8 484.1h.8v.8h-.8zM401.6 484.1h.8v.8h-.8zM402.4 484.1h.8v.8h-.8zM403.2 484.1h.8v.8h-.8zM404.0 484.1h.8v.8h-.8zM404.8 484.1h.8v.8h-.8zM405.6 484.1h.8v.8h-.8zM406.4 484.1h.8v.8h-.8zM407.2 484.1h.8v.8h-.8zM399.2 484.9h.8v.8h-.8zM400.0 484.9h.8v.8h-.8zM400.8 484.9h.8v.8h-.8zM401.6 484.9h.8v.8h-.8zM402.4 484.9h.8v.8h-.8zM403.2 484.9h.8v.8h-.8zM404.0 484.9h.8v.8h-.8zM404.8 484.9h.8v.8h-.8zM405.6 484.9h.8v.8h-.8zM406.4 484.9h.8v.8h-.8zM407.2 484.9h.8v.8h-.8zM398.4 485.7h.8v.8h-.8zM399.2 485.7h.8v.8h-.8zM400.0 485.7h.8v.8h-.8zM400.8 485.7h.8v.8h-.8zM401.6 485.7h.8v.8h-.8zM403.2 485.7h.8v.8h-.8zM404.0 485.7h.8v.8h-.8zM404.8 485.7h.8v.8h-.8zM405.6 485.7h.8v.8h-.8zM406.4 485.7h.8v.8h-.8zM407.2 485.7h.8v.8h-.8zM399.2 486.5h.8v.8h-.8zM400.0 486.5h.8v.8h-.8zM404.0 486.5h.8v.8h-.8zM404.8 486.5h.8v.8h-.8zM405.6 486.5h.8v.8h-.8zM406.4 486.5h.8v.8h-.8zM407.2 486.5h.8v.8h-.8zM398.4 487.3h.8v.8h-.8zM399.2 487.3h.8v.8h-.8zM404.8 487.3h.8v.8h-.8zM405.6 487.3h.8v.8h-.8zM406.4 487.3h.8v.8h-.8zM397.6 488.1h.8v.8h-.8zM398.4 488.1h.8v.8h-.8zM399.2 488.1h.8v.8h-.8zM404.8 488.1h.8v.8h-.8zM405.6 488.1h.8v.8h-.8zM406.4 488.1h.8v.8h-.8zM397.6 488.9h.8v.8h-.8zM398.4 488.9h.8v.8h-.8zM404.8 488.9h.8v.8h-.8zM405.6 488.9h.8v.8h-.8zM406.4 488.9h.8v.8h-.8zM396.8 489.7h.8v.8h-.8zM397.6 489.7h.8v.8h-.8zM398.4 489.7h.8v.8h-.8zM404.8 489.7h.8v.8h-.8zM405.6 489.7h.8v.8h-.8zM406.4 489.7h.8v.8h-.8zM396.8 490.5h.8v.8h-.8zM397.6 490.5h.8v.8h-.8zM404.0 490.5h.8v.8h-.8zM404.8 490.5h.8v.8h-.8zM405.6 490.5h.8v.8h-.8zM396.0 491.3h.8v.8h-.8zM396.8 491.3h.8v.8h-.8zM404.0 491.3h.8v.8h-.8zM404.8 491.3h.8v.8h-.8zM405.6 491.3h.8v.8h-.8zM396.0 492.1h.8v.8h-.8zM396.8 492.1h.8v.8h-.8zM404.0 492.1h.8v.8h-.8zM404.8 492.1h.8v.8h-.8zM396.0 492.9h.8v.8h-.8zM396.8 492.9h.8v.8h-.8zM396.0 493.7h.8v.8h-.8zM396.8 493.7h.8v.8h-.8zM403.2 493.7h.8v.8h-.8zM404.0 493.7h.8v.8h-.8zM396.0 494.5h.8v.8h-.8zM395.2 495.3h.8v.8h-.8zM396.0 495.3h.8v.8h-.8zM404.0 495.3h.8v.8h-.8zM393.6 496.1h.8v.8h-.8zM394.4 496.1h.8v.8h-.8zM395.2 496.1h.8v.8h-.8zM404.0 496.1h.8v.8h-.8zM404.8 496.1h.8v.8h-.8zM393.6 496.9h.8v.8h-.8zM394.4 496.9h.8v.8h-.8zM404.0 496.9h.8v.8h-.8zM404.8 496.9h.8v.8h-.8zM393.6 497.7h.8v.8h-.8zM404.0 497.7h.8v.8h-.8zM404.8 497.7h.8v.8h-.8zM392.8 498.5h.8v.8h-.8zM404.0 498.5h.8v.8h-.8zM404.8 498.5h.8v.8h-.8zM392.8 499.3h.8v.8h-.8zM404.0 499.3h.8v.8h-.8zM404.8 499.3h.8v.8h-.8zM392.0 500.1h.8v.8h-.8zM404.0 500.1h.8v.8h-.8zM404.8 500.1h.8v.8h-.8zM391.2 500.9h.8v.8h-.8zM392.0 500.9h.8v.8h-.8zM404.0 500.9h.8v.8h-.8zM404.8 500.9h.8v.8h-.8zM391.2 501.7h.8v.8h-.8zM391.2 502.5h.8v.8h-.8zM390.4 503.3h.8v.8h-.8zM404.8 503.3h.8v.8h-.8zM390.4 504.1h.8v.8h-.8zM404.8 504.1h.8v.8h-.8zM389.6 504.9h.8v.8h-.8zM390.4 504.9h.8v.8h-.8zM404.8 504.9h.8v.8h-.8zM389.6 505.7h.8v.8h-.8zM404.0 505.7h.8v.8h-.8zM389.6 506.5h.8v.8h-.8zM404.0 506.5h.8v.8h-.8zM388.8 507.3h.8v.8h-.8zM389.6 507.3h.8v.8h-.8zM403.2 507.3h.8v.8h-.8zM404.0 507.3h.8v.8h-.8zM388.0 508.1h.8v.8h-.8zM388.8 508.1h.8v.8h-.8zM403.2 508.1h.8v.8h-.8zM388.0 508.9h.8v.8h-.8zM403.2 508.9h.8v.8h-.8zM387.2 509.7h.8v.8h-.8zM388.0 509.7h.8v.8h-.8zM402.4 509.7h.8v.8h-.8zM387.2 510.5h.8v.8h-.8zM402.4 510.5h.8v.8h-.8zM387.2 511.3h.8v.8h-.8zM401.6 511.3h.8v.8h-.8zM387.2 512.1h.8v.8h-.8zM400.8 512.1h.8v.8h-.8zM386.4 512.9h.8v.8h-.8zM387.2 512.9h.8v.8h-.8zM400.0 512.9h.8v.8h-.8zM386.4 513.7h.8v.8h-.8zM387.2 513.7h.8v.8h-.8zM399.2 513.7h.8v.8h-.8zM400.0 513.7h.8v.8h-.8zM386.4 514.5h.8v.8h-.8zM387.2 514.5h.8v.8h-.8zM398.4 514.5h.8v.8h-.8zM399.2 514.5h.8v.8h-.8zM386.4 515.3h.8v.8h-.8zM387.2 515.3h.8v.8h-.8zM396.8 515.3h.8v.8h-.8zM397.6 515.3h.8v.8h-.8zM398.4 515.3h.8v.8h-.8zM386.4 516.1h.8v.8h-.8zM387.2 516.1h.8v.8h-.8zM396.0 516.1h.8v.8h-.8zM396.8 516.1h.8v.8h-.8zM388.0 516.9h.8v.8h-.8zM395.2 516.9h.8v.8h-.8zM396.0 516.9h.8v.8h-.8zM388.0 517.7h.8v.8h-.8zM388.8 517.7h.8v.8h-.8zM389.6 517.7h.8v.8h-.8zM392.8 517.7h.8v.8h-.8zM393.6 517.7h.8v.8h-.8zM394.4 517.7h.8v.8h-.8zM395.2 517.7h.8v.8h-.8zM388.8 518.5h.8v.8h-.8zM389.6 518.5h.8v.8h-.8zM390.4 518.5h.8v.8h-.8zM391.2 518.5h.8v.8h-.8zM392.0 518.5h.8v.8h-.8zM392.8 518.5h.8v.8h-.8z" fill="#003fff"/>
<path d="M398.4 492.9h.8v.8h-.8z" fill="#007bff" fill-opacity="0.6"/>
<path d="M402.4 485.7h.8v.8h-.8zM400.8 486.5h.8v.8h-.8zM401.6 486.5h.8v.8h-.8zM402.4 486.5h.8v.8h-.8zM403.2 486.5h.8v.8h-.8zM400.0 487.3h.8v.8h-.8zM400.8 487.3h.8v.8h-.8zM401.6 487.3h.8v.8h-.8zM402.4 487.3h.8v.8h-.8zM403.2 487.3h.8v.8h-.8zM400.0 488.1h.8v.8h-.8zM400.8 488.1h.8v.8h-.8zM401.6 488.1h.8v.8h-.8zM402.4 488.1h.8v.8h-.8zM403.2 488.1h.8v.8h-.8zM404.0 488.1h.8v.8h-.8zM399.2 488.9h.8v.8h-.8zM400.0 488.9h.8v.8h-.8zM400.8 488.9h.8v.8h-.8zM401.6 488.9h.8v.8h-.8zM402.4 488.9h.8v.8h-.8zM403.2 488.9h.8v.8h-.8zM404.0 488.9h.8v.8h-.8zM399.2 489.7h.8v.8h-.8zM400.0 489.7h.8v.8h-.8zM400.8 489.7h.8v.8h-.8zM401.6 489.7h.8v.8h-.8zM402.4 489.7h.8v.8h-.8zM403.2 489.7h.8v.8h-.8zM404.0 489.7h.8v.8h-.8zM398.4 490.5h.8v.8h-.8zM399.2 490.5h.8v.8h-.8zM400.0 490.5h.8v.8h-.8zM401.6 490.5h.8v.8h-.8zM402.4 490.5h.8v.8h-.8zM403.2 490.5h.8v.8h-.8zM397.6 491.3h.8v.8h-.8zM398.4 491.3h.8v.8h-.8zM399.2 491.3h.8v.8h-.8zM401.6 491.3h.8v.8h-.8zM402.4 491.3h.8v.8h-.8zM403.2 491.3h.8v.8h-.8zM397.6 492.1h.8v.8h-.8zM398.4 492.1h.8v.8h-.8zM399.2 492.1h.8v.8h-.8zM400.0 492.1h.8v.8h-.8zM400.8 492.1h.8v.8h-.8zM401.6 492.1h.8v.8h-.8zM402.4 492.1h.8v.8h-.8zM403.2 492.1h.8v.8h-.8zM397.6 492.9h.8v.8h-.8zM399.2 492.9h.8v.8h-.8zM400.0 492.9h.8v.8h-.8zM400.8 492.9h.8v.8h-.8zM401.6 492.9h.8v.8h-.8zM402.4 492.9h.8v.8h-.8zM403.2 492.9h.8v.8h-.8zM397.6 493.7h.8v.8h-.8zM398.4 493.7h.8v.8h-.8zM399.2 493.7h.8v.8h-.8zM400.0 493.7h.8v.8h-.8zM400.8 493.7h.8v.8h-.8zM401.6 493.7h.8v.8h-.8zM402.4 493.7h.8v.8h-.8zM396.8 494.5h.8v.8h-.8zM397.6 494.5h.8v.8h-.8zM398.4 494.5h.8v.8h-.8zM399.2 494.5h.8v.8h-.8zM400.0 494.5h.8v.8h-.8zM400.8 494.5h.8v.8h-.8zM401.6 494.5h.8v.8h-.8zM402.4 494.5h.8v.8h-.8zM403.2 494.5h.8v.8h-.8zM396.8 495.3h.8v.8h-.8zM397.6 495.3h.8v.8h-.8zM402.4 495.3h.8v.8h-.8zM403.2 495.3h.8v.8h-.8zM396.0 496.1h.8v.8h-.8zM396.8 496.1h.8v.8h-.8zM403.2 496.1h.8v.8h-.8zM395.2 496.9h.8v.8h-.8zM403.2 496.9h.8v.8h-.8zM394.4 497.7h.8v.8h-.8zM403.2 497.7h.8v.8h-.8zM393.6 498.5h.8v.8h-.8zM403.2 498.5h.8v.8h-.8zM393.6 499.3h.8v.8h-.8zM403.2 499.3h.8v.8h-.8zM392.8 500.1h.8v.8h-.8zM403.2 500.1h.8v.8h-.8zM392.8 500.9h.8v.8h-.8zM403.2 500.9h.8v.8h-.8zM392.0 501.7h.8v.8h-.8zM392.8 501.7h.8v.8h-.8zM403.2 501.7h.8v.8h-.8zM404.0 501.7h.8v.8h-.8zM392.0 502.5h.8v.8h-.8zM404.0 502.5h.8v.8h-.8zM391.2 503.3h.8v.8h-.8zM404.0 503.3h.8v.8h-.8zM391.2 504.1h.8v.8h-.8zM404.0 504.1h.8v.8h-.8zM391.2 504.9h.8v.8h-.8zM404.0 504.9h.8v.8h-.8zM390.4 505.7h.8v.8h-.8zM403.2 505.7h.8v.8h-.8zM390.4 506.5h.8v.8h-.8zM403.2 506.5h.8v.8h-.8zM390.4 507.3h.8v.8h-.8zM402.4 507.3h.8v.8h-.8zM389.6 508.1h.8v.8h-.8zM402.4 508.1h.8v.8h-.8zM388.8 508.9h.8v.8h-.8zM389.6 508.9h.8v.8h-.8zM402.4 508.9h.8v.8h-.8zM388.8 509.7h.8v.8h-.8zM401.6 509.7h.8v.8h-.8zM388.0 510.5h.8v.8h-.8zM388.8 510.5h.8v.8h-.8zM400.8 510.5h.8v.8h-.8zM401.6 510.5h.8v.8h-.8zM388.0 511.3h.8v.8h-.8zM400.0 511.3h.8v.8h-.8zM400.8 511.3h.8v.8h-.8zM388.0 512.1h.8v.8h-.8zM399.2 512.1h.8v.8h-.8zM400.0 512.1h.8v.8h-.8zM388.0 512.9h.8v.8h-.8zM399.2 512.9h.8v.8h-.8zM388.0 513.7h.8v.8h-.8zM398.4 513.7h.8v.8h-.8zM388.0 514.5h.8v.8h-.8zM396.8 514.5h.8v.8h-.8zM397.6 514.5h.8v.8h-.8zM388.0 515.3h.8v.8h-.8zM396.0 515.3h.8v.8h-.8zM388.0 516.1h.8v.8h-.8zM388.8 516.1h.8v.8h-.8zM394.4 516.1h.8v.8h-.8zM395.2 516.1h.8v.8h-.8zM388.8 516.9h.8v.8h-.8zM389.6 516.9h.8v.8h-.8zM390.4 516.9h.8v.8h-.8zM391.2 516.9h.8v.8h-.8zM392.0 516.9h.8v.8h-.8zM392.8 516.9h.8v.8h-.8zM393.6 516.9h.8v.8h-.8zM394.4 516.9h.8v.8h-.8zM390.4 517.7h.8v.8h-.8zM391.2 517.7h.8v.8h-.8zM392.0 517.7h.8v.8h-.8z" fill="#007bff"/>
<path d="M400.8 490.5h.8v.8h-.8zM400.0 491.3h.8v.8h-.8zM400.8 491.3h.8v.8h-.8zM398.4 495.3h.8v.8h-.8zM399.2 495.3h.8v.8h-.8zM400.0 495.3h.8v.8h-.8zM400.8 495.3h.8v.8h-.8zM401.6 495.3h.8v.8h-.8zM397.6 496.1h.8v.8h-.8zM398.4 496.1h.8v.8h-.8zM400.8 496.1h.8v.8h-.8zM401.6 496.1h.8v.8h-.8zM402.4 496.1h.8v.8h-.8zM396.0 496.9h.8v.8h-.8zM396.8 496.9h.8v.8h-.8zM402.4 496.9h.8v.8h-.8zM395.2 497.7h.8v.8h-.8zM396.0 497.7h.8v.8h-.8zM402.4 497.7h.8v.8h-.8zM394.4 498.5h.8v.8h-.8zM402.4 498.5h.8v.8h-.8zM394.4 499.3h.8v.8h-.8zM402.4 499.3h.8v.8h-.8zM393.6 500.1h.8v.8h-.8zM402.4 500.1h.8v.8h-.8zM393.6 500.9h.8v.8h-.8zM402.4 500.9h.8v.8h-.8zM402.4 501.7h.8v.8h-.8zM392.8 502.5h.8v.8h-.8zM403.2 502.5h.8v.8h-.8zM392.0 503.3h.8v.8h-.8zM403.2 503.3h.8v.8h-.8zM392.0 504.1h.8v.8h-.8zM403.2 504.1h.8v.8h-.8zM403.2 504.9h.8v.8h-.8zM391.2 505.7h.8v.8h-.8zM391.2 506.5h.8v.8h-.8zM402.4 506.5h.8v.8h-.8zM391.2 507.3h.8v.8h-.8zM390.4 508.1h.8v.8h-.8zM401.6 508.1h.8v.8h-.8zM390.4 508.9h.8v.8h-.8zM401.6 508.9h.8v.8h-.8zM389.6 509.7h.8v.8h-.8zM400.8 509.7h.8v.8h-.8zM389.6 510.5h.8v.8h-.8zM400.0 510.5h.8v.8h-.8zM388.8 511.3h.8v.8h-.8zM389.6 511.3h.8v.8h-.8zM399.2 511.3h.8v.8h-.8zM388.8 512.1h.8v.8h-.8zM389.6 512.1h.8v.8h-.8zM398.4 512.1h.8v.8h-.8zM388.8 512.9h.8v.8h-.8zM389.6 512.9h.8v.8h-.8zM398.4 512.9h.8v.8h-.8zM388.8 513.7h.8v.8h-.8zM396.8 513.7h.8v.8h-.8zM397.6 513.7h.8v.8h-.8zM388.8 514.5h.8v.8h-.8zM395.2 514.5h.8v.8h-.8zM396.0 514.5h.8v.8h-.8zM388.8 515.3h.8v.8h-.8zM389.6 515.3h.8v.8h-.8zM390.4 515.3h.8v.8h-.8zM394.4 515.3h.8v.8h-.8zM395.2 515.3h.8v.8h-.8zM389.6 516.1h.8v.8h-.8zM390.4 516.1h.8v.8h-.8zM391.2 516.1h.8v.8h-.8zM392.0 516.1h.8v.8h-.8zM392.8 516.1h.8v.8h-.8zM393.6 516.1h.8v.8h-.8z" fill="#00b6ff"/>
<path d="M399.2 496.1h.8v.8h-.8zM400.0 496.1h.8v.8h-.8zM397.6 496.9h.8v.8h-.8zM398.4 496.9h.8v.8h-.8zM399.2 496.9h.8v.8h-.8zM400.0 496.9h.8v.8h-.8zM400.8 496.9h.8v.8h-.8zM401.6 496.9h.8v.8h-.8zM396.8 497.7h.8v.8h-.8zM400.8 497.7h.8v.8h-.8zM401.6 497.7h.8v.8h-.8zM395.2 498.5h.8v.8h-.8zM396.0 498.5h.8v.8h-.8zM400.8 498.5h.8v.8h-.8zM401.6 498.5h.8v.8h-.8zM395.2 499.3h.8v.8h-.8zM400.8 499.3h.8v.8h-.8zM401.6 499.3h.8v.8h-.8zM394.4 500.1h.8v.8h-.8zM401.6 500.1h.8v.8h-.8zM394.4 500.9h.8v.8h-.8zM401.6 500.9h.8v.8h-.8zM393.6 501.7h.8v.8h-.8zM401.6 501.7h.8v.8h-.8zM393.6 502.5h.8v.8h-.8zM402.4 502.5h.8v.8h-.8zM392.8 503.3h.8v.8h-.8zM402.4 503.3h.8v.8h-.8zM402.4 504.1h.8v.8h-.8zM392.0 504.9h.8v.8h-.8zM402.4 504.9h.8v.8h-.8zM392.0 505.7h.8v.8h-.8zM402.4 505.7h.8v.8h-.8zM392.0 506.5h.8v.8h-.8zM401.6 506.5h.8v.8h-.8zM392.0 507.3h.8v.8h-.8zM401.6 507.3h.8v.8h-.8zM391.2 508.1h.8v.8h-.8zM400.8 508.1h.8v.8h-.8zM391.2 508.9h.8v.8h-.8zM400.8 508.9h.8v.8h-.8zM390.4 509.7h.8v.8h-.8zM390.4 510.5h.8v.8h-.8zM390.4 511.3h.8v.8h-.8zM390.4 512.1h.8v.8h-.8zM390.4 512.9h.8v.8h-.8zM396.8 512.9h.8v.8h-.8zM397.6 512.9h.8v.8h-.8zM389.6 513.7h.8v.8h-.8zM390.4 513.7h.8v.8h-.8zM391.2 513.7h.8v.8h-.8zM395.2 513.7h.8v.8h-.8zM396.0 513.7h.8v.8h-.8zM389.6 514.5h.8v.8h-.8zM390.4 514.5h.8v.8h-.8zM391.2 514.5h.8v.8h-.8zM392.0 514.5h.8v.8h-.8zM392.8 514.5h.8v.8h-.8zM393.6 514.5h.8v.8h-.8zM394.4 514.5h.8v.8h-.8zM391.2 515.3h.8v.8h-.8zM392.0 515.3h.8v.8h-.8zM392.8 515.3h.8v.8h-.8zM393.6 515.3h.8v.8h-.8z" fill="#00f2ff"/>
<path d="M397.6 497.7h.8v.8h-.8zM398.4 497.7h.8v.8h-.8zM399.2 497.7h.8v.8h-.8zM400.0 497.7h.8v.8h-.8zM396.8 498.5h.8v.8h-.8zM399.2 498.5h.8v.8h-.8zM400.0 498.5h.8v.8h-.8zM396.0 499.3h.8v.8h-.8zM400.0 499.3h.8v.8h-.8zM395.2 500.1h.8v.8h-.8zM400.8 500.1h.8v.8h-.8zM395.2 500.9h.8v.8h-.8zM400.8 500.9h.8v.8h-.8zM394.4 501.7h.8v.8h-.8zM394.4 502.5h.8v.8h-.8zM401.6 502.5h.8v.8h-.8zM393.6 503.3h.8v.8h-.8zM401.6 503.3h.8v.8h-.8zM392.8 504.1h.8v.8h-.8zM392.8 504.9h.8v.8h-.8zM392.8 505.7h.8v.8h-.8zM401.6 505.7h.8v.8h-.8zM392.8 506.5h.8v.8h-.8zM400.8 507.3h.8v.8h-.8zM392.0 508.1h.8v.8h-.8zM392.0 508.9h.8v.8h-.8zM400.0 508.9h.8v.8h-.8zM391.2 509.7h.8v.8h-.8zM400.0 509.7h.8v.8h-.8zM391.2 510.5h.8v.8h-.8zM399.2 510.5h.8v.8h-.8zM391.2 511.3h.8v.8h-.8zM398.4 511.3h.8v.8h-.8zM391.2 512.1h.8v.8h-.8zM397.6 512.1h.8v.8h-.8zM391.2 512.9h.8v.8h-.8zM392.0 512.9h.8v.8h-.8zM396.0 512.9h.8v.8h-.8zM392.0 513.7h.8v.8h-.8zM392.8 513.7h.8v.8h-.8zM393.6 513.7h.8v.8h-.8zM394.4 513.7h.8v.8h-.8z" fill="#2effd0"/>
<path d="M397.6 498.5h.8v.8h-.8zM398.4 498.5h.8v.8h-.8zM396.8 499.3h.8v.8h-.8zM397.6 499.3h.8v.8h-.8zM398.4 499.3h.8v.8h-.8zM399.2 499.3h.8v.8h-.8zM396.0 500.1h.8v.8h-.8zM399.2 500.1h.8v.8h-.8zM400.0 500.1h.8v.8h-.8zM396.0 500.9h.8v.8h-.8zM400.0 500.9h.8v.8h-.8zM395.2 501.7h.8v.8h-.8zM400.8 501.7h.8v.8h-.8zM400.8 502.5h.8v.8h-.8zM394.4 503.3h.8v.8h-.8zM393.6 504.1h.8v.8h-.8zM401.6 504.1h.8v.8h-.8zM393.6 504.9h.8v.8h-.8zM401.6 504.9h.8v.8h-.8zM400.8 506.5h.8v.8h-.8zM392.8 507.3h.8v.8h-.8zM392.8 508.1h.8v.8h-.8zM400.0 508.1h.8v.8h-.8zM392.0 509.7h.8v.8h-.8zM399.2 509.7h.8v.8h-.8zM392.0 510.5h.8v.8h-.8zM398.4 510.5h.8v.8h-.8zM392.0 511.3h.8v.8h-.8zM397.6 511.3h.8v.8h-.8zM392.0 512.1h.8v.8h-.8zM396.0 512.1h.8v.8h-.8zM396.8 512.1h.8v.8h-.8zM392.8 512.9h.8v.8h-.8zM393.6 512.9h.8v.8h-.8zM394.4 512.9h.8v.8h-.8zM395.2 512.9h.8v.8h-.8z" fill="#6aff94"/>
<path d="M396.8 500.1h.8v.8h-.8zM397.6 500.1h.8v.8h-.8zM398.4 500.1h.8v.8h-.8zM396.8 500.9h.8v.8h-.8zM399.2 500.9h.8v.8h-.8zM396.0 501.7h.8v.8h-.8zM400.0 501.7h.8v.8h-.8zM395.2 502.5h.8v.8h-.8zM400.8 503.3h.8v.8h-.8zM394.4 504.1h.8v.8h-.8zM400.8 504.1h.8v.8h-.8zM400.8 504.9h.8v.8h-.8zM393.6 505.7h.8v.8h-.8zM400.8 505.7h.8v.8h-.8zM393.6 506.5h.8v.8h-.8zM400.0 506.5h.8v.8h-.8zM400.0 507.3h.8v.8h-.8zM392.8 508.9h.8v.8h-.8zM399.2 508.9h.8v.8h-.8zM392.8 509.7h.8v.8h-.8zM398.4 509.7h.8v.8h-.8zM392.8 510.5h.8v.8h-.8zM397.6 510.5h.8v.8h-.8zM392.8 511.3h.8v.8h-.8zM396.8 511.3h.8v.8h-.8zM392.8 512.1h.8v.8h-.8zM393.6 512.1h.8v.8h-.8zM394.4 512.1h.8v.8h-.8zM395.2 512.1h.8v.8h-.8z" fill="#a5ff59"/>
<path d="M397.6 500.9h.8v.8h-.8zM398.4 500.9h.8v.8h-.8zM396.8 501.7h.8v.8h-.8zM399.2 501.7h.8v.8h-.8zM396.0 502.5h.8v.8h-.8zM400.0 502.5h.8v.8h-.8zM395.2 503.3h.8v.8h-.8zM400.0 503.3h.8v.8h-.8zM400.0 504.1h.8v.8h-.8zM394.4 504.9h.8v.8h-.8zM400.0 504.9h.8v.8h-.8zM394.4 505.7h.8v.8h-.8zM400.0 505.7h.8v.8h-.8zM399.2 506.5h.8v.8h-.8zM393.6 507.3h.8v.8h-.8zM399.2 507.3h.8v.8h-.8zM393.6 508.1h.8v.8h-.8zM399.2 508.1h.8v.8h-.8zM393.6 508.9h.8v.8h-.8zM393.6 509.7h.8v.8h-.8zM393.6 510.5h.8v.8h-.8zM396.8 510.5h.8v.8h-.8zM393.6 511.3h.8v.8h-.8zM394.4 511.3h.8v.8h-.8zM395.2 511.3h.8v.8h-.8zM396.0 511.3h.8v.8h-.8z" fill="#e1ff1d"/>
<path d="M397.6 501.7h.8v.8h-.8zM398.4 501.7h.8v.8h-.8zM396.8 502.5h.8v.8h-.8zM399.2 502.5h.8v.8h-.8zM396.0 503.3h.8v.8h-.8zM399.2 503.3h.8v.8h-.8zM395.2 504.1h.8v.8h-.8zM399.2 504.1h.8v.8h-.8zM395.2 504.9h.8v.8h-.8zM399.2 504.9h.8v.8h-.8zM399.2 505.7h.8v.8h-.8zM394.4 506.5h.8v.8h-.8zM394.4 507.3h.8v.8h-.8zM398.4 507.3h.8v.8h-.8zM398.4 508.1h.8v.8h-.8zM398.4 508.9h.8v.8h-.8zM394.4 509.7h.8v.8h-.8zM397.6 509.7h.8v.8h-.8zM394.4 510.5h.8v.8h-.8zM395.2 510.5h.8v.8h-.8zM396.0 510.5h.8v.8h-.8z" fill="#ffe100"/>
<path d="M397.6 502.5h.8v.8h-.8zM398.4 502.5h.8v.8h-.8zM396.8 503.3h.8v.8h-.8zM398.4 503.3h.8v.8h-.8zM396.0 504.1h.8v.8h-.8zM398.4 504.1h.8v.8h-.8zM398.4 504.9h.8v.8h-.8zM395.2 505.7h.8v.8h-.8zM398.4 505.7h.8v.8h-.8zM395.2 506.5h.8v.8h-.8zM398.4 506.5h.8v.8h-.8zM394.4 508.1h.8v.8h-.8zM397.6 508.1h.8v.8h-.8zM394.4 508.9h.8v.8h-.8zM397.6 508.9h.8v.8h-.8zM395.2 509.7h.8v.8h-.8zM396.0 509.7h.8v.8h-.8zM396.8 509.7h.8v.8h-.8z" fill="#ffa500"/>
<path d="M397.6 503.3h.8v.8h-.8zM396.8 504.1h.8v.8h-.8zM397.6 504.1h.8v.8h-.8zM396.0 504.9h.8v.8h-.8zM396.8 504.9h.8v.8h-.8zM397.6 504.9h.8v.8h-.8zM396.0 505.7h.8v.8h-.8zM396.8 505.7h.8v.8h-.8zM397.6 505.7h.8v.8h-.8zM396.0 506.5h.8v.8h-.8zM396.8 506.5h.8v.8h-.8zM397.6 506.5h.8v.8h-.8zM395.2 507.3h.8v.8h-.8zM396.0 507.3h.8v.8h-.8zM396.8 507.3h.8v.8h-.8zM397.6 507.3h.8v.8h-.8zM395.2 508.1h.8v.8h-.8zM396.0 508.1h.8v.8h-.8zM396.8 508.1h.8v.8h-.8zM395.2 508.9h.8v.8h-.8zM396.0 508.9h.8v.8h-.8zM396.8 508.9h.8v.8h-.8z" fill="#ff6a00"/>
<path d="M369.6 521.9V458.5H418.4L399.7 521.9" fill="none" stroke="#a8a8a8" stroke-width="0.6"/>
<path d="M405.4 521.9L423.1 458.5H442.7V521.9" fill="none" stroke="#a8a8a8" stroke-width="0.6"/>
<line x1="367.8" y1="446.3" x2="367.8" y2="522.4" stroke="#555" stroke-width="0.8"/>
<line x1="367.8" y1="522.4" x2="444.3" y2="522.4" stroke="#555" stroke-width="0.8"/>
<line x1="365.6" y1="522.4" x2="367.8" y2="522.4" stroke="#555" stroke-width="0.7"/>
<line x1="366.6" y1="517.64" x2="367.8" y2="517.64" stroke="#777" stroke-width="0.5"/>
<line x1="366.6" y1="512.89" x2="367.8" y2="512.89" stroke="#777" stroke-width="0.5"/>
<line x1="366.6" y1="508.13" x2="367.8" y2="508.13" stroke="#777" stroke-width="0.5"/>
<text x="365.2" y="525.6" font-size="8.6" text-anchor="end" fill="#1a1a1a">0</text>
<line x1="365.6" y1="503.38" x2="367.8" y2="503.38" stroke="#555" stroke-width="0.7"/>
<line x1="366.6" y1="498.62" x2="367.8" y2="498.62" stroke="#777" stroke-width="0.5"/>
<line x1="366.6" y1="493.86" x2="367.8" y2="493.86" stroke="#777" stroke-width="0.5"/>
<line x1="366.6" y1="489.11" x2="367.8" y2="489.11" stroke="#777" stroke-width="0.5"/>
<text x="365.2" y="506.27" font-size="8" text-anchor="end" fill="#1a1a1a">30K</text>
<line x1="365.6" y1="484.35" x2="367.8" y2="484.35" stroke="#555" stroke-width="0.7"/>
<line x1="366.6" y1="479.59" x2="367.8" y2="479.59" stroke="#777" stroke-width="0.5"/>
<line x1="366.6" y1="474.84" x2="367.8" y2="474.84" stroke="#777" stroke-width="0.5"/>
<line x1="366.6" y1="470.08" x2="367.8" y2="470.08" stroke="#777" stroke-width="0.5"/>
<text x="365.2" y="487.25" font-size="8" text-anchor="end" fill="#1a1a1a">60K</text>
<line x1="365.6" y1="465.32" x2="367.8" y2="465.32" stroke="#555" stroke-width="0.7"/>
<line x1="366.6" y1="460.57" x2="367.8" y2="460.57" stroke="#777" stroke-width="0.5"/>
<line x1="366.6" y1="455.81" x2="367.8" y2="455.81" stroke="#777" stroke-width="0.5"/>
<line x1="366.6" y1="451.06" x2="367.8" y2="451.06" stroke="#777" stroke-width="0.5"/>
<text x="365.2" y="468.22" font-size="8" text-anchor="end" fill="#1a1a1a">90K</text>
<line x1="365.6" y1="446.3" x2="367.8" y2="446.3" stroke="#555" stroke-width="0.7"/>
<text x="365.2" y="449.2" font-size="8" text-anchor="end" fill="#1a1a1a">120K</text>
<line x1="368.49" y1="522.4" x2="368.49" y2="523.6" stroke="#666" stroke-width="0.5"/>
<line x1="370.71" y1="522.4" x2="370.71" y2="523.6" stroke="#666" stroke-width="0.5"/>
<line x1="372.52" y1="522.4" x2="372.52" y2="523.6" stroke="#666" stroke-width="0.5"/>
<line x1="374.05" y1="522.4" x2="374.05" y2="523.6" stroke="#666" stroke-width="0.5"/>
<line x1="375.38" y1="522.4" x2="375.38" y2="523.6" stroke="#666" stroke-width="0.5"/>
<line x1="376.55" y1="522.4" x2="376.55" y2="523.6" stroke="#666" stroke-width="0.5"/>
<line x1="377.6" y1="522.4" x2="377.6" y2="524.6" stroke="#666" stroke-width="0.7"/>
<line x1="384.49" y1="522.4" x2="384.49" y2="523.6" stroke="#666" stroke-width="0.5"/>
<line x1="388.53" y1="522.4" x2="388.53" y2="523.6" stroke="#666" stroke-width="0.5"/>
<line x1="391.39" y1="522.4" x2="391.39" y2="523.6" stroke="#666" stroke-width="0.5"/>
<line x1="393.61" y1="522.4" x2="393.61" y2="523.6" stroke="#666" stroke-width="0.5"/>
<line x1="395.42" y1="522.4" x2="395.42" y2="523.6" stroke="#666" stroke-width="0.5"/>
<line x1="396.95" y1="522.4" x2="396.95" y2="523.6" stroke="#666" stroke-width="0.5"/>
<line x1="398.28" y1="522.4" x2="398.28" y2="523.6" stroke="#666" stroke-width="0.5"/>
<line x1="399.45" y1="522.4" x2="399.45" y2="523.6" stroke="#666" stroke-width="0.5"/>
<line x1="400.5" y1="522.4" x2="400.5" y2="524.6" stroke="#666" stroke-width="0.7"/>
<line x1="407.39" y1="522.4" x2="407.39" y2="523.6" stroke="#666" stroke-width="0.5"/>
<line x1="411.43" y1="522.4" x2="411.43" y2="523.6" stroke="#666" stroke-width="0.5"/>
<line x1="414.29" y1="522.4" x2="414.29" y2="523.6" stroke="#666" stroke-width="0.5"/>
<line x1="416.51" y1="522.4" x2="416.51" y2="523.6" stroke="#666" stroke-width="0.5"/>
<line x1="418.32" y1="522.4" x2="418.32" y2="523.6" stroke="#666" stroke-width="0.5"/>
<line x1="419.85" y1="522.4" x2="419.85" y2="523.6" stroke="#666" stroke-width="0.5"/>
<line x1="421.18" y1="522.4" x2="421.18" y2="523.6" stroke="#666" stroke-width="0.5"/>
<line x1="422.35" y1="522.4" x2="422.35" y2="523.6" stroke="#666" stroke-width="0.5"/>
<line x1="423.4" y1="522.4" x2="423.4" y2="524.6" stroke="#666" stroke-width="0.7"/>
<line x1="430.29" y1="522.4" x2="430.29" y2="523.6" stroke="#666" stroke-width="0.5"/>
<line x1="434.33" y1="522.4" x2="434.33" y2="523.6" stroke="#666" stroke-width="0.5"/>
<line x1="437.19" y1="522.4" x2="437.19" y2="523.6" stroke="#666" stroke-width="0.5"/>
<line x1="439.41" y1="522.4" x2="439.41" y2="523.6" stroke="#666" stroke-width="0.5"/>
<line x1="441.22" y1="522.4" x2="441.22" y2="523.6" stroke="#666" stroke-width="0.5"/>
<line x1="442.75" y1="522.4" x2="442.75" y2="523.6" stroke="#666" stroke-width="0.5"/>
<text x="378.6" y="532.6" font-size="7.8" text-anchor="middle" fill="#222">10<tspan font-size="4.6" dy="-3">2</tspan></text>
<text x="401.5" y="532.6" font-size="7.8" text-anchor="middle" fill="#222">10<tspan font-size="4.6" dy="-3">3</tspan></text>
<text x="424.4" y="532.6" font-size="7.8" text-anchor="middle" fill="#222">10<tspan font-size="4.6" dy="-3">4</tspan></text>
<text x="372.8" y="468.1" font-size="8.2" fill="#222">ALDH<tspan font-size="4.8" dy="-3.1">lo</tspan></text>
<text x="414.4" y="514.9" font-size="8.2" fill="#222">ALDH<tspan font-size="4.8" dy="-3.1">hi</tspan></text>
<line x1="468" y1="446.7" x2="544.8" y2="446.7" stroke="#6a6a6a" stroke-width="0.8"/>
<line x1="544.8" y1="446.7" x2="544.8" y2="522" stroke="#6a6a6a" stroke-width="0.8"/>
<path d="M516.2 474.9h.8v.8h-.8zM517.0 476.5h.8v.8h-.8zM517.8 476.5h.8v.8h-.8zM512.2 477.3h.8v.8h-.8zM514.6 477.3h.8v.8h-.8zM511.4 478.1h.8v.8h-.8zM513.0 478.1h.8v.8h-.8zM516.2 478.1h.8v.8h-.8zM517.0 478.1h.8v.8h-.8zM511.4 478.9h.8v.8h-.8zM512.2 478.9h.8v.8h-.8zM513.0 478.9h.8v.8h-.8zM513.8 478.9h.8v.8h-.8zM515.4 478.9h.8v.8h-.8zM516.2 478.9h.8v.8h-.8zM517.0 478.9h.8v.8h-.8zM517.8 478.9h.8v.8h-.8zM518.6 478.9h.8v.8h-.8zM508.2 479.7h.8v.8h-.8zM509.8 479.7h.8v.8h-.8zM512.2 479.7h.8v.8h-.8zM515.4 479.7h.8v.8h-.8zM516.2 479.7h.8v.8h-.8zM517.0 479.7h.8v.8h-.8zM520.2 479.7h.8v.8h-.8zM512.2 480.5h.8v.8h-.8zM513.8 480.5h.8v.8h-.8zM515.4 480.5h.8v.8h-.8zM516.2 480.5h.8v.8h-.8zM517.0 480.5h.8v.8h-.8zM519.4 480.5h.8v.8h-.8zM508.2 481.3h.8v.8h-.8zM509.0 481.3h.8v.8h-.8zM509.8 481.3h.8v.8h-.8zM510.6 481.3h.8v.8h-.8zM511.4 481.3h.8v.8h-.8zM517.0 481.3h.8v.8h-.8zM507.4 482.1h.8v.8h-.8zM508.2 482.1h.8v.8h-.8zM509.8 482.1h.8v.8h-.8zM517.0 482.1h.8v.8h-.8zM517.8 482.1h.8v.8h-.8zM518.6 482.1h.8v.8h-.8zM519.4 482.1h.8v.8h-.8zM507.4 482.9h.8v.8h-.8zM509.0 482.9h.8v.8h-.8zM513.0 482.9h.8v.8h-.8zM516.2 482.9h.8v.8h-.8zM517.8 482.9h.8v.8h-.8zM518.6 482.9h.8v.8h-.8zM508.2 483.7h.8v.8h-.8zM509.0 483.7h.8v.8h-.8zM511.4 483.7h.8v.8h-.8zM515.4 483.7h.8v.8h-.8zM517.0 483.7h.8v.8h-.8zM518.6 483.7h.8v.8h-.8zM520.2 483.7h.8v.8h-.8zM506.6 484.5h.8v.8h-.8zM508.2 484.5h.8v.8h-.8zM509.0 484.5h.8v.8h-.8zM511.4 484.5h.8v.8h-.8zM516.2 484.5h.8v.8h-.8zM517.8 484.5h.8v.8h-.8zM518.6 484.5h.8v.8h-.8zM507.4 485.3h.8v.8h-.8zM508.2 485.3h.8v.8h-.8zM518.6 485.3h.8v.8h-.8zM506.6 486.1h.8v.8h-.8zM508.2 486.1h.8v.8h-.8zM509.0 486.1h.8v.8h-.8zM509.8 486.1h.8v.8h-.8zM516.2 486.1h.8v.8h-.8zM517.8 486.1h.8v.8h-.8zM519.4 486.1h.8v.8h-.8zM507.4 486.9h.8v.8h-.8zM509.8 486.9h.8v.8h-.8zM516.2 486.9h.8v.8h-.8zM517.8 486.9h.8v.8h-.8zM505.0 487.7h.8v.8h-.8zM517.0 487.7h.8v.8h-.8zM521.8 487.7h.8v.8h-.8zM502.6 488.5h.8v.8h-.8zM505.0 488.5h.8v.8h-.8zM505.8 488.5h.8v.8h-.8zM507.4 488.5h.8v.8h-.8zM513.8 488.5h.8v.8h-.8zM514.6 488.5h.8v.8h-.8zM517.0 488.5h.8v.8h-.8zM518.6 488.5h.8v.8h-.8zM505.0 489.3h.8v.8h-.8zM505.8 489.3h.8v.8h-.8zM507.4 489.3h.8v.8h-.8zM509.0 489.3h.8v.8h-.8zM517.0 489.3h.8v.8h-.8zM517.8 489.3h.8v.8h-.8zM518.6 489.3h.8v.8h-.8zM514.6 490.1h.8v.8h-.8zM517.8 490.1h.8v.8h-.8zM518.6 490.1h.8v.8h-.8zM519.4 490.1h.8v.8h-.8zM502.6 490.9h.8v.8h-.8zM518.6 490.9h.8v.8h-.8zM516.2 491.7h.8v.8h-.8zM517.8 491.7h.8v.8h-.8zM499.4 492.5h.8v.8h-.8zM502.6 492.5h.8v.8h-.8zM503.4 492.5h.8v.8h-.8zM513.8 492.5h.8v.8h-.8zM516.2 492.5h.8v.8h-.8zM517.0 492.5h.8v.8h-.8zM501.8 493.3h.8v.8h-.8zM515.4 493.3h.8v.8h-.8zM519.4 493.3h.8v.8h-.8zM501.0 494.1h.8v.8h-.8zM504.2 494.1h.8v.8h-.8zM516.2 494.1h.8v.8h-.8zM517.8 494.1h.8v.8h-.8zM518.6 494.1h.8v.8h-.8zM501.8 494.9h.8v.8h-.8zM516.2 494.9h.8v.8h-.8zM517.8 494.9h.8v.8h-.8zM499.4 495.7h.8v.8h-.8zM500.2 495.7h.8v.8h-.8zM502.6 495.7h.8v.8h-.8zM517.8 495.7h.8v.8h-.8zM518.6 495.7h.8v.8h-.8zM502.6 496.5h.8v.8h-.8zM513.8 496.5h.8v.8h-.8zM517.0 496.5h.8v.8h-.8zM517.8 496.5h.8v.8h-.8zM518.6 496.5h.8v.8h-.8zM499.4 497.3h.8v.8h-.8zM500.2 497.3h.8v.8h-.8zM501.0 497.3h.8v.8h-.8zM513.8 497.3h.8v.8h-.8zM515.4 497.3h.8v.8h-.8zM496.2 498.1h.8v.8h-.8zM515.4 498.1h.8v.8h-.8zM517.0 498.1h.8v.8h-.8zM497.8 498.9h.8v.8h-.8zM498.6 498.9h.8v.8h-.8zM499.4 498.9h.8v.8h-.8zM513.0 498.9h.8v.8h-.8zM515.4 498.9h.8v.8h-.8zM517.0 498.9h.8v.8h-.8zM497.8 499.7h.8v.8h-.8zM499.4 499.7h.8v.8h-.8zM517.8 499.7h.8v.8h-.8zM497.8 500.5h.8v.8h-.8zM500.2 500.5h.8v.8h-.8zM515.4 500.5h.8v.8h-.8zM496.2 501.3h.8v.8h-.8zM513.0 501.3h.8v.8h-.8zM513.8 501.3h.8v.8h-.8zM515.4 501.3h.8v.8h-.8zM516.2 501.3h.8v.8h-.8zM497.8 502.1h.8v.8h-.8zM513.8 502.1h.8v.8h-.8zM514.6 502.1h.8v.8h-.8zM516.2 502.1h.8v.8h-.8zM496.2 502.9h.8v.8h-.8zM513.0 502.9h.8v.8h-.8zM496.2 503.7h.8v.8h-.8zM497.8 503.7h.8v.8h-.8zM498.6 503.7h.8v.8h-.8zM501.0 503.7h.8v.8h-.8zM513.8 503.7h.8v.8h-.8zM514.6 503.7h.8v.8h-.8zM515.4 503.7h.8v.8h-.8zM497.0 504.5h.8v.8h-.8zM499.4 504.5h.8v.8h-.8zM513.8 504.5h.8v.8h-.8zM515.4 504.5h.8v.8h-.8zM497.8 505.3h.8v.8h-.8zM513.0 505.3h.8v.8h-.8zM514.6 505.3h.8v.8h-.8zM497.0 506.1h.8v.8h-.8zM497.8 506.1h.8v.8h-.8zM513.0 506.1h.8v.8h-.8zM513.8 506.9h.8v.8h-.8zM495.4 507.7h.8v.8h-.8zM513.0 507.7h.8v.8h-.8zM513.8 507.7h.8v.8h-.8zM491.4 508.5h.8v.8h-.8zM513.8 509.3h.8v.8h-.8zM494.6 510.1h.8v.8h-.8zM493.0 510.9h.8v.8h-.8zM493.8 510.9h.8v.8h-.8zM513.8 510.9h.8v.8h-.8zM523.4 510.9h.8v.8h-.8zM491.4 511.7h.8v.8h-.8zM492.2 511.7h.8v.8h-.8zM513.8 511.7h.8v.8h-.8zM490.6 512.5h.8v.8h-.8zM491.4 512.5h.8v.8h-.8zM513.0 512.5h.8v.8h-.8zM487.4 513.3h.8v.8h-.8zM489.0 513.3h.8v.8h-.8zM511.4 513.3h.8v.8h-.8zM512.2 514.1h.8v.8h-.8zM489.0 514.9h.8v.8h-.8zM489.8 514.9h.8v.8h-.8zM486.6 515.7h.8v.8h-.8zM510.6 515.7h.8v.8h-.8zM482.6 516.5h.8v.8h-.8zM487.4 516.5h.8v.8h-.8zM509.8 516.5h.8v.8h-.8zM487.4 517.3h.8v.8h-.8zM489.0 517.3h.8v.8h-.8zM509.0 517.3h.8v.8h-.8zM481.0 518.1h.8v.8h-.8zM485.8 518.1h.8v.8h-.8zM488.2 518.1h.8v.8h-.8zM489.0 518.9h.8v.8h-.8zM483.4 519.7h.8v.8h-.8zM484.2 519.7h.8v.8h-.8zM489.0 519.7h.8v.8h-.8zM505.8 519.7h.8v.8h-.8zM506.6 519.7h.8v.8h-.8zM508.2 519.7h.8v.8h-.8zM485.0 520.5h.8v.8h-.8zM485.8 520.5h.8v.8h-.8zM490.6 520.5h.8v.8h-.8zM494.6 520.5h.8v.8h-.8zM504.2 520.5h.8v.8h-.8z" fill="#000cff" fill-opacity="0.6"/>
<path d="M513.8 476.5h.8v.8h-.8zM515.4 478.1h.8v.8h-.8zM510.6 478.9h.8v.8h-.8zM514.6 478.9h.8v.8h-.8zM510.6 479.7h.8v.8h-.8zM517.8 479.7h.8v.8h-.8zM510.6 480.5h.8v.8h-.8zM511.4 480.5h.8v.8h-.8zM513.0 480.5h.8v.8h-.8zM514.6 480.5h.8v.8h-.8zM517.8 480.5h.8v.8h-.8zM512.2 481.3h.8v.8h-.8zM513.8 481.3h.8v.8h-.8zM514.6 481.3h.8v.8h-.8zM515.4 481.3h.8v.8h-.8zM516.2 481.3h.8v.8h-.8zM510.6 482.1h.8v.8h-.8zM512.2 482.1h.8v.8h-.8zM513.0 482.1h.8v.8h-.8zM513.8 482.1h.8v.8h-.8zM515.4 482.1h.8v.8h-.8zM516.2 482.1h.8v.8h-.8zM509.8 482.9h.8v.8h-.8zM511.4 482.9h.8v.8h-.8zM512.2 482.9h.8v.8h-.8zM513.8 482.9h.8v.8h-.8zM514.6 482.9h.8v.8h-.8zM515.4 482.9h.8v.8h-.8zM510.6 483.7h.8v.8h-.8zM512.2 483.7h.8v.8h-.8zM513.0 483.7h.8v.8h-.8zM513.8 483.7h.8v.8h-.8zM514.6 483.7h.8v.8h-.8zM516.2 483.7h.8v.8h-.8zM509.8 484.5h.8v.8h-.8zM510.6 484.5h.8v.8h-.8zM512.2 484.5h.8v.8h-.8zM513.0 484.5h.8v.8h-.8zM513.8 484.5h.8v.8h-.8zM514.6 484.5h.8v.8h-.8zM515.4 484.5h.8v.8h-.8zM517.0 484.5h.8v.8h-.8zM509.0 485.3h.8v.8h-.8zM509.8 485.3h.8v.8h-.8zM510.6 485.3h.8v.8h-.8zM511.4 485.3h.8v.8h-.8zM512.2 485.3h.8v.8h-.8zM513.0 485.3h.8v.8h-.8zM513.8 485.3h.8v.8h-.8zM514.6 485.3h.8v.8h-.8zM515.4 485.3h.8v.8h-.8zM516.2 485.3h.8v.8h-.8zM517.0 485.3h.8v.8h-.8zM517.8 485.3h.8v.8h-.8zM510.6 486.1h.8v.8h-.8zM511.4 486.1h.8v.8h-.8zM512.2 486.1h.8v.8h-.8zM513.0 486.1h.8v.8h-.8zM513.8 486.1h.8v.8h-.8zM514.6 486.1h.8v.8h-.8zM515.4 486.1h.8v.8h-.8zM517.0 486.1h.8v.8h-.8zM518.6 486.1h.8v.8h-.8zM506.6 486.9h.8v.8h-.8zM509.0 486.9h.8v.8h-.8zM510.6 486.9h.8v.8h-.8zM511.4 486.9h.8v.8h-.8zM512.2 486.9h.8v.8h-.8zM513.0 486.9h.8v.8h-.8zM513.8 486.9h.8v.8h-.8zM514.6 486.9h.8v.8h-.8zM515.4 486.9h.8v.8h-.8zM517.0 486.9h.8v.8h-.8zM505.8 487.7h.8v.8h-.8zM507.4 487.7h.8v.8h-.8zM508.2 487.7h.8v.8h-.8zM509.8 487.7h.8v.8h-.8zM510.6 487.7h.8v.8h-.8zM511.4 487.7h.8v.8h-.8zM512.2 487.7h.8v.8h-.8zM513.0 487.7h.8v.8h-.8zM513.8 487.7h.8v.8h-.8zM514.6 487.7h.8v.8h-.8zM515.4 487.7h.8v.8h-.8zM516.2 487.7h.8v.8h-.8zM517.8 487.7h.8v.8h-.8zM518.6 487.7h.8v.8h-.8zM506.6 488.5h.8v.8h-.8zM508.2 488.5h.8v.8h-.8zM509.0 488.5h.8v.8h-.8zM509.8 488.5h.8v.8h-.8zM510.6 488.5h.8v.8h-.8zM512.2 488.5h.8v.8h-.8zM513.0 488.5h.8v.8h-.8zM515.4 488.5h.8v.8h-.8zM508.2 489.3h.8v.8h-.8zM509.8 489.3h.8v.8h-.8zM512.2 489.3h.8v.8h-.8zM513.0 489.3h.8v.8h-.8zM513.8 489.3h.8v.8h-.8zM514.6 489.3h.8v.8h-.8zM515.4 489.3h.8v.8h-.8zM516.2 489.3h.8v.8h-.8zM505.0 490.1h.8v.8h-.8zM505.8 490.1h.8v.8h-.8zM506.6 490.1h.8v.8h-.8zM507.4 490.1h.8v.8h-.8zM508.2 490.1h.8v.8h-.8zM509.0 490.1h.8v.8h-.8zM512.2 490.1h.8v.8h-.8zM513.0 490.1h.8v.8h-.8zM513.8 490.1h.8v.8h-.8zM515.4 490.1h.8v.8h-.8zM516.2 490.1h.8v.8h-.8zM517.0 490.1h.8v.8h-.8zM504.2 490.9h.8v.8h-.8zM505.0 490.9h.8v.8h-.8zM505.8 490.9h.8v.8h-.8zM507.4 490.9h.8v.8h-.8zM508.2 490.9h.8v.8h-.8zM512.2 490.9h.8v.8h-.8zM513.0 490.9h.8v.8h-.8zM513.8 490.9h.8v.8h-.8zM514.6 490.9h.8v.8h-.8zM515.4 490.9h.8v.8h-.8zM517.0 490.9h.8v.8h-.8zM517.8 490.9h.8v.8h-.8zM504.2 491.7h.8v.8h-.8zM505.0 491.7h.8v.8h-.8zM505.8 491.7h.8v.8h-.8zM506.6 491.7h.8v.8h-.8zM507.4 491.7h.8v.8h-.8zM508.2 491.7h.8v.8h-.8zM512.2 491.7h.8v.8h-.8zM513.0 491.7h.8v.8h-.8zM513.8 491.7h.8v.8h-.8zM514.6 491.7h.8v.8h-.8zM515.4 491.7h.8v.8h-.8zM517.0 491.7h.8v.8h-.8zM504.2 492.5h.8v.8h-.8zM505.0 492.5h.8v.8h-.8zM505.8 492.5h.8v.8h-.8zM506.6 492.5h.8v.8h-.8zM507.4 492.5h.8v.8h-.8zM512.2 492.5h.8v.8h-.8zM514.6 492.5h.8v.8h-.8zM515.4 492.5h.8v.8h-.8zM517.8 492.5h.8v.8h-.8zM501.0 493.3h.8v.8h-.8zM503.4 493.3h.8v.8h-.8zM504.2 493.3h.8v.8h-.8zM505.0 493.3h.8v.8h-.8zM505.8 493.3h.8v.8h-.8zM506.6 493.3h.8v.8h-.8zM512.2 493.3h.8v.8h-.8zM513.0 493.3h.8v.8h-.8zM517.0 493.3h.8v.8h-.8zM501.8 494.1h.8v.8h-.8zM502.6 494.1h.8v.8h-.8zM503.4 494.1h.8v.8h-.8zM505.0 494.1h.8v.8h-.8zM505.8 494.1h.8v.8h-.8zM513.0 494.1h.8v.8h-.8zM513.8 494.1h.8v.8h-.8zM514.6 494.1h.8v.8h-.8zM515.4 494.1h.8v.8h-.8zM502.6 494.9h.8v.8h-.8zM503.4 494.9h.8v.8h-.8zM504.2 494.9h.8v.8h-.8zM505.0 494.9h.8v.8h-.8zM513.0 494.9h.8v.8h-.8zM513.8 494.9h.8v.8h-.8zM515.4 494.9h.8v.8h-.8zM503.4 495.7h.8v.8h-.8zM504.2 495.7h.8v.8h-.8zM513.0 495.7h.8v.8h-.8zM513.8 495.7h.8v.8h-.8zM514.6 495.7h.8v.8h-.8zM499.4 496.5h.8v.8h-.8zM501.0 496.5h.8v.8h-.8zM503.4 496.5h.8v.8h-.8zM504.2 496.5h.8v.8h-.8zM513.0 496.5h.8v.8h-.8zM514.6 496.5h.8v.8h-.8zM516.2 496.5h.8v.8h-.8zM501.8 497.3h.8v.8h-.8zM502.6 497.3h.8v.8h-.8zM503.4 497.3h.8v.8h-.8zM504.2 497.3h.8v.8h-.8zM513.0 497.3h.8v.8h-.8zM514.6 497.3h.8v.8h-.8zM516.2 497.3h.8v.8h-.8zM501.0 498.1h.8v.8h-.8zM502.6 498.1h.8v.8h-.8zM503.4 498.1h.8v.8h-.8zM512.2 498.1h.8v.8h-.8zM513.0 498.1h.8v.8h-.8zM513.8 498.1h.8v.8h-.8zM517.8 498.1h.8v.8h-.8zM501.0 498.9h.8v.8h-.8zM502.6 498.9h.8v.8h-.8zM503.4 498.9h.8v.8h-.8zM512.2 498.9h.8v.8h-.8zM513.8 498.9h.8v.8h-.8zM516.2 498.9h.8v.8h-.8zM501.0 499.7h.8v.8h-.8zM501.8 499.7h.8v.8h-.8zM502.6 499.7h.8v.8h-.8zM512.2 499.7h.8v.8h-.8zM513.0 499.7h.8v.8h-.8zM513.8 499.7h.8v.8h-.8zM516.2 499.7h.8v.8h-.8zM499.4 500.5h.8v.8h-.8zM501.0 500.5h.8v.8h-.8zM501.8 500.5h.8v.8h-.8zM502.6 500.5h.8v.8h-.8zM511.4 500.5h.8v.8h-.8zM512.2 500.5h.8v.8h-.8zM513.8 500.5h.8v.8h-.8zM514.6 500.5h.8v.8h-.8zM516.2 500.5h.8v.8h-.8zM498.6 501.3h.8v.8h-.8zM500.2 501.3h.8v.8h-.8zM501.0 501.3h.8v.8h-.8zM501.8 501.3h.8v.8h-.8zM510.6 501.3h.8v.8h-.8zM512.2 501.3h.8v.8h-.8zM514.6 501.3h.8v.8h-.8zM498.6 502.1h.8v.8h-.8zM499.4 502.1h.8v.8h-.8zM500.2 502.1h.8v.8h-.8zM501.0 502.1h.8v.8h-.8zM501.8 502.1h.8v.8h-.8zM510.6 502.1h.8v.8h-.8zM511.4 502.1h.8v.8h-.8zM512.2 502.1h.8v.8h-.8zM513.0 502.1h.8v.8h-.8zM497.0 502.9h.8v.8h-.8zM498.6 502.9h.8v.8h-.8zM499.4 502.9h.8v.8h-.8zM500.2 502.9h.8v.8h-.8zM501.0 502.9h.8v.8h-.8zM510.6 502.9h.8v.8h-.8zM511.4 502.9h.8v.8h-.8zM512.2 502.9h.8v.8h-.8zM513.8 502.9h.8v.8h-.8zM497.0 503.7h.8v.8h-.8zM499.4 503.7h.8v.8h-.8zM500.2 503.7h.8v.8h-.8zM511.4 503.7h.8v.8h-.8zM512.2 503.7h.8v.8h-.8zM513.0 503.7h.8v.8h-.8zM498.6 504.5h.8v.8h-.8zM500.2 504.5h.8v.8h-.8zM511.4 504.5h.8v.8h-.8zM512.2 504.5h.8v.8h-.8zM513.0 504.5h.8v.8h-.8zM497.0 505.3h.8v.8h-.8zM498.6 505.3h.8v.8h-.8zM499.4 505.3h.8v.8h-.8zM511.4 505.3h.8v.8h-.8zM512.2 505.3h.8v.8h-.8zM513.8 505.3h.8v.8h-.8zM498.6 506.1h.8v.8h-.8zM511.4 506.1h.8v.8h-.8zM512.2 506.1h.8v.8h-.8zM513.8 506.1h.8v.8h-.8zM497.0 506.9h.8v.8h-.8zM497.8 506.9h.8v.8h-.8zM498.6 506.9h.8v.8h-.8zM511.4 506.9h.8v.8h-.8zM512.2 506.9h.8v.8h-.8zM497.0 507.7h.8v.8h-.8zM497.8 507.7h.8v.8h-.8zM512.2 507.7h.8v.8h-.8zM495.4 508.5h.8v.8h-.8zM496.2 508.5h.8v.8h-.8zM497.0 508.5h.8v.8h-.8zM512.2 508.5h.8v.8h-.8zM513.0 508.5h.8v.8h-.8zM495.4 509.3h.8v.8h-.8zM512.2 509.3h.8v.8h-.8zM513.0 509.3h.8v.8h-.8zM512.2 510.1h.8v.8h-.8zM513.0 510.1h.8v.8h-.8zM513.8 510.1h.8v.8h-.8zM512.2 510.9h.8v.8h-.8zM513.0 510.9h.8v.8h-.8zM493.0 511.7h.8v.8h-.8zM512.2 511.7h.8v.8h-.8zM513.0 511.7h.8v.8h-.8zM492.2 512.5h.8v.8h-.8zM511.4 512.5h.8v.8h-.8zM512.2 512.5h.8v.8h-.8zM490.6 513.3h.8v.8h-.8zM491.4 513.3h.8v.8h-.8zM492.2 513.3h.8v.8h-.8zM512.2 513.3h.8v.8h-.8zM491.4 514.1h.8v.8h-.8zM510.6 514.1h.8v.8h-.8zM511.4 514.1h.8v.8h-.8zM490.6 514.9h.8v.8h-.8zM509.8 514.9h.8v.8h-.8zM511.4 514.9h.8v.8h-.8zM487.4 515.7h.8v.8h-.8zM488.2 515.7h.8v.8h-.8zM489.0 515.7h.8v.8h-.8zM489.8 515.7h.8v.8h-.8zM490.6 515.7h.8v.8h-.8zM509.8 515.7h.8v.8h-.8zM488.2 516.5h.8v.8h-.8zM489.0 516.5h.8v.8h-.8zM489.8 516.5h.8v.8h-.8zM509.0 516.5h.8v.8h-.8zM485.8 517.3h.8v.8h-.8zM489.8 517.3h.8v.8h-.8zM490.6 517.3h.8v.8h-.8zM508.2 517.3h.8v.8h-.8zM485.0 518.1h.8v.8h-.8zM487.4 518.1h.8v.8h-.8zM489.0 518.1h.8v.8h-.8zM489.8 518.1h.8v.8h-.8zM490.6 518.1h.8v.8h-.8zM507.4 518.1h.8v.8h-.8zM508.2 518.1h.8v.8h-.8zM485.0 518.9h.8v.8h-.8zM487.4 518.9h.8v.8h-.8zM488.2 518.9h.8v.8h-.8zM489.8 518.9h.8v.8h-.8zM490.6 518.9h.8v.8h-.8zM491.4 518.9h.8v.8h-.8zM505.8 518.9h.8v.8h-.8zM485.8 519.7h.8v.8h-.8zM487.4 519.7h.8v.8h-.8zM488.2 519.7h.8v.8h-.8zM489.8 519.7h.8v.8h-.8zM490.6 519.7h.8v.8h-.8zM491.4 519.7h.8v.8h-.8zM492.2 519.7h.8v.8h-.8zM503.4 519.7h.8v.8h-.8zM504.2 519.7h.8v.8h-.8zM488.2 520.5h.8v.8h-.8zM489.8 520.5h.8v.8h-.8zM491.4 520.5h.8v.8h-.8zM492.2 520.5h.8v.8h-.8zM493.0 520.5h.8v.8h-.8zM495.4 520.5h.8v.8h-.8zM496.2 520.5h.8v.8h-.8zM499.4 520.5h.8v.8h-.8zM500.2 520.5h.8v.8h-.8zM501.0 520.5h.8v.8h-.8zM501.8 520.5h.8v.8h-.8zM503.4 520.5h.8v.8h-.8z" fill="#000cff"/>
<path d="M505.0 495.7h.8v.8h-.8zM505.8 498.1h.8v.8h-.8zM498.6 507.7h.8v.8h-.8zM494.6 510.9h.8v.8h-.8zM492.2 514.1h.8v.8h-.8z" fill="#0059ff" fill-opacity="0.6"/>
<path d="M511.4 488.5h.8v.8h-.8zM510.6 489.3h.8v.8h-.8zM511.4 489.3h.8v.8h-.8zM509.8 490.1h.8v.8h-.8zM510.6 490.1h.8v.8h-.8zM511.4 490.1h.8v.8h-.8zM509.0 490.9h.8v.8h-.8zM509.8 490.9h.8v.8h-.8zM510.6 490.9h.8v.8h-.8zM511.4 490.9h.8v.8h-.8zM509.0 491.7h.8v.8h-.8zM509.8 491.7h.8v.8h-.8zM510.6 491.7h.8v.8h-.8zM508.2 492.5h.8v.8h-.8zM509.0 492.5h.8v.8h-.8zM509.8 492.5h.8v.8h-.8zM510.6 492.5h.8v.8h-.8zM511.4 492.5h.8v.8h-.8zM507.4 493.3h.8v.8h-.8zM508.2 493.3h.8v.8h-.8zM509.0 493.3h.8v.8h-.8zM509.8 493.3h.8v.8h-.8zM510.6 493.3h.8v.8h-.8zM511.4 493.3h.8v.8h-.8zM506.6 494.1h.8v.8h-.8zM507.4 494.1h.8v.8h-.8zM508.2 494.1h.8v.8h-.8zM509.0 494.1h.8v.8h-.8zM509.8 494.1h.8v.8h-.8zM510.6 494.1h.8v.8h-.8zM511.4 494.1h.8v.8h-.8zM505.8 494.9h.8v.8h-.8zM506.6 494.9h.8v.8h-.8zM507.4 494.9h.8v.8h-.8zM508.2 494.9h.8v.8h-.8zM509.0 494.9h.8v.8h-.8zM509.8 494.9h.8v.8h-.8zM510.6 494.9h.8v.8h-.8zM511.4 494.9h.8v.8h-.8zM512.2 494.9h.8v.8h-.8zM505.8 495.7h.8v.8h-.8zM506.6 495.7h.8v.8h-.8zM507.4 495.7h.8v.8h-.8zM508.2 495.7h.8v.8h-.8zM509.0 495.7h.8v.8h-.8zM509.8 495.7h.8v.8h-.8zM510.6 495.7h.8v.8h-.8zM511.4 495.7h.8v.8h-.8zM512.2 495.7h.8v.8h-.8zM505.0 496.5h.8v.8h-.8zM505.8 496.5h.8v.8h-.8zM506.6 496.5h.8v.8h-.8zM507.4 496.5h.8v.8h-.8zM508.2 496.5h.8v.8h-.8zM509.0 496.5h.8v.8h-.8zM509.8 496.5h.8v.8h-.8zM510.6 496.5h.8v.8h-.8zM511.4 496.5h.8v.8h-.8zM512.2 496.5h.8v.8h-.8zM505.0 497.3h.8v.8h-.8zM505.8 497.3h.8v.8h-.8zM506.6 497.3h.8v.8h-.8zM507.4 497.3h.8v.8h-.8zM508.2 497.3h.8v.8h-.8zM509.0 497.3h.8v.8h-.8zM509.8 497.3h.8v.8h-.8zM510.6 497.3h.8v.8h-.8zM511.4 497.3h.8v.8h-.8zM512.2 497.3h.8v.8h-.8zM504.2 498.1h.8v.8h-.8zM505.0 498.1h.8v.8h-.8zM506.6 498.1h.8v.8h-.8zM507.4 498.1h.8v.8h-.8zM508.2 498.1h.8v.8h-.8zM509.0 498.1h.8v.8h-.8zM509.8 498.1h.8v.8h-.8zM510.6 498.1h.8v.8h-.8zM511.4 498.1h.8v.8h-.8zM504.2 498.9h.8v.8h-.8zM505.0 498.9h.8v.8h-.8zM505.8 498.9h.8v.8h-.8zM506.6 498.9h.8v.8h-.8zM507.4 498.9h.8v.8h-.8zM508.2 498.9h.8v.8h-.8zM509.0 498.9h.8v.8h-.8zM509.8 498.9h.8v.8h-.8zM510.6 498.9h.8v.8h-.8zM511.4 498.9h.8v.8h-.8zM503.4 499.7h.8v.8h-.8zM504.2 499.7h.8v.8h-.8zM505.0 499.7h.8v.8h-.8zM505.8 499.7h.8v.8h-.8zM506.6 499.7h.8v.8h-.8zM507.4 499.7h.8v.8h-.8zM508.2 499.7h.8v.8h-.8zM509.0 499.7h.8v.8h-.8zM509.8 499.7h.8v.8h-.8zM510.6 499.7h.8v.8h-.8zM511.4 499.7h.8v.8h-.8zM503.4 500.5h.8v.8h-.8zM504.2 500.5h.8v.8h-.8zM505.0 500.5h.8v.8h-.8zM505.8 500.5h.8v.8h-.8zM506.6 500.5h.8v.8h-.8zM507.4 500.5h.8v.8h-.8zM508.2 500.5h.8v.8h-.8zM509.0 500.5h.8v.8h-.8zM509.8 500.5h.8v.8h-.8zM510.6 500.5h.8v.8h-.8zM502.6 501.3h.8v.8h-.8zM503.4 501.3h.8v.8h-.8zM504.2 501.3h.8v.8h-.8zM505.0 501.3h.8v.8h-.8zM505.8 501.3h.8v.8h-.8zM506.6 501.3h.8v.8h-.8zM507.4 501.3h.8v.8h-.8zM508.2 501.3h.8v.8h-.8zM509.0 501.3h.8v.8h-.8zM509.8 501.3h.8v.8h-.8zM502.6 502.1h.8v.8h-.8zM503.4 502.1h.8v.8h-.8zM504.2 502.1h.8v.8h-.8zM505.0 502.1h.8v.8h-.8zM507.4 502.1h.8v.8h-.8zM508.2 502.1h.8v.8h-.8zM509.0 502.1h.8v.8h-.8zM509.8 502.1h.8v.8h-.8zM502.6 502.9h.8v.8h-.8zM503.4 502.9h.8v.8h-.8zM504.2 502.9h.8v.8h-.8zM508.2 502.9h.8v.8h-.8zM509.0 502.9h.8v.8h-.8zM509.8 502.9h.8v.8h-.8zM501.8 503.7h.8v.8h-.8zM502.6 503.7h.8v.8h-.8zM503.4 503.7h.8v.8h-.8zM508.2 503.7h.8v.8h-.8zM509.0 503.7h.8v.8h-.8zM509.8 503.7h.8v.8h-.8zM510.6 503.7h.8v.8h-.8zM501.0 504.5h.8v.8h-.8zM501.8 504.5h.8v.8h-.8zM502.6 504.5h.8v.8h-.8zM503.4 504.5h.8v.8h-.8zM509.0 504.5h.8v.8h-.8zM509.8 504.5h.8v.8h-.8zM510.6 504.5h.8v.8h-.8zM500.2 505.3h.8v.8h-.8zM501.0 505.3h.8v.8h-.8zM501.8 505.3h.8v.8h-.8zM502.6 505.3h.8v.8h-.8zM509.0 505.3h.8v.8h-.8zM509.8 505.3h.8v.8h-.8zM510.6 505.3h.8v.8h-.8zM499.4 506.1h.8v.8h-.8zM500.2 506.1h.8v.8h-.8zM501.0 506.1h.8v.8h-.8zM501.8 506.1h.8v.8h-.8zM509.8 506.1h.8v.8h-.8zM510.6 506.1h.8v.8h-.8zM499.4 506.9h.8v.8h-.8zM500.2 506.9h.8v.8h-.8zM509.8 506.9h.8v.8h-.8zM510.6 506.9h.8v.8h-.8zM499.4 507.7h.8v.8h-.8zM509.8 507.7h.8v.8h-.8zM510.6 507.7h.8v.8h-.8zM511.4 507.7h.8v.8h-.8zM497.8 508.5h.8v.8h-.8zM498.6 508.5h.8v.8h-.8zM510.6 508.5h.8v.8h-.8zM496.2 509.3h.8v.8h-.8zM497.0 509.3h.8v.8h-.8zM497.8 509.3h.8v.8h-.8zM510.6 509.3h.8v.8h-.8zM511.4 509.3h.8v.8h-.8zM495.4 510.1h.8v.8h-.8zM496.2 510.1h.8v.8h-.8zM510.6 510.1h.8v.8h-.8zM511.4 510.1h.8v.8h-.8zM495.4 510.9h.8v.8h-.8zM510.6 510.9h.8v.8h-.8zM511.4 510.9h.8v.8h-.8zM493.8 511.7h.8v.8h-.8zM494.6 511.7h.8v.8h-.8zM510.6 511.7h.8v.8h-.8zM511.4 511.7h.8v.8h-.8zM493.0 512.5h.8v.8h-.8zM493.8 512.5h.8v.8h-.8zM510.6 512.5h.8v.8h-.8zM493.0 513.3h.8v.8h-.8zM509.8 513.3h.8v.8h-.8zM510.6 513.3h.8v.8h-.8zM493.0 514.1h.8v.8h-.8zM509.0 514.1h.8v.8h-.8zM509.8 514.1h.8v.8h-.8zM491.4 514.9h.8v.8h-.8zM492.2 514.9h.8v.8h-.8zM509.0 514.9h.8v.8h-.8zM491.4 515.7h.8v.8h-.8zM492.2 515.7h.8v.8h-.8zM508.2 515.7h.8v.8h-.8zM509.0 515.7h.8v.8h-.8zM491.4 516.5h.8v.8h-.8zM492.2 516.5h.8v.8h-.8zM507.4 516.5h.8v.8h-.8zM508.2 516.5h.8v.8h-.8zM491.4 517.3h.8v.8h-.8zM492.2 517.3h.8v.8h-.8zM506.6 517.3h.8v.8h-.8zM507.4 517.3h.8v.8h-.8zM491.4 518.1h.8v.8h-.8zM492.2 518.1h.8v.8h-.8zM505.0 518.1h.8v.8h-.8zM505.8 518.1h.8v.8h-.8zM506.6 518.1h.8v.8h-.8zM492.2 518.9h.8v.8h-.8zM493.0 518.9h.8v.8h-.8zM493.8 518.9h.8v.8h-.8zM503.4 518.9h.8v.8h-.8zM504.2 518.9h.8v.8h-.8zM493.0 519.7h.8v.8h-.8zM493.8 519.7h.8v.8h-.8zM494.6 519.7h.8v.8h-.8zM495.4 519.7h.8v.8h-.8zM496.2 519.7h.8v.8h-.8zM497.0 519.7h.8v.8h-.8zM497.8 519.7h.8v.8h-.8zM498.6 519.7h.8v.8h-.8zM499.4 519.7h.8v.8h-.8zM500.2 519.7h.8v.8h-.8zM501.0 519.7h.8v.8h-.8zM501.8 519.7h.8v.8h-.8zM502.6 519.7h.8v.8h-.8zM497.8 520.5h.8v.8h-.8zM498.6 520.5h.8v.8h-.8z" fill="#0059ff"/>
<path d="M505.8 502.1h.8v.8h-.8zM506.6 502.1h.8v.8h-.8zM505.0 502.9h.8v.8h-.8zM505.8 502.9h.8v.8h-.8zM506.6 502.9h.8v.8h-.8zM507.4 502.9h.8v.8h-.8zM504.2 503.7h.8v.8h-.8zM505.0 503.7h.8v.8h-.8zM505.8 503.7h.8v.8h-.8zM506.6 503.7h.8v.8h-.8zM507.4 503.7h.8v.8h-.8zM504.2 504.5h.8v.8h-.8zM505.0 504.5h.8v.8h-.8zM505.8 504.5h.8v.8h-.8zM506.6 504.5h.8v.8h-.8zM507.4 504.5h.8v.8h-.8zM508.2 504.5h.8v.8h-.8zM503.4 505.3h.8v.8h-.8zM504.2 505.3h.8v.8h-.8zM505.0 505.3h.8v.8h-.8zM505.8 505.3h.8v.8h-.8zM506.6 505.3h.8v.8h-.8zM507.4 505.3h.8v.8h-.8zM508.2 505.3h.8v.8h-.8zM502.6 506.1h.8v.8h-.8zM503.4 506.1h.8v.8h-.8zM504.2 506.1h.8v.8h-.8zM506.6 506.1h.8v.8h-.8zM507.4 506.1h.8v.8h-.8zM508.2 506.1h.8v.8h-.8zM509.0 506.1h.8v.8h-.8zM501.0 506.9h.8v.8h-.8zM501.8 506.9h.8v.8h-.8zM508.2 506.9h.8v.8h-.8zM509.0 506.9h.8v.8h-.8zM500.2 507.7h.8v.8h-.8zM501.0 507.7h.8v.8h-.8zM508.2 507.7h.8v.8h-.8zM509.0 507.7h.8v.8h-.8zM499.4 508.5h.8v.8h-.8zM509.0 508.5h.8v.8h-.8zM509.8 508.5h.8v.8h-.8zM498.6 509.3h.8v.8h-.8zM509.0 509.3h.8v.8h-.8zM509.8 509.3h.8v.8h-.8zM497.0 510.1h.8v.8h-.8zM497.8 510.1h.8v.8h-.8zM509.8 510.1h.8v.8h-.8zM496.2 510.9h.8v.8h-.8zM509.8 510.9h.8v.8h-.8zM495.4 511.7h.8v.8h-.8zM509.8 511.7h.8v.8h-.8zM494.6 512.5h.8v.8h-.8zM509.0 512.5h.8v.8h-.8zM509.8 512.5h.8v.8h-.8zM493.8 513.3h.8v.8h-.8zM494.6 513.3h.8v.8h-.8zM509.0 513.3h.8v.8h-.8zM493.8 514.1h.8v.8h-.8zM508.2 514.1h.8v.8h-.8zM493.0 514.9h.8v.8h-.8zM493.8 514.9h.8v.8h-.8zM508.2 514.9h.8v.8h-.8zM493.0 515.7h.8v.8h-.8zM507.4 515.7h.8v.8h-.8zM493.0 516.5h.8v.8h-.8zM506.6 516.5h.8v.8h-.8zM493.0 517.3h.8v.8h-.8zM493.8 517.3h.8v.8h-.8zM505.0 517.3h.8v.8h-.8zM505.8 517.3h.8v.8h-.8zM493.0 518.1h.8v.8h-.8zM493.8 518.1h.8v.8h-.8zM494.6 518.1h.8v.8h-.8zM503.4 518.1h.8v.8h-.8zM504.2 518.1h.8v.8h-.8zM494.6 518.9h.8v.8h-.8zM495.4 518.9h.8v.8h-.8zM496.2 518.9h.8v.8h-.8zM497.0 518.9h.8v.8h-.8zM501.0 518.9h.8v.8h-.8zM501.8 518.9h.8v.8h-.8zM502.6 518.9h.8v.8h-.8z" fill="#00a5ff"/>
<path d="M505.0 506.1h.8v.8h-.8zM505.8 506.1h.8v.8h-.8zM502.6 506.9h.8v.8h-.8zM503.4 506.9h.8v.8h-.8zM504.2 506.9h.8v.8h-.8zM505.0 506.9h.8v.8h-.8zM505.8 506.9h.8v.8h-.8zM506.6 506.9h.8v.8h-.8zM507.4 506.9h.8v.8h-.8zM501.8 507.7h.8v.8h-.8zM502.6 507.7h.8v.8h-.8zM506.6 507.7h.8v.8h-.8zM507.4 507.7h.8v.8h-.8zM500.2 508.5h.8v.8h-.8zM501.0 508.5h.8v.8h-.8zM507.4 508.5h.8v.8h-.8zM508.2 508.5h.8v.8h-.8zM499.4 509.3h.8v.8h-.8zM508.2 509.3h.8v.8h-.8zM498.6 510.1h.8v.8h-.8zM509.0 510.1h.8v.8h-.8zM497.0 510.9h.8v.8h-.8zM497.8 510.9h.8v.8h-.8zM509.0 510.9h.8v.8h-.8zM496.2 511.7h.8v.8h-.8zM509.0 511.7h.8v.8h-.8zM495.4 512.5h.8v.8h-.8zM508.2 512.5h.8v.8h-.8zM495.4 513.3h.8v.8h-.8zM508.2 513.3h.8v.8h-.8zM494.6 514.1h.8v.8h-.8zM507.4 514.1h.8v.8h-.8zM494.6 514.9h.8v.8h-.8zM507.4 514.9h.8v.8h-.8zM493.8 515.7h.8v.8h-.8zM506.6 515.7h.8v.8h-.8zM493.8 516.5h.8v.8h-.8zM505.8 516.5h.8v.8h-.8zM494.6 517.3h.8v.8h-.8zM504.2 517.3h.8v.8h-.8zM495.4 518.1h.8v.8h-.8zM496.2 518.1h.8v.8h-.8zM501.8 518.1h.8v.8h-.8zM502.6 518.1h.8v.8h-.8zM497.8 518.9h.8v.8h-.8zM498.6 518.9h.8v.8h-.8zM499.4 518.9h.8v.8h-.8zM500.2 518.9h.8v.8h-.8z" fill="#00f2ff"/>
<path d="M503.4 507.7h.8v.8h-.8zM504.2 507.7h.8v.8h-.8zM505.0 507.7h.8v.8h-.8zM505.8 507.7h.8v.8h-.8zM501.8 508.5h.8v.8h-.8zM506.6 508.5h.8v.8h-.8zM500.2 509.3h.8v.8h-.8zM501.0 509.3h.8v.8h-.8zM507.4 509.3h.8v.8h-.8zM499.4 510.1h.8v.8h-.8zM508.2 510.1h.8v.8h-.8zM498.6 510.9h.8v.8h-.8zM508.2 510.9h.8v.8h-.8zM497.0 511.7h.8v.8h-.8zM508.2 511.7h.8v.8h-.8zM496.2 512.5h.8v.8h-.8zM507.4 513.3h.8v.8h-.8zM495.4 514.1h.8v.8h-.8zM506.6 514.9h.8v.8h-.8zM494.6 515.7h.8v.8h-.8zM505.8 515.7h.8v.8h-.8zM494.6 516.5h.8v.8h-.8zM495.4 516.5h.8v.8h-.8zM505.0 516.5h.8v.8h-.8zM495.4 517.3h.8v.8h-.8zM503.4 517.3h.8v.8h-.8zM497.0 518.1h.8v.8h-.8zM497.8 518.1h.8v.8h-.8zM498.6 518.1h.8v.8h-.8zM499.4 518.1h.8v.8h-.8zM500.2 518.1h.8v.8h-.8zM501.0 518.1h.8v.8h-.8z" fill="#3fffbf"/>
<path d="M502.6 508.5h.8v.8h-.8zM503.4 508.5h.8v.8h-.8zM504.2 508.5h.8v.8h-.8zM505.0 508.5h.8v.8h-.8zM505.8 508.5h.8v.8h-.8zM501.8 509.3h.8v.8h-.8zM506.6 509.3h.8v.8h-.8zM500.2 510.1h.8v.8h-.8zM507.4 510.1h.8v.8h-.8zM499.4 510.9h.8v.8h-.8zM507.4 510.9h.8v.8h-.8zM497.8 511.7h.8v.8h-.8zM507.4 511.7h.8v.8h-.8zM497.0 512.5h.8v.8h-.8zM507.4 512.5h.8v.8h-.8zM496.2 513.3h.8v.8h-.8zM506.6 513.3h.8v.8h-.8zM496.2 514.1h.8v.8h-.8zM506.6 514.1h.8v.8h-.8zM495.4 514.9h.8v.8h-.8zM505.8 514.9h.8v.8h-.8zM495.4 515.7h.8v.8h-.8zM505.0 515.7h.8v.8h-.8zM496.2 516.5h.8v.8h-.8zM504.2 516.5h.8v.8h-.8zM496.2 517.3h.8v.8h-.8zM497.0 517.3h.8v.8h-.8zM501.8 517.3h.8v.8h-.8zM502.6 517.3h.8v.8h-.8z" fill="#8cff72"/>
<path d="M502.6 509.3h.8v.8h-.8zM503.4 509.3h.8v.8h-.8zM504.2 509.3h.8v.8h-.8zM505.0 509.3h.8v.8h-.8zM505.8 509.3h.8v.8h-.8zM501.0 510.1h.8v.8h-.8zM505.8 510.1h.8v.8h-.8zM506.6 510.1h.8v.8h-.8zM500.2 510.9h.8v.8h-.8zM506.6 510.9h.8v.8h-.8zM498.6 511.7h.8v.8h-.8zM506.6 511.7h.8v.8h-.8zM497.8 512.5h.8v.8h-.8zM506.6 512.5h.8v.8h-.8zM497.0 513.3h.8v.8h-.8zM505.8 514.1h.8v.8h-.8zM496.2 514.9h.8v.8h-.8zM505.0 514.9h.8v.8h-.8zM496.2 515.7h.8v.8h-.8zM504.2 515.7h.8v.8h-.8zM497.0 516.5h.8v.8h-.8zM502.6 516.5h.8v.8h-.8zM503.4 516.5h.8v.8h-.8zM497.8 517.3h.8v.8h-.8zM498.6 517.3h.8v.8h-.8zM499.4 517.3h.8v.8h-.8zM500.2 517.3h.8v.8h-.8zM501.0 517.3h.8v.8h-.8z" fill="#d8ff26"/>
<path d="M501.8 510.1h.8v.8h-.8zM502.6 510.1h.8v.8h-.8zM505.0 510.1h.8v.8h-.8zM501.0 510.9h.8v.8h-.8zM505.8 510.9h.8v.8h-.8zM499.4 511.7h.8v.8h-.8zM498.6 512.5h.8v.8h-.8zM505.8 512.5h.8v.8h-.8zM497.8 513.3h.8v.8h-.8zM505.8 513.3h.8v.8h-.8zM497.0 514.1h.8v.8h-.8zM505.0 514.1h.8v.8h-.8zM497.0 514.9h.8v.8h-.8zM497.0 515.7h.8v.8h-.8zM503.4 515.7h.8v.8h-.8zM497.8 516.5h.8v.8h-.8zM501.8 516.5h.8v.8h-.8z" fill="#ffd800"/>
<path d="M503.4 510.1h.8v.8h-.8zM504.2 510.1h.8v.8h-.8zM501.8 510.9h.8v.8h-.8zM505.0 510.9h.8v.8h-.8zM500.2 511.7h.8v.8h-.8zM505.8 511.7h.8v.8h-.8zM499.4 512.5h.8v.8h-.8zM498.6 513.3h.8v.8h-.8zM505.0 513.3h.8v.8h-.8zM497.8 514.1h.8v.8h-.8zM497.8 514.9h.8v.8h-.8zM504.2 514.9h.8v.8h-.8zM497.8 515.7h.8v.8h-.8zM502.6 515.7h.8v.8h-.8zM498.6 516.5h.8v.8h-.8zM499.4 516.5h.8v.8h-.8zM500.2 516.5h.8v.8h-.8zM501.0 516.5h.8v.8h-.8z" fill="#ff8c00"/>
<path d="M502.6 510.9h.8v.8h-.8zM503.4 510.9h.8v.8h-.8zM504.2 510.9h.8v.8h-.8zM501.0 511.7h.8v.8h-.8zM505.0 511.7h.8v.8h-.8zM500.2 512.5h.8v.8h-.8zM505.0 512.5h.8v.8h-.8zM499.4 513.3h.8v.8h-.8zM498.6 514.1h.8v.8h-.8zM504.2 514.1h.8v.8h-.8zM498.6 514.9h.8v.8h-.8zM503.4 514.9h.8v.8h-.8zM498.6 515.7h.8v.8h-.8zM499.4 515.7h.8v.8h-.8zM500.2 515.7h.8v.8h-.8zM501.0 515.7h.8v.8h-.8zM501.8 515.7h.8v.8h-.8z" fill="#ff3f00"/>
<path d="M501.8 511.7h.8v.8h-.8zM502.6 511.7h.8v.8h-.8zM503.4 511.7h.8v.8h-.8zM504.2 511.7h.8v.8h-.8zM501.0 512.5h.8v.8h-.8zM504.2 512.5h.8v.8h-.8zM500.2 513.3h.8v.8h-.8zM504.2 513.3h.8v.8h-.8zM499.4 514.1h.8v.8h-.8zM503.4 514.1h.8v.8h-.8zM499.4 514.9h.8v.8h-.8zM500.2 514.9h.8v.8h-.8zM501.8 514.9h.8v.8h-.8zM502.6 514.9h.8v.8h-.8z" fill="#f20000"/>
<path d="M501.8 512.5h.8v.8h-.8zM502.6 512.5h.8v.8h-.8zM503.4 512.5h.8v.8h-.8zM501.0 513.3h.8v.8h-.8zM501.8 513.3h.8v.8h-.8zM502.6 513.3h.8v.8h-.8zM503.4 513.3h.8v.8h-.8zM500.2 514.1h.8v.8h-.8zM501.0 514.1h.8v.8h-.8zM501.8 514.1h.8v.8h-.8zM502.6 514.1h.8v.8h-.8zM501.0 514.9h.8v.8h-.8z" fill="#a50000"/>
<path d="M469.8 521.5V458.9H518.6L499.9 521.5" fill="none" stroke="#a8a8a8" stroke-width="0.6"/>
<path d="M505.6 521.5L523.3 458.9H543.2V521.5" fill="none" stroke="#a8a8a8" stroke-width="0.6"/>
<line x1="468" y1="446.7" x2="468" y2="522" stroke="#555" stroke-width="0.8"/>
<line x1="468" y1="522" x2="544.8" y2="522" stroke="#555" stroke-width="0.8"/>
<line x1="465.8" y1="522" x2="468" y2="522" stroke="#555" stroke-width="0.7"/>
<line x1="466.8" y1="517.29" x2="468" y2="517.29" stroke="#777" stroke-width="0.5"/>
<line x1="466.8" y1="512.59" x2="468" y2="512.59" stroke="#777" stroke-width="0.5"/>
<line x1="466.8" y1="507.88" x2="468" y2="507.88" stroke="#777" stroke-width="0.5"/>
<text x="461.9" y="529" font-size="8.6" text-anchor="middle" fill="#1a1a1a">0</text>
<line x1="465.8" y1="503.18" x2="468" y2="503.18" stroke="#555" stroke-width="0.7"/>
<line x1="466.8" y1="498.47" x2="468" y2="498.47" stroke="#777" stroke-width="0.5"/>
<line x1="466.8" y1="493.76" x2="468" y2="493.76" stroke="#777" stroke-width="0.5"/>
<line x1="466.8" y1="489.06" x2="468" y2="489.06" stroke="#777" stroke-width="0.5"/>
<text x="465.4" y="506.07" font-size="8" text-anchor="end" fill="#1a1a1a">30K</text>
<line x1="465.8" y1="484.35" x2="468" y2="484.35" stroke="#555" stroke-width="0.7"/>
<line x1="466.8" y1="479.64" x2="468" y2="479.64" stroke="#777" stroke-width="0.5"/>
<line x1="466.8" y1="474.94" x2="468" y2="474.94" stroke="#777" stroke-width="0.5"/>
<line x1="466.8" y1="470.23" x2="468" y2="470.23" stroke="#777" stroke-width="0.5"/>
<text x="465.4" y="487.25" font-size="8" text-anchor="end" fill="#1a1a1a">60K</text>
<line x1="465.8" y1="465.52" x2="468" y2="465.52" stroke="#555" stroke-width="0.7"/>
<line x1="466.8" y1="460.82" x2="468" y2="460.82" stroke="#777" stroke-width="0.5"/>
<line x1="466.8" y1="456.11" x2="468" y2="456.11" stroke="#777" stroke-width="0.5"/>
<line x1="466.8" y1="451.41" x2="468" y2="451.41" stroke="#777" stroke-width="0.5"/>
<text x="465.4" y="468.42" font-size="8" text-anchor="end" fill="#1a1a1a">90K</text>
<line x1="465.8" y1="446.7" x2="468" y2="446.7" stroke="#555" stroke-width="0.7"/>
<text x="465.4" y="449.6" font-size="8" text-anchor="end" fill="#1a1a1a">120K</text>
<line x1="468.69" y1="522" x2="468.69" y2="523.2" stroke="#666" stroke-width="0.5"/>
<line x1="470.91" y1="522" x2="470.91" y2="523.2" stroke="#666" stroke-width="0.5"/>
<line x1="472.72" y1="522" x2="472.72" y2="523.2" stroke="#666" stroke-width="0.5"/>
<line x1="474.25" y1="522" x2="474.25" y2="523.2" stroke="#666" stroke-width="0.5"/>
<line x1="475.58" y1="522" x2="475.58" y2="523.2" stroke="#666" stroke-width="0.5"/>
<line x1="476.75" y1="522" x2="476.75" y2="523.2" stroke="#666" stroke-width="0.5"/>
<line x1="477.8" y1="522" x2="477.8" y2="524.2" stroke="#666" stroke-width="0.7"/>
<line x1="484.69" y1="522" x2="484.69" y2="523.2" stroke="#666" stroke-width="0.5"/>
<line x1="488.73" y1="522" x2="488.73" y2="523.2" stroke="#666" stroke-width="0.5"/>
<line x1="491.59" y1="522" x2="491.59" y2="523.2" stroke="#666" stroke-width="0.5"/>
<line x1="493.81" y1="522" x2="493.81" y2="523.2" stroke="#666" stroke-width="0.5"/>
<line x1="495.62" y1="522" x2="495.62" y2="523.2" stroke="#666" stroke-width="0.5"/>
<line x1="497.15" y1="522" x2="497.15" y2="523.2" stroke="#666" stroke-width="0.5"/>
<line x1="498.48" y1="522" x2="498.48" y2="523.2" stroke="#666" stroke-width="0.5"/>
<line x1="499.65" y1="522" x2="499.65" y2="523.2" stroke="#666" stroke-width="0.5"/>
<line x1="500.7" y1="522" x2="500.7" y2="524.2" stroke="#666" stroke-width="0.7"/>
<line x1="507.59" y1="522" x2="507.59" y2="523.2" stroke="#666" stroke-width="0.5"/>
<line x1="511.63" y1="522" x2="511.63" y2="523.2" stroke="#666" stroke-width="0.5"/>
<line x1="514.49" y1="522" x2="514.49" y2="523.2" stroke="#666" stroke-width="0.5"/>
<line x1="516.71" y1="522" x2="516.71" y2="523.2" stroke="#666" stroke-width="0.5"/>
<line x1="518.52" y1="522" x2="518.52" y2="523.2" stroke="#666" stroke-width="0.5"/>
<line x1="520.05" y1="522" x2="520.05" y2="523.2" stroke="#666" stroke-width="0.5"/>
<line x1="521.38" y1="522" x2="521.38" y2="523.2" stroke="#666" stroke-width="0.5"/>
<line x1="522.55" y1="522" x2="522.55" y2="523.2" stroke="#666" stroke-width="0.5"/>
<line x1="523.6" y1="522" x2="523.6" y2="524.2" stroke="#666" stroke-width="0.7"/>
<line x1="530.49" y1="522" x2="530.49" y2="523.2" stroke="#666" stroke-width="0.5"/>
<line x1="534.53" y1="522" x2="534.53" y2="523.2" stroke="#666" stroke-width="0.5"/>
<line x1="537.39" y1="522" x2="537.39" y2="523.2" stroke="#666" stroke-width="0.5"/>
<line x1="539.61" y1="522" x2="539.61" y2="523.2" stroke="#666" stroke-width="0.5"/>
<line x1="541.42" y1="522" x2="541.42" y2="523.2" stroke="#666" stroke-width="0.5"/>
<line x1="542.95" y1="522" x2="542.95" y2="523.2" stroke="#666" stroke-width="0.5"/>
<line x1="544.28" y1="522" x2="544.28" y2="523.2" stroke="#666" stroke-width="0.5"/>
<text x="478.8" y="532.2" font-size="7.8" text-anchor="middle" fill="#222">10<tspan font-size="4.6" dy="-3">2</tspan></text>
<text x="501.7" y="532.2" font-size="7.8" text-anchor="middle" fill="#222">10<tspan font-size="4.6" dy="-3">3</tspan></text>
<text x="524.6" y="532.2" font-size="7.8" text-anchor="middle" fill="#222">10<tspan font-size="4.6" dy="-3">4</tspan></text>
<text x="473.4" y="467.7" font-size="6.2" fill="#222">ALDH<tspan font-size="4.2" dy="-2.5">lo</tspan></text>
<text x="514.8" y="515.3" font-size="8.4" fill="#222">ALDH<tspan font-size="4.8" dy="-3.2">hi</tspan></text>
<text x="409" y="350.4" font-size="10.2" text-anchor="middle" fill="#1a1a1a">DEAB+</text>
<text x="507.4" y="350.4" font-size="10.2" text-anchor="middle" fill="#1a1a1a">DEAB-</text>
<text transform="translate(346.57,388.3) rotate(-90)" font-size="10.2" text-anchor="middle" fill="#1a1a1a">shCtrl</text>
<text transform="translate(346.47,478.5) rotate(-90)" font-size="10.2" text-anchor="middle" fill="#1a1a1a">shTLK2</text>
<text transform="translate(344.42,527) rotate(-90)" font-size="9.5" text-anchor="middle" fill="#1a1a1a">SSC-A</text>
<path d="M349.7 518.5V537.6H370.5" fill="none" stroke="#333" stroke-width="0.9"/>
<path d="M347.6 519.2L349.7 514.2L351.8 519.2Z" fill="#333"/>
<path d="M370.0 535.5L375.0 537.6L370.0 539.7Z" fill="#333"/>
<text x="350.4" y="551.2" font-size="9.1" fill="#1a1a1a">ALDEFLUOR</text>
<line x1="587" y1="502.7" x2="587" y2="384.3" stroke="#3a3a3a" stroke-width="0.8"/>
<line x1="584" y1="502.7" x2="587" y2="502.7" stroke="#3a3a3a" stroke-width="0.8"/>
<text x="582.4" y="506.72" font-size="9.81" text-anchor="end" fill="#1a1a1a" textLength="12.51" lengthAdjust="spacingAndGlyphs">0.0</text>
<line x1="585.4" y1="492.83" x2="587" y2="492.83" stroke="#3a3a3a" stroke-width="0.8"/>
<line x1="584" y1="482.97" x2="587" y2="482.97" stroke="#3a3a3a" stroke-width="0.8"/>
<text x="582.4" y="486.99" font-size="9.81" text-anchor="end" fill="#1a1a1a" textLength="12.51" lengthAdjust="spacingAndGlyphs">1.0</text>
<line x1="585.4" y1="473.1" x2="587" y2="473.1" stroke="#3a3a3a" stroke-width="0.8"/>
<line x1="584" y1="463.23" x2="587" y2="463.23" stroke="#3a3a3a" stroke-width="0.8"/>
<text x="582.4" y="467.26" font-size="9.81" text-anchor="end" fill="#1a1a1a" textLength="12.51" lengthAdjust="spacingAndGlyphs">2.0</text>
<line x1="585.4" y1="453.37" x2="587" y2="453.37" stroke="#3a3a3a" stroke-width="0.8"/>
<line x1="584" y1="443.5" x2="587" y2="443.5" stroke="#3a3a3a" stroke-width="0.8"/>
<text x="582.4" y="447.52" font-size="9.81" text-anchor="end" fill="#1a1a1a" textLength="12.51" lengthAdjust="spacingAndGlyphs">3.0</text>
<line x1="585.4" y1="433.63" x2="587" y2="433.63" stroke="#3a3a3a" stroke-width="0.8"/>
<line x1="584" y1="423.77" x2="587" y2="423.77" stroke="#3a3a3a" stroke-width="0.8"/>
<text x="582.4" y="427.79" font-size="9.81" text-anchor="end" fill="#1a1a1a" textLength="12.51" lengthAdjust="spacingAndGlyphs">4.0</text>
<line x1="585.4" y1="413.9" x2="587" y2="413.9" stroke="#3a3a3a" stroke-width="0.8"/>
<line x1="584" y1="404.03" x2="587" y2="404.03" stroke="#3a3a3a" stroke-width="0.8"/>
<text x="582.4" y="408.06" font-size="9.81" text-anchor="end" fill="#1a1a1a" textLength="12.51" lengthAdjust="spacingAndGlyphs">5.0</text>
<line x1="585.4" y1="394.17" x2="587" y2="394.17" stroke="#3a3a3a" stroke-width="0.8"/>
<line x1="584" y1="384.3" x2="587" y2="384.3" stroke="#3a3a3a" stroke-width="0.8"/>
<text x="582.4" y="388.32" font-size="9.81" text-anchor="end" fill="#1a1a1a" textLength="12.51" lengthAdjust="spacingAndGlyphs">6.0</text>
<text transform="translate(566.47,442.5) rotate(-90)" font-size="10.2" text-anchor="middle" fill="#1a1a1a">ALDH positive cells %</text>
<line x1="597.3" y1="509.4" x2="681.1" y2="509.4" stroke="#3a3a3a" stroke-width="0.8"/>
<line x1="597.3" y1="509.4" x2="597.3" y2="512" stroke="#3a3a3a" stroke-width="0.8"/>
<text x="597.3" y="523.8" font-size="9.2" text-anchor="middle" fill="#1a1a1a">0</text>
<line x1="610.12" y1="509.4" x2="610.12" y2="512" stroke="#3a3a3a" stroke-width="0.8"/>
<text x="610.12" y="523.8" font-size="9.2" text-anchor="middle" fill="#1a1a1a">1</text>
<line x1="622.94" y1="509.4" x2="622.94" y2="512" stroke="#3a3a3a" stroke-width="0.8"/>
<text x="622.94" y="523.8" font-size="9.2" text-anchor="middle" fill="#1a1a1a">2</text>
<line x1="635.76" y1="509.4" x2="635.76" y2="512" stroke="#3a3a3a" stroke-width="0.8"/>
<text x="635.76" y="523.8" font-size="9.2" text-anchor="middle" fill="#1a1a1a">3</text>
<line x1="648.58" y1="509.4" x2="648.58" y2="512" stroke="#3a3a3a" stroke-width="0.8"/>
<text x="648.58" y="523.8" font-size="9.2" text-anchor="middle" fill="#1a1a1a">4</text>
<line x1="661.4" y1="509.4" x2="661.4" y2="512" stroke="#3a3a3a" stroke-width="0.8"/>
<text x="661.4" y="523.8" font-size="9.2" text-anchor="middle" fill="#1a1a1a">5</text>
<line x1="674.22" y1="509.4" x2="674.22" y2="512" stroke="#3a3a3a" stroke-width="0.8"/>
<text x="674.22" y="523.8" font-size="9.2" text-anchor="middle" fill="#1a1a1a">6</text>
<text x="639.3" y="535.6" font-size="10.2" text-anchor="middle" fill="#1a1a1a">Time (day)</text>
<polyline points="597.3,502.7 622.94,490.86 635.76,485.93 648.58,481.98 661.4,476.06 674.22,467.57" fill="none" stroke="#f29467" stroke-width="0.9"/>
<rect x="595" y="500.4" width="4.6" height="4.6" fill="#fff" stroke="#f29467" stroke-width="0.8"/>
<line x1="622.94" y1="486.91" x2="622.94" y2="494.81" stroke="#f29467" stroke-width="0.8"/>
<line x1="620.34" y1="486.91" x2="625.54" y2="486.91" stroke="#f29467" stroke-width="0.8"/>
<line x1="620.34" y1="494.81" x2="625.54" y2="494.81" stroke="#f29467" stroke-width="0.8"/>
<rect x="620.64" y="488.56" width="4.6" height="4.6" fill="#fff" stroke="#f29467" stroke-width="0.8"/>
<line x1="635.76" y1="480.99" x2="635.76" y2="490.86" stroke="#f29467" stroke-width="0.8"/>
<line x1="633.16" y1="480.99" x2="638.36" y2="480.99" stroke="#f29467" stroke-width="0.8"/>
<line x1="633.16" y1="490.86" x2="638.36" y2="490.86" stroke="#f29467" stroke-width="0.8"/>
<rect x="633.46" y="483.63" width="4.6" height="4.6" fill="#fff" stroke="#f29467" stroke-width="0.8"/>
<rect x="646.28" y="479.68" width="4.6" height="4.6" fill="#fff" stroke="#f29467" stroke-width="0.8"/>
<line x1="661.4" y1="470.53" x2="661.4" y2="481.59" stroke="#f29467" stroke-width="0.8"/>
<line x1="658.8" y1="470.53" x2="664" y2="470.53" stroke="#f29467" stroke-width="0.8"/>
<line x1="658.8" y1="481.59" x2="664" y2="481.59" stroke="#f29467" stroke-width="0.8"/>
<rect x="659.1" y="473.76" width="4.6" height="4.6" fill="#fff" stroke="#f29467" stroke-width="0.8"/>
<line x1="674.22" y1="460.67" x2="674.22" y2="474.48" stroke="#f29467" stroke-width="0.8"/>
<line x1="671.62" y1="460.67" x2="676.82" y2="460.67" stroke="#f29467" stroke-width="0.8"/>
<line x1="671.62" y1="474.48" x2="676.82" y2="474.48" stroke="#f29467" stroke-width="0.8"/>
<rect x="671.92" y="465.27" width="4.6" height="4.6" fill="#fff" stroke="#f29467" stroke-width="0.8"/>
<polyline points="597.3,502.7 622.94,448.43 635.76,406.01 648.58,404.63 661.4,404.03 674.22,404.03" fill="none" stroke="#35a9ae" stroke-width="0.9"/>
<circle cx="597.3" cy="502.7" r="2.4" fill="#fff" stroke="#35a9ae" stroke-width="0.8"/>
<line x1="622.94" y1="444.49" x2="622.94" y2="452.38" stroke="#35a9ae" stroke-width="0.8"/>
<line x1="620.34" y1="444.49" x2="625.54" y2="444.49" stroke="#35a9ae" stroke-width="0.8"/>
<line x1="620.34" y1="452.38" x2="625.54" y2="452.38" stroke="#35a9ae" stroke-width="0.8"/>
<circle cx="622.94" cy="448.43" r="2.4" fill="#fff" stroke="#35a9ae" stroke-width="0.8"/>
<line x1="635.76" y1="397.13" x2="635.76" y2="414.89" stroke="#35a9ae" stroke-width="0.8"/>
<line x1="633.16" y1="397.13" x2="638.36" y2="397.13" stroke="#35a9ae" stroke-width="0.8"/>
<line x1="633.16" y1="414.89" x2="638.36" y2="414.89" stroke="#35a9ae" stroke-width="0.8"/>
<circle cx="635.76" cy="406.01" r="2.4" fill="#fff" stroke="#35a9ae" stroke-width="0.8"/>
<line x1="648.58" y1="399.69" x2="648.58" y2="409.56" stroke="#35a9ae" stroke-width="0.8"/>
<line x1="645.98" y1="399.69" x2="651.18" y2="399.69" stroke="#35a9ae" stroke-width="0.8"/>
<line x1="645.98" y1="409.56" x2="651.18" y2="409.56" stroke="#35a9ae" stroke-width="0.8"/>
<circle cx="648.58" cy="404.63" r="2.4" fill="#fff" stroke="#35a9ae" stroke-width="0.8"/>
<line x1="661.4" y1="396.14" x2="661.4" y2="411.93" stroke="#35a9ae" stroke-width="0.8"/>
<line x1="658.8" y1="396.14" x2="664" y2="396.14" stroke="#35a9ae" stroke-width="0.8"/>
<line x1="658.8" y1="411.93" x2="664" y2="411.93" stroke="#35a9ae" stroke-width="0.8"/>
<circle cx="661.4" cy="404.03" r="2.4" fill="#fff" stroke="#35a9ae" stroke-width="0.8"/>
<line x1="674.22" y1="394.76" x2="674.22" y2="413.31" stroke="#35a9ae" stroke-width="0.8"/>
<line x1="671.62" y1="394.76" x2="676.82" y2="394.76" stroke="#35a9ae" stroke-width="0.8"/>
<line x1="671.62" y1="413.31" x2="676.82" y2="413.31" stroke="#35a9ae" stroke-width="0.8"/>
<circle cx="674.22" cy="404.03" r="2.4" fill="#fff" stroke="#35a9ae" stroke-width="0.8"/>
<text x="623.34" y="482.29" font-size="9.4" text-anchor="middle" fill="#1a1a1a" letter-spacing="0.8">***</text>
<text x="636.16" y="476.39" font-size="9.4" text-anchor="middle" fill="#1a1a1a" letter-spacing="0.8">**</text>
<text x="648.98" y="472.49" font-size="9.4" text-anchor="middle" fill="#1a1a1a" letter-spacing="0.8">***</text>
<text x="661.8" y="464.59" font-size="9.4" text-anchor="middle" fill="#1a1a1a" letter-spacing="0.8">***</text>
<text x="674.62" y="456.69" font-size="9.4" text-anchor="middle" fill="#1a1a1a" letter-spacing="0.8">**</text>
<line x1="596.9" y1="366.2" x2="607.2" y2="366.2" stroke="#35a9ae" stroke-width="0.9"/>
<circle cx="602" cy="366.2" r="1.6" fill="#fff" stroke="#35a9ae" stroke-width="0.8"/>
<text x="610.1" y="369.7" font-size="9.4" fill="#1a1a1a">shCtrl ALDH<tspan font-size="5.5" dy="-3.2">lo</tspan></text>
<line x1="596.9" y1="378.6" x2="607.2" y2="378.6" stroke="#f29467" stroke-width="0.9"/>
<rect x="600.3" y="376.9" width="3.4" height="3.4" fill="#fff" stroke="#f29467" stroke-width="0.8"/>
<text x="610.1" y="382.1" font-size="9.4" fill="#1a1a1a">shTLK2 ALDH<tspan font-size="5.5" dy="-3.2">lo</tspan></text>
<text x="0" y="583.6" font-size="14.5" font-weight="bold" fill="#000">g</text>
<text x="46.8" y="603.6" font-size="10.2" fill="#1a1a1a">shTLK2</text>
<text x="46.8" y="616" font-size="10.2" fill="#1a1a1a">(mRuby3)</text>
<text x="48.6" y="666.7" font-size="10.2" fill="#1a1a1a">shCtrl</text>
<text x="48.6" y="679" font-size="10.2" fill="#1a1a1a">(mNeonGreen)</text>
<circle cx="109.8" cy="598.9" r="4.2" fill="#f0965f" fill-opacity="0.82"/>
<circle cx="120.3" cy="602.1" r="4.2" fill="#f0965f" fill-opacity="0.82"/>
<circle cx="103" cy="606.8" r="4.2" fill="#f0965f" fill-opacity="0.82"/>
<circle cx="112.5" cy="606.3" r="4.2" fill="#f0965f" fill-opacity="0.82"/>
<circle cx="123.5" cy="610.7" r="4.2" fill="#f0965f" fill-opacity="0.82"/>
<circle cx="105.1" cy="611.5" r="4.2" fill="#f0965f" fill-opacity="0.82"/>
<circle cx="114.3" cy="615.2" r="4.2" fill="#f0965f" fill-opacity="0.82"/>
<circle cx="109" cy="648.8" r="4.2" fill="#2aa7aa" fill-opacity="0.82"/>
<circle cx="119.5" cy="650.9" r="4.2" fill="#2aa7aa" fill-opacity="0.82"/>
<circle cx="102.5" cy="656.2" r="4.2" fill="#2aa7aa" fill-opacity="0.82"/>
<circle cx="111.7" cy="655.4" r="4.2" fill="#2aa7aa" fill-opacity="0.82"/>
<circle cx="122.2" cy="659.9" r="4.2" fill="#2aa7aa" fill-opacity="0.82"/>
<circle cx="104.6" cy="660.6" r="4.2" fill="#2aa7aa" fill-opacity="0.82"/>
<circle cx="113.5" cy="664.6" r="4.2" fill="#2aa7aa" fill-opacity="0.82"/>
<path d="M127.4 610.7H137.2V658H127.4M137.2 634.4H146" fill="none" stroke="#333" stroke-width="0.9"/>
<path transform="translate(148.8,634.4) rotate(0)" d="M0 0L-6.5 -3.3L-4.55 0L-6.5 3.3Z" fill="#2a1a1a"/>
<circle cx="156.6" cy="629.9" r="3.4" fill="#f0965f" fill-opacity="0.85"/>
<circle cx="163.4" cy="625.5" r="3.4" fill="#f0965f" fill-opacity="0.85"/>
<circle cx="172.7" cy="627.8" r="3.4" fill="#f0965f" fill-opacity="0.85"/>
<circle cx="157.5" cy="635.7" r="3.4" fill="#f0965f" fill-opacity="0.85"/>
<circle cx="164.8" cy="632.8" r="3.4" fill="#f0965f" fill-opacity="0.85"/>
<circle cx="171.5" cy="634.8" r="3.4" fill="#f0965f" fill-opacity="0.85"/>
<circle cx="159.6" cy="639.5" r="3.4" fill="#f0965f" fill-opacity="0.85"/>
<circle cx="173" cy="638.3" r="3.4" fill="#f0965f" fill-opacity="0.85"/>
<circle cx="168.3" cy="623.4" r="3.4" fill="#2aa7aa" fill-opacity="0.85"/>
<circle cx="165.7" cy="639.2" r="3.4" fill="#2aa7aa" fill-opacity="0.85"/>
<text x="148.8" y="613.8" font-size="10.2" fill="#1a1a1a">Mix 4:1</text>
<path d="M184.3 634.4H189.2M201 606.8H189.2V662.5H203" fill="none" stroke="#333" stroke-width="0.9"/>
<path transform="translate(202.6,606.8) rotate(0)" d="M0 0L-4.5 -2.3L-3.15 0L-4.5 2.3Z" fill="#2a1a1a"/>
<path transform="translate(204.6,662.5) rotate(0)" d="M0 0L-4.5 -2.3L-3.15 0L-4.5 2.3Z" fill="#2a1a1a"/>
<ellipse cx="213.5" cy="607.2" rx="9.4" ry="3.6" fill="#f3a887" stroke="#c9785a" stroke-width="0.5"/>
<ellipse cx="213.5" cy="606.6" rx="6" ry="1.4" fill="#e8875e"/>
<path d="M204.1 603.6V607.2M222.9 603.6V607.2" stroke="#444" stroke-width="0.5"/>
<ellipse cx="213.5" cy="603.6" rx="9.4" ry="3.3" fill="none" stroke="#444" stroke-width="0.6"/>
<text x="186.7" y="589.6" font-size="10.3" fill="#1a1a1a">2D culture</text>
<path d="M226.7 606.5H236V662.3H226.7M236 633.3H243" fill="none" stroke="#333" stroke-width="0.9"/>
<path transform="translate(247.2,633.3) rotate(0)" d="M0 0L-7.2 -3.2L-5.04 0L-7.2 3.2Z" fill="#2a1a1a"/>
<circle cx="211" cy="660.3" r="2.9" fill="#dc5f72" fill-opacity="0.8"/>
<circle cx="217.1" cy="658.6" r="2.9" fill="#dc5f72" fill-opacity="0.8"/>
<circle cx="219.4" cy="664.2" r="2.9" fill="#dc5f72" fill-opacity="0.8"/>
<circle cx="211" cy="666.5" r="2.9" fill="#dc5f72" fill-opacity="0.8"/>
<circle cx="216.6" cy="667.6" r="2.9" fill="#dc5f72" fill-opacity="0.8"/>
<circle cx="213.8" cy="663.1" r="2.9" fill="#dc5f72" fill-opacity="0.8"/>
<text x="178" y="686.4" font-size="10.3" fill="#1a1a1a">3D sphere cluture</text>
<text x="249.5" y="600" font-size="10.3" fill="#1a1a1a">Flow Cytometry</text>
<path d="M273.4 616V645.3H303" fill="none" stroke="#444" stroke-width="1"/>
<path d="M271.4 617.4L273.4 612L275.4 617.4Z" fill="#222"/>
<path d="M302 643.3L307.3 645.3L302 647.3Z" fill="#222"/>
<text transform="translate(268.34,631.7) rotate(-90)" font-size="9" text-anchor="middle" fill="#1a1a1a">RFP</text>
<text x="286.7" y="655.8" font-size="9" text-anchor="middle" fill="#1a1a1a">GFP</text>
<circle cx="280.8" cy="619.4" r="0.55" fill="#f07a45"/>
<circle cx="283" cy="617.3" r="0.55" fill="#f07a45"/>
<circle cx="286.1" cy="616.2" r="0.55" fill="#f07a45"/>
<circle cx="287.8" cy="618.1" r="0.55" fill="#f07a45"/>
<circle cx="284.3" cy="618.6" r="0.55" fill="#f07a45"/>
<circle cx="285.6" cy="621.2" r="0.55" fill="#f07a45"/>
<circle cx="289.2" cy="621.6" r="0.55" fill="#f07a45"/>
<circle cx="280.4" cy="623.4" r="0.55" fill="#f07a45"/>
<circle cx="282.1" cy="623.8" r="0.55" fill="#f07a45"/>
<circle cx="283.9" cy="625" r="0.55" fill="#f07a45"/>
<circle cx="287.2" cy="625" r="0.55" fill="#f07a45"/>
<circle cx="285.6" cy="635.6" r="0.55" fill="#2aa0a0"/>
<circle cx="293.5" cy="635.2" r="0.55" fill="#2aa0a0"/>
<circle cx="296.6" cy="636.3" r="0.55" fill="#2aa0a0"/>
<circle cx="297.6" cy="632.6" r="0.55" fill="#2aa0a0"/>
<rect x="374.8" y="575.5" width="7.9" height="8.1" fill="#13979a"/>
<text x="386" y="582.4" font-size="9.6" fill="#1a1a1a">shCtrl</text>
<rect x="416.5" y="575.5" width="7.9" height="8.1" fill="#ef7d3e"/>
<text x="426.9" y="582.4" font-size="9.6" fill="#1a1a1a">shTLK2</text>
<line x1="391.6" y1="685.9" x2="391.6" y2="612.9" stroke="#3a3a3a" stroke-width="0.8"/>
<line x1="389.4" y1="685.9" x2="391.6" y2="685.9" stroke="#3a3a3a" stroke-width="0.8"/>
<text x="388.8" y="690.01" font-size="10.03" text-anchor="end" fill="#1a1a1a" textLength="5.12" lengthAdjust="spacingAndGlyphs">0</text>
<line x1="390.3" y1="678.6" x2="391.6" y2="678.6" stroke="#3a3a3a" stroke-width="0.8"/>
<line x1="389.4" y1="671.3" x2="391.6" y2="671.3" stroke="#3a3a3a" stroke-width="0.8"/>
<text x="388.8" y="675.41" font-size="10.03" text-anchor="end" fill="#1a1a1a" textLength="10.23" lengthAdjust="spacingAndGlyphs">20</text>
<line x1="390.3" y1="664" x2="391.6" y2="664" stroke="#3a3a3a" stroke-width="0.8"/>
<line x1="389.4" y1="656.7" x2="391.6" y2="656.7" stroke="#3a3a3a" stroke-width="0.8"/>
<text x="388.8" y="660.81" font-size="10.03" text-anchor="end" fill="#1a1a1a" textLength="10.23" lengthAdjust="spacingAndGlyphs">40</text>
<line x1="390.3" y1="649.4" x2="391.6" y2="649.4" stroke="#3a3a3a" stroke-width="0.8"/>
<line x1="389.4" y1="642.1" x2="391.6" y2="642.1" stroke="#3a3a3a" stroke-width="0.8"/>
<text x="388.8" y="646.21" font-size="10.03" text-anchor="end" fill="#1a1a1a" textLength="10.23" lengthAdjust="spacingAndGlyphs">60</text>
<line x1="390.3" y1="634.8" x2="391.6" y2="634.8" stroke="#3a3a3a" stroke-width="0.8"/>
<line x1="389.4" y1="627.5" x2="391.6" y2="627.5" stroke="#3a3a3a" stroke-width="0.8"/>
<text x="388.8" y="631.61" font-size="10.03" text-anchor="end" fill="#1a1a1a" textLength="10.23" lengthAdjust="spacingAndGlyphs">80</text>
<line x1="390.3" y1="620.2" x2="391.6" y2="620.2" stroke="#3a3a3a" stroke-width="0.8"/>
<line x1="389.4" y1="612.9" x2="391.6" y2="612.9" stroke="#3a3a3a" stroke-width="0.8"/>
<text x="388.8" y="617.01" font-size="10.03" text-anchor="end" fill="#1a1a1a" textLength="15.35" lengthAdjust="spacingAndGlyphs">100</text>
<line x1="391.6" y1="685.9" x2="481" y2="685.9" stroke="#3a3a3a" stroke-width="0.8"/>
<text transform="translate(372.27,649.2) rotate(-90)" font-size="10.2" text-anchor="middle" fill="#1a1a1a">Percentage (%)</text>
<text x="433.1" y="601" font-size="10.3" text-anchor="middle" fill="#1a1a1a">2D culture</text>
<line x1="392.1" y1="606.2" x2="476.5" y2="606.2" stroke="#555" stroke-width="0.9"/>
<rect x="399.1" y="613.63" width="13.6" height="53.65" fill="#ef7d3e"/>
<rect x="399.1" y="667.28" width="13.6" height="18.62" fill="#13979a"/>
<line x1="405.9" y1="685.9" x2="405.9" y2="688.1" stroke="#3a3a3a" stroke-width="0.8"/>
<text x="405.9" y="698.2" font-size="9.6" text-anchor="middle" fill="#1a1a1a">1</text>
<rect x="419.95" y="614" width="13.6" height="51.47" fill="#ef7d3e"/>
<rect x="419.95" y="665.46" width="13.6" height="20.44" fill="#13979a"/>
<line x1="426.75" y1="685.9" x2="426.75" y2="688.1" stroke="#3a3a3a" stroke-width="0.8"/>
<text x="426.75" y="698.2" font-size="9.6" text-anchor="middle" fill="#1a1a1a">3</text>
<rect x="440.55" y="614.36" width="13.6" height="50.37" fill="#ef7d3e"/>
<rect x="440.55" y="664.73" width="13.6" height="21.17" fill="#13979a"/>
<line x1="447.35" y1="685.9" x2="447.35" y2="688.1" stroke="#3a3a3a" stroke-width="0.8"/>
<text x="447.35" y="698.2" font-size="9.6" text-anchor="middle" fill="#1a1a1a">5</text>
<rect x="461" y="613.63" width="13.6" height="49.64" fill="#ef7d3e"/>
<rect x="461" y="663.27" width="13.6" height="22.63" fill="#13979a"/>
<line x1="467.8" y1="685.9" x2="467.8" y2="688.1" stroke="#3a3a3a" stroke-width="0.8"/>
<text x="467.8" y="698.2" font-size="9.6" text-anchor="middle" fill="#1a1a1a">7</text>
<text x="433" y="709" font-size="10.3" text-anchor="middle" fill="#1a1a1a">Time (day)</text>
<polyline points="405.9,631.88 426.75,634.07 447.35,636.26 467.8,636.99" fill="none" stroke="#111" stroke-width="0.6"/>
<polyline points="405.9,667.28 426.75,665.46 447.35,664.73 467.8,663.27" fill="none" stroke="#111" stroke-width="0.6"/>
<path d="M398.8 632.72L401.8 632.72L400.3 629.87Z" fill="none" stroke="#111" stroke-width="0.5"/>
<circle cx="400.3" cy="667.58" r="1.5" fill="none" stroke="#111" stroke-width="0.5"/>
<path d="M404.4 633.15L407.4 633.15L405.9 630.3Z" fill="none" stroke="#111" stroke-width="0.5"/>
<circle cx="405.9" cy="667.28" r="1.5" fill="none" stroke="#111" stroke-width="0.5"/>
<path d="M410 633.59L413 633.59L411.5 630.74Z" fill="none" stroke="#111" stroke-width="0.5"/>
<circle cx="411.5" cy="666.99" r="1.5" fill="none" stroke="#111" stroke-width="0.5"/>
<path d="M419.65 634.91L422.65 634.91L421.15 632.06Z" fill="none" stroke="#111" stroke-width="0.5"/>
<circle cx="421.15" cy="665.75" r="1.5" fill="none" stroke="#111" stroke-width="0.5"/>
<path d="M425.25 635.34L428.25 635.34L426.75 632.49Z" fill="none" stroke="#111" stroke-width="0.5"/>
<circle cx="426.75" cy="665.46" r="1.5" fill="none" stroke="#111" stroke-width="0.5"/>
<path d="M430.85 635.78L433.85 635.78L432.35 632.93Z" fill="none" stroke="#111" stroke-width="0.5"/>
<circle cx="432.35" cy="665.17" r="1.5" fill="none" stroke="#111" stroke-width="0.5"/>
<path d="M440.25 637.1L443.25 637.1L441.75 634.25Z" fill="none" stroke="#111" stroke-width="0.5"/>
<circle cx="441.75" cy="665.02" r="1.5" fill="none" stroke="#111" stroke-width="0.5"/>
<path d="M445.85 637.53L448.85 637.53L447.35 634.68Z" fill="none" stroke="#111" stroke-width="0.5"/>
<circle cx="447.35" cy="664.73" r="1.5" fill="none" stroke="#111" stroke-width="0.5"/>
<path d="M451.45 637.97L454.45 637.97L452.95 635.12Z" fill="none" stroke="#111" stroke-width="0.5"/>
<circle cx="452.95" cy="664.44" r="1.5" fill="none" stroke="#111" stroke-width="0.5"/>
<path d="M460.7 637.83L463.7 637.83L462.2 634.98Z" fill="none" stroke="#111" stroke-width="0.5"/>
<circle cx="462.2" cy="663.56" r="1.5" fill="none" stroke="#111" stroke-width="0.5"/>
<path d="M466.3 638.26L469.3 638.26L467.8 635.41Z" fill="none" stroke="#111" stroke-width="0.5"/>
<circle cx="467.8" cy="663.27" r="1.5" fill="none" stroke="#111" stroke-width="0.5"/>
<path d="M471.9 638.7L474.9 638.7L473.4 635.85Z" fill="none" stroke="#111" stroke-width="0.5"/>
<circle cx="473.4" cy="662.98" r="1.5" fill="none" stroke="#111" stroke-width="0.5"/>
<line x1="518.9" y1="685.8" x2="518.9" y2="613.2" stroke="#3a3a3a" stroke-width="0.8"/>
<line x1="516.7" y1="685.8" x2="518.9" y2="685.8" stroke="#3a3a3a" stroke-width="0.8"/>
<text x="516.1" y="689.91" font-size="10.03" text-anchor="end" fill="#1a1a1a" textLength="5.12" lengthAdjust="spacingAndGlyphs">0</text>
<line x1="517.6" y1="678.54" x2="518.9" y2="678.54" stroke="#3a3a3a" stroke-width="0.8"/>
<line x1="516.7" y1="671.28" x2="518.9" y2="671.28" stroke="#3a3a3a" stroke-width="0.8"/>
<text x="516.1" y="675.39" font-size="10.03" text-anchor="end" fill="#1a1a1a" textLength="10.23" lengthAdjust="spacingAndGlyphs">20</text>
<line x1="517.6" y1="664.02" x2="518.9" y2="664.02" stroke="#3a3a3a" stroke-width="0.8"/>
<line x1="516.7" y1="656.76" x2="518.9" y2="656.76" stroke="#3a3a3a" stroke-width="0.8"/>
<text x="516.1" y="660.87" font-size="10.03" text-anchor="end" fill="#1a1a1a" textLength="10.23" lengthAdjust="spacingAndGlyphs">40</text>
<line x1="517.6" y1="649.5" x2="518.9" y2="649.5" stroke="#3a3a3a" stroke-width="0.8"/>
<line x1="516.7" y1="642.24" x2="518.9" y2="642.24" stroke="#3a3a3a" stroke-width="0.8"/>
<text x="516.1" y="646.35" font-size="10.03" text-anchor="end" fill="#1a1a1a" textLength="10.23" lengthAdjust="spacingAndGlyphs">60</text>
<line x1="517.6" y1="634.98" x2="518.9" y2="634.98" stroke="#3a3a3a" stroke-width="0.8"/>
<line x1="516.7" y1="627.72" x2="518.9" y2="627.72" stroke="#3a3a3a" stroke-width="0.8"/>
<text x="516.1" y="631.83" font-size="10.03" text-anchor="end" fill="#1a1a1a" textLength="10.23" lengthAdjust="spacingAndGlyphs">80</text>
<line x1="517.6" y1="620.46" x2="518.9" y2="620.46" stroke="#3a3a3a" stroke-width="0.8"/>
<line x1="516.7" y1="613.2" x2="518.9" y2="613.2" stroke="#3a3a3a" stroke-width="0.8"/>
<text x="516.1" y="617.31" font-size="10.03" text-anchor="end" fill="#1a1a1a" textLength="15.35" lengthAdjust="spacingAndGlyphs">100</text>
<line x1="518.9" y1="685.8" x2="606.2" y2="685.8" stroke="#3a3a3a" stroke-width="0.8"/>
<text transform="translate(497.87,649.2) rotate(-90)" font-size="10.2" text-anchor="middle" fill="#1a1a1a">Percentage (%)</text>
<text x="559.7" y="601" font-size="10.3" text-anchor="middle" fill="#1a1a1a">3D sphere cluture</text>
<line x1="522.1" y1="606.2" x2="600" y2="606.2" stroke="#555" stroke-width="0.9"/>
<rect x="525.9" y="613.2" width="13.9" height="54.45" fill="#ef7d3e"/>
<rect x="525.9" y="667.65" width="13.9" height="18.15" fill="#13979a"/>
<line x1="532.85" y1="685.8" x2="532.85" y2="688" stroke="#3a3a3a" stroke-width="0.8"/>
<text x="532.85" y="698.2" font-size="9.6" text-anchor="middle" fill="#1a1a1a">1</text>
<rect x="546.4" y="613.2" width="13.9" height="48.64" fill="#ef7d3e"/>
<rect x="546.4" y="661.84" width="13.9" height="23.96" fill="#13979a"/>
<line x1="553.35" y1="685.8" x2="553.35" y2="688" stroke="#3a3a3a" stroke-width="0.8"/>
<text x="553.35" y="698.2" font-size="9.6" text-anchor="middle" fill="#1a1a1a">3</text>
<rect x="566.8" y="613.2" width="13.9" height="43.56" fill="#ef7d3e"/>
<rect x="566.8" y="656.76" width="13.9" height="29.04" fill="#13979a"/>
<line x1="573.75" y1="685.8" x2="573.75" y2="688" stroke="#3a3a3a" stroke-width="0.8"/>
<text x="573.75" y="698.2" font-size="9.6" text-anchor="middle" fill="#1a1a1a">5</text>
<rect x="587.2" y="613.2" width="13.9" height="29.77" fill="#ef7d3e"/>
<rect x="587.2" y="642.97" width="13.9" height="42.83" fill="#13979a"/>
<line x1="594.15" y1="685.8" x2="594.15" y2="688" stroke="#3a3a3a" stroke-width="0.8"/>
<text x="594.15" y="698.2" font-size="9.6" text-anchor="middle" fill="#1a1a1a">7</text>
<text x="560.7" y="709" font-size="10.3" text-anchor="middle" fill="#1a1a1a">Time (day)</text>
<polyline points="532.85,632.08 553.35,637.16 573.75,642.24 594.15,656.03" fill="none" stroke="#111" stroke-width="0.6"/>
<polyline points="532.85,667.65 553.35,661.84 573.75,656.76 594.15,642.97" fill="none" stroke="#111" stroke-width="0.6"/>
<path d="M525.75 632.92L528.75 632.92L527.25 630.07Z" fill="none" stroke="#111" stroke-width="0.5"/>
<circle cx="527.25" cy="667.94" r="1.5" fill="none" stroke="#111" stroke-width="0.5"/>
<path d="M531.35 633.35L534.35 633.35L532.85 630.5Z" fill="none" stroke="#111" stroke-width="0.5"/>
<circle cx="532.85" cy="667.65" r="1.5" fill="none" stroke="#111" stroke-width="0.5"/>
<path d="M536.95 633.79L539.95 633.79L538.45 630.94Z" fill="none" stroke="#111" stroke-width="0.5"/>
<circle cx="538.45" cy="667.36" r="1.5" fill="none" stroke="#111" stroke-width="0.5"/>
<path d="M546.25 638L549.25 638L547.75 635.15Z" fill="none" stroke="#111" stroke-width="0.5"/>
<circle cx="547.75" cy="662.13" r="1.5" fill="none" stroke="#111" stroke-width="0.5"/>
<path d="M551.85 638.43L554.85 638.43L553.35 635.58Z" fill="none" stroke="#111" stroke-width="0.5"/>
<circle cx="553.35" cy="661.84" r="1.5" fill="none" stroke="#111" stroke-width="0.5"/>
<path d="M557.45 638.87L560.45 638.87L558.95 636.02Z" fill="none" stroke="#111" stroke-width="0.5"/>
<circle cx="558.95" cy="661.55" r="1.5" fill="none" stroke="#111" stroke-width="0.5"/>
<path d="M566.65 643.08L569.65 643.08L568.15 640.23Z" fill="none" stroke="#111" stroke-width="0.5"/>
<circle cx="568.15" cy="657.05" r="1.5" fill="none" stroke="#111" stroke-width="0.5"/>
<path d="M572.25 643.51L575.25 643.51L573.75 640.66Z" fill="none" stroke="#111" stroke-width="0.5"/>
<circle cx="573.75" cy="656.76" r="1.5" fill="none" stroke="#111" stroke-width="0.5"/>
<path d="M577.85 643.95L580.85 643.95L579.35 641.1Z" fill="none" stroke="#111" stroke-width="0.5"/>
<circle cx="579.35" cy="656.47" r="1.5" fill="none" stroke="#111" stroke-width="0.5"/>
<path d="M587.05 656.87L590.05 656.87L588.55 654.02Z" fill="none" stroke="#111" stroke-width="0.5"/>
<circle cx="588.55" cy="643.26" r="1.5" fill="none" stroke="#111" stroke-width="0.5"/>
<path d="M592.65 657.31L595.65 657.31L594.15 654.46Z" fill="none" stroke="#111" stroke-width="0.5"/>
<circle cx="594.15" cy="642.97" r="1.5" fill="none" stroke="#111" stroke-width="0.5"/>
<path d="M598.25 657.74L601.25 657.74L599.75 654.89Z" fill="none" stroke="#111" stroke-width="0.5"/>
<circle cx="599.75" cy="642.68" r="1.5" fill="none" stroke="#111" stroke-width="0.5"/>
</svg>
</body></html>
